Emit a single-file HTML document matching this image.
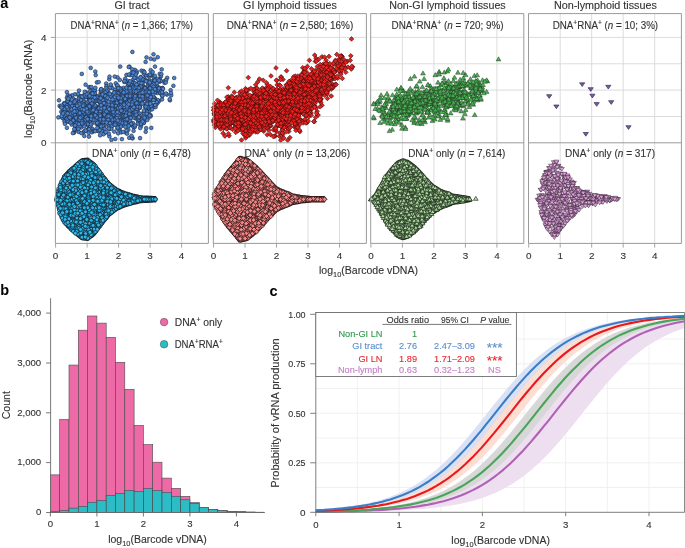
<!DOCTYPE html><html><head><meta charset="utf-8"><style>html,body{margin:0;padding:0;background:#fff;width:685px;height:548px;overflow:hidden}svg{display:block;will-change:transform}text{font-family:"Liberation Sans", sans-serif}.ca circle{r:1.85px}.cb circle{r:1.95px}</style></head><body><svg width="685" height="548" viewBox="0 0 685 548"><path d="M87.1 13.6V243.4M118.6 13.6V243.4M150.1 13.6V243.4M181.6 13.6V243.4M55.4 116.5H208.4M55.4 90.1H208.4M55.4 63.8H208.4M55.4 37.4H208.4" stroke="#d8d8d8" stroke-width="0.9" fill="none"/><path d="M245.0 13.6V243.4M276.5 13.6V243.4M308.0 13.6V243.4M339.5 13.6V243.4M213.3 116.5H366.4M213.3 90.1H366.4M213.3 63.8H366.4M213.3 37.4H366.4" stroke="#d8d8d8" stroke-width="0.9" fill="none"/><path d="M402.4 13.6V243.4M433.9 13.6V243.4M465.4 13.6V243.4M496.9 13.6V243.4M370.7 116.5H523.8M370.7 90.1H523.8M370.7 63.8H523.8M370.7 37.4H523.8" stroke="#d8d8d8" stroke-width="0.9" fill="none"/><path d="M560.2 13.6V243.4M591.7 13.6V243.4M623.2 13.6V243.4M654.7 13.6V243.4M528.5 116.5H681.4M528.5 90.1H681.4M528.5 63.8H681.4M528.5 37.4H681.4" stroke="#d8d8d8" stroke-width="0.9" fill="none"/><g class="ca" fill="#4b86d2" stroke="#1f2b44" stroke-width="0.65"><circle cx="80.2" cy="125.8" r="1.85"/><circle cx="113.6" cy="104.5" r="1.85"/><circle cx="122.5" cy="96.2" r="1.85"/><circle cx="66.9" cy="92.1" r="1.85"/><circle cx="82.2" cy="102.7" r="1.85"/><circle cx="152.3" cy="93.0" r="1.85"/><circle cx="73.3" cy="117.0" r="1.85"/><circle cx="80.3" cy="123.4" r="1.85"/><circle cx="155.3" cy="90.8" r="1.85"/><circle cx="124.3" cy="97.1" r="1.85"/><circle cx="102.4" cy="108.1" r="1.85"/><circle cx="114.7" cy="89.6" r="1.85"/><circle cx="127.8" cy="81.0" r="1.85"/><circle cx="94.3" cy="115.2" r="1.85"/><circle cx="81.2" cy="120.0" r="1.85"/><circle cx="138.6" cy="93.4" r="1.85"/><circle cx="128.5" cy="83.3" r="1.85"/><circle cx="114.8" cy="102.3" r="1.85"/><circle cx="141.1" cy="87.1" r="1.85"/><circle cx="118.0" cy="111.1" r="1.85"/><circle cx="162.5" cy="88.0" r="1.85"/><circle cx="87.9" cy="114.1" r="1.85"/><circle cx="118.4" cy="111.2" r="1.85"/><circle cx="112.3" cy="110.4" r="1.85"/><circle cx="101.0" cy="127.9" r="1.85"/><circle cx="121.6" cy="93.4" r="1.85"/><circle cx="90.7" cy="67.9" r="1.85"/><circle cx="139.9" cy="107.0" r="1.85"/><circle cx="145.6" cy="75.4" r="1.85"/><circle cx="80.2" cy="96.8" r="1.85"/><circle cx="110.9" cy="117.1" r="1.85"/><circle cx="94.4" cy="112.7" r="1.85"/><circle cx="74.9" cy="94.3" r="1.85"/><circle cx="148.5" cy="89.8" r="1.85"/><circle cx="107.6" cy="111.0" r="1.85"/><circle cx="82.2" cy="103.5" r="1.85"/><circle cx="128.7" cy="87.1" r="1.85"/><circle cx="87.7" cy="115.5" r="1.85"/><circle cx="149.1" cy="89.2" r="1.85"/><circle cx="89.1" cy="105.6" r="1.85"/><circle cx="67.7" cy="121.9" r="1.85"/><circle cx="87.5" cy="114.6" r="1.85"/><circle cx="100.4" cy="113.0" r="1.85"/><circle cx="111.0" cy="85.8" r="1.85"/><circle cx="149.6" cy="95.2" r="1.85"/><circle cx="130.8" cy="106.9" r="1.85"/><circle cx="99.8" cy="102.6" r="1.85"/><circle cx="64.4" cy="121.4" r="1.85"/><circle cx="83.5" cy="102.0" r="1.85"/><circle cx="171.2" cy="95.4" r="1.85"/><circle cx="110.2" cy="95.4" r="1.85"/><circle cx="130.2" cy="108.9" r="1.85"/><circle cx="71.1" cy="105.9" r="1.85"/><circle cx="67.8" cy="95.5" r="1.85"/><circle cx="143.7" cy="73.7" r="1.85"/><circle cx="121.3" cy="119.2" r="1.85"/><circle cx="97.1" cy="107.4" r="1.85"/><circle cx="97.9" cy="110.5" r="1.85"/><circle cx="75.6" cy="108.8" r="1.85"/><circle cx="84.8" cy="102.5" r="1.85"/><circle cx="66.1" cy="110.1" r="1.85"/><circle cx="143.1" cy="90.6" r="1.85"/><circle cx="110.8" cy="95.3" r="1.85"/><circle cx="80.0" cy="107.5" r="1.85"/><circle cx="134.4" cy="84.1" r="1.85"/><circle cx="87.0" cy="112.9" r="1.85"/><circle cx="72.2" cy="95.3" r="1.85"/><circle cx="122.2" cy="99.9" r="1.85"/><circle cx="148.4" cy="113.6" r="1.85"/><circle cx="66.5" cy="106.2" r="1.85"/><circle cx="140.1" cy="107.8" r="1.85"/><circle cx="86.5" cy="97.0" r="1.85"/><circle cx="76.1" cy="101.5" r="1.85"/><circle cx="64.6" cy="105.4" r="1.85"/><circle cx="95.8" cy="95.9" r="1.85"/><circle cx="133.4" cy="127.1" r="1.85"/><circle cx="113.1" cy="99.6" r="1.85"/><circle cx="144.3" cy="98.2" r="1.85"/><circle cx="89.1" cy="99.3" r="1.85"/><circle cx="97.7" cy="100.8" r="1.85"/><circle cx="92.8" cy="102.3" r="1.85"/><circle cx="161.7" cy="69.4" r="1.85"/><circle cx="154.2" cy="89.0" r="1.85"/><circle cx="99.9" cy="112.6" r="1.85"/><circle cx="108.2" cy="102.4" r="1.85"/><circle cx="97.6" cy="111.8" r="1.85"/><circle cx="135.1" cy="86.1" r="1.85"/><circle cx="68.9" cy="105.1" r="1.85"/><circle cx="72.9" cy="112.1" r="1.85"/><circle cx="105.4" cy="121.3" r="1.85"/><circle cx="91.6" cy="95.2" r="1.85"/><circle cx="143.6" cy="123.1" r="1.85"/><circle cx="134.6" cy="96.5" r="1.85"/><circle cx="117.7" cy="112.7" r="1.85"/><circle cx="127.7" cy="114.5" r="1.85"/><circle cx="130.4" cy="97.8" r="1.85"/><circle cx="138.0" cy="84.3" r="1.85"/><circle cx="152.2" cy="81.0" r="1.85"/><circle cx="82.4" cy="103.9" r="1.85"/><circle cx="124.6" cy="94.7" r="1.85"/><circle cx="81.8" cy="122.6" r="1.85"/><circle cx="108.8" cy="128.5" r="1.85"/><circle cx="138.5" cy="121.8" r="1.85"/><circle cx="148.3" cy="96.6" r="1.85"/><circle cx="136.2" cy="110.3" r="1.85"/><circle cx="68.1" cy="104.0" r="1.85"/><circle cx="101.5" cy="129.3" r="1.85"/><circle cx="83.8" cy="104.0" r="1.85"/><circle cx="174.2" cy="78.0" r="1.85"/><circle cx="81.8" cy="112.6" r="1.85"/><circle cx="91.5" cy="113.7" r="1.85"/><circle cx="101.3" cy="115.1" r="1.85"/><circle cx="72.0" cy="115.4" r="1.85"/><circle cx="145.9" cy="116.7" r="1.85"/><circle cx="125.5" cy="102.7" r="1.85"/><circle cx="83.5" cy="115.0" r="1.85"/><circle cx="113.6" cy="105.7" r="1.85"/><circle cx="74.4" cy="99.8" r="1.85"/><circle cx="123.3" cy="123.5" r="1.85"/><circle cx="90.4" cy="121.9" r="1.85"/><circle cx="68.6" cy="112.5" r="1.85"/><circle cx="78.7" cy="105.5" r="1.85"/><circle cx="118.5" cy="108.3" r="1.85"/><circle cx="125.6" cy="117.0" r="1.85"/><circle cx="98.5" cy="124.7" r="1.85"/><circle cx="126.1" cy="116.8" r="1.85"/><circle cx="100.9" cy="128.8" r="1.85"/><circle cx="80.4" cy="96.7" r="1.85"/><circle cx="97.7" cy="107.3" r="1.85"/><circle cx="104.6" cy="118.0" r="1.85"/><circle cx="150.4" cy="97.1" r="1.85"/><circle cx="78.7" cy="131.9" r="1.85"/><circle cx="75.3" cy="125.9" r="1.85"/><circle cx="119.0" cy="114.7" r="1.85"/><circle cx="158.1" cy="102.0" r="1.85"/><circle cx="149.7" cy="84.0" r="1.85"/><circle cx="131.0" cy="82.9" r="1.85"/><circle cx="72.8" cy="121.7" r="1.85"/><circle cx="140.2" cy="117.3" r="1.85"/><circle cx="129.6" cy="97.7" r="1.85"/><circle cx="81.8" cy="73.9" r="1.85"/><circle cx="110.7" cy="121.3" r="1.85"/><circle cx="70.3" cy="106.9" r="1.85"/><circle cx="139.8" cy="104.5" r="1.85"/><circle cx="132.6" cy="82.3" r="1.85"/><circle cx="140.1" cy="105.7" r="1.85"/><circle cx="136.3" cy="102.9" r="1.85"/><circle cx="93.6" cy="117.6" r="1.85"/><circle cx="138.8" cy="91.5" r="1.85"/><circle cx="92.0" cy="110.3" r="1.85"/><circle cx="81.2" cy="108.5" r="1.85"/><circle cx="104.2" cy="102.9" r="1.85"/><circle cx="113.5" cy="120.7" r="1.85"/><circle cx="95.2" cy="91.0" r="1.85"/><circle cx="122.9" cy="100.0" r="1.85"/><circle cx="122.6" cy="104.8" r="1.85"/><circle cx="91.1" cy="112.0" r="1.85"/><circle cx="124.3" cy="81.9" r="1.85"/><circle cx="101.3" cy="113.0" r="1.85"/><circle cx="134.0" cy="112.6" r="1.85"/><circle cx="95.6" cy="100.3" r="1.85"/><circle cx="139.6" cy="103.2" r="1.85"/><circle cx="106.4" cy="105.8" r="1.85"/><circle cx="118.3" cy="127.4" r="1.85"/><circle cx="128.7" cy="92.3" r="1.85"/><circle cx="115.3" cy="112.3" r="1.85"/><circle cx="92.7" cy="112.2" r="1.85"/><circle cx="162.0" cy="99.4" r="1.85"/><circle cx="76.5" cy="114.8" r="1.85"/><circle cx="98.5" cy="123.2" r="1.85"/><circle cx="118.0" cy="88.0" r="1.85"/><circle cx="66.9" cy="97.8" r="1.85"/><circle cx="83.0" cy="117.1" r="1.85"/><circle cx="139.6" cy="84.4" r="1.85"/><circle cx="138.3" cy="84.5" r="1.85"/><circle cx="125.6" cy="100.5" r="1.85"/><circle cx="149.1" cy="80.9" r="1.85"/><circle cx="135.8" cy="118.6" r="1.85"/><circle cx="96.3" cy="115.8" r="1.85"/><circle cx="126.3" cy="133.0" r="1.85"/><circle cx="99.9" cy="114.9" r="1.85"/><circle cx="135.3" cy="74.3" r="1.85"/><circle cx="103.7" cy="114.0" r="1.85"/><circle cx="82.8" cy="113.4" r="1.85"/><circle cx="146.5" cy="57.4" r="1.85"/><circle cx="130.2" cy="118.7" r="1.85"/><circle cx="134.9" cy="69.9" r="1.85"/><circle cx="118.9" cy="120.5" r="1.85"/><circle cx="138.2" cy="99.9" r="1.85"/><circle cx="109.2" cy="129.2" r="1.85"/><circle cx="119.4" cy="107.5" r="1.85"/><circle cx="72.3" cy="106.9" r="1.85"/><circle cx="118.5" cy="113.1" r="1.85"/><circle cx="140.9" cy="95.9" r="1.85"/><circle cx="131.5" cy="94.6" r="1.85"/><circle cx="140.0" cy="94.2" r="1.85"/><circle cx="113.4" cy="117.3" r="1.85"/><circle cx="146.9" cy="111.3" r="1.85"/><circle cx="77.9" cy="105.9" r="1.85"/><circle cx="146.4" cy="80.9" r="1.85"/><circle cx="102.6" cy="114.0" r="1.85"/><circle cx="75.9" cy="100.4" r="1.85"/><circle cx="124.0" cy="124.9" r="1.85"/><circle cx="109.8" cy="103.3" r="1.85"/><circle cx="107.5" cy="95.4" r="1.85"/><circle cx="144.2" cy="78.5" r="1.85"/><circle cx="81.2" cy="127.5" r="1.85"/><circle cx="123.8" cy="110.6" r="1.85"/><circle cx="106.2" cy="83.5" r="1.85"/><circle cx="116.2" cy="102.4" r="1.85"/><circle cx="113.7" cy="110.0" r="1.85"/><circle cx="80.8" cy="104.1" r="1.85"/><circle cx="114.7" cy="110.5" r="1.85"/><circle cx="145.1" cy="105.7" r="1.85"/><circle cx="84.6" cy="108.4" r="1.85"/><circle cx="63.0" cy="109.9" r="1.85"/><circle cx="72.9" cy="111.6" r="1.85"/><circle cx="110.2" cy="104.3" r="1.85"/><circle cx="160.6" cy="93.6" r="1.85"/><circle cx="69.5" cy="117.1" r="1.85"/><circle cx="166.9" cy="94.6" r="1.85"/><circle cx="116.8" cy="104.8" r="1.85"/><circle cx="79.2" cy="119.6" r="1.85"/><circle cx="106.7" cy="105.1" r="1.85"/><circle cx="88.2" cy="129.4" r="1.85"/><circle cx="132.2" cy="69.3" r="1.85"/><circle cx="117.3" cy="112.6" r="1.85"/><circle cx="95.3" cy="109.0" r="1.85"/><circle cx="92.5" cy="115.2" r="1.85"/><circle cx="145.5" cy="99.4" r="1.85"/><circle cx="136.8" cy="71.5" r="1.85"/><circle cx="108.2" cy="123.3" r="1.85"/><circle cx="105.5" cy="95.4" r="1.85"/><circle cx="134.3" cy="94.2" r="1.85"/><circle cx="159.7" cy="73.8" r="1.85"/><circle cx="74.5" cy="102.7" r="1.85"/><circle cx="83.4" cy="100.0" r="1.85"/><circle cx="101.8" cy="110.5" r="1.85"/><circle cx="114.4" cy="109.6" r="1.85"/><circle cx="73.4" cy="117.3" r="1.85"/><circle cx="71.0" cy="108.4" r="1.85"/><circle cx="89.3" cy="110.4" r="1.85"/><circle cx="103.8" cy="106.9" r="1.85"/><circle cx="134.4" cy="99.2" r="1.85"/><circle cx="123.2" cy="108.0" r="1.85"/><circle cx="67.0" cy="113.3" r="1.85"/><circle cx="69.7" cy="95.8" r="1.85"/><circle cx="109.6" cy="112.7" r="1.85"/><circle cx="146.3" cy="116.2" r="1.85"/><circle cx="150.6" cy="115.2" r="1.85"/><circle cx="102.0" cy="121.8" r="1.85"/><circle cx="147.6" cy="91.8" r="1.85"/><circle cx="152.5" cy="91.0" r="1.85"/><circle cx="105.6" cy="110.9" r="1.85"/><circle cx="135.0" cy="85.9" r="1.85"/><circle cx="102.0" cy="97.2" r="1.85"/><circle cx="82.8" cy="102.0" r="1.85"/><circle cx="120.2" cy="104.1" r="1.85"/><circle cx="75.3" cy="119.4" r="1.85"/><circle cx="127.9" cy="85.2" r="1.85"/><circle cx="140.5" cy="103.1" r="1.85"/><circle cx="150.7" cy="70.2" r="1.85"/><circle cx="109.2" cy="113.9" r="1.85"/><circle cx="78.9" cy="116.7" r="1.85"/><circle cx="149.2" cy="86.3" r="1.85"/><circle cx="145.9" cy="96.1" r="1.85"/><circle cx="159.0" cy="101.0" r="1.85"/><circle cx="121.8" cy="93.5" r="1.85"/><circle cx="128.7" cy="122.5" r="1.85"/><circle cx="102.7" cy="108.0" r="1.85"/><circle cx="85.8" cy="114.9" r="1.85"/><circle cx="95.7" cy="119.2" r="1.85"/><circle cx="132.8" cy="97.9" r="1.85"/><circle cx="98.6" cy="111.6" r="1.85"/><circle cx="130.3" cy="102.6" r="1.85"/><circle cx="113.9" cy="103.3" r="1.85"/><circle cx="109.3" cy="79.2" r="1.85"/><circle cx="159.0" cy="87.5" r="1.85"/><circle cx="84.1" cy="96.4" r="1.85"/><circle cx="112.6" cy="94.9" r="1.85"/><circle cx="83.5" cy="101.8" r="1.85"/><circle cx="153.6" cy="88.8" r="1.85"/><circle cx="112.7" cy="119.5" r="1.85"/><circle cx="99.2" cy="126.4" r="1.85"/><circle cx="84.3" cy="136.0" r="1.85"/><circle cx="121.9" cy="93.6" r="1.85"/><circle cx="105.0" cy="132.8" r="1.85"/><circle cx="80.0" cy="105.9" r="1.85"/><circle cx="67.5" cy="102.2" r="1.85"/><circle cx="104.3" cy="110.4" r="1.85"/><circle cx="120.9" cy="120.0" r="1.85"/><circle cx="115.3" cy="99.9" r="1.85"/><circle cx="148.9" cy="99.1" r="1.85"/><circle cx="150.2" cy="101.1" r="1.85"/><circle cx="153.5" cy="54.3" r="1.85"/><circle cx="139.7" cy="84.6" r="1.85"/><circle cx="111.8" cy="122.1" r="1.85"/><circle cx="115.8" cy="99.4" r="1.85"/><circle cx="104.8" cy="96.5" r="1.85"/><circle cx="105.0" cy="122.0" r="1.85"/><circle cx="69.1" cy="109.8" r="1.85"/><circle cx="139.6" cy="96.3" r="1.85"/><circle cx="91.7" cy="98.1" r="1.85"/><circle cx="67.0" cy="103.0" r="1.85"/><circle cx="110.8" cy="112.5" r="1.85"/><circle cx="132.6" cy="138.3" r="1.85"/><circle cx="108.2" cy="105.3" r="1.85"/><circle cx="101.9" cy="110.9" r="1.85"/><circle cx="127.4" cy="116.1" r="1.85"/><circle cx="83.8" cy="108.0" r="1.85"/><circle cx="62.9" cy="114.4" r="1.85"/><circle cx="121.7" cy="108.3" r="1.85"/><circle cx="116.3" cy="106.6" r="1.85"/><circle cx="145.4" cy="89.6" r="1.85"/><circle cx="106.4" cy="86.3" r="1.85"/><circle cx="138.5" cy="121.3" r="1.85"/><circle cx="64.6" cy="109.3" r="1.85"/><circle cx="66.6" cy="118.5" r="1.85"/><circle cx="122.2" cy="118.9" r="1.85"/><circle cx="89.9" cy="99.6" r="1.85"/><circle cx="72.9" cy="106.1" r="1.85"/><circle cx="80.1" cy="104.5" r="1.85"/><circle cx="102.9" cy="125.4" r="1.85"/><circle cx="99.6" cy="101.9" r="1.85"/><circle cx="119.2" cy="124.0" r="1.85"/><circle cx="147.6" cy="89.9" r="1.85"/><circle cx="102.1" cy="125.4" r="1.85"/><circle cx="85.9" cy="130.7" r="1.85"/><circle cx="120.5" cy="103.5" r="1.85"/><circle cx="59.6" cy="105.9" r="1.85"/><circle cx="103.7" cy="107.9" r="1.85"/><circle cx="97.9" cy="123.3" r="1.85"/><circle cx="104.0" cy="117.6" r="1.85"/><circle cx="70.6" cy="114.6" r="1.85"/><circle cx="118.4" cy="117.5" r="1.85"/><circle cx="124.5" cy="113.8" r="1.85"/><circle cx="135.3" cy="100.7" r="1.85"/><circle cx="156.9" cy="86.3" r="1.85"/><circle cx="101.1" cy="112.6" r="1.85"/><circle cx="127.2" cy="97.9" r="1.85"/><circle cx="108.7" cy="122.0" r="1.85"/><circle cx="88.9" cy="87.1" r="1.85"/><circle cx="147.7" cy="86.1" r="1.85"/><circle cx="135.0" cy="114.7" r="1.85"/><circle cx="154.5" cy="97.8" r="1.85"/><circle cx="141.5" cy="70.7" r="1.85"/><circle cx="150.9" cy="90.1" r="1.85"/><circle cx="80.1" cy="124.4" r="1.85"/><circle cx="64.1" cy="103.1" r="1.85"/><circle cx="87.3" cy="111.3" r="1.85"/><circle cx="106.1" cy="105.5" r="1.85"/><circle cx="130.0" cy="75.2" r="1.85"/><circle cx="108.4" cy="109.7" r="1.85"/><circle cx="114.9" cy="113.8" r="1.85"/><circle cx="136.3" cy="103.1" r="1.85"/><circle cx="73.3" cy="112.1" r="1.85"/><circle cx="129.1" cy="96.2" r="1.85"/><circle cx="70.2" cy="107.5" r="1.85"/><circle cx="91.9" cy="109.4" r="1.85"/><circle cx="133.0" cy="123.1" r="1.85"/><circle cx="129.6" cy="108.7" r="1.85"/><circle cx="105.5" cy="119.7" r="1.85"/><circle cx="95.9" cy="106.2" r="1.85"/><circle cx="142.1" cy="100.7" r="1.85"/><circle cx="94.2" cy="113.6" r="1.85"/><circle cx="67.3" cy="118.2" r="1.85"/><circle cx="91.8" cy="110.6" r="1.85"/><circle cx="65.4" cy="104.9" r="1.85"/><circle cx="140.6" cy="77.1" r="1.85"/><circle cx="79.5" cy="112.9" r="1.85"/><circle cx="160.5" cy="81.2" r="1.85"/><circle cx="88.7" cy="126.3" r="1.85"/><circle cx="96.9" cy="97.6" r="1.85"/><circle cx="121.1" cy="117.7" r="1.85"/><circle cx="97.1" cy="111.8" r="1.85"/><circle cx="103.3" cy="124.9" r="1.85"/><circle cx="77.4" cy="116.6" r="1.85"/><circle cx="104.1" cy="105.6" r="1.85"/><circle cx="66.2" cy="115.8" r="1.85"/><circle cx="89.7" cy="127.4" r="1.85"/><circle cx="150.0" cy="87.3" r="1.85"/><circle cx="94.7" cy="112.0" r="1.85"/><circle cx="93.9" cy="105.2" r="1.85"/><circle cx="129.2" cy="82.9" r="1.85"/><circle cx="147.1" cy="103.0" r="1.85"/><circle cx="96.0" cy="98.3" r="1.85"/><circle cx="103.0" cy="128.4" r="1.85"/><circle cx="132.3" cy="91.7" r="1.85"/><circle cx="139.0" cy="95.3" r="1.85"/><circle cx="123.6" cy="87.8" r="1.85"/><circle cx="85.4" cy="105.9" r="1.85"/><circle cx="85.6" cy="96.8" r="1.85"/><circle cx="136.0" cy="97.0" r="1.85"/><circle cx="131.6" cy="109.1" r="1.85"/><circle cx="148.5" cy="83.8" r="1.85"/><circle cx="137.9" cy="123.7" r="1.85"/><circle cx="106.9" cy="103.0" r="1.85"/><circle cx="80.7" cy="109.2" r="1.85"/><circle cx="147.9" cy="104.0" r="1.85"/><circle cx="130.6" cy="94.2" r="1.85"/><circle cx="120.3" cy="114.1" r="1.85"/><circle cx="129.5" cy="116.7" r="1.85"/><circle cx="103.8" cy="111.4" r="1.85"/><circle cx="100.1" cy="100.7" r="1.85"/><circle cx="120.2" cy="106.4" r="1.85"/><circle cx="112.2" cy="117.1" r="1.85"/><circle cx="131.8" cy="96.0" r="1.85"/><circle cx="153.4" cy="98.5" r="1.85"/><circle cx="143.8" cy="81.1" r="1.85"/><circle cx="104.0" cy="108.5" r="1.85"/><circle cx="102.7" cy="112.7" r="1.85"/><circle cx="152.2" cy="85.3" r="1.85"/><circle cx="104.6" cy="128.6" r="1.85"/><circle cx="139.7" cy="93.0" r="1.85"/><circle cx="76.1" cy="129.2" r="1.85"/><circle cx="109.5" cy="76.7" r="1.85"/><circle cx="115.1" cy="99.5" r="1.85"/><circle cx="140.4" cy="87.6" r="1.85"/><circle cx="146.6" cy="89.4" r="1.85"/><circle cx="82.7" cy="115.1" r="1.85"/><circle cx="123.9" cy="109.6" r="1.85"/><circle cx="124.9" cy="99.9" r="1.85"/><circle cx="82.6" cy="106.3" r="1.85"/><circle cx="142.6" cy="83.1" r="1.85"/><circle cx="118.3" cy="86.9" r="1.85"/><circle cx="157.8" cy="100.1" r="1.85"/><circle cx="86.1" cy="109.0" r="1.85"/><circle cx="115.9" cy="102.4" r="1.85"/><circle cx="98.4" cy="120.1" r="1.85"/><circle cx="126.0" cy="122.2" r="1.85"/><circle cx="123.1" cy="103.4" r="1.85"/><circle cx="114.8" cy="106.4" r="1.85"/><circle cx="98.5" cy="111.9" r="1.85"/><circle cx="114.0" cy="114.6" r="1.85"/><circle cx="102.6" cy="90.2" r="1.85"/><circle cx="147.9" cy="93.9" r="1.85"/><circle cx="110.4" cy="87.7" r="1.85"/><circle cx="111.6" cy="97.4" r="1.85"/><circle cx="92.8" cy="91.0" r="1.85"/><circle cx="92.4" cy="109.8" r="1.85"/><circle cx="156.3" cy="88.8" r="1.85"/><circle cx="97.6" cy="111.4" r="1.85"/><circle cx="145.7" cy="131.8" r="1.85"/><circle cx="121.9" cy="139.1" r="1.85"/><circle cx="162.3" cy="96.1" r="1.85"/><circle cx="83.9" cy="95.3" r="1.85"/><circle cx="154.3" cy="80.6" r="1.85"/><circle cx="137.3" cy="100.0" r="1.85"/><circle cx="119.6" cy="129.6" r="1.85"/><circle cx="131.8" cy="116.0" r="1.85"/><circle cx="133.0" cy="101.9" r="1.85"/><circle cx="109.2" cy="113.5" r="1.85"/><circle cx="125.4" cy="89.6" r="1.85"/><circle cx="90.1" cy="91.1" r="1.85"/><circle cx="65.4" cy="103.9" r="1.85"/><circle cx="129.0" cy="87.2" r="1.85"/><circle cx="111.5" cy="109.4" r="1.85"/><circle cx="149.5" cy="110.8" r="1.85"/><circle cx="93.3" cy="105.0" r="1.85"/><circle cx="141.2" cy="94.0" r="1.85"/><circle cx="164.5" cy="82.8" r="1.85"/><circle cx="148.7" cy="90.8" r="1.85"/><circle cx="158.3" cy="88.1" r="1.85"/><circle cx="83.4" cy="113.9" r="1.85"/><circle cx="84.0" cy="116.9" r="1.85"/><circle cx="90.1" cy="105.8" r="1.85"/><circle cx="101.7" cy="115.1" r="1.85"/><circle cx="78.7" cy="95.9" r="1.85"/><circle cx="82.5" cy="111.6" r="1.85"/><circle cx="64.7" cy="103.6" r="1.85"/><circle cx="153.0" cy="107.1" r="1.85"/><circle cx="101.7" cy="131.0" r="1.85"/><circle cx="124.6" cy="104.7" r="1.85"/><circle cx="109.8" cy="103.5" r="1.85"/><circle cx="134.8" cy="126.9" r="1.85"/><circle cx="140.2" cy="121.1" r="1.85"/><circle cx="103.6" cy="112.5" r="1.85"/><circle cx="116.8" cy="101.7" r="1.85"/><circle cx="76.6" cy="103.5" r="1.85"/><circle cx="95.1" cy="110.5" r="1.85"/><circle cx="89.6" cy="105.5" r="1.85"/><circle cx="97.1" cy="96.0" r="1.85"/><circle cx="98.5" cy="100.2" r="1.85"/><circle cx="120.2" cy="126.3" r="1.85"/><circle cx="99.2" cy="106.5" r="1.85"/><circle cx="98.7" cy="123.7" r="1.85"/><circle cx="142.4" cy="120.6" r="1.85"/><circle cx="63.2" cy="118.2" r="1.85"/><circle cx="61.0" cy="106.9" r="1.85"/><circle cx="71.5" cy="115.9" r="1.85"/><circle cx="145.4" cy="107.8" r="1.85"/><circle cx="125.3" cy="97.7" r="1.85"/><circle cx="133.4" cy="103.4" r="1.85"/><circle cx="157.0" cy="103.7" r="1.85"/><circle cx="89.1" cy="100.0" r="1.85"/><circle cx="151.3" cy="127.9" r="1.85"/><circle cx="91.4" cy="93.2" r="1.85"/><circle cx="115.3" cy="139.0" r="1.85"/><circle cx="129.4" cy="103.6" r="1.85"/><circle cx="139.4" cy="99.7" r="1.85"/><circle cx="91.9" cy="119.1" r="1.85"/><circle cx="111.7" cy="108.6" r="1.85"/><circle cx="69.8" cy="97.2" r="1.85"/><circle cx="95.3" cy="71.5" r="1.85"/><circle cx="162.5" cy="93.2" r="1.85"/><circle cx="149.5" cy="93.4" r="1.85"/><circle cx="120.8" cy="120.6" r="1.85"/><circle cx="138.5" cy="117.1" r="1.85"/><circle cx="149.1" cy="108.9" r="1.85"/><circle cx="99.1" cy="107.4" r="1.85"/><circle cx="162.3" cy="95.6" r="1.85"/><circle cx="109.3" cy="136.3" r="1.85"/><circle cx="83.4" cy="119.1" r="1.85"/><circle cx="116.3" cy="108.9" r="1.85"/><circle cx="121.8" cy="108.0" r="1.85"/><circle cx="130.4" cy="83.4" r="1.85"/><circle cx="128.5" cy="105.4" r="1.85"/><circle cx="69.1" cy="106.0" r="1.85"/><circle cx="125.7" cy="104.3" r="1.85"/><circle cx="151.5" cy="86.5" r="1.85"/><circle cx="128.4" cy="102.2" r="1.85"/><circle cx="160.8" cy="76.5" r="1.85"/><circle cx="114.7" cy="120.2" r="1.85"/><circle cx="140.6" cy="117.4" r="1.85"/><circle cx="81.4" cy="119.9" r="1.85"/><circle cx="148.4" cy="107.8" r="1.85"/><circle cx="108.2" cy="91.6" r="1.85"/><circle cx="146.5" cy="105.9" r="1.85"/><circle cx="98.2" cy="119.7" r="1.85"/><circle cx="124.5" cy="102.4" r="1.85"/><circle cx="143.7" cy="93.4" r="1.85"/><circle cx="132.0" cy="83.0" r="1.85"/><circle cx="124.1" cy="112.7" r="1.85"/><circle cx="159.7" cy="79.2" r="1.85"/><circle cx="75.5" cy="105.8" r="1.85"/><circle cx="77.2" cy="103.8" r="1.85"/><circle cx="118.2" cy="110.8" r="1.85"/><circle cx="156.4" cy="83.4" r="1.85"/><circle cx="129.9" cy="104.4" r="1.85"/><circle cx="97.2" cy="98.8" r="1.85"/><circle cx="77.8" cy="119.8" r="1.85"/><circle cx="109.2" cy="119.6" r="1.85"/><circle cx="112.0" cy="113.2" r="1.85"/><circle cx="111.0" cy="124.4" r="1.85"/><circle cx="124.0" cy="111.1" r="1.85"/><circle cx="94.0" cy="95.0" r="1.85"/><circle cx="146.8" cy="89.6" r="1.85"/><circle cx="95.4" cy="119.8" r="1.85"/><circle cx="77.7" cy="115.8" r="1.85"/><circle cx="100.6" cy="93.2" r="1.85"/><circle cx="153.4" cy="105.2" r="1.85"/><circle cx="83.4" cy="132.3" r="1.85"/><circle cx="94.5" cy="94.9" r="1.85"/><circle cx="152.1" cy="109.3" r="1.85"/><circle cx="100.6" cy="95.3" r="1.85"/><circle cx="143.4" cy="86.2" r="1.85"/><circle cx="69.7" cy="101.8" r="1.85"/><circle cx="147.7" cy="118.4" r="1.85"/><circle cx="90.9" cy="94.4" r="1.85"/><circle cx="85.6" cy="104.3" r="1.85"/><circle cx="134.7" cy="102.7" r="1.85"/><circle cx="166.0" cy="93.5" r="1.85"/><circle cx="157.3" cy="93.0" r="1.85"/><circle cx="135.6" cy="95.9" r="1.85"/><circle cx="150.6" cy="116.4" r="1.85"/><circle cx="164.8" cy="80.9" r="1.85"/><circle cx="118.3" cy="104.3" r="1.85"/><circle cx="81.9" cy="103.3" r="1.85"/><circle cx="144.0" cy="98.3" r="1.85"/><circle cx="104.7" cy="125.0" r="1.85"/><circle cx="97.5" cy="98.1" r="1.85"/><circle cx="113.8" cy="108.8" r="1.85"/><circle cx="68.0" cy="99.5" r="1.85"/><circle cx="64.8" cy="116.9" r="1.85"/><circle cx="93.3" cy="109.1" r="1.85"/><circle cx="122.0" cy="91.4" r="1.85"/><circle cx="135.3" cy="90.9" r="1.85"/><circle cx="156.9" cy="91.0" r="1.85"/><circle cx="141.3" cy="92.1" r="1.85"/><circle cx="154.2" cy="59.5" r="1.85"/><circle cx="125.5" cy="81.8" r="1.85"/><circle cx="134.0" cy="99.1" r="1.85"/><circle cx="121.3" cy="95.4" r="1.85"/><circle cx="74.7" cy="123.5" r="1.85"/><circle cx="72.2" cy="109.5" r="1.85"/><circle cx="136.2" cy="106.4" r="1.85"/><circle cx="87.7" cy="116.5" r="1.85"/><circle cx="138.8" cy="88.9" r="1.85"/><circle cx="110.6" cy="103.7" r="1.85"/><circle cx="61.6" cy="105.5" r="1.85"/><circle cx="119.0" cy="104.9" r="1.85"/><circle cx="108.8" cy="105.2" r="1.85"/><circle cx="73.8" cy="102.6" r="1.85"/><circle cx="93.0" cy="119.5" r="1.85"/><circle cx="97.0" cy="121.7" r="1.85"/><circle cx="100.3" cy="121.2" r="1.85"/><circle cx="131.6" cy="72.8" r="1.85"/><circle cx="84.2" cy="113.5" r="1.85"/><circle cx="108.8" cy="133.7" r="1.85"/><circle cx="123.0" cy="93.7" r="1.85"/><circle cx="155.0" cy="66.6" r="1.85"/><circle cx="78.7" cy="106.0" r="1.85"/><circle cx="74.4" cy="131.7" r="1.85"/><circle cx="86.7" cy="118.7" r="1.85"/><circle cx="89.4" cy="110.7" r="1.85"/><circle cx="83.8" cy="119.0" r="1.85"/><circle cx="74.0" cy="132.7" r="1.85"/><circle cx="88.4" cy="105.1" r="1.85"/><circle cx="89.6" cy="118.3" r="1.85"/><circle cx="111.9" cy="111.6" r="1.85"/><circle cx="126.5" cy="74.9" r="1.85"/><circle cx="101.9" cy="95.8" r="1.85"/><circle cx="84.3" cy="108.0" r="1.85"/><circle cx="76.3" cy="122.1" r="1.85"/><circle cx="93.2" cy="96.9" r="1.85"/><circle cx="84.6" cy="95.4" r="1.85"/><circle cx="112.1" cy="106.0" r="1.85"/><circle cx="145.9" cy="94.1" r="1.85"/><circle cx="132.4" cy="51.9" r="1.85"/><circle cx="87.8" cy="115.8" r="1.85"/><circle cx="68.2" cy="113.5" r="1.85"/><circle cx="72.9" cy="98.8" r="1.85"/><circle cx="108.1" cy="103.6" r="1.85"/><circle cx="101.9" cy="107.5" r="1.85"/><circle cx="129.5" cy="125.1" r="1.85"/><circle cx="75.0" cy="117.8" r="1.85"/><circle cx="92.4" cy="123.0" r="1.85"/><circle cx="129.8" cy="108.7" r="1.85"/><circle cx="119.6" cy="94.2" r="1.85"/><circle cx="115.2" cy="111.7" r="1.85"/><circle cx="149.1" cy="92.5" r="1.85"/><circle cx="78.5" cy="115.1" r="1.85"/><circle cx="87.0" cy="102.6" r="1.85"/><circle cx="119.4" cy="112.5" r="1.85"/><circle cx="119.4" cy="101.7" r="1.85"/><circle cx="162.2" cy="88.2" r="1.85"/><circle cx="161.4" cy="74.2" r="1.85"/><circle cx="121.3" cy="93.7" r="1.85"/><circle cx="136.1" cy="77.9" r="1.85"/><circle cx="130.8" cy="114.2" r="1.85"/><circle cx="80.6" cy="113.7" r="1.85"/><circle cx="122.6" cy="100.3" r="1.85"/><circle cx="96.9" cy="117.4" r="1.85"/><circle cx="101.5" cy="105.5" r="1.85"/><circle cx="83.1" cy="122.1" r="1.85"/><circle cx="62.0" cy="117.6" r="1.85"/><circle cx="144.3" cy="121.5" r="1.85"/><circle cx="132.5" cy="105.0" r="1.85"/><circle cx="135.5" cy="107.7" r="1.85"/><circle cx="95.4" cy="112.5" r="1.85"/><circle cx="106.6" cy="115.3" r="1.85"/><circle cx="85.1" cy="107.1" r="1.85"/><circle cx="122.6" cy="121.4" r="1.85"/><circle cx="143.1" cy="79.5" r="1.85"/><circle cx="137.8" cy="111.3" r="1.85"/><circle cx="153.1" cy="75.9" r="1.85"/><circle cx="93.0" cy="96.6" r="1.85"/><circle cx="131.1" cy="124.6" r="1.85"/><circle cx="80.0" cy="115.6" r="1.85"/><circle cx="116.9" cy="85.7" r="1.85"/><circle cx="78.1" cy="114.3" r="1.85"/><circle cx="117.2" cy="121.3" r="1.85"/><circle cx="117.4" cy="128.6" r="1.85"/><circle cx="100.5" cy="100.9" r="1.85"/><circle cx="100.7" cy="90.5" r="1.85"/><circle cx="132.0" cy="85.3" r="1.85"/><circle cx="112.1" cy="88.1" r="1.85"/><circle cx="105.7" cy="105.4" r="1.85"/><circle cx="78.4" cy="122.2" r="1.85"/><circle cx="94.9" cy="116.8" r="1.85"/><circle cx="143.8" cy="122.8" r="1.85"/><circle cx="160.0" cy="90.6" r="1.85"/><circle cx="102.7" cy="122.2" r="1.85"/><circle cx="145.9" cy="103.7" r="1.85"/><circle cx="146.2" cy="128.2" r="1.85"/><circle cx="89.2" cy="107.6" r="1.85"/><circle cx="94.1" cy="104.3" r="1.85"/><circle cx="130.7" cy="93.5" r="1.85"/><circle cx="96.9" cy="82.4" r="1.85"/><circle cx="156.5" cy="101.9" r="1.85"/><circle cx="102.0" cy="110.8" r="1.85"/><circle cx="133.6" cy="130.8" r="1.85"/><circle cx="131.7" cy="115.1" r="1.85"/><circle cx="88.7" cy="132.8" r="1.85"/><circle cx="145.5" cy="114.4" r="1.85"/><circle cx="98.9" cy="128.9" r="1.85"/><circle cx="78.1" cy="103.2" r="1.85"/><circle cx="70.5" cy="118.6" r="1.85"/><circle cx="109.5" cy="119.9" r="1.85"/><circle cx="125.2" cy="78.7" r="1.85"/><circle cx="93.9" cy="103.4" r="1.85"/><circle cx="143.3" cy="112.8" r="1.85"/><circle cx="93.6" cy="109.7" r="1.85"/><circle cx="143.8" cy="87.3" r="1.85"/><circle cx="67.7" cy="120.9" r="1.85"/><circle cx="93.2" cy="95.5" r="1.85"/><circle cx="83.4" cy="119.3" r="1.85"/><circle cx="109.2" cy="95.6" r="1.85"/><circle cx="100.8" cy="128.4" r="1.85"/><circle cx="104.6" cy="102.6" r="1.85"/><circle cx="144.1" cy="115.0" r="1.85"/><circle cx="120.6" cy="88.5" r="1.85"/><circle cx="122.8" cy="114.0" r="1.85"/><circle cx="104.2" cy="116.5" r="1.85"/><circle cx="140.4" cy="91.3" r="1.85"/><circle cx="113.9" cy="114.7" r="1.85"/><circle cx="135.0" cy="125.5" r="1.85"/><circle cx="150.5" cy="102.0" r="1.85"/><circle cx="123.4" cy="112.0" r="1.85"/><circle cx="108.1" cy="104.1" r="1.85"/><circle cx="93.2" cy="110.0" r="1.85"/><circle cx="150.3" cy="106.4" r="1.85"/><circle cx="136.6" cy="86.7" r="1.85"/><circle cx="139.6" cy="85.9" r="1.85"/><circle cx="89.5" cy="111.4" r="1.85"/><circle cx="108.2" cy="114.6" r="1.85"/><circle cx="147.2" cy="120.0" r="1.85"/><circle cx="91.7" cy="114.0" r="1.85"/><circle cx="140.9" cy="126.3" r="1.85"/><circle cx="117.1" cy="92.4" r="1.85"/><circle cx="89.2" cy="119.3" r="1.85"/><circle cx="102.9" cy="125.8" r="1.85"/><circle cx="74.1" cy="112.7" r="1.85"/><circle cx="128.7" cy="115.7" r="1.85"/><circle cx="133.4" cy="79.1" r="1.85"/><circle cx="66.9" cy="119.0" r="1.85"/><circle cx="96.5" cy="100.7" r="1.85"/><circle cx="137.0" cy="111.6" r="1.85"/><circle cx="87.5" cy="120.2" r="1.85"/><circle cx="116.9" cy="115.3" r="1.85"/><circle cx="140.2" cy="128.0" r="1.85"/><circle cx="119.8" cy="79.9" r="1.85"/><circle cx="79.5" cy="101.7" r="1.85"/><circle cx="149.9" cy="102.9" r="1.85"/><circle cx="135.1" cy="109.5" r="1.85"/><circle cx="119.3" cy="127.8" r="1.85"/><circle cx="99.2" cy="112.0" r="1.85"/><circle cx="120.8" cy="116.7" r="1.85"/><circle cx="104.3" cy="114.4" r="1.85"/><circle cx="79.1" cy="110.1" r="1.85"/><circle cx="79.5" cy="98.5" r="1.85"/><circle cx="69.7" cy="104.6" r="1.85"/><circle cx="84.5" cy="104.9" r="1.85"/><circle cx="91.7" cy="111.5" r="1.85"/><circle cx="125.4" cy="106.9" r="1.85"/><circle cx="120.6" cy="123.6" r="1.85"/><circle cx="121.5" cy="101.4" r="1.85"/><circle cx="141.6" cy="101.1" r="1.85"/><circle cx="76.4" cy="117.3" r="1.85"/><circle cx="104.1" cy="112.0" r="1.85"/><circle cx="74.4" cy="118.9" r="1.85"/><circle cx="106.7" cy="114.0" r="1.85"/><circle cx="74.4" cy="120.3" r="1.85"/><circle cx="72.8" cy="113.4" r="1.85"/><circle cx="77.4" cy="104.0" r="1.85"/><circle cx="104.2" cy="101.8" r="1.85"/><circle cx="136.5" cy="73.2" r="1.85"/><circle cx="94.8" cy="95.0" r="1.85"/><circle cx="134.6" cy="112.6" r="1.85"/><circle cx="90.6" cy="109.5" r="1.85"/><circle cx="95.3" cy="97.3" r="1.85"/><circle cx="111.2" cy="117.2" r="1.85"/><circle cx="73.9" cy="112.3" r="1.85"/><circle cx="109.3" cy="123.3" r="1.85"/><circle cx="120.9" cy="126.6" r="1.85"/><circle cx="141.8" cy="119.4" r="1.85"/><circle cx="71.4" cy="115.7" r="1.85"/><circle cx="139.7" cy="81.6" r="1.85"/><circle cx="119.7" cy="116.2" r="1.85"/><circle cx="120.5" cy="120.6" r="1.85"/><circle cx="70.6" cy="112.3" r="1.85"/><circle cx="146.8" cy="111.6" r="1.85"/><circle cx="94.4" cy="101.6" r="1.85"/><circle cx="117.7" cy="92.0" r="1.85"/><circle cx="117.1" cy="113.3" r="1.85"/><circle cx="150.0" cy="83.4" r="1.85"/><circle cx="122.5" cy="107.7" r="1.85"/><circle cx="167.2" cy="77.8" r="1.85"/><circle cx="90.4" cy="87.5" r="1.85"/><circle cx="127.7" cy="102.0" r="1.85"/><circle cx="120.4" cy="101.0" r="1.85"/><circle cx="114.9" cy="113.0" r="1.85"/><circle cx="124.8" cy="106.3" r="1.85"/><circle cx="118.1" cy="133.3" r="1.85"/><circle cx="99.6" cy="101.1" r="1.85"/><circle cx="126.0" cy="92.8" r="1.85"/><circle cx="74.9" cy="129.5" r="1.85"/><circle cx="111.9" cy="111.2" r="1.85"/><circle cx="109.6" cy="104.4" r="1.85"/><circle cx="88.7" cy="101.5" r="1.85"/><circle cx="119.6" cy="93.7" r="1.85"/><circle cx="128.4" cy="129.7" r="1.85"/><circle cx="79.8" cy="116.0" r="1.85"/><circle cx="96.1" cy="115.6" r="1.85"/><circle cx="72.2" cy="106.0" r="1.85"/><circle cx="122.1" cy="121.7" r="1.85"/><circle cx="74.7" cy="101.7" r="1.85"/><circle cx="90.2" cy="125.5" r="1.85"/><circle cx="109.2" cy="126.1" r="1.85"/><circle cx="109.5" cy="102.1" r="1.85"/><circle cx="67.7" cy="115.4" r="1.85"/><circle cx="155.2" cy="105.3" r="1.85"/><circle cx="90.3" cy="126.7" r="1.85"/><circle cx="123.2" cy="104.3" r="1.85"/><circle cx="89.5" cy="115.5" r="1.85"/><circle cx="122.0" cy="94.9" r="1.85"/><circle cx="101.0" cy="104.5" r="1.85"/><circle cx="98.0" cy="112.7" r="1.85"/><circle cx="111.5" cy="127.6" r="1.85"/><circle cx="121.2" cy="132.4" r="1.85"/><circle cx="122.2" cy="95.9" r="1.85"/><circle cx="130.0" cy="120.5" r="1.85"/><circle cx="93.7" cy="103.7" r="1.85"/><circle cx="75.9" cy="108.8" r="1.85"/><circle cx="92.3" cy="99.8" r="1.85"/><circle cx="98.7" cy="82.1" r="1.85"/><circle cx="123.0" cy="103.9" r="1.85"/><circle cx="106.3" cy="88.2" r="1.85"/><circle cx="97.4" cy="109.6" r="1.85"/><circle cx="76.7" cy="116.6" r="1.85"/><circle cx="122.1" cy="104.3" r="1.85"/><circle cx="78.1" cy="94.0" r="1.85"/><circle cx="115.2" cy="124.9" r="1.85"/><circle cx="130.0" cy="99.5" r="1.85"/><circle cx="124.4" cy="111.6" r="1.85"/><circle cx="83.5" cy="104.6" r="1.85"/><circle cx="101.2" cy="89.3" r="1.85"/><circle cx="154.2" cy="76.7" r="1.85"/><circle cx="75.8" cy="108.4" r="1.85"/><circle cx="129.2" cy="117.5" r="1.85"/><circle cx="108.2" cy="93.7" r="1.85"/><circle cx="123.5" cy="116.0" r="1.85"/><circle cx="104.5" cy="111.9" r="1.85"/><circle cx="79.6" cy="126.4" r="1.85"/><circle cx="119.1" cy="98.6" r="1.85"/><circle cx="61.3" cy="111.8" r="1.85"/><circle cx="145.3" cy="89.4" r="1.85"/><circle cx="139.6" cy="113.6" r="1.85"/><circle cx="102.8" cy="106.9" r="1.85"/><circle cx="116.9" cy="102.8" r="1.85"/><circle cx="116.1" cy="106.1" r="1.85"/><circle cx="162.1" cy="89.8" r="1.85"/><circle cx="69.5" cy="107.9" r="1.85"/><circle cx="96.2" cy="113.4" r="1.85"/><circle cx="105.7" cy="110.2" r="1.85"/><circle cx="138.6" cy="119.8" r="1.85"/><circle cx="133.6" cy="86.0" r="1.85"/><circle cx="107.1" cy="107.4" r="1.85"/><circle cx="63.0" cy="112.0" r="1.85"/><circle cx="126.5" cy="91.5" r="1.85"/><circle cx="105.6" cy="105.0" r="1.85"/><circle cx="78.9" cy="98.4" r="1.85"/><circle cx="125.0" cy="107.7" r="1.85"/><circle cx="108.9" cy="109.9" r="1.85"/><circle cx="96.9" cy="123.8" r="1.85"/><circle cx="93.7" cy="107.7" r="1.85"/><circle cx="115.5" cy="109.8" r="1.85"/><circle cx="91.8" cy="102.9" r="1.85"/><circle cx="104.5" cy="108.8" r="1.85"/><circle cx="154.3" cy="81.0" r="1.85"/><circle cx="111.8" cy="107.3" r="1.85"/><circle cx="92.4" cy="116.2" r="1.85"/><circle cx="115.5" cy="123.5" r="1.85"/><circle cx="150.9" cy="84.5" r="1.85"/><circle cx="145.5" cy="80.3" r="1.85"/><circle cx="129.1" cy="110.1" r="1.85"/><circle cx="148.8" cy="96.6" r="1.85"/><circle cx="135.9" cy="100.7" r="1.85"/><circle cx="129.3" cy="111.9" r="1.85"/><circle cx="107.5" cy="107.8" r="1.85"/><circle cx="82.4" cy="112.1" r="1.85"/><circle cx="133.8" cy="101.4" r="1.85"/><circle cx="125.3" cy="124.2" r="1.85"/><circle cx="159.0" cy="90.6" r="1.85"/><circle cx="98.2" cy="122.7" r="1.85"/><circle cx="146.5" cy="95.2" r="1.85"/><circle cx="89.2" cy="112.4" r="1.85"/><circle cx="155.0" cy="99.1" r="1.85"/><circle cx="170.6" cy="90.2" r="1.85"/><circle cx="70.0" cy="113.8" r="1.85"/><circle cx="98.5" cy="112.4" r="1.85"/><circle cx="173.4" cy="85.8" r="1.85"/><circle cx="159.1" cy="88.4" r="1.85"/><circle cx="128.5" cy="118.3" r="1.85"/><circle cx="80.8" cy="119.6" r="1.85"/><circle cx="61.5" cy="107.6" r="1.85"/><circle cx="92.0" cy="132.3" r="1.85"/><circle cx="154.7" cy="91.5" r="1.85"/><circle cx="140.1" cy="138.1" r="1.85"/><circle cx="107.5" cy="103.5" r="1.85"/><circle cx="136.3" cy="102.3" r="1.85"/><circle cx="149.2" cy="77.0" r="1.85"/><circle cx="96.4" cy="109.9" r="1.85"/><circle cx="146.3" cy="97.9" r="1.85"/><circle cx="93.8" cy="97.3" r="1.85"/><circle cx="98.9" cy="108.4" r="1.85"/><circle cx="69.6" cy="117.2" r="1.85"/><circle cx="83.5" cy="122.8" r="1.85"/><circle cx="118.1" cy="93.2" r="1.85"/><circle cx="65.9" cy="117.4" r="1.85"/><circle cx="117.7" cy="127.6" r="1.85"/><circle cx="84.5" cy="131.1" r="1.85"/><circle cx="135.2" cy="117.7" r="1.85"/><circle cx="80.1" cy="121.1" r="1.85"/><circle cx="88.1" cy="124.0" r="1.85"/><circle cx="93.7" cy="108.7" r="1.85"/><circle cx="120.9" cy="91.0" r="1.85"/><circle cx="140.4" cy="89.1" r="1.85"/><circle cx="135.6" cy="111.9" r="1.85"/><circle cx="134.6" cy="100.2" r="1.85"/><circle cx="129.4" cy="115.1" r="1.85"/><circle cx="117.5" cy="96.0" r="1.85"/><circle cx="100.1" cy="114.1" r="1.85"/><circle cx="85.5" cy="119.5" r="1.85"/><circle cx="145.2" cy="97.0" r="1.85"/><circle cx="105.8" cy="107.8" r="1.85"/><circle cx="126.7" cy="117.7" r="1.85"/><circle cx="73.0" cy="112.6" r="1.85"/><circle cx="101.7" cy="99.7" r="1.85"/><circle cx="77.0" cy="111.5" r="1.85"/><circle cx="101.1" cy="90.6" r="1.85"/><circle cx="133.9" cy="101.8" r="1.85"/><circle cx="100.0" cy="116.6" r="1.85"/><circle cx="129.5" cy="66.7" r="1.85"/><circle cx="79.6" cy="112.3" r="1.85"/><circle cx="103.7" cy="102.7" r="1.85"/><circle cx="105.9" cy="114.8" r="1.85"/><circle cx="114.5" cy="97.3" r="1.85"/><circle cx="90.1" cy="97.2" r="1.85"/><circle cx="130.9" cy="91.4" r="1.85"/><circle cx="147.0" cy="81.6" r="1.85"/><circle cx="140.8" cy="93.2" r="1.85"/><circle cx="67.3" cy="101.3" r="1.85"/><circle cx="112.7" cy="119.8" r="1.85"/><circle cx="100.2" cy="111.6" r="1.85"/><circle cx="120.0" cy="121.7" r="1.85"/><circle cx="74.9" cy="115.1" r="1.85"/><circle cx="133.6" cy="117.5" r="1.85"/><circle cx="106.5" cy="98.1" r="1.85"/><circle cx="154.6" cy="98.7" r="1.85"/><circle cx="64.9" cy="116.0" r="1.85"/><circle cx="106.6" cy="111.3" r="1.85"/><circle cx="112.6" cy="94.3" r="1.85"/><circle cx="142.4" cy="103.6" r="1.85"/><circle cx="135.9" cy="101.9" r="1.85"/><circle cx="85.7" cy="109.4" r="1.85"/><circle cx="97.1" cy="113.0" r="1.85"/><circle cx="134.1" cy="91.4" r="1.85"/><circle cx="106.8" cy="90.9" r="1.85"/><circle cx="93.2" cy="96.1" r="1.85"/><circle cx="152.7" cy="72.0" r="1.85"/><circle cx="143.4" cy="91.6" r="1.85"/><circle cx="101.2" cy="98.7" r="1.85"/><circle cx="118.0" cy="108.2" r="1.85"/><circle cx="152.5" cy="85.4" r="1.85"/><circle cx="89.0" cy="136.6" r="1.85"/><circle cx="149.9" cy="98.8" r="1.85"/><circle cx="147.3" cy="107.0" r="1.85"/><circle cx="133.3" cy="109.7" r="1.85"/><circle cx="129.8" cy="110.6" r="1.85"/><circle cx="129.7" cy="87.7" r="1.85"/><circle cx="117.5" cy="77.4" r="1.85"/><circle cx="120.8" cy="101.4" r="1.85"/><circle cx="87.2" cy="123.1" r="1.85"/><circle cx="119.1" cy="117.1" r="1.85"/><circle cx="128.7" cy="67.0" r="1.85"/><circle cx="112.5" cy="99.5" r="1.85"/><circle cx="129.2" cy="137.8" r="1.85"/><circle cx="110.1" cy="87.4" r="1.85"/><circle cx="140.0" cy="93.3" r="1.85"/><circle cx="132.8" cy="75.2" r="1.85"/><circle cx="75.6" cy="117.5" r="1.85"/><circle cx="137.0" cy="98.9" r="1.85"/><circle cx="95.1" cy="105.4" r="1.85"/><circle cx="74.7" cy="118.5" r="1.85"/><circle cx="79.4" cy="105.1" r="1.85"/><circle cx="98.5" cy="131.2" r="1.85"/><circle cx="115.8" cy="83.3" r="1.85"/><circle cx="99.0" cy="108.3" r="1.85"/><circle cx="87.8" cy="124.1" r="1.85"/><circle cx="137.0" cy="108.9" r="1.85"/><circle cx="102.8" cy="100.3" r="1.85"/><circle cx="146.2" cy="81.3" r="1.85"/><circle cx="91.6" cy="96.0" r="1.85"/><circle cx="130.1" cy="125.2" r="1.85"/><circle cx="101.4" cy="96.5" r="1.85"/><circle cx="144.0" cy="119.1" r="1.85"/><circle cx="126.4" cy="113.1" r="1.85"/><circle cx="129.2" cy="101.4" r="1.85"/><circle cx="76.1" cy="123.1" r="1.85"/><circle cx="135.5" cy="103.4" r="1.85"/><circle cx="101.1" cy="89.1" r="1.85"/><circle cx="134.5" cy="100.2" r="1.85"/><circle cx="143.6" cy="71.1" r="1.85"/><circle cx="79.5" cy="108.2" r="1.85"/><circle cx="64.0" cy="116.0" r="1.85"/><circle cx="136.0" cy="92.9" r="1.85"/><circle cx="159.2" cy="81.7" r="1.85"/><circle cx="148.9" cy="75.2" r="1.85"/><circle cx="108.1" cy="107.3" r="1.85"/><circle cx="142.6" cy="97.6" r="1.85"/><circle cx="65.8" cy="114.5" r="1.85"/><circle cx="71.7" cy="124.6" r="1.85"/><circle cx="120.8" cy="90.4" r="1.85"/><circle cx="116.1" cy="92.5" r="1.85"/><circle cx="141.8" cy="99.3" r="1.85"/><circle cx="90.6" cy="111.1" r="1.85"/><circle cx="110.5" cy="95.8" r="1.85"/><circle cx="166.1" cy="80.2" r="1.85"/><circle cx="96.6" cy="123.7" r="1.85"/><circle cx="105.4" cy="92.5" r="1.85"/><circle cx="123.0" cy="93.3" r="1.85"/><circle cx="170.0" cy="100.3" r="1.85"/><circle cx="85.8" cy="130.6" r="1.85"/><circle cx="130.2" cy="114.0" r="1.85"/><circle cx="106.3" cy="118.1" r="1.85"/><circle cx="105.1" cy="103.3" r="1.85"/><circle cx="92.6" cy="128.9" r="1.85"/><circle cx="110.7" cy="84.5" r="1.85"/><circle cx="120.2" cy="88.6" r="1.85"/><circle cx="104.4" cy="95.0" r="1.85"/><circle cx="114.2" cy="131.6" r="1.85"/><circle cx="125.5" cy="98.3" r="1.85"/><circle cx="144.2" cy="113.2" r="1.85"/><circle cx="119.0" cy="106.4" r="1.85"/><circle cx="103.5" cy="134.3" r="1.85"/><circle cx="157.7" cy="79.0" r="1.85"/><circle cx="84.8" cy="125.0" r="1.85"/><circle cx="69.7" cy="110.1" r="1.85"/><circle cx="149.8" cy="74.6" r="1.85"/><circle cx="93.4" cy="130.8" r="1.85"/><circle cx="82.6" cy="117.1" r="1.85"/><circle cx="103.8" cy="108.0" r="1.85"/><circle cx="100.1" cy="115.2" r="1.85"/><circle cx="101.1" cy="126.3" r="1.85"/><circle cx="144.1" cy="98.5" r="1.85"/><circle cx="95.6" cy="111.4" r="1.85"/><circle cx="80.6" cy="107.1" r="1.85"/><circle cx="88.9" cy="106.4" r="1.85"/><circle cx="155.6" cy="107.1" r="1.85"/><circle cx="107.5" cy="100.5" r="1.85"/><circle cx="101.6" cy="108.4" r="1.85"/><circle cx="137.7" cy="103.7" r="1.85"/><circle cx="153.4" cy="97.0" r="1.85"/><circle cx="114.6" cy="92.5" r="1.85"/><circle cx="140.9" cy="123.8" r="1.85"/><circle cx="93.3" cy="99.4" r="1.85"/><circle cx="100.8" cy="102.6" r="1.85"/><circle cx="120.3" cy="109.2" r="1.85"/><circle cx="90.8" cy="116.8" r="1.85"/><circle cx="94.2" cy="131.0" r="1.85"/><circle cx="86.3" cy="92.4" r="1.85"/><circle cx="93.1" cy="118.8" r="1.85"/><circle cx="143.1" cy="90.8" r="1.85"/><circle cx="139.2" cy="83.0" r="1.85"/><circle cx="78.5" cy="116.8" r="1.85"/><circle cx="100.6" cy="98.3" r="1.85"/><circle cx="133.0" cy="106.1" r="1.85"/><circle cx="144.9" cy="87.6" r="1.85"/><circle cx="118.9" cy="113.1" r="1.85"/><circle cx="133.3" cy="87.2" r="1.85"/><circle cx="90.9" cy="95.1" r="1.85"/><circle cx="138.1" cy="118.2" r="1.85"/><circle cx="141.5" cy="83.3" r="1.85"/><circle cx="105.7" cy="104.1" r="1.85"/><circle cx="90.8" cy="95.1" r="1.85"/><circle cx="67.7" cy="101.0" r="1.85"/><circle cx="124.9" cy="116.2" r="1.85"/><circle cx="125.2" cy="109.5" r="1.85"/><circle cx="59.0" cy="100.3" r="1.85"/><circle cx="115.5" cy="119.3" r="1.85"/><circle cx="153.8" cy="77.3" r="1.85"/><circle cx="66.9" cy="105.5" r="1.85"/><circle cx="81.1" cy="100.0" r="1.85"/><circle cx="71.6" cy="109.3" r="1.85"/><circle cx="108.2" cy="111.3" r="1.85"/><circle cx="103.7" cy="122.0" r="1.85"/><circle cx="145.8" cy="106.5" r="1.85"/><circle cx="72.8" cy="133.1" r="1.85"/><circle cx="87.5" cy="113.3" r="1.85"/><circle cx="153.7" cy="86.8" r="1.85"/><circle cx="64.9" cy="123.8" r="1.85"/><circle cx="92.9" cy="104.1" r="1.85"/><circle cx="104.6" cy="115.3" r="1.85"/><circle cx="58.4" cy="117.4" r="1.85"/><circle cx="95.3" cy="120.2" r="1.85"/><circle cx="122.6" cy="123.1" r="1.85"/><circle cx="123.7" cy="92.4" r="1.85"/><circle cx="123.1" cy="131.9" r="1.85"/><circle cx="126.8" cy="106.6" r="1.85"/><circle cx="123.6" cy="111.5" r="1.85"/><circle cx="67.9" cy="109.0" r="1.85"/><circle cx="127.1" cy="133.6" r="1.85"/><circle cx="121.0" cy="105.2" r="1.85"/><circle cx="89.1" cy="107.0" r="1.85"/><circle cx="106.7" cy="95.5" r="1.85"/><circle cx="90.9" cy="116.1" r="1.85"/><circle cx="145.6" cy="61.9" r="1.85"/><circle cx="94.6" cy="93.3" r="1.85"/><circle cx="83.8" cy="111.1" r="1.85"/><circle cx="139.4" cy="116.0" r="1.85"/><circle cx="136.3" cy="104.6" r="1.85"/><circle cx="144.2" cy="98.5" r="1.85"/><circle cx="129.1" cy="83.5" r="1.85"/><circle cx="106.5" cy="118.3" r="1.85"/><circle cx="111.6" cy="124.7" r="1.85"/><circle cx="118.5" cy="109.6" r="1.85"/><circle cx="122.0" cy="106.1" r="1.85"/><circle cx="154.8" cy="80.5" r="1.85"/><circle cx="93.4" cy="119.9" r="1.85"/><circle cx="136.9" cy="108.8" r="1.85"/><circle cx="64.4" cy="112.5" r="1.85"/><circle cx="86.5" cy="93.9" r="1.85"/><circle cx="154.7" cy="92.6" r="1.85"/><circle cx="92.1" cy="100.6" r="1.85"/><circle cx="114.7" cy="76.6" r="1.85"/><circle cx="150.8" cy="97.2" r="1.85"/><circle cx="127.1" cy="108.1" r="1.85"/><circle cx="112.7" cy="108.3" r="1.85"/><circle cx="131.2" cy="96.2" r="1.85"/><circle cx="161.7" cy="91.1" r="1.85"/><circle cx="154.2" cy="100.0" r="1.85"/><circle cx="85.6" cy="84.7" r="1.85"/><circle cx="81.4" cy="133.1" r="1.85"/><circle cx="95.3" cy="131.1" r="1.85"/><circle cx="81.9" cy="118.3" r="1.85"/><circle cx="136.6" cy="103.2" r="1.85"/><circle cx="142.6" cy="98.7" r="1.85"/><circle cx="81.5" cy="114.0" r="1.85"/><circle cx="73.7" cy="122.2" r="1.85"/><circle cx="98.4" cy="130.9" r="1.85"/><circle cx="129.9" cy="96.8" r="1.85"/><circle cx="137.1" cy="91.6" r="1.85"/><circle cx="110.3" cy="109.7" r="1.85"/><circle cx="125.7" cy="115.6" r="1.85"/><circle cx="151.0" cy="90.2" r="1.85"/><circle cx="146.8" cy="113.8" r="1.85"/><circle cx="79.0" cy="90.6" r="1.85"/><circle cx="132.2" cy="109.2" r="1.85"/><circle cx="137.7" cy="87.3" r="1.85"/><circle cx="149.7" cy="115.5" r="1.85"/><circle cx="106.6" cy="124.2" r="1.85"/><circle cx="83.1" cy="105.7" r="1.85"/><circle cx="111.4" cy="139.9" r="1.85"/><circle cx="102.5" cy="103.4" r="1.85"/><circle cx="104.5" cy="109.8" r="1.85"/><circle cx="139.9" cy="96.0" r="1.85"/><circle cx="126.9" cy="96.0" r="1.85"/><circle cx="129.3" cy="113.8" r="1.85"/><circle cx="126.9" cy="103.4" r="1.85"/><circle cx="81.6" cy="118.8" r="1.85"/><circle cx="71.7" cy="99.6" r="1.85"/><circle cx="104.6" cy="115.4" r="1.85"/><circle cx="144.0" cy="110.8" r="1.85"/><circle cx="126.6" cy="119.4" r="1.85"/><circle cx="138.9" cy="90.3" r="1.85"/><circle cx="124.3" cy="106.8" r="1.85"/><circle cx="138.3" cy="79.6" r="1.85"/><circle cx="171.0" cy="93.0" r="1.85"/><circle cx="132.2" cy="102.4" r="1.85"/><circle cx="145.1" cy="88.2" r="1.85"/><circle cx="160.2" cy="92.7" r="1.85"/><circle cx="134.5" cy="77.6" r="1.85"/><circle cx="140.8" cy="86.6" r="1.85"/><circle cx="74.3" cy="108.2" r="1.85"/><circle cx="68.2" cy="98.6" r="1.85"/><circle cx="151.7" cy="89.3" r="1.85"/><circle cx="91.0" cy="124.4" r="1.85"/><circle cx="96.9" cy="117.4" r="1.85"/><circle cx="80.9" cy="96.3" r="1.85"/><circle cx="125.4" cy="99.8" r="1.85"/><circle cx="67.0" cy="107.2" r="1.85"/><circle cx="139.6" cy="107.0" r="1.85"/><circle cx="96.2" cy="111.7" r="1.85"/><circle cx="134.8" cy="87.9" r="1.85"/><circle cx="150.1" cy="88.2" r="1.85"/><circle cx="130.2" cy="81.2" r="1.85"/><circle cx="107.2" cy="110.5" r="1.85"/><circle cx="124.5" cy="125.5" r="1.85"/><circle cx="144.5" cy="117.7" r="1.85"/><circle cx="132.0" cy="138.0" r="1.85"/><circle cx="92.2" cy="110.7" r="1.85"/><circle cx="61.8" cy="115.9" r="1.85"/><circle cx="146.8" cy="90.6" r="1.85"/><circle cx="124.4" cy="81.0" r="1.85"/><circle cx="72.4" cy="121.9" r="1.85"/><circle cx="118.1" cy="108.1" r="1.85"/><circle cx="121.4" cy="110.1" r="1.85"/><circle cx="95.8" cy="99.3" r="1.85"/><circle cx="147.4" cy="95.4" r="1.85"/><circle cx="91.1" cy="118.9" r="1.85"/><circle cx="81.8" cy="116.4" r="1.85"/><circle cx="97.2" cy="122.9" r="1.85"/><circle cx="99.7" cy="130.0" r="1.85"/><circle cx="147.2" cy="103.8" r="1.85"/><circle cx="127.3" cy="103.0" r="1.85"/><circle cx="79.4" cy="104.3" r="1.85"/><circle cx="104.5" cy="107.8" r="1.85"/><circle cx="77.2" cy="105.8" r="1.85"/><circle cx="131.5" cy="135.8" r="1.85"/><circle cx="144.5" cy="72.2" r="1.85"/><circle cx="76.2" cy="118.9" r="1.85"/><circle cx="113.7" cy="110.3" r="1.85"/><circle cx="91.6" cy="115.8" r="1.85"/><circle cx="95.1" cy="115.2" r="1.85"/><circle cx="135.1" cy="83.1" r="1.85"/><circle cx="161.3" cy="91.1" r="1.85"/><circle cx="94.6" cy="90.0" r="1.85"/><circle cx="117.4" cy="115.6" r="1.85"/><circle cx="97.3" cy="127.9" r="1.85"/><circle cx="72.2" cy="121.6" r="1.85"/><circle cx="122.6" cy="96.7" r="1.85"/><circle cx="83.0" cy="111.6" r="1.85"/><circle cx="130.0" cy="95.9" r="1.85"/><circle cx="135.1" cy="115.5" r="1.85"/><circle cx="81.6" cy="121.1" r="1.85"/><circle cx="122.0" cy="110.3" r="1.85"/><circle cx="88.2" cy="112.8" r="1.85"/><circle cx="136.5" cy="86.9" r="1.85"/><circle cx="95.2" cy="98.0" r="1.85"/><circle cx="130.1" cy="90.4" r="1.85"/><circle cx="126.5" cy="130.4" r="1.85"/><circle cx="120.2" cy="107.6" r="1.85"/><circle cx="89.1" cy="129.1" r="1.85"/><circle cx="142.7" cy="98.7" r="1.85"/><circle cx="101.1" cy="105.2" r="1.85"/><circle cx="137.1" cy="106.9" r="1.85"/><circle cx="111.5" cy="103.8" r="1.85"/><circle cx="109.2" cy="116.7" r="1.85"/><circle cx="132.1" cy="104.6" r="1.85"/><circle cx="99.9" cy="114.5" r="1.85"/><circle cx="136.5" cy="84.5" r="1.85"/><circle cx="108.9" cy="104.2" r="1.85"/><circle cx="134.5" cy="107.0" r="1.85"/><circle cx="130.8" cy="117.9" r="1.85"/><circle cx="154.9" cy="75.8" r="1.85"/><circle cx="105.8" cy="96.8" r="1.85"/><circle cx="100.6" cy="119.2" r="1.85"/><circle cx="169.7" cy="99.2" r="1.85"/><circle cx="115.1" cy="124.7" r="1.85"/><circle cx="106.6" cy="122.5" r="1.85"/><circle cx="131.1" cy="123.9" r="1.85"/><circle cx="92.1" cy="100.8" r="1.85"/><circle cx="157.0" cy="83.1" r="1.85"/><circle cx="135.7" cy="74.4" r="1.85"/><circle cx="126.6" cy="87.8" r="1.85"/><circle cx="95.7" cy="75.1" r="1.85"/><circle cx="140.5" cy="77.5" r="1.85"/><circle cx="151.2" cy="105.9" r="1.85"/><circle cx="138.9" cy="117.1" r="1.85"/><circle cx="150.3" cy="103.6" r="1.85"/><circle cx="76.0" cy="117.6" r="1.85"/><circle cx="134.6" cy="97.8" r="1.85"/><circle cx="145.5" cy="92.1" r="1.85"/><circle cx="111.6" cy="126.3" r="1.85"/><circle cx="74.5" cy="111.4" r="1.85"/><circle cx="117.4" cy="112.1" r="1.85"/><circle cx="91.4" cy="87.0" r="1.85"/><circle cx="67.6" cy="113.4" r="1.85"/><circle cx="153.4" cy="94.2" r="1.85"/><circle cx="142.5" cy="96.5" r="1.85"/><circle cx="125.3" cy="122.4" r="1.85"/><circle cx="135.2" cy="96.1" r="1.85"/><circle cx="128.6" cy="125.8" r="1.85"/><circle cx="110.5" cy="117.2" r="1.85"/><circle cx="79.4" cy="119.5" r="1.85"/><circle cx="95.4" cy="87.8" r="1.85"/><circle cx="114.2" cy="92.6" r="1.85"/><circle cx="120.8" cy="98.1" r="1.85"/><circle cx="96.5" cy="97.1" r="1.85"/><circle cx="80.0" cy="117.0" r="1.85"/><circle cx="100.1" cy="135.3" r="1.85"/><circle cx="86.1" cy="117.3" r="1.85"/><circle cx="152.7" cy="91.7" r="1.85"/><circle cx="89.4" cy="106.3" r="1.85"/><circle cx="104.5" cy="114.5" r="1.85"/><circle cx="117.3" cy="85.3" r="1.85"/><circle cx="92.2" cy="97.1" r="1.85"/><circle cx="113.3" cy="112.0" r="1.85"/><circle cx="118.3" cy="88.2" r="1.85"/><circle cx="70.3" cy="103.2" r="1.85"/><circle cx="155.2" cy="105.0" r="1.85"/><circle cx="117.0" cy="118.1" r="1.85"/><circle cx="82.0" cy="109.2" r="1.85"/><circle cx="163.0" cy="88.8" r="1.85"/><circle cx="84.3" cy="126.4" r="1.85"/><circle cx="133.4" cy="72.6" r="1.85"/><circle cx="112.2" cy="105.3" r="1.85"/><circle cx="92.7" cy="99.5" r="1.85"/><circle cx="103.3" cy="119.0" r="1.85"/><circle cx="112.1" cy="109.0" r="1.85"/><circle cx="102.5" cy="94.5" r="1.85"/><circle cx="91.8" cy="103.3" r="1.85"/><circle cx="106.4" cy="111.5" r="1.85"/><circle cx="108.1" cy="119.4" r="1.85"/><circle cx="130.0" cy="88.0" r="1.85"/><circle cx="87.2" cy="111.5" r="1.85"/><circle cx="69.7" cy="117.5" r="1.85"/><circle cx="142.6" cy="121.5" r="1.85"/><circle cx="73.2" cy="120.5" r="1.85"/><circle cx="125.1" cy="98.8" r="1.85"/><circle cx="117.9" cy="120.6" r="1.85"/><circle cx="160.8" cy="80.8" r="1.85"/><circle cx="86.5" cy="108.6" r="1.85"/><circle cx="147.6" cy="91.7" r="1.85"/><circle cx="80.4" cy="113.9" r="1.85"/><circle cx="84.7" cy="91.8" r="1.85"/><circle cx="127.0" cy="106.4" r="1.85"/><circle cx="84.1" cy="109.7" r="1.85"/><circle cx="121.2" cy="110.7" r="1.85"/><circle cx="128.9" cy="74.5" r="1.85"/><circle cx="79.8" cy="113.0" r="1.85"/><circle cx="138.8" cy="88.0" r="1.85"/><circle cx="107.0" cy="116.6" r="1.85"/><circle cx="158.9" cy="80.5" r="1.85"/><circle cx="63.0" cy="113.4" r="1.85"/><circle cx="74.3" cy="129.1" r="1.85"/><circle cx="124.1" cy="104.7" r="1.85"/><circle cx="92.7" cy="100.2" r="1.85"/><circle cx="105.3" cy="96.1" r="1.85"/><circle cx="149.9" cy="74.8" r="1.85"/><circle cx="100.2" cy="115.8" r="1.85"/><circle cx="70.6" cy="122.5" r="1.85"/><circle cx="81.7" cy="123.3" r="1.85"/><circle cx="118.5" cy="97.7" r="1.85"/><circle cx="137.5" cy="90.9" r="1.85"/><circle cx="136.0" cy="91.6" r="1.85"/><circle cx="111.2" cy="128.8" r="1.85"/><circle cx="91.1" cy="116.2" r="1.85"/><circle cx="80.2" cy="117.7" r="1.85"/><circle cx="89.6" cy="95.9" r="1.85"/><circle cx="87.5" cy="119.0" r="1.85"/><circle cx="149.7" cy="82.6" r="1.85"/><circle cx="105.7" cy="132.1" r="1.85"/><circle cx="78.8" cy="124.1" r="1.85"/><circle cx="125.7" cy="123.5" r="1.85"/><circle cx="110.0" cy="123.2" r="1.85"/><circle cx="66.9" cy="127.8" r="1.85"/><circle cx="162.1" cy="92.1" r="1.85"/><circle cx="155.0" cy="89.1" r="1.85"/><circle cx="93.2" cy="110.1" r="1.85"/><circle cx="142.5" cy="92.4" r="1.85"/><circle cx="109.8" cy="93.9" r="1.85"/><circle cx="128.7" cy="104.3" r="1.85"/><circle cx="127.0" cy="119.2" r="1.85"/><circle cx="133.8" cy="107.2" r="1.85"/><circle cx="108.6" cy="101.8" r="1.85"/><circle cx="82.1" cy="96.8" r="1.85"/><circle cx="140.1" cy="99.9" r="1.85"/><circle cx="108.5" cy="116.1" r="1.85"/><circle cx="108.7" cy="128.5" r="1.85"/><circle cx="136.2" cy="114.7" r="1.85"/><circle cx="129.8" cy="88.2" r="1.85"/><circle cx="165.8" cy="82.5" r="1.85"/><circle cx="104.0" cy="103.1" r="1.85"/><circle cx="125.4" cy="126.8" r="1.85"/><circle cx="75.0" cy="125.5" r="1.85"/><circle cx="78.4" cy="128.9" r="1.85"/><circle cx="92.5" cy="93.5" r="1.85"/><circle cx="94.7" cy="97.5" r="1.85"/><circle cx="109.0" cy="109.0" r="1.85"/><circle cx="90.1" cy="100.6" r="1.85"/><circle cx="153.5" cy="100.1" r="1.85"/><circle cx="107.5" cy="97.7" r="1.85"/><circle cx="103.5" cy="119.3" r="1.85"/><circle cx="149.1" cy="92.1" r="1.85"/><circle cx="150.7" cy="58.7" r="1.85"/><circle cx="157.7" cy="57.2" r="1.85"/><circle cx="120.2" cy="66.6" r="1.85"/></g><g fill="#e42320" stroke="#3a0a0a" stroke-width="0.60" stroke-linejoin="round"><path d="M278.9 109.3l2.35 2.35-2.35 2.35-2.35-2.35zM277.3 119.0l2.35 2.35-2.35 2.35-2.35-2.35zM258.6 118.1l2.35 2.35-2.35 2.35-2.35-2.35zM244.8 122.0l2.35 2.35-2.35 2.35-2.35-2.35zM306.0 113.7l2.35 2.35-2.35 2.35-2.35-2.35zM284.0 108.6l2.35 2.35-2.35 2.35-2.35-2.35z"/><path d="M246.7 117.4l2.35 2.35-2.35 2.35-2.35-2.35zM233.3 115.1l2.35 2.35-2.35 2.35-2.35-2.35zM290.2 78.5l2.35 2.35-2.35 2.35-2.35-2.35zM325.7 70.2l2.35 2.35-2.35 2.35-2.35-2.35zM299.7 80.3l2.35 2.35-2.35 2.35-2.35-2.35zM241.3 111.1l2.35 2.35-2.35 2.35-2.35-2.35z"/><path d="M230.1 110.0l2.35 2.35-2.35 2.35-2.35-2.35zM281.8 114.2l2.35 2.35-2.35 2.35-2.35-2.35zM226.9 126.3l2.35 2.35-2.35 2.35-2.35-2.35zM300.7 117.3l2.35 2.35-2.35 2.35-2.35-2.35zM226.9 115.3l2.35 2.35-2.35 2.35-2.35-2.35zM250.7 105.7l2.35 2.35-2.35 2.35-2.35-2.35z"/><path d="M228.3 94.4l2.35 2.35-2.35 2.35-2.35-2.35zM219.1 114.0l2.35 2.35-2.35 2.35-2.35-2.35zM243.1 125.5l2.35 2.35-2.35 2.35-2.35-2.35zM247.6 114.5l2.35 2.35-2.35 2.35-2.35-2.35zM292.8 95.0l2.35 2.35-2.35 2.35-2.35-2.35zM270.2 120.8l2.35 2.35-2.35 2.35-2.35-2.35z"/><path d="M313.3 94.8l2.35 2.35-2.35 2.35-2.35-2.35zM259.0 103.7l2.35 2.35-2.35 2.35-2.35-2.35zM270.6 105.8l2.35 2.35-2.35 2.35-2.35-2.35zM286.3 97.7l2.35 2.35-2.35 2.35-2.35-2.35zM269.3 106.6l2.35 2.35-2.35 2.35-2.35-2.35zM257.9 109.3l2.35 2.35-2.35 2.35-2.35-2.35z"/><path d="M295.9 82.8l2.35 2.35-2.35 2.35-2.35-2.35zM302.4 85.3l2.35 2.35-2.35 2.35-2.35-2.35zM310.6 88.1l2.35 2.35-2.35 2.35-2.35-2.35zM240.3 106.4l2.35 2.35-2.35 2.35-2.35-2.35zM265.4 108.4l2.35 2.35-2.35 2.35-2.35-2.35zM264.6 108.5l2.35 2.35-2.35 2.35-2.35-2.35z"/><path d="M304.2 90.0l2.35 2.35-2.35 2.35-2.35-2.35zM243.2 108.9l2.35 2.35-2.35 2.35-2.35-2.35zM245.5 86.3l2.35 2.35-2.35 2.35-2.35-2.35zM292.4 97.7l2.35 2.35-2.35 2.35-2.35-2.35zM307.7 87.6l2.35 2.35-2.35 2.35-2.35-2.35zM304.0 69.0l2.35 2.35-2.35 2.35-2.35-2.35z"/><path d="M222.8 119.1l2.35 2.35-2.35 2.35-2.35-2.35zM265.7 106.0l2.35 2.35-2.35 2.35-2.35-2.35zM256.3 95.6l2.35 2.35-2.35 2.35-2.35-2.35zM299.0 95.2l2.35 2.35-2.35 2.35-2.35-2.35zM264.0 107.9l2.35 2.35-2.35 2.35-2.35-2.35zM240.9 118.3l2.35 2.35-2.35 2.35-2.35-2.35z"/><path d="M216.0 113.5l2.35 2.35-2.35 2.35-2.35-2.35zM322.9 87.6l2.35 2.35-2.35 2.35-2.35-2.35zM311.8 77.7l2.35 2.35-2.35 2.35-2.35-2.35zM276.4 98.1l2.35 2.35-2.35 2.35-2.35-2.35zM285.9 105.9l2.35 2.35-2.35 2.35-2.35-2.35zM276.4 91.0l2.35 2.35-2.35 2.35-2.35-2.35z"/><path d="M255.9 119.3l2.35 2.35-2.35 2.35-2.35-2.35zM250.1 118.2l2.35 2.35-2.35 2.35-2.35-2.35zM271.2 97.5l2.35 2.35-2.35 2.35-2.35-2.35zM249.9 107.0l2.35 2.35-2.35 2.35-2.35-2.35zM276.7 118.5l2.35 2.35-2.35 2.35-2.35-2.35zM268.4 115.3l2.35 2.35-2.35 2.35-2.35-2.35z"/><path d="M264.4 109.9l2.35 2.35-2.35 2.35-2.35-2.35zM222.7 117.0l2.35 2.35-2.35 2.35-2.35-2.35zM298.2 95.7l2.35 2.35-2.35 2.35-2.35-2.35zM294.0 101.5l2.35 2.35-2.35 2.35-2.35-2.35zM305.3 87.9l2.35 2.35-2.35 2.35-2.35-2.35zM237.8 111.5l2.35 2.35-2.35 2.35-2.35-2.35z"/><path d="M266.9 102.9l2.35 2.35-2.35 2.35-2.35-2.35zM283.2 108.4l2.35 2.35-2.35 2.35-2.35-2.35zM293.0 95.5l2.35 2.35-2.35 2.35-2.35-2.35zM267.8 102.9l2.35 2.35-2.35 2.35-2.35-2.35zM265.3 99.4l2.35 2.35-2.35 2.35-2.35-2.35zM333.0 69.0l2.35 2.35-2.35 2.35-2.35-2.35z"/><path d="M264.0 111.8l2.35 2.35-2.35 2.35-2.35-2.35zM331.9 73.3l2.35 2.35-2.35 2.35-2.35-2.35zM267.3 92.2l2.35 2.35-2.35 2.35-2.35-2.35zM245.4 112.8l2.35 2.35-2.35 2.35-2.35-2.35zM256.5 108.0l2.35 2.35-2.35 2.35-2.35-2.35zM295.0 79.7l2.35 2.35-2.35 2.35-2.35-2.35z"/><path d="M270.1 99.0l2.35 2.35-2.35 2.35-2.35-2.35zM298.7 89.4l2.35 2.35-2.35 2.35-2.35-2.35zM295.6 111.0l2.35 2.35-2.35 2.35-2.35-2.35zM272.7 116.5l2.35 2.35-2.35 2.35-2.35-2.35zM297.3 95.3l2.35 2.35-2.35 2.35-2.35-2.35zM246.2 90.0l2.35 2.35-2.35 2.35-2.35-2.35z"/><path d="M239.6 126.9l2.35 2.35-2.35 2.35-2.35-2.35zM299.9 118.2l2.35 2.35-2.35 2.35-2.35-2.35zM224.7 107.8l2.35 2.35-2.35 2.35-2.35-2.35zM224.2 110.3l2.35 2.35-2.35 2.35-2.35-2.35zM228.3 119.5l2.35 2.35-2.35 2.35-2.35-2.35zM258.1 99.0l2.35 2.35-2.35 2.35-2.35-2.35z"/><path d="M228.1 110.3l2.35 2.35-2.35 2.35-2.35-2.35zM237.5 115.2l2.35 2.35-2.35 2.35-2.35-2.35zM291.3 102.1l2.35 2.35-2.35 2.35-2.35-2.35zM232.3 116.0l2.35 2.35-2.35 2.35-2.35-2.35zM266.3 103.8l2.35 2.35-2.35 2.35-2.35-2.35zM278.9 112.9l2.35 2.35-2.35 2.35-2.35-2.35z"/><path d="M323.0 91.7l2.35 2.35-2.35 2.35-2.35-2.35zM252.9 116.7l2.35 2.35-2.35 2.35-2.35-2.35zM228.8 108.9l2.35 2.35-2.35 2.35-2.35-2.35zM302.7 82.1l2.35 2.35-2.35 2.35-2.35-2.35zM237.9 116.7l2.35 2.35-2.35 2.35-2.35-2.35zM298.6 111.1l2.35 2.35-2.35 2.35-2.35-2.35z"/><path d="M233.0 109.0l2.35 2.35-2.35 2.35-2.35-2.35zM216.2 107.4l2.35 2.35-2.35 2.35-2.35-2.35zM309.6 95.6l2.35 2.35-2.35 2.35-2.35-2.35zM286.7 83.8l2.35 2.35-2.35 2.35-2.35-2.35zM228.1 118.0l2.35 2.35-2.35 2.35-2.35-2.35zM245.4 97.0l2.35 2.35-2.35 2.35-2.35-2.35z"/><path d="M301.0 88.3l2.35 2.35-2.35 2.35-2.35-2.35zM229.0 125.3l2.35 2.35-2.35 2.35-2.35-2.35zM312.4 83.5l2.35 2.35-2.35 2.35-2.35-2.35zM229.7 113.5l2.35 2.35-2.35 2.35-2.35-2.35zM274.9 107.6l2.35 2.35-2.35 2.35-2.35-2.35zM237.8 117.5l2.35 2.35-2.35 2.35-2.35-2.35z"/><path d="M275.5 105.2l2.35 2.35-2.35 2.35-2.35-2.35zM237.0 116.8l2.35 2.35-2.35 2.35-2.35-2.35zM230.2 110.6l2.35 2.35-2.35 2.35-2.35-2.35zM256.5 97.9l2.35 2.35-2.35 2.35-2.35-2.35zM292.2 83.7l2.35 2.35-2.35 2.35-2.35-2.35zM273.3 93.0l2.35 2.35-2.35 2.35-2.35-2.35z"/><path d="M276.0 94.8l2.35 2.35-2.35 2.35-2.35-2.35zM271.8 101.3l2.35 2.35-2.35 2.35-2.35-2.35zM277.7 107.2l2.35 2.35-2.35 2.35-2.35-2.35zM233.4 120.7l2.35 2.35-2.35 2.35-2.35-2.35zM265.3 96.2l2.35 2.35-2.35 2.35-2.35-2.35zM226.9 115.3l2.35 2.35-2.35 2.35-2.35-2.35z"/><path d="M228.5 110.3l2.35 2.35-2.35 2.35-2.35-2.35zM242.7 123.2l2.35 2.35-2.35 2.35-2.35-2.35zM218.7 110.5l2.35 2.35-2.35 2.35-2.35-2.35zM234.3 99.7l2.35 2.35-2.35 2.35-2.35-2.35zM260.2 109.2l2.35 2.35-2.35 2.35-2.35-2.35zM217.4 108.1l2.35 2.35-2.35 2.35-2.35-2.35z"/><path d="M332.9 73.2l2.35 2.35-2.35 2.35-2.35-2.35zM312.5 87.5l2.35 2.35-2.35 2.35-2.35-2.35zM294.0 106.4l2.35 2.35-2.35 2.35-2.35-2.35zM245.7 135.6l2.35 2.35-2.35 2.35-2.35-2.35zM283.8 98.7l2.35 2.35-2.35 2.35-2.35-2.35zM237.3 106.9l2.35 2.35-2.35 2.35-2.35-2.35z"/><path d="M340.1 61.8l2.35 2.35-2.35 2.35-2.35-2.35zM292.5 79.4l2.35 2.35-2.35 2.35-2.35-2.35zM260.9 98.3l2.35 2.35-2.35 2.35-2.35-2.35zM266.1 102.1l2.35 2.35-2.35 2.35-2.35-2.35zM259.0 115.4l2.35 2.35-2.35 2.35-2.35-2.35zM309.4 58.0l2.35 2.35-2.35 2.35-2.35-2.35z"/><path d="M283.5 119.6l2.35 2.35-2.35 2.35-2.35-2.35zM229.1 114.8l2.35 2.35-2.35 2.35-2.35-2.35zM227.7 115.7l2.35 2.35-2.35 2.35-2.35-2.35zM301.3 83.3l2.35 2.35-2.35 2.35-2.35-2.35zM249.0 106.8l2.35 2.35-2.35 2.35-2.35-2.35zM263.4 101.7l2.35 2.35-2.35 2.35-2.35-2.35z"/><path d="M281.7 124.8l2.35 2.35-2.35 2.35-2.35-2.35zM249.2 115.1l2.35 2.35-2.35 2.35-2.35-2.35zM296.6 86.3l2.35 2.35-2.35 2.35-2.35-2.35zM291.6 107.2l2.35 2.35-2.35 2.35-2.35-2.35zM225.4 121.5l2.35 2.35-2.35 2.35-2.35-2.35zM279.4 101.7l2.35 2.35-2.35 2.35-2.35-2.35z"/><path d="M320.7 88.7l2.35 2.35-2.35 2.35-2.35-2.35zM287.0 102.1l2.35 2.35-2.35 2.35-2.35-2.35zM241.8 107.4l2.35 2.35-2.35 2.35-2.35-2.35zM246.9 119.6l2.35 2.35-2.35 2.35-2.35-2.35zM309.2 91.8l2.35 2.35-2.35 2.35-2.35-2.35zM299.5 80.7l2.35 2.35-2.35 2.35-2.35-2.35z"/><path d="M246.0 112.7l2.35 2.35-2.35 2.35-2.35-2.35zM270.8 108.8l2.35 2.35-2.35 2.35-2.35-2.35zM253.9 114.8l2.35 2.35-2.35 2.35-2.35-2.35zM304.0 90.5l2.35 2.35-2.35 2.35-2.35-2.35zM224.2 108.2l2.35 2.35-2.35 2.35-2.35-2.35zM218.6 118.5l2.35 2.35-2.35 2.35-2.35-2.35z"/><path d="M347.2 59.0l2.35 2.35-2.35 2.35-2.35-2.35zM242.5 95.1l2.35 2.35-2.35 2.35-2.35-2.35zM242.9 125.6l2.35 2.35-2.35 2.35-2.35-2.35zM307.0 80.9l2.35 2.35-2.35 2.35-2.35-2.35zM314.2 78.1l2.35 2.35-2.35 2.35-2.35-2.35zM280.3 122.2l2.35 2.35-2.35 2.35-2.35-2.35z"/><path d="M237.7 125.3l2.35 2.35-2.35 2.35-2.35-2.35zM244.0 115.6l2.35 2.35-2.35 2.35-2.35-2.35zM237.7 98.7l2.35 2.35-2.35 2.35-2.35-2.35zM213.8 117.3l2.35 2.35-2.35 2.35-2.35-2.35zM218.1 113.0l2.35 2.35-2.35 2.35-2.35-2.35zM264.8 106.0l2.35 2.35-2.35 2.35-2.35-2.35z"/><path d="M278.6 105.3l2.35 2.35-2.35 2.35-2.35-2.35zM232.4 94.8l2.35 2.35-2.35 2.35-2.35-2.35zM217.5 111.7l2.35 2.35-2.35 2.35-2.35-2.35zM238.1 121.2l2.35 2.35-2.35 2.35-2.35-2.35zM229.0 109.3l2.35 2.35-2.35 2.35-2.35-2.35zM226.3 106.8l2.35 2.35-2.35 2.35-2.35-2.35z"/><path d="M245.4 120.5l2.35 2.35-2.35 2.35-2.35-2.35zM246.0 108.5l2.35 2.35-2.35 2.35-2.35-2.35zM229.7 116.5l2.35 2.35-2.35 2.35-2.35-2.35zM230.2 122.2l2.35 2.35-2.35 2.35-2.35-2.35zM219.5 118.9l2.35 2.35-2.35 2.35-2.35-2.35zM267.9 97.6l2.35 2.35-2.35 2.35-2.35-2.35z"/><path d="M224.4 113.4l2.35 2.35-2.35 2.35-2.35-2.35zM285.2 123.0l2.35 2.35-2.35 2.35-2.35-2.35zM316.1 79.0l2.35 2.35-2.35 2.35-2.35-2.35zM240.3 113.6l2.35 2.35-2.35 2.35-2.35-2.35zM241.5 137.7l2.35 2.35-2.35 2.35-2.35-2.35zM295.0 113.9l2.35 2.35-2.35 2.35-2.35-2.35z"/><path d="M275.2 133.6l2.35 2.35-2.35 2.35-2.35-2.35zM222.5 117.0l2.35 2.35-2.35 2.35-2.35-2.35zM321.9 54.5l2.35 2.35-2.35 2.35-2.35-2.35zM219.7 99.7l2.35 2.35-2.35 2.35-2.35-2.35zM276.1 101.9l2.35 2.35-2.35 2.35-2.35-2.35zM239.6 118.5l2.35 2.35-2.35 2.35-2.35-2.35z"/><path d="M297.3 114.1l2.35 2.35-2.35 2.35-2.35-2.35zM233.7 117.7l2.35 2.35-2.35 2.35-2.35-2.35zM273.8 102.9l2.35 2.35-2.35 2.35-2.35-2.35zM268.1 92.4l2.35 2.35-2.35 2.35-2.35-2.35zM261.8 107.3l2.35 2.35-2.35 2.35-2.35-2.35zM267.1 92.7l2.35 2.35-2.35 2.35-2.35-2.35z"/><path d="M264.8 108.8l2.35 2.35-2.35 2.35-2.35-2.35zM247.7 130.6l2.35 2.35-2.35 2.35-2.35-2.35zM266.7 103.4l2.35 2.35-2.35 2.35-2.35-2.35zM233.0 102.7l2.35 2.35-2.35 2.35-2.35-2.35zM232.1 106.5l2.35 2.35-2.35 2.35-2.35-2.35zM277.7 91.2l2.35 2.35-2.35 2.35-2.35-2.35z"/><path d="M266.9 117.5l2.35 2.35-2.35 2.35-2.35-2.35zM279.0 107.5l2.35 2.35-2.35 2.35-2.35-2.35zM273.3 105.4l2.35 2.35-2.35 2.35-2.35-2.35zM281.0 99.3l2.35 2.35-2.35 2.35-2.35-2.35zM247.1 104.5l2.35 2.35-2.35 2.35-2.35-2.35zM335.6 61.8l2.35 2.35-2.35 2.35-2.35-2.35z"/><path d="M245.9 114.1l2.35 2.35-2.35 2.35-2.35-2.35zM244.8 120.4l2.35 2.35-2.35 2.35-2.35-2.35zM247.6 114.4l2.35 2.35-2.35 2.35-2.35-2.35zM219.8 114.2l2.35 2.35-2.35 2.35-2.35-2.35zM340.6 69.0l2.35 2.35-2.35 2.35-2.35-2.35zM308.0 102.9l2.35 2.35-2.35 2.35-2.35-2.35z"/><path d="M331.4 65.8l2.35 2.35-2.35 2.35-2.35-2.35zM266.1 96.0l2.35 2.35-2.35 2.35-2.35-2.35zM305.6 81.6l2.35 2.35-2.35 2.35-2.35-2.35zM301.4 86.5l2.35 2.35-2.35 2.35-2.35-2.35zM241.0 105.7l2.35 2.35-2.35 2.35-2.35-2.35zM274.6 110.8l2.35 2.35-2.35 2.35-2.35-2.35z"/><path d="M223.4 115.2l2.35 2.35-2.35 2.35-2.35-2.35zM302.7 91.8l2.35 2.35-2.35 2.35-2.35-2.35zM255.2 128.1l2.35 2.35-2.35 2.35-2.35-2.35zM305.7 90.5l2.35 2.35-2.35 2.35-2.35-2.35zM282.6 127.5l2.35 2.35-2.35 2.35-2.35-2.35zM277.2 82.5l2.35 2.35-2.35 2.35-2.35-2.35z"/><path d="M247.3 104.0l2.35 2.35-2.35 2.35-2.35-2.35zM300.3 104.8l2.35 2.35-2.35 2.35-2.35-2.35zM240.9 110.8l2.35 2.35-2.35 2.35-2.35-2.35zM232.2 115.6l2.35 2.35-2.35 2.35-2.35-2.35zM251.6 93.8l2.35 2.35-2.35 2.35-2.35-2.35zM288.4 87.6l2.35 2.35-2.35 2.35-2.35-2.35z"/><path d="M293.5 98.9l2.35 2.35-2.35 2.35-2.35-2.35zM226.2 115.7l2.35 2.35-2.35 2.35-2.35-2.35zM318.9 78.0l2.35 2.35-2.35 2.35-2.35-2.35zM239.6 108.2l2.35 2.35-2.35 2.35-2.35-2.35zM312.6 89.3l2.35 2.35-2.35 2.35-2.35-2.35zM276.0 111.0l2.35 2.35-2.35 2.35-2.35-2.35z"/><path d="M335.6 81.8l2.35 2.35-2.35 2.35-2.35-2.35zM226.8 122.4l2.35 2.35-2.35 2.35-2.35-2.35zM279.5 112.7l2.35 2.35-2.35 2.35-2.35-2.35zM268.5 125.4l2.35 2.35-2.35 2.35-2.35-2.35zM238.4 119.1l2.35 2.35-2.35 2.35-2.35-2.35zM296.3 76.3l2.35 2.35-2.35 2.35-2.35-2.35z"/><path d="M267.4 106.4l2.35 2.35-2.35 2.35-2.35-2.35zM310.0 82.5l2.35 2.35-2.35 2.35-2.35-2.35zM306.6 99.7l2.35 2.35-2.35 2.35-2.35-2.35zM243.1 97.8l2.35 2.35-2.35 2.35-2.35-2.35zM252.9 107.8l2.35 2.35-2.35 2.35-2.35-2.35zM245.5 102.4l2.35 2.35-2.35 2.35-2.35-2.35z"/><path d="M295.7 85.2l2.35 2.35-2.35 2.35-2.35-2.35zM306.0 87.8l2.35 2.35-2.35 2.35-2.35-2.35zM301.6 71.9l2.35 2.35-2.35 2.35-2.35-2.35zM213.7 118.7l2.35 2.35-2.35 2.35-2.35-2.35zM281.3 107.4l2.35 2.35-2.35 2.35-2.35-2.35zM219.5 109.6l2.35 2.35-2.35 2.35-2.35-2.35z"/><path d="M339.3 67.2l2.35 2.35-2.35 2.35-2.35-2.35zM314.3 82.6l2.35 2.35-2.35 2.35-2.35-2.35zM256.3 85.6l2.35 2.35-2.35 2.35-2.35-2.35zM254.9 111.8l2.35 2.35-2.35 2.35-2.35-2.35zM229.6 109.2l2.35 2.35-2.35 2.35-2.35-2.35zM275.6 111.1l2.35 2.35-2.35 2.35-2.35-2.35z"/><path d="M285.8 112.3l2.35 2.35-2.35 2.35-2.35-2.35zM294.2 124.4l2.35 2.35-2.35 2.35-2.35-2.35zM233.2 107.1l2.35 2.35-2.35 2.35-2.35-2.35zM275.5 88.1l2.35 2.35-2.35 2.35-2.35-2.35zM291.2 100.2l2.35 2.35-2.35 2.35-2.35-2.35zM304.2 79.5l2.35 2.35-2.35 2.35-2.35-2.35z"/><path d="M216.9 121.2l2.35 2.35-2.35 2.35-2.35-2.35zM269.0 108.5l2.35 2.35-2.35 2.35-2.35-2.35zM249.9 111.1l2.35 2.35-2.35 2.35-2.35-2.35zM275.3 96.2l2.35 2.35-2.35 2.35-2.35-2.35zM274.6 104.6l2.35 2.35-2.35 2.35-2.35-2.35zM259.7 102.1l2.35 2.35-2.35 2.35-2.35-2.35z"/><path d="M327.5 63.2l2.35 2.35-2.35 2.35-2.35-2.35zM284.0 116.4l2.35 2.35-2.35 2.35-2.35-2.35zM251.7 110.5l2.35 2.35-2.35 2.35-2.35-2.35zM323.2 76.5l2.35 2.35-2.35 2.35-2.35-2.35zM254.3 115.8l2.35 2.35-2.35 2.35-2.35-2.35zM300.0 92.4l2.35 2.35-2.35 2.35-2.35-2.35z"/><path d="M296.1 122.1l2.35 2.35-2.35 2.35-2.35-2.35zM232.6 119.8l2.35 2.35-2.35 2.35-2.35-2.35zM254.9 111.6l2.35 2.35-2.35 2.35-2.35-2.35zM243.3 127.4l2.35 2.35-2.35 2.35-2.35-2.35zM326.1 57.9l2.35 2.35-2.35 2.35-2.35-2.35zM263.7 86.6l2.35 2.35-2.35 2.35-2.35-2.35z"/><path d="M312.5 74.9l2.35 2.35-2.35 2.35-2.35-2.35zM282.2 93.0l2.35 2.35-2.35 2.35-2.35-2.35zM298.3 86.6l2.35 2.35-2.35 2.35-2.35-2.35zM242.8 113.0l2.35 2.35-2.35 2.35-2.35-2.35zM258.0 110.9l2.35 2.35-2.35 2.35-2.35-2.35zM304.7 118.8l2.35 2.35-2.35 2.35-2.35-2.35z"/><path d="M291.8 88.9l2.35 2.35-2.35 2.35-2.35-2.35zM319.8 85.5l2.35 2.35-2.35 2.35-2.35-2.35zM299.4 122.5l2.35 2.35-2.35 2.35-2.35-2.35zM288.1 112.3l2.35 2.35-2.35 2.35-2.35-2.35zM288.4 95.4l2.35 2.35-2.35 2.35-2.35-2.35zM247.2 126.0l2.35 2.35-2.35 2.35-2.35-2.35z"/><path d="M233.1 115.8l2.35 2.35-2.35 2.35-2.35-2.35zM279.9 130.7l2.35 2.35-2.35 2.35-2.35-2.35zM280.0 110.0l2.35 2.35-2.35 2.35-2.35-2.35zM310.5 91.5l2.35 2.35-2.35 2.35-2.35-2.35zM245.0 133.5l2.35 2.35-2.35 2.35-2.35-2.35zM244.4 117.9l2.35 2.35-2.35 2.35-2.35-2.35z"/><path d="M319.7 79.3l2.35 2.35-2.35 2.35-2.35-2.35zM268.6 111.3l2.35 2.35-2.35 2.35-2.35-2.35zM268.9 89.8l2.35 2.35-2.35 2.35-2.35-2.35zM285.9 91.8l2.35 2.35-2.35 2.35-2.35-2.35zM215.1 107.5l2.35 2.35-2.35 2.35-2.35-2.35zM237.8 122.1l2.35 2.35-2.35 2.35-2.35-2.35z"/><path d="M317.6 96.0l2.35 2.35-2.35 2.35-2.35-2.35zM231.5 108.9l2.35 2.35-2.35 2.35-2.35-2.35zM320.1 78.2l2.35 2.35-2.35 2.35-2.35-2.35zM319.3 89.9l2.35 2.35-2.35 2.35-2.35-2.35zM223.5 114.1l2.35 2.35-2.35 2.35-2.35-2.35zM272.4 117.9l2.35 2.35-2.35 2.35-2.35-2.35z"/><path d="M249.9 114.8l2.35 2.35-2.35 2.35-2.35-2.35zM287.7 97.2l2.35 2.35-2.35 2.35-2.35-2.35zM321.3 67.9l2.35 2.35-2.35 2.35-2.35-2.35zM250.6 104.2l2.35 2.35-2.35 2.35-2.35-2.35zM232.8 104.0l2.35 2.35-2.35 2.35-2.35-2.35zM321.7 81.2l2.35 2.35-2.35 2.35-2.35-2.35z"/><path d="M298.9 91.5l2.35 2.35-2.35 2.35-2.35-2.35zM256.8 98.5l2.35 2.35-2.35 2.35-2.35-2.35zM308.2 102.7l2.35 2.35-2.35 2.35-2.35-2.35zM273.1 94.4l2.35 2.35-2.35 2.35-2.35-2.35zM228.9 106.9l2.35 2.35-2.35 2.35-2.35-2.35zM257.8 97.8l2.35 2.35-2.35 2.35-2.35-2.35z"/><path d="M295.4 94.2l2.35 2.35-2.35 2.35-2.35-2.35zM251.3 116.5l2.35 2.35-2.35 2.35-2.35-2.35zM285.6 108.0l2.35 2.35-2.35 2.35-2.35-2.35zM236.8 110.8l2.35 2.35-2.35 2.35-2.35-2.35zM299.9 129.2l2.35 2.35-2.35 2.35-2.35-2.35zM240.0 118.4l2.35 2.35-2.35 2.35-2.35-2.35z"/><path d="M253.5 115.7l2.35 2.35-2.35 2.35-2.35-2.35zM298.9 105.1l2.35 2.35-2.35 2.35-2.35-2.35zM239.1 120.0l2.35 2.35-2.35 2.35-2.35-2.35zM265.7 119.7l2.35 2.35-2.35 2.35-2.35-2.35zM303.2 98.9l2.35 2.35-2.35 2.35-2.35-2.35zM284.9 110.8l2.35 2.35-2.35 2.35-2.35-2.35z"/><path d="M225.9 101.9l2.35 2.35-2.35 2.35-2.35-2.35zM228.6 112.1l2.35 2.35-2.35 2.35-2.35-2.35zM298.8 99.4l2.35 2.35-2.35 2.35-2.35-2.35zM222.4 106.8l2.35 2.35-2.35 2.35-2.35-2.35zM234.8 112.2l2.35 2.35-2.35 2.35-2.35-2.35zM223.6 112.7l2.35 2.35-2.35 2.35-2.35-2.35z"/><path d="M238.7 100.7l2.35 2.35-2.35 2.35-2.35-2.35zM282.8 91.8l2.35 2.35-2.35 2.35-2.35-2.35zM250.2 112.1l2.35 2.35-2.35 2.35-2.35-2.35zM218.1 121.5l2.35 2.35-2.35 2.35-2.35-2.35zM286.2 110.2l2.35 2.35-2.35 2.35-2.35-2.35zM279.2 97.9l2.35 2.35-2.35 2.35-2.35-2.35z"/><path d="M275.1 125.3l2.35 2.35-2.35 2.35-2.35-2.35zM280.9 107.9l2.35 2.35-2.35 2.35-2.35-2.35zM284.4 103.8l2.35 2.35-2.35 2.35-2.35-2.35zM238.9 124.5l2.35 2.35-2.35 2.35-2.35-2.35zM216.2 106.9l2.35 2.35-2.35 2.35-2.35-2.35zM259.6 111.2l2.35 2.35-2.35 2.35-2.35-2.35z"/><path d="M216.6 122.6l2.35 2.35-2.35 2.35-2.35-2.35zM261.9 119.0l2.35 2.35-2.35 2.35-2.35-2.35zM305.3 89.1l2.35 2.35-2.35 2.35-2.35-2.35zM229.3 100.8l2.35 2.35-2.35 2.35-2.35-2.35zM289.4 98.0l2.35 2.35-2.35 2.35-2.35-2.35zM281.7 101.5l2.35 2.35-2.35 2.35-2.35-2.35z"/><path d="M307.8 94.7l2.35 2.35-2.35 2.35-2.35-2.35zM273.1 87.0l2.35 2.35-2.35 2.35-2.35-2.35zM289.6 85.5l2.35 2.35-2.35 2.35-2.35-2.35zM297.8 119.1l2.35 2.35-2.35 2.35-2.35-2.35zM282.1 103.3l2.35 2.35-2.35 2.35-2.35-2.35zM240.3 105.7l2.35 2.35-2.35 2.35-2.35-2.35z"/><path d="M321.1 84.5l2.35 2.35-2.35 2.35-2.35-2.35zM268.0 101.9l2.35 2.35-2.35 2.35-2.35-2.35zM241.5 104.7l2.35 2.35-2.35 2.35-2.35-2.35zM307.9 102.8l2.35 2.35-2.35 2.35-2.35-2.35zM283.7 87.3l2.35 2.35-2.35 2.35-2.35-2.35zM257.5 107.0l2.35 2.35-2.35 2.35-2.35-2.35z"/><path d="M295.3 86.3l2.35 2.35-2.35 2.35-2.35-2.35zM267.4 103.9l2.35 2.35-2.35 2.35-2.35-2.35zM286.7 103.4l2.35 2.35-2.35 2.35-2.35-2.35zM311.6 74.7l2.35 2.35-2.35 2.35-2.35-2.35zM217.1 111.2l2.35 2.35-2.35 2.35-2.35-2.35zM296.6 79.3l2.35 2.35-2.35 2.35-2.35-2.35z"/><path d="M318.6 78.4l2.35 2.35-2.35 2.35-2.35-2.35zM305.3 67.9l2.35 2.35-2.35 2.35-2.35-2.35zM347.9 64.8l2.35 2.35-2.35 2.35-2.35-2.35zM262.9 106.8l2.35 2.35-2.35 2.35-2.35-2.35zM243.6 117.6l2.35 2.35-2.35 2.35-2.35-2.35zM255.9 120.2l2.35 2.35-2.35 2.35-2.35-2.35z"/><path d="M219.6 111.8l2.35 2.35-2.35 2.35-2.35-2.35zM286.0 120.7l2.35 2.35-2.35 2.35-2.35-2.35zM232.0 112.3l2.35 2.35-2.35 2.35-2.35-2.35zM309.8 76.1l2.35 2.35-2.35 2.35-2.35-2.35zM342.5 60.1l2.35 2.35-2.35 2.35-2.35-2.35zM262.9 113.6l2.35 2.35-2.35 2.35-2.35-2.35z"/><path d="M296.3 102.9l2.35 2.35-2.35 2.35-2.35-2.35zM248.1 103.3l2.35 2.35-2.35 2.35-2.35-2.35zM341.4 53.4l2.35 2.35-2.35 2.35-2.35-2.35zM319.0 87.1l2.35 2.35-2.35 2.35-2.35-2.35zM287.6 100.5l2.35 2.35-2.35 2.35-2.35-2.35zM274.4 99.8l2.35 2.35-2.35 2.35-2.35-2.35z"/><path d="M217.1 114.6l2.35 2.35-2.35 2.35-2.35-2.35zM332.3 69.6l2.35 2.35-2.35 2.35-2.35-2.35zM214.3 112.5l2.35 2.35-2.35 2.35-2.35-2.35zM319.6 70.4l2.35 2.35-2.35 2.35-2.35-2.35zM268.4 113.6l2.35 2.35-2.35 2.35-2.35-2.35zM341.4 64.5l2.35 2.35-2.35 2.35-2.35-2.35z"/><path d="M259.4 104.7l2.35 2.35-2.35 2.35-2.35-2.35zM254.1 116.6l2.35 2.35-2.35 2.35-2.35-2.35zM284.6 107.0l2.35 2.35-2.35 2.35-2.35-2.35zM294.8 100.4l2.35 2.35-2.35 2.35-2.35-2.35zM279.0 121.9l2.35 2.35-2.35 2.35-2.35-2.35zM218.7 116.2l2.35 2.35-2.35 2.35-2.35-2.35z"/><path d="M236.6 120.9l2.35 2.35-2.35 2.35-2.35-2.35zM260.9 113.6l2.35 2.35-2.35 2.35-2.35-2.35zM252.6 116.3l2.35 2.35-2.35 2.35-2.35-2.35zM285.9 108.6l2.35 2.35-2.35 2.35-2.35-2.35zM328.2 70.0l2.35 2.35-2.35 2.35-2.35-2.35zM283.5 88.1l2.35 2.35-2.35 2.35-2.35-2.35z"/><path d="M278.6 94.6l2.35 2.35-2.35 2.35-2.35-2.35zM223.4 118.2l2.35 2.35-2.35 2.35-2.35-2.35zM249.6 106.9l2.35 2.35-2.35 2.35-2.35-2.35zM302.7 111.0l2.35 2.35-2.35 2.35-2.35-2.35zM304.7 87.7l2.35 2.35-2.35 2.35-2.35-2.35zM235.5 105.0l2.35 2.35-2.35 2.35-2.35-2.35z"/><path d="M290.7 105.6l2.35 2.35-2.35 2.35-2.35-2.35zM308.8 91.3l2.35 2.35-2.35 2.35-2.35-2.35zM320.3 75.1l2.35 2.35-2.35 2.35-2.35-2.35zM266.7 99.1l2.35 2.35-2.35 2.35-2.35-2.35zM259.9 114.3l2.35 2.35-2.35 2.35-2.35-2.35zM224.7 117.7l2.35 2.35-2.35 2.35-2.35-2.35z"/><path d="M248.5 126.6l2.35 2.35-2.35 2.35-2.35-2.35zM227.3 114.6l2.35 2.35-2.35 2.35-2.35-2.35zM274.4 112.8l2.35 2.35-2.35 2.35-2.35-2.35zM241.4 111.0l2.35 2.35-2.35 2.35-2.35-2.35zM312.7 83.1l2.35 2.35-2.35 2.35-2.35-2.35zM236.6 123.4l2.35 2.35-2.35 2.35-2.35-2.35z"/><path d="M222.5 118.0l2.35 2.35-2.35 2.35-2.35-2.35zM316.3 90.7l2.35 2.35-2.35 2.35-2.35-2.35zM281.6 123.3l2.35 2.35-2.35 2.35-2.35-2.35zM281.2 106.4l2.35 2.35-2.35 2.35-2.35-2.35zM286.1 108.9l2.35 2.35-2.35 2.35-2.35-2.35zM222.7 110.2l2.35 2.35-2.35 2.35-2.35-2.35z"/><path d="M224.9 107.2l2.35 2.35-2.35 2.35-2.35-2.35zM251.8 102.9l2.35 2.35-2.35 2.35-2.35-2.35zM264.1 110.7l2.35 2.35-2.35 2.35-2.35-2.35zM270.8 104.0l2.35 2.35-2.35 2.35-2.35-2.35zM294.2 98.0l2.35 2.35-2.35 2.35-2.35-2.35zM279.8 91.9l2.35 2.35-2.35 2.35-2.35-2.35z"/><path d="M268.9 128.0l2.35 2.35-2.35 2.35-2.35-2.35zM300.5 100.4l2.35 2.35-2.35 2.35-2.35-2.35zM275.8 114.6l2.35 2.35-2.35 2.35-2.35-2.35zM222.9 111.9l2.35 2.35-2.35 2.35-2.35-2.35zM270.8 94.8l2.35 2.35-2.35 2.35-2.35-2.35zM256.5 106.9l2.35 2.35-2.35 2.35-2.35-2.35z"/><path d="M256.5 107.7l2.35 2.35-2.35 2.35-2.35-2.35zM239.8 117.3l2.35 2.35-2.35 2.35-2.35-2.35zM291.3 97.5l2.35 2.35-2.35 2.35-2.35-2.35zM241.4 108.9l2.35 2.35-2.35 2.35-2.35-2.35zM231.5 119.9l2.35 2.35-2.35 2.35-2.35-2.35zM286.5 94.9l2.35 2.35-2.35 2.35-2.35-2.35z"/><path d="M302.2 101.9l2.35 2.35-2.35 2.35-2.35-2.35zM317.1 108.9l2.35 2.35-2.35 2.35-2.35-2.35zM242.2 112.7l2.35 2.35-2.35 2.35-2.35-2.35zM214.5 111.5l2.35 2.35-2.35 2.35-2.35-2.35zM274.2 100.8l2.35 2.35-2.35 2.35-2.35-2.35zM335.1 69.5l2.35 2.35-2.35 2.35-2.35-2.35z"/><path d="M243.1 111.4l2.35 2.35-2.35 2.35-2.35-2.35zM255.1 102.7l2.35 2.35-2.35 2.35-2.35-2.35zM315.0 81.9l2.35 2.35-2.35 2.35-2.35-2.35zM286.9 125.1l2.35 2.35-2.35 2.35-2.35-2.35zM281.3 112.9l2.35 2.35-2.35 2.35-2.35-2.35zM294.4 99.5l2.35 2.35-2.35 2.35-2.35-2.35z"/><path d="M235.5 112.2l2.35 2.35-2.35 2.35-2.35-2.35zM266.0 98.5l2.35 2.35-2.35 2.35-2.35-2.35zM241.1 102.1l2.35 2.35-2.35 2.35-2.35-2.35zM281.3 102.5l2.35 2.35-2.35 2.35-2.35-2.35zM285.6 107.7l2.35 2.35-2.35 2.35-2.35-2.35zM272.5 86.6l2.35 2.35-2.35 2.35-2.35-2.35z"/><path d="M296.8 110.6l2.35 2.35-2.35 2.35-2.35-2.35zM234.4 112.5l2.35 2.35-2.35 2.35-2.35-2.35zM267.1 84.7l2.35 2.35-2.35 2.35-2.35-2.35zM215.3 110.5l2.35 2.35-2.35 2.35-2.35-2.35zM243.5 105.3l2.35 2.35-2.35 2.35-2.35-2.35zM228.3 112.1l2.35 2.35-2.35 2.35-2.35-2.35z"/><path d="M249.7 98.5l2.35 2.35-2.35 2.35-2.35-2.35zM316.0 56.0l2.35 2.35-2.35 2.35-2.35-2.35zM316.8 83.4l2.35 2.35-2.35 2.35-2.35-2.35zM248.8 112.5l2.35 2.35-2.35 2.35-2.35-2.35zM276.0 91.7l2.35 2.35-2.35 2.35-2.35-2.35zM247.2 92.3l2.35 2.35-2.35 2.35-2.35-2.35z"/><path d="M244.1 107.3l2.35 2.35-2.35 2.35-2.35-2.35zM268.5 116.4l2.35 2.35-2.35 2.35-2.35-2.35zM321.6 78.8l2.35 2.35-2.35 2.35-2.35-2.35zM316.7 95.1l2.35 2.35-2.35 2.35-2.35-2.35zM314.1 77.9l2.35 2.35-2.35 2.35-2.35-2.35zM320.8 85.0l2.35 2.35-2.35 2.35-2.35-2.35z"/><path d="M308.5 86.0l2.35 2.35-2.35 2.35-2.35-2.35zM234.3 110.7l2.35 2.35-2.35 2.35-2.35-2.35zM216.6 108.9l2.35 2.35-2.35 2.35-2.35-2.35zM252.2 129.8l2.35 2.35-2.35 2.35-2.35-2.35zM223.2 110.1l2.35 2.35-2.35 2.35-2.35-2.35zM243.0 109.0l2.35 2.35-2.35 2.35-2.35-2.35z"/><path d="M238.5 108.5l2.35 2.35-2.35 2.35-2.35-2.35zM270.9 123.3l2.35 2.35-2.35 2.35-2.35-2.35zM321.1 69.2l2.35 2.35-2.35 2.35-2.35-2.35zM289.4 109.8l2.35 2.35-2.35 2.35-2.35-2.35zM290.0 95.8l2.35 2.35-2.35 2.35-2.35-2.35zM266.9 113.0l2.35 2.35-2.35 2.35-2.35-2.35z"/><path d="M308.7 94.1l2.35 2.35-2.35 2.35-2.35-2.35zM287.8 107.7l2.35 2.35-2.35 2.35-2.35-2.35zM331.2 86.7l2.35 2.35-2.35 2.35-2.35-2.35zM222.7 117.1l2.35 2.35-2.35 2.35-2.35-2.35zM254.7 95.9l2.35 2.35-2.35 2.35-2.35-2.35zM285.7 116.6l2.35 2.35-2.35 2.35-2.35-2.35z"/><path d="M253.7 108.1l2.35 2.35-2.35 2.35-2.35-2.35zM258.2 127.1l2.35 2.35-2.35 2.35-2.35-2.35zM257.3 97.4l2.35 2.35-2.35 2.35-2.35-2.35zM304.3 111.1l2.35 2.35-2.35 2.35-2.35-2.35zM241.8 121.3l2.35 2.35-2.35 2.35-2.35-2.35zM294.5 102.2l2.35 2.35-2.35 2.35-2.35-2.35z"/><path d="M240.0 106.1l2.35 2.35-2.35 2.35-2.35-2.35zM283.7 119.2l2.35 2.35-2.35 2.35-2.35-2.35zM278.3 105.8l2.35 2.35-2.35 2.35-2.35-2.35zM238.5 106.3l2.35 2.35-2.35 2.35-2.35-2.35zM280.9 103.8l2.35 2.35-2.35 2.35-2.35-2.35zM234.8 117.8l2.35 2.35-2.35 2.35-2.35-2.35z"/><path d="M277.1 99.6l2.35 2.35-2.35 2.35-2.35-2.35zM290.1 87.5l2.35 2.35-2.35 2.35-2.35-2.35zM246.2 88.4l2.35 2.35-2.35 2.35-2.35-2.35zM243.5 98.7l2.35 2.35-2.35 2.35-2.35-2.35zM245.5 126.5l2.35 2.35-2.35 2.35-2.35-2.35zM220.6 104.2l2.35 2.35-2.35 2.35-2.35-2.35z"/><path d="M276.7 92.7l2.35 2.35-2.35 2.35-2.35-2.35zM282.1 99.8l2.35 2.35-2.35 2.35-2.35-2.35zM318.6 77.6l2.35 2.35-2.35 2.35-2.35-2.35zM228.1 102.9l2.35 2.35-2.35 2.35-2.35-2.35zM252.4 112.0l2.35 2.35-2.35 2.35-2.35-2.35zM332.7 82.0l2.35 2.35-2.35 2.35-2.35-2.35z"/><path d="M275.1 108.4l2.35 2.35-2.35 2.35-2.35-2.35zM268.2 99.2l2.35 2.35-2.35 2.35-2.35-2.35zM263.3 113.7l2.35 2.35-2.35 2.35-2.35-2.35zM274.6 113.1l2.35 2.35-2.35 2.35-2.35-2.35zM298.7 113.9l2.35 2.35-2.35 2.35-2.35-2.35zM222.6 108.6l2.35 2.35-2.35 2.35-2.35-2.35z"/><path d="M267.5 119.0l2.35 2.35-2.35 2.35-2.35-2.35zM225.0 113.6l2.35 2.35-2.35 2.35-2.35-2.35zM228.4 117.5l2.35 2.35-2.35 2.35-2.35-2.35zM258.6 94.5l2.35 2.35-2.35 2.35-2.35-2.35zM235.3 102.5l2.35 2.35-2.35 2.35-2.35-2.35zM239.8 90.1l2.35 2.35-2.35 2.35-2.35-2.35z"/><path d="M265.1 115.0l2.35 2.35-2.35 2.35-2.35-2.35zM310.6 101.4l2.35 2.35-2.35 2.35-2.35-2.35zM325.0 76.2l2.35 2.35-2.35 2.35-2.35-2.35zM269.4 122.4l2.35 2.35-2.35 2.35-2.35-2.35zM243.6 115.0l2.35 2.35-2.35 2.35-2.35-2.35zM275.4 97.1l2.35 2.35-2.35 2.35-2.35-2.35z"/><path d="M254.1 108.5l2.35 2.35-2.35 2.35-2.35-2.35zM306.0 83.2l2.35 2.35-2.35 2.35-2.35-2.35zM326.5 84.1l2.35 2.35-2.35 2.35-2.35-2.35zM216.3 116.2l2.35 2.35-2.35 2.35-2.35-2.35zM220.2 113.7l2.35 2.35-2.35 2.35-2.35-2.35zM292.0 90.0l2.35 2.35-2.35 2.35-2.35-2.35z"/><path d="M330.0 64.9l2.35 2.35-2.35 2.35-2.35-2.35zM246.4 98.6l2.35 2.35-2.35 2.35-2.35-2.35zM283.5 101.6l2.35 2.35-2.35 2.35-2.35-2.35zM216.6 117.6l2.35 2.35-2.35 2.35-2.35-2.35zM295.7 104.9l2.35 2.35-2.35 2.35-2.35-2.35zM270.4 106.2l2.35 2.35-2.35 2.35-2.35-2.35z"/><path d="M334.0 83.3l2.35 2.35-2.35 2.35-2.35-2.35zM323.0 89.6l2.35 2.35-2.35 2.35-2.35-2.35zM230.7 125.6l2.35 2.35-2.35 2.35-2.35-2.35zM239.8 108.1l2.35 2.35-2.35 2.35-2.35-2.35zM282.8 100.4l2.35 2.35-2.35 2.35-2.35-2.35zM233.5 119.0l2.35 2.35-2.35 2.35-2.35-2.35z"/><path d="M281.2 91.9l2.35 2.35-2.35 2.35-2.35-2.35zM298.6 96.8l2.35 2.35-2.35 2.35-2.35-2.35zM273.7 107.1l2.35 2.35-2.35 2.35-2.35-2.35zM264.5 99.9l2.35 2.35-2.35 2.35-2.35-2.35zM336.8 66.1l2.35 2.35-2.35 2.35-2.35-2.35zM310.8 102.2l2.35 2.35-2.35 2.35-2.35-2.35z"/><path d="M295.1 108.3l2.35 2.35-2.35 2.35-2.35-2.35zM285.8 119.9l2.35 2.35-2.35 2.35-2.35-2.35zM235.8 105.7l2.35 2.35-2.35 2.35-2.35-2.35zM240.0 111.7l2.35 2.35-2.35 2.35-2.35-2.35zM285.4 91.2l2.35 2.35-2.35 2.35-2.35-2.35zM295.1 108.8l2.35 2.35-2.35 2.35-2.35-2.35z"/><path d="M252.6 121.2l2.35 2.35-2.35 2.35-2.35-2.35zM274.9 92.1l2.35 2.35-2.35 2.35-2.35-2.35zM250.7 101.3l2.35 2.35-2.35 2.35-2.35-2.35zM311.3 106.3l2.35 2.35-2.35 2.35-2.35-2.35zM267.7 94.8l2.35 2.35-2.35 2.35-2.35-2.35zM248.1 117.0l2.35 2.35-2.35 2.35-2.35-2.35z"/><path d="M304.9 75.9l2.35 2.35-2.35 2.35-2.35-2.35zM261.0 102.5l2.35 2.35-2.35 2.35-2.35-2.35zM296.2 107.3l2.35 2.35-2.35 2.35-2.35-2.35zM244.0 112.6l2.35 2.35-2.35 2.35-2.35-2.35zM279.8 106.0l2.35 2.35-2.35 2.35-2.35-2.35zM257.8 123.7l2.35 2.35-2.35 2.35-2.35-2.35z"/><path d="M238.6 104.8l2.35 2.35-2.35 2.35-2.35-2.35zM287.8 105.6l2.35 2.35-2.35 2.35-2.35-2.35zM296.4 89.8l2.35 2.35-2.35 2.35-2.35-2.35zM280.8 137.9l2.35 2.35-2.35 2.35-2.35-2.35zM266.8 98.9l2.35 2.35-2.35 2.35-2.35-2.35zM295.3 99.4l2.35 2.35-2.35 2.35-2.35-2.35z"/><path d="M229.7 120.6l2.35 2.35-2.35 2.35-2.35-2.35zM218.7 100.8l2.35 2.35-2.35 2.35-2.35-2.35zM241.2 103.1l2.35 2.35-2.35 2.35-2.35-2.35zM294.8 111.8l2.35 2.35-2.35 2.35-2.35-2.35zM275.0 114.8l2.35 2.35-2.35 2.35-2.35-2.35zM250.6 103.8l2.35 2.35-2.35 2.35-2.35-2.35z"/><path d="M289.1 79.1l2.35 2.35-2.35 2.35-2.35-2.35zM255.0 103.5l2.35 2.35-2.35 2.35-2.35-2.35zM254.7 113.3l2.35 2.35-2.35 2.35-2.35-2.35zM299.6 74.9l2.35 2.35-2.35 2.35-2.35-2.35zM333.3 76.3l2.35 2.35-2.35 2.35-2.35-2.35zM339.3 56.5l2.35 2.35-2.35 2.35-2.35-2.35z"/><path d="M247.8 103.4l2.35 2.35-2.35 2.35-2.35-2.35zM280.7 105.1l2.35 2.35-2.35 2.35-2.35-2.35zM242.0 116.0l2.35 2.35-2.35 2.35-2.35-2.35zM237.8 115.8l2.35 2.35-2.35 2.35-2.35-2.35zM242.1 110.7l2.35 2.35-2.35 2.35-2.35-2.35zM294.6 82.3l2.35 2.35-2.35 2.35-2.35-2.35z"/><path d="M297.9 99.2l2.35 2.35-2.35 2.35-2.35-2.35zM264.4 117.0l2.35 2.35-2.35 2.35-2.35-2.35zM251.0 96.2l2.35 2.35-2.35 2.35-2.35-2.35zM250.1 99.4l2.35 2.35-2.35 2.35-2.35-2.35zM253.4 108.2l2.35 2.35-2.35 2.35-2.35-2.35zM303.5 79.7l2.35 2.35-2.35 2.35-2.35-2.35z"/><path d="M260.1 105.9l2.35 2.35-2.35 2.35-2.35-2.35zM242.5 93.5l2.35 2.35-2.35 2.35-2.35-2.35zM307.1 93.6l2.35 2.35-2.35 2.35-2.35-2.35zM234.9 117.3l2.35 2.35-2.35 2.35-2.35-2.35zM322.7 85.0l2.35 2.35-2.35 2.35-2.35-2.35zM260.3 106.5l2.35 2.35-2.35 2.35-2.35-2.35z"/><path d="M301.0 94.5l2.35 2.35-2.35 2.35-2.35-2.35zM271.8 112.6l2.35 2.35-2.35 2.35-2.35-2.35zM290.9 107.3l2.35 2.35-2.35 2.35-2.35-2.35zM286.8 118.1l2.35 2.35-2.35 2.35-2.35-2.35zM279.1 110.5l2.35 2.35-2.35 2.35-2.35-2.35zM321.3 65.8l2.35 2.35-2.35 2.35-2.35-2.35z"/><path d="M276.4 107.1l2.35 2.35-2.35 2.35-2.35-2.35zM275.4 116.7l2.35 2.35-2.35 2.35-2.35-2.35zM299.2 105.9l2.35 2.35-2.35 2.35-2.35-2.35zM266.6 115.6l2.35 2.35-2.35 2.35-2.35-2.35zM257.1 109.8l2.35 2.35-2.35 2.35-2.35-2.35zM285.7 112.8l2.35 2.35-2.35 2.35-2.35-2.35z"/><path d="M264.3 94.5l2.35 2.35-2.35 2.35-2.35-2.35zM237.9 118.3l2.35 2.35-2.35 2.35-2.35-2.35zM279.0 107.4l2.35 2.35-2.35 2.35-2.35-2.35zM255.0 93.9l2.35 2.35-2.35 2.35-2.35-2.35zM271.7 106.6l2.35 2.35-2.35 2.35-2.35-2.35zM306.6 78.1l2.35 2.35-2.35 2.35-2.35-2.35z"/><path d="M330.5 75.6l2.35 2.35-2.35 2.35-2.35-2.35zM343.8 57.2l2.35 2.35-2.35 2.35-2.35-2.35zM226.9 94.8l2.35 2.35-2.35 2.35-2.35-2.35zM316.9 96.2l2.35 2.35-2.35 2.35-2.35-2.35zM330.4 69.6l2.35 2.35-2.35 2.35-2.35-2.35zM262.3 119.8l2.35 2.35-2.35 2.35-2.35-2.35z"/><path d="M258.0 108.9l2.35 2.35-2.35 2.35-2.35-2.35zM266.6 114.7l2.35 2.35-2.35 2.35-2.35-2.35zM228.4 110.7l2.35 2.35-2.35 2.35-2.35-2.35zM289.5 116.4l2.35 2.35-2.35 2.35-2.35-2.35zM244.0 130.3l2.35 2.35-2.35 2.35-2.35-2.35zM240.1 105.6l2.35 2.35-2.35 2.35-2.35-2.35z"/><path d="M266.6 105.9l2.35 2.35-2.35 2.35-2.35-2.35zM305.8 78.1l2.35 2.35-2.35 2.35-2.35-2.35zM224.8 110.5l2.35 2.35-2.35 2.35-2.35-2.35zM276.0 103.9l2.35 2.35-2.35 2.35-2.35-2.35zM320.0 92.3l2.35 2.35-2.35 2.35-2.35-2.35zM310.7 106.1l2.35 2.35-2.35 2.35-2.35-2.35z"/><path d="M233.6 110.2l2.35 2.35-2.35 2.35-2.35-2.35zM247.2 121.6l2.35 2.35-2.35 2.35-2.35-2.35zM219.7 104.0l2.35 2.35-2.35 2.35-2.35-2.35zM299.8 79.6l2.35 2.35-2.35 2.35-2.35-2.35zM223.9 108.2l2.35 2.35-2.35 2.35-2.35-2.35zM281.6 88.7l2.35 2.35-2.35 2.35-2.35-2.35z"/><path d="M306.6 94.0l2.35 2.35-2.35 2.35-2.35-2.35zM289.4 108.2l2.35 2.35-2.35 2.35-2.35-2.35zM307.4 64.1l2.35 2.35-2.35 2.35-2.35-2.35zM281.7 106.6l2.35 2.35-2.35 2.35-2.35-2.35zM221.4 103.8l2.35 2.35-2.35 2.35-2.35-2.35zM236.7 118.1l2.35 2.35-2.35 2.35-2.35-2.35z"/><path d="M313.5 84.1l2.35 2.35-2.35 2.35-2.35-2.35zM232.3 104.2l2.35 2.35-2.35 2.35-2.35-2.35zM255.2 126.4l2.35 2.35-2.35 2.35-2.35-2.35zM261.7 124.5l2.35 2.35-2.35 2.35-2.35-2.35zM294.5 109.2l2.35 2.35-2.35 2.35-2.35-2.35zM344.8 64.8l2.35 2.35-2.35 2.35-2.35-2.35z"/><path d="M299.1 97.2l2.35 2.35-2.35 2.35-2.35-2.35zM232.2 117.8l2.35 2.35-2.35 2.35-2.35-2.35zM223.8 117.8l2.35 2.35-2.35 2.35-2.35-2.35zM268.7 118.9l2.35 2.35-2.35 2.35-2.35-2.35zM233.2 120.2l2.35 2.35-2.35 2.35-2.35-2.35zM259.5 104.4l2.35 2.35-2.35 2.35-2.35-2.35z"/><path d="M282.7 109.8l2.35 2.35-2.35 2.35-2.35-2.35zM270.2 119.4l2.35 2.35-2.35 2.35-2.35-2.35zM255.1 121.4l2.35 2.35-2.35 2.35-2.35-2.35zM261.0 116.9l2.35 2.35-2.35 2.35-2.35-2.35zM351.3 66.7l2.35 2.35-2.35 2.35-2.35-2.35zM299.3 95.3l2.35 2.35-2.35 2.35-2.35-2.35z"/><path d="M231.1 108.3l2.35 2.35-2.35 2.35-2.35-2.35zM268.0 122.4l2.35 2.35-2.35 2.35-2.35-2.35zM293.2 107.6l2.35 2.35-2.35 2.35-2.35-2.35zM330.5 77.2l2.35 2.35-2.35 2.35-2.35-2.35zM250.4 101.9l2.35 2.35-2.35 2.35-2.35-2.35zM303.3 104.4l2.35 2.35-2.35 2.35-2.35-2.35z"/><path d="M296.2 104.2l2.35 2.35-2.35 2.35-2.35-2.35zM229.8 120.2l2.35 2.35-2.35 2.35-2.35-2.35zM220.0 119.4l2.35 2.35-2.35 2.35-2.35-2.35zM225.1 117.3l2.35 2.35-2.35 2.35-2.35-2.35zM228.3 85.4l2.35 2.35-2.35 2.35-2.35-2.35zM290.5 87.0l2.35 2.35-2.35 2.35-2.35-2.35z"/><path d="M220.3 110.6l2.35 2.35-2.35 2.35-2.35-2.35zM297.9 95.2l2.35 2.35-2.35 2.35-2.35-2.35zM279.0 123.2l2.35 2.35-2.35 2.35-2.35-2.35zM320.0 93.7l2.35 2.35-2.35 2.35-2.35-2.35zM249.4 102.5l2.35 2.35-2.35 2.35-2.35-2.35zM312.6 89.0l2.35 2.35-2.35 2.35-2.35-2.35z"/><path d="M321.5 71.1l2.35 2.35-2.35 2.35-2.35-2.35zM269.6 106.5l2.35 2.35-2.35 2.35-2.35-2.35zM259.1 102.5l2.35 2.35-2.35 2.35-2.35-2.35zM274.0 104.3l2.35 2.35-2.35 2.35-2.35-2.35zM304.1 88.1l2.35 2.35-2.35 2.35-2.35-2.35zM311.6 85.5l2.35 2.35-2.35 2.35-2.35-2.35z"/><path d="M284.4 89.2l2.35 2.35-2.35 2.35-2.35-2.35zM239.6 115.6l2.35 2.35-2.35 2.35-2.35-2.35zM217.0 114.8l2.35 2.35-2.35 2.35-2.35-2.35zM304.9 102.4l2.35 2.35-2.35 2.35-2.35-2.35zM300.7 96.9l2.35 2.35-2.35 2.35-2.35-2.35zM253.7 104.5l2.35 2.35-2.35 2.35-2.35-2.35z"/><path d="M248.4 109.4l2.35 2.35-2.35 2.35-2.35-2.35zM308.8 114.4l2.35 2.35-2.35 2.35-2.35-2.35zM257.4 116.1l2.35 2.35-2.35 2.35-2.35-2.35zM234.6 115.9l2.35 2.35-2.35 2.35-2.35-2.35zM286.1 106.5l2.35 2.35-2.35 2.35-2.35-2.35zM340.5 70.7l2.35 2.35-2.35 2.35-2.35-2.35z"/><path d="M282.6 107.9l2.35 2.35-2.35 2.35-2.35-2.35zM224.5 105.1l2.35 2.35-2.35 2.35-2.35-2.35zM239.9 105.4l2.35 2.35-2.35 2.35-2.35-2.35zM252.2 95.0l2.35 2.35-2.35 2.35-2.35-2.35zM336.1 82.3l2.35 2.35-2.35 2.35-2.35-2.35zM240.0 120.4l2.35 2.35-2.35 2.35-2.35-2.35z"/><path d="M250.0 122.5l2.35 2.35-2.35 2.35-2.35-2.35zM221.6 105.6l2.35 2.35-2.35 2.35-2.35-2.35zM250.7 102.6l2.35 2.35-2.35 2.35-2.35-2.35zM308.5 98.7l2.35 2.35-2.35 2.35-2.35-2.35zM249.8 115.3l2.35 2.35-2.35 2.35-2.35-2.35zM295.6 96.3l2.35 2.35-2.35 2.35-2.35-2.35z"/><path d="M342.2 54.4l2.35 2.35-2.35 2.35-2.35-2.35zM231.7 98.5l2.35 2.35-2.35 2.35-2.35-2.35zM245.7 116.6l2.35 2.35-2.35 2.35-2.35-2.35zM257.6 99.0l2.35 2.35-2.35 2.35-2.35-2.35zM216.9 114.6l2.35 2.35-2.35 2.35-2.35-2.35zM219.5 102.6l2.35 2.35-2.35 2.35-2.35-2.35z"/><path d="M318.7 57.1l2.35 2.35-2.35 2.35-2.35-2.35zM337.9 63.5l2.35 2.35-2.35 2.35-2.35-2.35zM264.8 100.4l2.35 2.35-2.35 2.35-2.35-2.35zM318.1 112.7l2.35 2.35-2.35 2.35-2.35-2.35zM240.9 105.4l2.35 2.35-2.35 2.35-2.35-2.35zM260.3 126.9l2.35 2.35-2.35 2.35-2.35-2.35z"/><path d="M289.0 109.1l2.35 2.35-2.35 2.35-2.35-2.35zM249.1 101.3l2.35 2.35-2.35 2.35-2.35-2.35zM287.6 122.1l2.35 2.35-2.35 2.35-2.35-2.35zM281.1 74.5l2.35 2.35-2.35 2.35-2.35-2.35zM330.2 78.9l2.35 2.35-2.35 2.35-2.35-2.35zM304.1 85.0l2.35 2.35-2.35 2.35-2.35-2.35z"/><path d="M254.0 114.8l2.35 2.35-2.35 2.35-2.35-2.35zM278.4 95.9l2.35 2.35-2.35 2.35-2.35-2.35zM269.1 113.5l2.35 2.35-2.35 2.35-2.35-2.35zM272.2 106.8l2.35 2.35-2.35 2.35-2.35-2.35zM274.8 133.7l2.35 2.35-2.35 2.35-2.35-2.35zM266.5 96.0l2.35 2.35-2.35 2.35-2.35-2.35z"/><path d="M219.6 108.5l2.35 2.35-2.35 2.35-2.35-2.35zM233.7 114.3l2.35 2.35-2.35 2.35-2.35-2.35zM244.2 113.4l2.35 2.35-2.35 2.35-2.35-2.35zM326.1 88.0l2.35 2.35-2.35 2.35-2.35-2.35zM320.1 91.0l2.35 2.35-2.35 2.35-2.35-2.35zM287.9 98.9l2.35 2.35-2.35 2.35-2.35-2.35z"/><path d="M316.1 83.6l2.35 2.35-2.35 2.35-2.35-2.35zM300.2 87.8l2.35 2.35-2.35 2.35-2.35-2.35zM283.0 88.7l2.35 2.35-2.35 2.35-2.35-2.35zM246.6 100.5l2.35 2.35-2.35 2.35-2.35-2.35zM238.1 107.3l2.35 2.35-2.35 2.35-2.35-2.35zM219.1 110.8l2.35 2.35-2.35 2.35-2.35-2.35z"/><path d="M322.1 83.5l2.35 2.35-2.35 2.35-2.35-2.35zM252.6 96.6l2.35 2.35-2.35 2.35-2.35-2.35zM335.0 76.2l2.35 2.35-2.35 2.35-2.35-2.35zM218.9 118.2l2.35 2.35-2.35 2.35-2.35-2.35zM273.3 101.7l2.35 2.35-2.35 2.35-2.35-2.35zM324.7 92.8l2.35 2.35-2.35 2.35-2.35-2.35z"/><path d="M222.0 114.8l2.35 2.35-2.35 2.35-2.35-2.35zM352.7 64.5l2.35 2.35-2.35 2.35-2.35-2.35zM297.7 109.8l2.35 2.35-2.35 2.35-2.35-2.35zM248.3 75.2l2.35 2.35-2.35 2.35-2.35-2.35zM333.0 85.4l2.35 2.35-2.35 2.35-2.35-2.35zM302.0 83.6l2.35 2.35-2.35 2.35-2.35-2.35z"/><path d="M247.7 116.1l2.35 2.35-2.35 2.35-2.35-2.35zM319.4 96.1l2.35 2.35-2.35 2.35-2.35-2.35zM243.9 124.7l2.35 2.35-2.35 2.35-2.35-2.35zM310.1 83.6l2.35 2.35-2.35 2.35-2.35-2.35zM307.2 97.2l2.35 2.35-2.35 2.35-2.35-2.35zM288.0 101.7l2.35 2.35-2.35 2.35-2.35-2.35z"/><path d="M273.2 86.0l2.35 2.35-2.35 2.35-2.35-2.35zM251.0 123.6l2.35 2.35-2.35 2.35-2.35-2.35zM235.8 130.0l2.35 2.35-2.35 2.35-2.35-2.35zM263.0 106.2l2.35 2.35-2.35 2.35-2.35-2.35zM233.5 99.5l2.35 2.35-2.35 2.35-2.35-2.35zM273.9 103.8l2.35 2.35-2.35 2.35-2.35-2.35z"/><path d="M280.0 86.7l2.35 2.35-2.35 2.35-2.35-2.35zM295.0 85.1l2.35 2.35-2.35 2.35-2.35-2.35zM258.4 104.6l2.35 2.35-2.35 2.35-2.35-2.35zM263.7 116.1l2.35 2.35-2.35 2.35-2.35-2.35zM294.8 98.0l2.35 2.35-2.35 2.35-2.35-2.35zM257.1 96.2l2.35 2.35-2.35 2.35-2.35-2.35z"/><path d="M228.2 107.5l2.35 2.35-2.35 2.35-2.35-2.35zM313.1 88.7l2.35 2.35-2.35 2.35-2.35-2.35zM234.5 107.7l2.35 2.35-2.35 2.35-2.35-2.35zM223.0 112.3l2.35 2.35-2.35 2.35-2.35-2.35zM243.7 102.4l2.35 2.35-2.35 2.35-2.35-2.35zM307.8 94.7l2.35 2.35-2.35 2.35-2.35-2.35z"/><path d="M297.0 77.6l2.35 2.35-2.35 2.35-2.35-2.35zM230.0 108.1l2.35 2.35-2.35 2.35-2.35-2.35zM285.4 99.8l2.35 2.35-2.35 2.35-2.35-2.35zM311.0 110.5l2.35 2.35-2.35 2.35-2.35-2.35zM322.0 102.9l2.35 2.35-2.35 2.35-2.35-2.35zM274.5 107.4l2.35 2.35-2.35 2.35-2.35-2.35z"/><path d="M310.6 95.3l2.35 2.35-2.35 2.35-2.35-2.35zM255.9 88.1l2.35 2.35-2.35 2.35-2.35-2.35zM218.6 117.7l2.35 2.35-2.35 2.35-2.35-2.35zM234.6 119.4l2.35 2.35-2.35 2.35-2.35-2.35zM246.5 102.2l2.35 2.35-2.35 2.35-2.35-2.35zM220.6 126.6l2.35 2.35-2.35 2.35-2.35-2.35z"/><path d="M329.5 73.9l2.35 2.35-2.35 2.35-2.35-2.35zM351.7 64.1l2.35 2.35-2.35 2.35-2.35-2.35zM314.3 119.3l2.35 2.35-2.35 2.35-2.35-2.35zM273.5 127.6l2.35 2.35-2.35 2.35-2.35-2.35zM263.7 109.3l2.35 2.35-2.35 2.35-2.35-2.35zM252.6 109.6l2.35 2.35-2.35 2.35-2.35-2.35z"/><path d="M277.5 108.1l2.35 2.35-2.35 2.35-2.35-2.35zM231.8 119.4l2.35 2.35-2.35 2.35-2.35-2.35zM298.7 97.7l2.35 2.35-2.35 2.35-2.35-2.35zM254.3 106.5l2.35 2.35-2.35 2.35-2.35-2.35zM302.2 95.5l2.35 2.35-2.35 2.35-2.35-2.35zM228.5 98.7l2.35 2.35-2.35 2.35-2.35-2.35z"/><path d="M247.4 100.9l2.35 2.35-2.35 2.35-2.35-2.35zM305.4 105.4l2.35 2.35-2.35 2.35-2.35-2.35zM300.6 105.6l2.35 2.35-2.35 2.35-2.35-2.35zM286.7 114.6l2.35 2.35-2.35 2.35-2.35-2.35zM278.1 103.2l2.35 2.35-2.35 2.35-2.35-2.35zM336.8 60.8l2.35 2.35-2.35 2.35-2.35-2.35z"/><path d="M287.2 82.5l2.35 2.35-2.35 2.35-2.35-2.35zM251.5 108.2l2.35 2.35-2.35 2.35-2.35-2.35zM239.1 116.7l2.35 2.35-2.35 2.35-2.35-2.35zM263.4 120.0l2.35 2.35-2.35 2.35-2.35-2.35zM320.8 100.0l2.35 2.35-2.35 2.35-2.35-2.35zM236.3 96.1l2.35 2.35-2.35 2.35-2.35-2.35z"/><path d="M310.9 94.6l2.35 2.35-2.35 2.35-2.35-2.35zM297.1 106.1l2.35 2.35-2.35 2.35-2.35-2.35zM236.2 95.1l2.35 2.35-2.35 2.35-2.35-2.35zM216.0 117.5l2.35 2.35-2.35 2.35-2.35-2.35zM224.1 113.1l2.35 2.35-2.35 2.35-2.35-2.35zM272.6 101.2l2.35 2.35-2.35 2.35-2.35-2.35z"/><path d="M244.9 128.4l2.35 2.35-2.35 2.35-2.35-2.35zM292.8 118.3l2.35 2.35-2.35 2.35-2.35-2.35zM276.0 65.6l2.35 2.35-2.35 2.35-2.35-2.35zM258.4 104.6l2.35 2.35-2.35 2.35-2.35-2.35zM276.5 129.2l2.35 2.35-2.35 2.35-2.35-2.35zM293.4 108.1l2.35 2.35-2.35 2.35-2.35-2.35z"/><path d="M292.2 102.1l2.35 2.35-2.35 2.35-2.35-2.35zM232.6 106.3l2.35 2.35-2.35 2.35-2.35-2.35zM245.2 111.4l2.35 2.35-2.35 2.35-2.35-2.35zM239.5 121.7l2.35 2.35-2.35 2.35-2.35-2.35zM281.3 103.7l2.35 2.35-2.35 2.35-2.35-2.35zM325.6 67.9l2.35 2.35-2.35 2.35-2.35-2.35z"/><path d="M267.4 114.0l2.35 2.35-2.35 2.35-2.35-2.35zM223.2 120.9l2.35 2.35-2.35 2.35-2.35-2.35zM259.2 120.3l2.35 2.35-2.35 2.35-2.35-2.35zM249.0 133.1l2.35 2.35-2.35 2.35-2.35-2.35zM265.5 93.1l2.35 2.35-2.35 2.35-2.35-2.35zM331.5 70.4l2.35 2.35-2.35 2.35-2.35-2.35z"/><path d="M329.6 75.5l2.35 2.35-2.35 2.35-2.35-2.35zM276.2 103.0l2.35 2.35-2.35 2.35-2.35-2.35zM294.1 83.9l2.35 2.35-2.35 2.35-2.35-2.35zM217.8 115.7l2.35 2.35-2.35 2.35-2.35-2.35zM278.6 120.8l2.35 2.35-2.35 2.35-2.35-2.35zM282.6 89.7l2.35 2.35-2.35 2.35-2.35-2.35z"/><path d="M307.0 120.4l2.35 2.35-2.35 2.35-2.35-2.35zM263.4 111.7l2.35 2.35-2.35 2.35-2.35-2.35zM262.2 94.7l2.35 2.35-2.35 2.35-2.35-2.35zM308.5 73.6l2.35 2.35-2.35 2.35-2.35-2.35zM232.5 112.0l2.35 2.35-2.35 2.35-2.35-2.35zM327.0 77.8l2.35 2.35-2.35 2.35-2.35-2.35z"/><path d="M291.2 102.6l2.35 2.35-2.35 2.35-2.35-2.35zM310.7 93.5l2.35 2.35-2.35 2.35-2.35-2.35zM311.9 90.9l2.35 2.35-2.35 2.35-2.35-2.35zM259.8 92.9l2.35 2.35-2.35 2.35-2.35-2.35zM319.9 78.4l2.35 2.35-2.35 2.35-2.35-2.35zM293.3 78.2l2.35 2.35-2.35 2.35-2.35-2.35z"/><path d="M283.4 95.9l2.35 2.35-2.35 2.35-2.35-2.35zM231.8 114.5l2.35 2.35-2.35 2.35-2.35-2.35zM270.5 109.6l2.35 2.35-2.35 2.35-2.35-2.35zM276.8 78.1l2.35 2.35-2.35 2.35-2.35-2.35zM233.9 116.5l2.35 2.35-2.35 2.35-2.35-2.35zM253.5 98.4l2.35 2.35-2.35 2.35-2.35-2.35z"/><path d="M268.3 118.0l2.35 2.35-2.35 2.35-2.35-2.35zM241.7 105.5l2.35 2.35-2.35 2.35-2.35-2.35zM244.5 113.8l2.35 2.35-2.35 2.35-2.35-2.35zM260.2 112.9l2.35 2.35-2.35 2.35-2.35-2.35zM232.2 118.7l2.35 2.35-2.35 2.35-2.35-2.35zM250.9 117.3l2.35 2.35-2.35 2.35-2.35-2.35z"/><path d="M260.1 106.4l2.35 2.35-2.35 2.35-2.35-2.35zM245.2 97.0l2.35 2.35-2.35 2.35-2.35-2.35zM241.8 107.0l2.35 2.35-2.35 2.35-2.35-2.35zM262.3 117.7l2.35 2.35-2.35 2.35-2.35-2.35zM287.6 96.3l2.35 2.35-2.35 2.35-2.35-2.35zM223.1 131.0l2.35 2.35-2.35 2.35-2.35-2.35z"/><path d="M253.0 110.2l2.35 2.35-2.35 2.35-2.35-2.35zM248.2 87.6l2.35 2.35-2.35 2.35-2.35-2.35zM279.5 134.0l2.35 2.35-2.35 2.35-2.35-2.35zM227.9 114.4l2.35 2.35-2.35 2.35-2.35-2.35zM230.8 103.2l2.35 2.35-2.35 2.35-2.35-2.35zM323.2 61.8l2.35 2.35-2.35 2.35-2.35-2.35z"/><path d="M275.4 89.9l2.35 2.35-2.35 2.35-2.35-2.35zM280.3 109.4l2.35 2.35-2.35 2.35-2.35-2.35zM235.3 96.5l2.35 2.35-2.35 2.35-2.35-2.35zM216.6 104.1l2.35 2.35-2.35 2.35-2.35-2.35zM226.5 114.5l2.35 2.35-2.35 2.35-2.35-2.35zM221.0 112.1l2.35 2.35-2.35 2.35-2.35-2.35z"/><path d="M256.4 118.3l2.35 2.35-2.35 2.35-2.35-2.35zM243.9 113.3l2.35 2.35-2.35 2.35-2.35-2.35zM327.8 63.7l2.35 2.35-2.35 2.35-2.35-2.35zM220.7 120.8l2.35 2.35-2.35 2.35-2.35-2.35zM213.7 107.6l2.35 2.35-2.35 2.35-2.35-2.35zM226.4 108.9l2.35 2.35-2.35 2.35-2.35-2.35z"/><path d="M215.0 111.6l2.35 2.35-2.35 2.35-2.35-2.35zM269.2 113.5l2.35 2.35-2.35 2.35-2.35-2.35zM260.4 99.4l2.35 2.35-2.35 2.35-2.35-2.35zM250.5 111.0l2.35 2.35-2.35 2.35-2.35-2.35zM328.4 77.3l2.35 2.35-2.35 2.35-2.35-2.35zM296.0 120.6l2.35 2.35-2.35 2.35-2.35-2.35z"/><path d="M238.5 110.5l2.35 2.35-2.35 2.35-2.35-2.35zM227.7 114.8l2.35 2.35-2.35 2.35-2.35-2.35zM313.1 78.8l2.35 2.35-2.35 2.35-2.35-2.35zM308.3 90.2l2.35 2.35-2.35 2.35-2.35-2.35zM225.4 112.5l2.35 2.35-2.35 2.35-2.35-2.35zM306.9 99.1l2.35 2.35-2.35 2.35-2.35-2.35z"/><path d="M281.7 111.1l2.35 2.35-2.35 2.35-2.35-2.35zM299.6 106.7l2.35 2.35-2.35 2.35-2.35-2.35zM293.8 91.1l2.35 2.35-2.35 2.35-2.35-2.35zM251.9 124.6l2.35 2.35-2.35 2.35-2.35-2.35zM309.1 108.9l2.35 2.35-2.35 2.35-2.35-2.35zM220.8 111.0l2.35 2.35-2.35 2.35-2.35-2.35z"/><path d="M321.9 67.2l2.35 2.35-2.35 2.35-2.35-2.35zM222.2 110.2l2.35 2.35-2.35 2.35-2.35-2.35zM287.5 104.4l2.35 2.35-2.35 2.35-2.35-2.35zM267.4 82.2l2.35 2.35-2.35 2.35-2.35-2.35zM284.5 98.9l2.35 2.35-2.35 2.35-2.35-2.35zM320.8 88.7l2.35 2.35-2.35 2.35-2.35-2.35z"/><path d="M293.8 98.2l2.35 2.35-2.35 2.35-2.35-2.35zM270.2 94.6l2.35 2.35-2.35 2.35-2.35-2.35zM289.8 106.5l2.35 2.35-2.35 2.35-2.35-2.35zM256.9 100.2l2.35 2.35-2.35 2.35-2.35-2.35zM233.2 114.5l2.35 2.35-2.35 2.35-2.35-2.35zM232.5 110.3l2.35 2.35-2.35 2.35-2.35-2.35z"/><path d="M246.6 107.4l2.35 2.35-2.35 2.35-2.35-2.35zM315.6 115.1l2.35 2.35-2.35 2.35-2.35-2.35zM263.8 93.8l2.35 2.35-2.35 2.35-2.35-2.35zM290.0 94.2l2.35 2.35-2.35 2.35-2.35-2.35zM253.8 105.0l2.35 2.35-2.35 2.35-2.35-2.35zM305.4 92.1l2.35 2.35-2.35 2.35-2.35-2.35z"/><path d="M284.1 106.6l2.35 2.35-2.35 2.35-2.35-2.35zM244.7 97.8l2.35 2.35-2.35 2.35-2.35-2.35zM222.4 112.9l2.35 2.35-2.35 2.35-2.35-2.35zM299.1 87.4l2.35 2.35-2.35 2.35-2.35-2.35zM237.2 127.0l2.35 2.35-2.35 2.35-2.35-2.35zM297.7 73.8l2.35 2.35-2.35 2.35-2.35-2.35z"/><path d="M233.1 110.1l2.35 2.35-2.35 2.35-2.35-2.35zM303.0 92.5l2.35 2.35-2.35 2.35-2.35-2.35zM290.8 115.2l2.35 2.35-2.35 2.35-2.35-2.35zM237.4 119.8l2.35 2.35-2.35 2.35-2.35-2.35zM265.2 103.4l2.35 2.35-2.35 2.35-2.35-2.35zM286.6 68.4l2.35 2.35-2.35 2.35-2.35-2.35z"/><path d="M237.5 100.5l2.35 2.35-2.35 2.35-2.35-2.35zM239.3 118.6l2.35 2.35-2.35 2.35-2.35-2.35zM237.4 119.2l2.35 2.35-2.35 2.35-2.35-2.35zM224.1 112.8l2.35 2.35-2.35 2.35-2.35-2.35zM326.4 60.9l2.35 2.35-2.35 2.35-2.35-2.35zM241.5 109.6l2.35 2.35-2.35 2.35-2.35-2.35z"/><path d="M275.5 93.2l2.35 2.35-2.35 2.35-2.35-2.35zM237.2 123.4l2.35 2.35-2.35 2.35-2.35-2.35zM247.0 117.4l2.35 2.35-2.35 2.35-2.35-2.35zM313.5 79.8l2.35 2.35-2.35 2.35-2.35-2.35zM238.3 122.5l2.35 2.35-2.35 2.35-2.35-2.35zM224.9 133.7l2.35 2.35-2.35 2.35-2.35-2.35z"/><path d="M306.9 102.8l2.35 2.35-2.35 2.35-2.35-2.35zM271.5 112.4l2.35 2.35-2.35 2.35-2.35-2.35zM265.0 111.4l2.35 2.35-2.35 2.35-2.35-2.35zM322.4 75.3l2.35 2.35-2.35 2.35-2.35-2.35zM256.1 103.3l2.35 2.35-2.35 2.35-2.35-2.35zM299.6 104.8l2.35 2.35-2.35 2.35-2.35-2.35z"/><path d="M260.4 103.3l2.35 2.35-2.35 2.35-2.35-2.35zM263.4 110.5l2.35 2.35-2.35 2.35-2.35-2.35zM294.8 100.1l2.35 2.35-2.35 2.35-2.35-2.35zM259.9 120.1l2.35 2.35-2.35 2.35-2.35-2.35zM218.3 109.8l2.35 2.35-2.35 2.35-2.35-2.35zM246.1 114.8l2.35 2.35-2.35 2.35-2.35-2.35z"/><path d="M310.6 77.3l2.35 2.35-2.35 2.35-2.35-2.35zM252.4 125.3l2.35 2.35-2.35 2.35-2.35-2.35zM281.5 90.9l2.35 2.35-2.35 2.35-2.35-2.35zM281.4 119.7l2.35 2.35-2.35 2.35-2.35-2.35zM301.7 92.0l2.35 2.35-2.35 2.35-2.35-2.35zM258.0 121.8l2.35 2.35-2.35 2.35-2.35-2.35z"/><path d="M287.9 115.0l2.35 2.35-2.35 2.35-2.35-2.35zM256.8 102.1l2.35 2.35-2.35 2.35-2.35-2.35zM245.5 127.4l2.35 2.35-2.35 2.35-2.35-2.35zM225.2 105.5l2.35 2.35-2.35 2.35-2.35-2.35zM303.9 69.8l2.35 2.35-2.35 2.35-2.35-2.35zM225.8 107.0l2.35 2.35-2.35 2.35-2.35-2.35z"/><path d="M258.3 126.4l2.35 2.35-2.35 2.35-2.35-2.35zM285.0 95.7l2.35 2.35-2.35 2.35-2.35-2.35zM246.9 112.1l2.35 2.35-2.35 2.35-2.35-2.35zM270.6 105.5l2.35 2.35-2.35 2.35-2.35-2.35zM305.6 94.9l2.35 2.35-2.35 2.35-2.35-2.35zM295.6 86.8l2.35 2.35-2.35 2.35-2.35-2.35z"/><path d="M254.6 91.8l2.35 2.35-2.35 2.35-2.35-2.35zM316.1 84.0l2.35 2.35-2.35 2.35-2.35-2.35zM310.0 74.8l2.35 2.35-2.35 2.35-2.35-2.35zM303.9 101.5l2.35 2.35-2.35 2.35-2.35-2.35zM241.6 88.7l2.35 2.35-2.35 2.35-2.35-2.35zM260.2 119.4l2.35 2.35-2.35 2.35-2.35-2.35z"/><path d="M345.8 69.9l2.35 2.35-2.35 2.35-2.35-2.35zM279.9 109.3l2.35 2.35-2.35 2.35-2.35-2.35zM244.2 103.0l2.35 2.35-2.35 2.35-2.35-2.35zM265.0 96.4l2.35 2.35-2.35 2.35-2.35-2.35zM256.7 126.1l2.35 2.35-2.35 2.35-2.35-2.35zM277.4 102.3l2.35 2.35-2.35 2.35-2.35-2.35z"/><path d="M251.4 105.8l2.35 2.35-2.35 2.35-2.35-2.35zM324.5 54.8l2.35 2.35-2.35 2.35-2.35-2.35zM270.3 110.5l2.35 2.35-2.35 2.35-2.35-2.35zM269.5 123.7l2.35 2.35-2.35 2.35-2.35-2.35zM219.2 124.3l2.35 2.35-2.35 2.35-2.35-2.35zM242.8 112.8l2.35 2.35-2.35 2.35-2.35-2.35z"/><path d="M239.9 106.3l2.35 2.35-2.35 2.35-2.35-2.35zM262.2 105.6l2.35 2.35-2.35 2.35-2.35-2.35zM224.3 113.0l2.35 2.35-2.35 2.35-2.35-2.35zM250.2 118.2l2.35 2.35-2.35 2.35-2.35-2.35zM306.7 93.8l2.35 2.35-2.35 2.35-2.35-2.35zM270.4 106.3l2.35 2.35-2.35 2.35-2.35-2.35z"/><path d="M315.4 59.1l2.35 2.35-2.35 2.35-2.35-2.35zM260.9 109.4l2.35 2.35-2.35 2.35-2.35-2.35zM279.1 118.3l2.35 2.35-2.35 2.35-2.35-2.35zM309.9 96.6l2.35 2.35-2.35 2.35-2.35-2.35zM256.8 111.6l2.35 2.35-2.35 2.35-2.35-2.35zM267.2 132.4l2.35 2.35-2.35 2.35-2.35-2.35z"/><path d="M261.9 108.7l2.35 2.35-2.35 2.35-2.35-2.35zM273.4 104.2l2.35 2.35-2.35 2.35-2.35-2.35zM247.3 109.2l2.35 2.35-2.35 2.35-2.35-2.35zM293.3 114.2l2.35 2.35-2.35 2.35-2.35-2.35zM241.4 113.6l2.35 2.35-2.35 2.35-2.35-2.35zM224.2 110.4l2.35 2.35-2.35 2.35-2.35-2.35z"/><path d="M231.4 104.8l2.35 2.35-2.35 2.35-2.35-2.35zM234.8 109.0l2.35 2.35-2.35 2.35-2.35-2.35zM270.1 122.8l2.35 2.35-2.35 2.35-2.35-2.35zM298.9 89.5l2.35 2.35-2.35 2.35-2.35-2.35zM262.6 90.6l2.35 2.35-2.35 2.35-2.35-2.35zM235.7 113.7l2.35 2.35-2.35 2.35-2.35-2.35z"/><path d="M229.1 133.5l2.35 2.35-2.35 2.35-2.35-2.35zM298.3 87.7l2.35 2.35-2.35 2.35-2.35-2.35zM259.5 96.9l2.35 2.35-2.35 2.35-2.35-2.35zM217.9 113.2l2.35 2.35-2.35 2.35-2.35-2.35zM290.0 106.8l2.35 2.35-2.35 2.35-2.35-2.35zM304.4 80.2l2.35 2.35-2.35 2.35-2.35-2.35z"/><path d="M326.2 70.0l2.35 2.35-2.35 2.35-2.35-2.35zM310.4 90.5l2.35 2.35-2.35 2.35-2.35-2.35zM219.1 114.1l2.35 2.35-2.35 2.35-2.35-2.35zM289.4 98.7l2.35 2.35-2.35 2.35-2.35-2.35zM278.1 91.4l2.35 2.35-2.35 2.35-2.35-2.35zM258.3 106.7l2.35 2.35-2.35 2.35-2.35-2.35z"/><path d="M229.8 121.3l2.35 2.35-2.35 2.35-2.35-2.35zM233.4 116.5l2.35 2.35-2.35 2.35-2.35-2.35zM299.5 95.3l2.35 2.35-2.35 2.35-2.35-2.35zM252.0 105.3l2.35 2.35-2.35 2.35-2.35-2.35zM284.4 109.9l2.35 2.35-2.35 2.35-2.35-2.35zM278.6 94.9l2.35 2.35-2.35 2.35-2.35-2.35z"/><path d="M293.5 108.5l2.35 2.35-2.35 2.35-2.35-2.35zM292.1 87.9l2.35 2.35-2.35 2.35-2.35-2.35zM258.2 89.9l2.35 2.35-2.35 2.35-2.35-2.35zM234.0 103.9l2.35 2.35-2.35 2.35-2.35-2.35zM271.5 105.0l2.35 2.35-2.35 2.35-2.35-2.35zM245.6 104.6l2.35 2.35-2.35 2.35-2.35-2.35z"/><path d="M295.9 128.0l2.35 2.35-2.35 2.35-2.35-2.35zM276.9 86.9l2.35 2.35-2.35 2.35-2.35-2.35zM279.2 115.4l2.35 2.35-2.35 2.35-2.35-2.35zM294.8 113.6l2.35 2.35-2.35 2.35-2.35-2.35zM292.8 106.8l2.35 2.35-2.35 2.35-2.35-2.35zM268.1 119.2l2.35 2.35-2.35 2.35-2.35-2.35z"/><path d="M304.2 96.0l2.35 2.35-2.35 2.35-2.35-2.35zM298.5 103.5l2.35 2.35-2.35 2.35-2.35-2.35zM300.7 99.2l2.35 2.35-2.35 2.35-2.35-2.35zM227.6 103.3l2.35 2.35-2.35 2.35-2.35-2.35zM300.3 93.5l2.35 2.35-2.35 2.35-2.35-2.35zM276.5 114.1l2.35 2.35-2.35 2.35-2.35-2.35z"/><path d="M267.2 110.9l2.35 2.35-2.35 2.35-2.35-2.35zM298.5 110.9l2.35 2.35-2.35 2.35-2.35-2.35zM312.2 79.4l2.35 2.35-2.35 2.35-2.35-2.35zM304.4 110.0l2.35 2.35-2.35 2.35-2.35-2.35zM222.2 116.6l2.35 2.35-2.35 2.35-2.35-2.35zM312.4 72.1l2.35 2.35-2.35 2.35-2.35-2.35z"/><path d="M236.5 115.2l2.35 2.35-2.35 2.35-2.35-2.35zM275.7 105.2l2.35 2.35-2.35 2.35-2.35-2.35zM318.7 80.9l2.35 2.35-2.35 2.35-2.35-2.35zM241.0 127.5l2.35 2.35-2.35 2.35-2.35-2.35zM288.7 101.1l2.35 2.35-2.35 2.35-2.35-2.35zM253.3 100.6l2.35 2.35-2.35 2.35-2.35-2.35z"/><path d="M235.4 110.9l2.35 2.35-2.35 2.35-2.35-2.35zM309.4 85.9l2.35 2.35-2.35 2.35-2.35-2.35zM301.3 109.7l2.35 2.35-2.35 2.35-2.35-2.35zM317.7 86.7l2.35 2.35-2.35 2.35-2.35-2.35zM223.8 115.7l2.35 2.35-2.35 2.35-2.35-2.35zM239.7 112.1l2.35 2.35-2.35 2.35-2.35-2.35z"/><path d="M225.7 123.7l2.35 2.35-2.35 2.35-2.35-2.35zM224.9 118.1l2.35 2.35-2.35 2.35-2.35-2.35zM269.6 102.6l2.35 2.35-2.35 2.35-2.35-2.35zM304.7 103.9l2.35 2.35-2.35 2.35-2.35-2.35zM304.3 89.6l2.35 2.35-2.35 2.35-2.35-2.35zM215.5 105.8l2.35 2.35-2.35 2.35-2.35-2.35z"/><path d="M252.1 108.2l2.35 2.35-2.35 2.35-2.35-2.35zM252.1 110.0l2.35 2.35-2.35 2.35-2.35-2.35zM327.9 72.0l2.35 2.35-2.35 2.35-2.35-2.35zM247.9 120.4l2.35 2.35-2.35 2.35-2.35-2.35zM298.3 106.6l2.35 2.35-2.35 2.35-2.35-2.35zM236.3 121.9l2.35 2.35-2.35 2.35-2.35-2.35z"/><path d="M239.8 119.8l2.35 2.35-2.35 2.35-2.35-2.35zM286.4 82.3l2.35 2.35-2.35 2.35-2.35-2.35zM277.7 115.7l2.35 2.35-2.35 2.35-2.35-2.35zM277.1 106.4l2.35 2.35-2.35 2.35-2.35-2.35zM235.4 115.3l2.35 2.35-2.35 2.35-2.35-2.35zM306.6 99.7l2.35 2.35-2.35 2.35-2.35-2.35z"/><path d="M307.0 97.7l2.35 2.35-2.35 2.35-2.35-2.35zM244.2 113.7l2.35 2.35-2.35 2.35-2.35-2.35zM278.1 101.8l2.35 2.35-2.35 2.35-2.35-2.35zM252.9 113.7l2.35 2.35-2.35 2.35-2.35-2.35zM238.6 108.3l2.35 2.35-2.35 2.35-2.35-2.35zM323.7 82.7l2.35 2.35-2.35 2.35-2.35-2.35z"/><path d="M276.4 110.0l2.35 2.35-2.35 2.35-2.35-2.35zM227.9 114.3l2.35 2.35-2.35 2.35-2.35-2.35zM264.0 89.7l2.35 2.35-2.35 2.35-2.35-2.35zM245.4 123.0l2.35 2.35-2.35 2.35-2.35-2.35zM333.2 73.9l2.35 2.35-2.35 2.35-2.35-2.35zM248.3 104.4l2.35 2.35-2.35 2.35-2.35-2.35z"/><path d="M268.2 101.8l2.35 2.35-2.35 2.35-2.35-2.35zM253.0 120.6l2.35 2.35-2.35 2.35-2.35-2.35zM229.4 121.4l2.35 2.35-2.35 2.35-2.35-2.35zM313.4 90.5l2.35 2.35-2.35 2.35-2.35-2.35zM291.6 87.5l2.35 2.35-2.35 2.35-2.35-2.35zM318.7 78.0l2.35 2.35-2.35 2.35-2.35-2.35z"/><path d="M309.4 93.2l2.35 2.35-2.35 2.35-2.35-2.35zM281.2 109.3l2.35 2.35-2.35 2.35-2.35-2.35zM278.8 108.4l2.35 2.35-2.35 2.35-2.35-2.35zM291.1 104.4l2.35 2.35-2.35 2.35-2.35-2.35zM259.0 124.5l2.35 2.35-2.35 2.35-2.35-2.35zM293.8 119.4l2.35 2.35-2.35 2.35-2.35-2.35z"/><path d="M232.2 113.0l2.35 2.35-2.35 2.35-2.35-2.35zM279.3 82.5l2.35 2.35-2.35 2.35-2.35-2.35zM291.3 99.4l2.35 2.35-2.35 2.35-2.35-2.35zM232.6 127.0l2.35 2.35-2.35 2.35-2.35-2.35zM221.1 121.0l2.35 2.35-2.35 2.35-2.35-2.35zM261.5 109.9l2.35 2.35-2.35 2.35-2.35-2.35z"/><path d="M298.6 112.2l2.35 2.35-2.35 2.35-2.35-2.35zM251.2 108.4l2.35 2.35-2.35 2.35-2.35-2.35zM235.8 118.4l2.35 2.35-2.35 2.35-2.35-2.35zM291.2 112.4l2.35 2.35-2.35 2.35-2.35-2.35zM293.9 118.5l2.35 2.35-2.35 2.35-2.35-2.35zM248.1 107.1l2.35 2.35-2.35 2.35-2.35-2.35z"/><path d="M235.5 109.2l2.35 2.35-2.35 2.35-2.35-2.35zM264.0 104.3l2.35 2.35-2.35 2.35-2.35-2.35zM237.3 106.0l2.35 2.35-2.35 2.35-2.35-2.35zM215.7 115.0l2.35 2.35-2.35 2.35-2.35-2.35zM305.3 80.7l2.35 2.35-2.35 2.35-2.35-2.35zM273.2 119.2l2.35 2.35-2.35 2.35-2.35-2.35z"/><path d="M237.7 105.3l2.35 2.35-2.35 2.35-2.35-2.35zM249.3 114.9l2.35 2.35-2.35 2.35-2.35-2.35zM251.9 115.3l2.35 2.35-2.35 2.35-2.35-2.35zM263.6 116.1l2.35 2.35-2.35 2.35-2.35-2.35zM321.2 77.6l2.35 2.35-2.35 2.35-2.35-2.35zM302.7 94.1l2.35 2.35-2.35 2.35-2.35-2.35z"/><path d="M229.5 103.5l2.35 2.35-2.35 2.35-2.35-2.35zM292.0 113.2l2.35 2.35-2.35 2.35-2.35-2.35zM265.7 105.7l2.35 2.35-2.35 2.35-2.35-2.35zM245.1 120.0l2.35 2.35-2.35 2.35-2.35-2.35zM224.2 108.7l2.35 2.35-2.35 2.35-2.35-2.35zM283.3 86.6l2.35 2.35-2.35 2.35-2.35-2.35z"/><path d="M330.1 82.8l2.35 2.35-2.35 2.35-2.35-2.35zM219.2 106.4l2.35 2.35-2.35 2.35-2.35-2.35zM317.4 97.2l2.35 2.35-2.35 2.35-2.35-2.35zM308.6 75.1l2.35 2.35-2.35 2.35-2.35-2.35zM252.7 108.2l2.35 2.35-2.35 2.35-2.35-2.35zM292.8 94.0l2.35 2.35-2.35 2.35-2.35-2.35z"/><path d="M291.8 115.1l2.35 2.35-2.35 2.35-2.35-2.35zM290.6 81.4l2.35 2.35-2.35 2.35-2.35-2.35zM283.3 104.8l2.35 2.35-2.35 2.35-2.35-2.35zM303.3 101.0l2.35 2.35-2.35 2.35-2.35-2.35zM310.0 79.9l2.35 2.35-2.35 2.35-2.35-2.35zM243.8 117.9l2.35 2.35-2.35 2.35-2.35-2.35z"/><path d="M271.4 109.7l2.35 2.35-2.35 2.35-2.35-2.35zM316.9 90.6l2.35 2.35-2.35 2.35-2.35-2.35zM228.3 118.2l2.35 2.35-2.35 2.35-2.35-2.35zM275.8 92.5l2.35 2.35-2.35 2.35-2.35-2.35zM301.7 75.8l2.35 2.35-2.35 2.35-2.35-2.35zM315.4 97.9l2.35 2.35-2.35 2.35-2.35-2.35z"/><path d="M286.8 82.9l2.35 2.35-2.35 2.35-2.35-2.35zM272.9 93.3l2.35 2.35-2.35 2.35-2.35-2.35zM270.0 110.9l2.35 2.35-2.35 2.35-2.35-2.35zM246.2 104.3l2.35 2.35-2.35 2.35-2.35-2.35zM254.0 88.9l2.35 2.35-2.35 2.35-2.35-2.35zM290.0 109.4l2.35 2.35-2.35 2.35-2.35-2.35z"/><path d="M312.9 95.3l2.35 2.35-2.35 2.35-2.35-2.35zM325.0 88.1l2.35 2.35-2.35 2.35-2.35-2.35zM320.2 62.2l2.35 2.35-2.35 2.35-2.35-2.35zM246.6 100.5l2.35 2.35-2.35 2.35-2.35-2.35zM244.3 117.9l2.35 2.35-2.35 2.35-2.35-2.35zM226.2 113.0l2.35 2.35-2.35 2.35-2.35-2.35z"/><path d="M315.1 80.3l2.35 2.35-2.35 2.35-2.35-2.35zM276.6 108.0l2.35 2.35-2.35 2.35-2.35-2.35zM253.2 97.4l2.35 2.35-2.35 2.35-2.35-2.35zM285.9 101.5l2.35 2.35-2.35 2.35-2.35-2.35zM305.1 78.8l2.35 2.35-2.35 2.35-2.35-2.35zM293.8 95.7l2.35 2.35-2.35 2.35-2.35-2.35z"/><path d="M238.5 108.8l2.35 2.35-2.35 2.35-2.35-2.35zM276.8 111.7l2.35 2.35-2.35 2.35-2.35-2.35zM216.9 111.3l2.35 2.35-2.35 2.35-2.35-2.35zM247.7 101.9l2.35 2.35-2.35 2.35-2.35-2.35zM277.5 123.1l2.35 2.35-2.35 2.35-2.35-2.35zM285.1 95.1l2.35 2.35-2.35 2.35-2.35-2.35z"/><path d="M240.6 98.7l2.35 2.35-2.35 2.35-2.35-2.35zM289.2 89.4l2.35 2.35-2.35 2.35-2.35-2.35zM255.0 104.2l2.35 2.35-2.35 2.35-2.35-2.35zM223.3 113.3l2.35 2.35-2.35 2.35-2.35-2.35zM337.7 75.8l2.35 2.35-2.35 2.35-2.35-2.35zM276.9 114.8l2.35 2.35-2.35 2.35-2.35-2.35z"/><path d="M281.5 107.1l2.35 2.35-2.35 2.35-2.35-2.35zM235.5 119.6l2.35 2.35-2.35 2.35-2.35-2.35zM297.3 96.7l2.35 2.35-2.35 2.35-2.35-2.35zM224.8 115.2l2.35 2.35-2.35 2.35-2.35-2.35zM235.6 113.0l2.35 2.35-2.35 2.35-2.35-2.35zM306.0 78.0l2.35 2.35-2.35 2.35-2.35-2.35z"/><path d="M298.1 94.9l2.35 2.35-2.35 2.35-2.35-2.35zM264.8 98.7l2.35 2.35-2.35 2.35-2.35-2.35zM235.0 124.9l2.35 2.35-2.35 2.35-2.35-2.35zM268.9 99.1l2.35 2.35-2.35 2.35-2.35-2.35zM246.9 117.1l2.35 2.35-2.35 2.35-2.35-2.35zM257.2 91.0l2.35 2.35-2.35 2.35-2.35-2.35z"/><path d="M236.9 123.1l2.35 2.35-2.35 2.35-2.35-2.35zM317.4 93.0l2.35 2.35-2.35 2.35-2.35-2.35zM305.0 83.3l2.35 2.35-2.35 2.35-2.35-2.35zM336.8 52.1l2.35 2.35-2.35 2.35-2.35-2.35zM254.8 122.9l2.35 2.35-2.35 2.35-2.35-2.35zM263.6 108.9l2.35 2.35-2.35 2.35-2.35-2.35z"/><path d="M289.6 109.4l2.35 2.35-2.35 2.35-2.35-2.35zM318.5 67.2l2.35 2.35-2.35 2.35-2.35-2.35zM231.5 93.8l2.35 2.35-2.35 2.35-2.35-2.35zM232.6 107.9l2.35 2.35-2.35 2.35-2.35-2.35zM224.3 104.4l2.35 2.35-2.35 2.35-2.35-2.35zM221.8 115.9l2.35 2.35-2.35 2.35-2.35-2.35z"/><path d="M241.4 119.6l2.35 2.35-2.35 2.35-2.35-2.35zM249.9 103.3l2.35 2.35-2.35 2.35-2.35-2.35zM265.0 110.5l2.35 2.35-2.35 2.35-2.35-2.35zM289.7 90.1l2.35 2.35-2.35 2.35-2.35-2.35zM296.5 101.1l2.35 2.35-2.35 2.35-2.35-2.35zM315.1 71.8l2.35 2.35-2.35 2.35-2.35-2.35z"/><path d="M301.5 96.4l2.35 2.35-2.35 2.35-2.35-2.35zM250.8 108.3l2.35 2.35-2.35 2.35-2.35-2.35zM339.2 58.5l2.35 2.35-2.35 2.35-2.35-2.35zM254.5 105.8l2.35 2.35-2.35 2.35-2.35-2.35zM232.8 98.9l2.35 2.35-2.35 2.35-2.35-2.35zM314.2 93.1l2.35 2.35-2.35 2.35-2.35-2.35z"/><path d="M317.8 93.8l2.35 2.35-2.35 2.35-2.35-2.35zM263.2 96.4l2.35 2.35-2.35 2.35-2.35-2.35zM238.3 105.4l2.35 2.35-2.35 2.35-2.35-2.35zM251.6 114.0l2.35 2.35-2.35 2.35-2.35-2.35zM322.8 90.3l2.35 2.35-2.35 2.35-2.35-2.35zM228.2 116.1l2.35 2.35-2.35 2.35-2.35-2.35z"/><path d="M293.4 99.6l2.35 2.35-2.35 2.35-2.35-2.35zM219.8 113.9l2.35 2.35-2.35 2.35-2.35-2.35zM285.8 114.6l2.35 2.35-2.35 2.35-2.35-2.35zM303.2 104.4l2.35 2.35-2.35 2.35-2.35-2.35zM280.8 96.4l2.35 2.35-2.35 2.35-2.35-2.35zM215.4 107.3l2.35 2.35-2.35 2.35-2.35-2.35z"/><path d="M224.8 100.2l2.35 2.35-2.35 2.35-2.35-2.35zM269.5 114.5l2.35 2.35-2.35 2.35-2.35-2.35zM297.6 111.4l2.35 2.35-2.35 2.35-2.35-2.35zM231.4 106.3l2.35 2.35-2.35 2.35-2.35-2.35zM258.6 111.0l2.35 2.35-2.35 2.35-2.35-2.35zM327.0 69.9l2.35 2.35-2.35 2.35-2.35-2.35z"/><path d="M215.2 108.6l2.35 2.35-2.35 2.35-2.35-2.35zM333.5 74.1l2.35 2.35-2.35 2.35-2.35-2.35zM238.3 111.7l2.35 2.35-2.35 2.35-2.35-2.35zM238.2 124.4l2.35 2.35-2.35 2.35-2.35-2.35zM308.7 108.9l2.35 2.35-2.35 2.35-2.35-2.35zM330.8 67.8l2.35 2.35-2.35 2.35-2.35-2.35z"/><path d="M295.2 73.8l2.35 2.35-2.35 2.35-2.35-2.35zM215.1 122.7l2.35 2.35-2.35 2.35-2.35-2.35zM236.1 123.2l2.35 2.35-2.35 2.35-2.35-2.35zM330.1 78.3l2.35 2.35-2.35 2.35-2.35-2.35zM276.3 96.6l2.35 2.35-2.35 2.35-2.35-2.35zM301.7 118.6l2.35 2.35-2.35 2.35-2.35-2.35z"/><path d="M303.6 94.8l2.35 2.35-2.35 2.35-2.35-2.35zM277.9 88.9l2.35 2.35-2.35 2.35-2.35-2.35zM243.0 131.2l2.35 2.35-2.35 2.35-2.35-2.35zM251.0 121.1l2.35 2.35-2.35 2.35-2.35-2.35zM309.8 83.3l2.35 2.35-2.35 2.35-2.35-2.35zM330.1 65.4l2.35 2.35-2.35 2.35-2.35-2.35z"/><path d="M240.1 118.2l2.35 2.35-2.35 2.35-2.35-2.35zM289.4 91.1l2.35 2.35-2.35 2.35-2.35-2.35zM299.3 86.5l2.35 2.35-2.35 2.35-2.35-2.35zM237.5 123.1l2.35 2.35-2.35 2.35-2.35-2.35zM278.3 106.0l2.35 2.35-2.35 2.35-2.35-2.35zM288.0 109.2l2.35 2.35-2.35 2.35-2.35-2.35z"/><path d="M259.1 111.8l2.35 2.35-2.35 2.35-2.35-2.35zM258.1 106.5l2.35 2.35-2.35 2.35-2.35-2.35zM252.3 120.7l2.35 2.35-2.35 2.35-2.35-2.35zM295.2 123.8l2.35 2.35-2.35 2.35-2.35-2.35zM314.5 103.2l2.35 2.35-2.35 2.35-2.35-2.35zM280.6 119.9l2.35 2.35-2.35 2.35-2.35-2.35z"/><path d="M227.4 113.7l2.35 2.35-2.35 2.35-2.35-2.35zM294.9 88.9l2.35 2.35-2.35 2.35-2.35-2.35zM257.8 114.3l2.35 2.35-2.35 2.35-2.35-2.35zM319.1 92.0l2.35 2.35-2.35 2.35-2.35-2.35zM266.1 113.2l2.35 2.35-2.35 2.35-2.35-2.35zM281.4 95.1l2.35 2.35-2.35 2.35-2.35-2.35z"/><path d="M280.6 105.9l2.35 2.35-2.35 2.35-2.35-2.35zM314.4 88.0l2.35 2.35-2.35 2.35-2.35-2.35zM289.2 110.3l2.35 2.35-2.35 2.35-2.35-2.35zM275.8 106.2l2.35 2.35-2.35 2.35-2.35-2.35zM279.7 109.2l2.35 2.35-2.35 2.35-2.35-2.35zM281.6 90.4l2.35 2.35-2.35 2.35-2.35-2.35z"/><path d="M292.6 100.5l2.35 2.35-2.35 2.35-2.35-2.35zM319.7 72.0l2.35 2.35-2.35 2.35-2.35-2.35zM261.5 103.6l2.35 2.35-2.35 2.35-2.35-2.35zM269.6 104.1l2.35 2.35-2.35 2.35-2.35-2.35zM295.9 121.9l2.35 2.35-2.35 2.35-2.35-2.35zM311.2 92.9l2.35 2.35-2.35 2.35-2.35-2.35z"/><path d="M304.1 106.1l2.35 2.35-2.35 2.35-2.35-2.35zM292.0 88.9l2.35 2.35-2.35 2.35-2.35-2.35zM279.5 100.6l2.35 2.35-2.35 2.35-2.35-2.35zM232.3 108.6l2.35 2.35-2.35 2.35-2.35-2.35zM223.4 113.8l2.35 2.35-2.35 2.35-2.35-2.35zM230.8 101.1l2.35 2.35-2.35 2.35-2.35-2.35z"/><path d="M297.7 124.3l2.35 2.35-2.35 2.35-2.35-2.35zM222.6 107.8l2.35 2.35-2.35 2.35-2.35-2.35zM242.1 114.7l2.35 2.35-2.35 2.35-2.35-2.35zM285.2 115.6l2.35 2.35-2.35 2.35-2.35-2.35zM260.2 116.4l2.35 2.35-2.35 2.35-2.35-2.35zM218.1 113.9l2.35 2.35-2.35 2.35-2.35-2.35z"/><path d="M325.2 76.5l2.35 2.35-2.35 2.35-2.35-2.35zM310.3 79.0l2.35 2.35-2.35 2.35-2.35-2.35zM215.6 117.7l2.35 2.35-2.35 2.35-2.35-2.35zM278.9 114.0l2.35 2.35-2.35 2.35-2.35-2.35zM319.5 74.2l2.35 2.35-2.35 2.35-2.35-2.35zM229.9 103.1l2.35 2.35-2.35 2.35-2.35-2.35z"/><path d="M268.5 119.1l2.35 2.35-2.35 2.35-2.35-2.35zM257.6 116.6l2.35 2.35-2.35 2.35-2.35-2.35zM345.5 59.9l2.35 2.35-2.35 2.35-2.35-2.35zM224.7 114.8l2.35 2.35-2.35 2.35-2.35-2.35zM224.3 107.6l2.35 2.35-2.35 2.35-2.35-2.35zM264.4 116.6l2.35 2.35-2.35 2.35-2.35-2.35z"/><path d="M267.6 115.1l2.35 2.35-2.35 2.35-2.35-2.35zM259.4 76.7l2.35 2.35-2.35 2.35-2.35-2.35zM280.8 91.2l2.35 2.35-2.35 2.35-2.35-2.35zM247.9 95.3l2.35 2.35-2.35 2.35-2.35-2.35zM294.9 95.5l2.35 2.35-2.35 2.35-2.35-2.35zM263.8 115.2l2.35 2.35-2.35 2.35-2.35-2.35z"/><path d="M334.3 61.8l2.35 2.35-2.35 2.35-2.35-2.35zM225.7 100.4l2.35 2.35-2.35 2.35-2.35-2.35zM284.6 105.5l2.35 2.35-2.35 2.35-2.35-2.35zM239.8 113.6l2.35 2.35-2.35 2.35-2.35-2.35zM283.4 96.7l2.35 2.35-2.35 2.35-2.35-2.35zM274.8 107.0l2.35 2.35-2.35 2.35-2.35-2.35z"/><path d="M245.1 125.0l2.35 2.35-2.35 2.35-2.35-2.35zM259.2 101.5l2.35 2.35-2.35 2.35-2.35-2.35zM272.8 96.9l2.35 2.35-2.35 2.35-2.35-2.35zM283.6 125.2l2.35 2.35-2.35 2.35-2.35-2.35zM315.5 68.3l2.35 2.35-2.35 2.35-2.35-2.35zM278.4 118.6l2.35 2.35-2.35 2.35-2.35-2.35z"/><path d="M313.3 103.1l2.35 2.35-2.35 2.35-2.35-2.35zM279.4 115.9l2.35 2.35-2.35 2.35-2.35-2.35zM277.2 105.9l2.35 2.35-2.35 2.35-2.35-2.35zM233.2 112.7l2.35 2.35-2.35 2.35-2.35-2.35zM289.2 123.8l2.35 2.35-2.35 2.35-2.35-2.35zM343.9 62.7l2.35 2.35-2.35 2.35-2.35-2.35z"/><path d="M241.3 107.5l2.35 2.35-2.35 2.35-2.35-2.35zM303.2 104.7l2.35 2.35-2.35 2.35-2.35-2.35zM281.6 133.1l2.35 2.35-2.35 2.35-2.35-2.35zM225.6 121.5l2.35 2.35-2.35 2.35-2.35-2.35zM243.3 118.0l2.35 2.35-2.35 2.35-2.35-2.35zM269.2 99.2l2.35 2.35-2.35 2.35-2.35-2.35z"/><path d="M230.7 116.3l2.35 2.35-2.35 2.35-2.35-2.35zM226.5 109.2l2.35 2.35-2.35 2.35-2.35-2.35zM257.8 79.5l2.35 2.35-2.35 2.35-2.35-2.35zM329.2 75.9l2.35 2.35-2.35 2.35-2.35-2.35zM245.8 113.1l2.35 2.35-2.35 2.35-2.35-2.35zM332.0 66.1l2.35 2.35-2.35 2.35-2.35-2.35z"/><path d="M237.3 100.8l2.35 2.35-2.35 2.35-2.35-2.35zM260.2 94.6l2.35 2.35-2.35 2.35-2.35-2.35zM311.1 90.7l2.35 2.35-2.35 2.35-2.35-2.35zM260.5 122.8l2.35 2.35-2.35 2.35-2.35-2.35zM311.2 112.8l2.35 2.35-2.35 2.35-2.35-2.35zM277.5 116.5l2.35 2.35-2.35 2.35-2.35-2.35z"/><path d="M279.3 109.6l2.35 2.35-2.35 2.35-2.35-2.35zM303.5 111.1l2.35 2.35-2.35 2.35-2.35-2.35zM299.4 117.7l2.35 2.35-2.35 2.35-2.35-2.35zM231.7 115.3l2.35 2.35-2.35 2.35-2.35-2.35zM275.6 112.2l2.35 2.35-2.35 2.35-2.35-2.35zM321.8 88.8l2.35 2.35-2.35 2.35-2.35-2.35z"/><path d="M249.8 93.0l2.35 2.35-2.35 2.35-2.35-2.35zM234.3 104.2l2.35 2.35-2.35 2.35-2.35-2.35zM320.0 98.2l2.35 2.35-2.35 2.35-2.35-2.35zM286.6 92.3l2.35 2.35-2.35 2.35-2.35-2.35zM300.1 100.7l2.35 2.35-2.35 2.35-2.35-2.35zM284.7 114.5l2.35 2.35-2.35 2.35-2.35-2.35z"/><path d="M229.7 117.5l2.35 2.35-2.35 2.35-2.35-2.35zM316.4 58.8l2.35 2.35-2.35 2.35-2.35-2.35zM241.6 113.1l2.35 2.35-2.35 2.35-2.35-2.35zM307.3 104.9l2.35 2.35-2.35 2.35-2.35-2.35zM270.3 110.2l2.35 2.35-2.35 2.35-2.35-2.35zM257.0 102.3l2.35 2.35-2.35 2.35-2.35-2.35z"/><path d="M242.3 110.8l2.35 2.35-2.35 2.35-2.35-2.35zM316.3 90.7l2.35 2.35-2.35 2.35-2.35-2.35zM306.6 106.1l2.35 2.35-2.35 2.35-2.35-2.35zM233.6 118.4l2.35 2.35-2.35 2.35-2.35-2.35zM332.5 85.0l2.35 2.35-2.35 2.35-2.35-2.35zM239.0 112.1l2.35 2.35-2.35 2.35-2.35-2.35z"/><path d="M329.7 71.6l2.35 2.35-2.35 2.35-2.35-2.35zM283.0 99.4l2.35 2.35-2.35 2.35-2.35-2.35zM271.9 108.7l2.35 2.35-2.35 2.35-2.35-2.35zM295.1 84.5l2.35 2.35-2.35 2.35-2.35-2.35zM306.9 89.5l2.35 2.35-2.35 2.35-2.35-2.35zM261.5 102.8l2.35 2.35-2.35 2.35-2.35-2.35z"/><path d="M309.1 105.5l2.35 2.35-2.35 2.35-2.35-2.35zM312.4 95.0l2.35 2.35-2.35 2.35-2.35-2.35zM262.6 114.2l2.35 2.35-2.35 2.35-2.35-2.35zM295.1 87.5l2.35 2.35-2.35 2.35-2.35-2.35zM283.8 106.0l2.35 2.35-2.35 2.35-2.35-2.35zM278.8 107.8l2.35 2.35-2.35 2.35-2.35-2.35z"/><path d="M279.1 108.5l2.35 2.35-2.35 2.35-2.35-2.35zM235.0 98.7l2.35 2.35-2.35 2.35-2.35-2.35zM308.7 99.3l2.35 2.35-2.35 2.35-2.35-2.35zM286.9 113.1l2.35 2.35-2.35 2.35-2.35-2.35zM228.4 110.6l2.35 2.35-2.35 2.35-2.35-2.35zM273.9 107.7l2.35 2.35-2.35 2.35-2.35-2.35z"/><path d="M241.6 98.6l2.35 2.35-2.35 2.35-2.35-2.35zM266.0 94.9l2.35 2.35-2.35 2.35-2.35-2.35zM298.1 95.3l2.35 2.35-2.35 2.35-2.35-2.35zM221.0 114.2l2.35 2.35-2.35 2.35-2.35-2.35zM295.6 100.2l2.35 2.35-2.35 2.35-2.35-2.35zM260.8 93.6l2.35 2.35-2.35 2.35-2.35-2.35z"/><path d="M228.0 108.7l2.35 2.35-2.35 2.35-2.35-2.35zM228.7 106.9l2.35 2.35-2.35 2.35-2.35-2.35zM331.3 93.7l2.35 2.35-2.35 2.35-2.35-2.35zM262.1 121.2l2.35 2.35-2.35 2.35-2.35-2.35zM246.9 112.4l2.35 2.35-2.35 2.35-2.35-2.35zM298.0 91.1l2.35 2.35-2.35 2.35-2.35-2.35z"/><path d="M214.2 110.8l2.35 2.35-2.35 2.35-2.35-2.35zM326.7 76.9l2.35 2.35-2.35 2.35-2.35-2.35zM275.6 127.5l2.35 2.35-2.35 2.35-2.35-2.35zM224.8 111.8l2.35 2.35-2.35 2.35-2.35-2.35zM277.6 115.5l2.35 2.35-2.35 2.35-2.35-2.35zM308.2 118.6l2.35 2.35-2.35 2.35-2.35-2.35z"/><path d="M274.1 117.7l2.35 2.35-2.35 2.35-2.35-2.35zM220.6 116.3l2.35 2.35-2.35 2.35-2.35-2.35zM256.8 107.8l2.35 2.35-2.35 2.35-2.35-2.35zM234.2 105.4l2.35 2.35-2.35 2.35-2.35-2.35zM215.1 113.3l2.35 2.35-2.35 2.35-2.35-2.35zM291.6 102.1l2.35 2.35-2.35 2.35-2.35-2.35z"/><path d="M291.3 108.7l2.35 2.35-2.35 2.35-2.35-2.35zM228.3 112.6l2.35 2.35-2.35 2.35-2.35-2.35zM260.5 121.4l2.35 2.35-2.35 2.35-2.35-2.35zM292.8 92.4l2.35 2.35-2.35 2.35-2.35-2.35zM238.9 111.6l2.35 2.35-2.35 2.35-2.35-2.35zM274.6 93.8l2.35 2.35-2.35 2.35-2.35-2.35z"/><path d="M232.5 107.2l2.35 2.35-2.35 2.35-2.35-2.35zM225.7 115.5l2.35 2.35-2.35 2.35-2.35-2.35zM293.6 102.4l2.35 2.35-2.35 2.35-2.35-2.35zM251.9 110.6l2.35 2.35-2.35 2.35-2.35-2.35zM286.9 102.4l2.35 2.35-2.35 2.35-2.35-2.35zM283.8 135.8l2.35 2.35-2.35 2.35-2.35-2.35z"/><path d="M307.6 104.4l2.35 2.35-2.35 2.35-2.35-2.35zM229.2 96.2l2.35 2.35-2.35 2.35-2.35-2.35zM268.8 106.2l2.35 2.35-2.35 2.35-2.35-2.35zM222.5 102.5l2.35 2.35-2.35 2.35-2.35-2.35zM301.2 103.8l2.35 2.35-2.35 2.35-2.35-2.35zM267.2 125.4l2.35 2.35-2.35 2.35-2.35-2.35z"/><path d="M290.4 105.7l2.35 2.35-2.35 2.35-2.35-2.35zM312.4 93.9l2.35 2.35-2.35 2.35-2.35-2.35zM287.1 112.6l2.35 2.35-2.35 2.35-2.35-2.35zM235.4 101.0l2.35 2.35-2.35 2.35-2.35-2.35zM253.0 94.8l2.35 2.35-2.35 2.35-2.35-2.35zM302.7 104.6l2.35 2.35-2.35 2.35-2.35-2.35z"/><path d="M254.0 89.0l2.35 2.35-2.35 2.35-2.35-2.35zM282.0 92.4l2.35 2.35-2.35 2.35-2.35-2.35zM266.9 121.0l2.35 2.35-2.35 2.35-2.35-2.35zM288.5 88.8l2.35 2.35-2.35 2.35-2.35-2.35zM301.1 92.1l2.35 2.35-2.35 2.35-2.35-2.35zM286.3 102.4l2.35 2.35-2.35 2.35-2.35-2.35z"/><path d="M309.9 109.9l2.35 2.35-2.35 2.35-2.35-2.35zM238.5 107.1l2.35 2.35-2.35 2.35-2.35-2.35zM303.3 104.9l2.35 2.35-2.35 2.35-2.35-2.35zM239.1 94.7l2.35 2.35-2.35 2.35-2.35-2.35zM282.1 116.9l2.35 2.35-2.35 2.35-2.35-2.35zM308.2 110.1l2.35 2.35-2.35 2.35-2.35-2.35z"/><path d="M289.9 95.9l2.35 2.35-2.35 2.35-2.35-2.35zM221.6 121.1l2.35 2.35-2.35 2.35-2.35-2.35zM306.1 75.7l2.35 2.35-2.35 2.35-2.35-2.35zM253.1 119.1l2.35 2.35-2.35 2.35-2.35-2.35zM231.6 105.6l2.35 2.35-2.35 2.35-2.35-2.35zM329.9 83.3l2.35 2.35-2.35 2.35-2.35-2.35z"/><path d="M257.7 114.4l2.35 2.35-2.35 2.35-2.35-2.35zM232.6 110.3l2.35 2.35-2.35 2.35-2.35-2.35zM307.6 101.0l2.35 2.35-2.35 2.35-2.35-2.35zM285.8 94.0l2.35 2.35-2.35 2.35-2.35-2.35zM229.2 117.6l2.35 2.35-2.35 2.35-2.35-2.35zM218.5 104.3l2.35 2.35-2.35 2.35-2.35-2.35z"/><path d="M319.3 74.9l2.35 2.35-2.35 2.35-2.35-2.35zM327.3 91.7l2.35 2.35-2.35 2.35-2.35-2.35zM317.3 64.2l2.35 2.35-2.35 2.35-2.35-2.35zM304.4 90.6l2.35 2.35-2.35 2.35-2.35-2.35zM222.5 118.6l2.35 2.35-2.35 2.35-2.35-2.35zM318.4 81.9l2.35 2.35-2.35 2.35-2.35-2.35z"/><path d="M251.3 108.5l2.35 2.35-2.35 2.35-2.35-2.35zM258.6 99.6l2.35 2.35-2.35 2.35-2.35-2.35zM237.9 103.3l2.35 2.35-2.35 2.35-2.35-2.35zM247.6 98.4l2.35 2.35-2.35 2.35-2.35-2.35zM218.9 121.3l2.35 2.35-2.35 2.35-2.35-2.35zM324.6 76.6l2.35 2.35-2.35 2.35-2.35-2.35z"/><path d="M224.6 116.9l2.35 2.35-2.35 2.35-2.35-2.35zM342.3 76.1l2.35 2.35-2.35 2.35-2.35-2.35zM222.5 118.3l2.35 2.35-2.35 2.35-2.35-2.35zM243.9 120.7l2.35 2.35-2.35 2.35-2.35-2.35zM226.6 108.9l2.35 2.35-2.35 2.35-2.35-2.35zM325.1 81.7l2.35 2.35-2.35 2.35-2.35-2.35z"/><path d="M233.2 108.3l2.35 2.35-2.35 2.35-2.35-2.35zM293.9 101.5l2.35 2.35-2.35 2.35-2.35-2.35zM298.8 96.4l2.35 2.35-2.35 2.35-2.35-2.35zM293.1 94.4l2.35 2.35-2.35 2.35-2.35-2.35zM238.3 118.3l2.35 2.35-2.35 2.35-2.35-2.35zM304.5 96.4l2.35 2.35-2.35 2.35-2.35-2.35z"/><path d="M249.0 111.8l2.35 2.35-2.35 2.35-2.35-2.35zM311.6 95.9l2.35 2.35-2.35 2.35-2.35-2.35zM222.9 119.9l2.35 2.35-2.35 2.35-2.35-2.35zM223.4 110.3l2.35 2.35-2.35 2.35-2.35-2.35zM228.3 106.7l2.35 2.35-2.35 2.35-2.35-2.35zM238.5 94.2l2.35 2.35-2.35 2.35-2.35-2.35z"/><path d="M318.9 82.4l2.35 2.35-2.35 2.35-2.35-2.35zM247.3 107.8l2.35 2.35-2.35 2.35-2.35-2.35zM215.5 120.0l2.35 2.35-2.35 2.35-2.35-2.35zM276.6 105.9l2.35 2.35-2.35 2.35-2.35-2.35zM272.8 90.9l2.35 2.35-2.35 2.35-2.35-2.35zM242.6 91.7l2.35 2.35-2.35 2.35-2.35-2.35z"/><path d="M292.9 94.0l2.35 2.35-2.35 2.35-2.35-2.35zM262.2 89.2l2.35 2.35-2.35 2.35-2.35-2.35zM213.6 105.1l2.35 2.35-2.35 2.35-2.35-2.35zM255.7 86.1l2.35 2.35-2.35 2.35-2.35-2.35zM258.5 99.8l2.35 2.35-2.35 2.35-2.35-2.35zM247.0 115.9l2.35 2.35-2.35 2.35-2.35-2.35z"/><path d="M235.8 109.3l2.35 2.35-2.35 2.35-2.35-2.35zM267.6 92.2l2.35 2.35-2.35 2.35-2.35-2.35zM313.0 94.9l2.35 2.35-2.35 2.35-2.35-2.35zM238.8 110.9l2.35 2.35-2.35 2.35-2.35-2.35zM314.8 96.8l2.35 2.35-2.35 2.35-2.35-2.35zM226.1 116.2l2.35 2.35-2.35 2.35-2.35-2.35z"/><path d="M282.6 121.1l2.35 2.35-2.35 2.35-2.35-2.35zM230.3 101.6l2.35 2.35-2.35 2.35-2.35-2.35zM283.8 111.2l2.35 2.35-2.35 2.35-2.35-2.35zM248.9 108.8l2.35 2.35-2.35 2.35-2.35-2.35zM291.1 94.1l2.35 2.35-2.35 2.35-2.35-2.35zM306.6 96.4l2.35 2.35-2.35 2.35-2.35-2.35z"/><path d="M247.5 120.9l2.35 2.35-2.35 2.35-2.35-2.35zM305.0 101.3l2.35 2.35-2.35 2.35-2.35-2.35zM243.1 120.6l2.35 2.35-2.35 2.35-2.35-2.35zM265.7 105.9l2.35 2.35-2.35 2.35-2.35-2.35zM226.1 116.9l2.35 2.35-2.35 2.35-2.35-2.35zM263.9 94.8l2.35 2.35-2.35 2.35-2.35-2.35z"/><path d="M323.3 83.9l2.35 2.35-2.35 2.35-2.35-2.35zM235.5 106.6l2.35 2.35-2.35 2.35-2.35-2.35zM269.0 117.8l2.35 2.35-2.35 2.35-2.35-2.35zM223.7 125.9l2.35 2.35-2.35 2.35-2.35-2.35zM293.9 104.9l2.35 2.35-2.35 2.35-2.35-2.35zM243.1 101.6l2.35 2.35-2.35 2.35-2.35-2.35z"/><path d="M297.5 86.3l2.35 2.35-2.35 2.35-2.35-2.35zM284.1 88.0l2.35 2.35-2.35 2.35-2.35-2.35zM328.6 79.4l2.35 2.35-2.35 2.35-2.35-2.35zM240.6 114.3l2.35 2.35-2.35 2.35-2.35-2.35zM292.0 99.4l2.35 2.35-2.35 2.35-2.35-2.35zM282.1 108.0l2.35 2.35-2.35 2.35-2.35-2.35z"/><path d="M225.8 107.8l2.35 2.35-2.35 2.35-2.35-2.35zM272.7 96.2l2.35 2.35-2.35 2.35-2.35-2.35zM328.8 67.3l2.35 2.35-2.35 2.35-2.35-2.35zM306.5 103.0l2.35 2.35-2.35 2.35-2.35-2.35zM254.2 93.9l2.35 2.35-2.35 2.35-2.35-2.35zM282.5 127.6l2.35 2.35-2.35 2.35-2.35-2.35z"/><path d="M253.4 113.1l2.35 2.35-2.35 2.35-2.35-2.35zM299.6 105.0l2.35 2.35-2.35 2.35-2.35-2.35zM294.1 101.3l2.35 2.35-2.35 2.35-2.35-2.35zM236.6 113.9l2.35 2.35-2.35 2.35-2.35-2.35zM299.7 83.6l2.35 2.35-2.35 2.35-2.35-2.35zM325.7 85.8l2.35 2.35-2.35 2.35-2.35-2.35z"/><path d="M284.2 94.2l2.35 2.35-2.35 2.35-2.35-2.35zM304.2 109.1l2.35 2.35-2.35 2.35-2.35-2.35zM256.3 109.6l2.35 2.35-2.35 2.35-2.35-2.35zM228.3 109.1l2.35 2.35-2.35 2.35-2.35-2.35zM292.9 88.5l2.35 2.35-2.35 2.35-2.35-2.35zM296.2 115.7l2.35 2.35-2.35 2.35-2.35-2.35z"/><path d="M283.3 131.4l2.35 2.35-2.35 2.35-2.35-2.35zM313.0 70.0l2.35 2.35-2.35 2.35-2.35-2.35zM235.1 119.8l2.35 2.35-2.35 2.35-2.35-2.35zM273.8 109.8l2.35 2.35-2.35 2.35-2.35-2.35zM229.2 113.5l2.35 2.35-2.35 2.35-2.35-2.35zM303.0 78.4l2.35 2.35-2.35 2.35-2.35-2.35z"/><path d="M241.6 104.3l2.35 2.35-2.35 2.35-2.35-2.35zM230.3 101.9l2.35 2.35-2.35 2.35-2.35-2.35zM303.3 79.1l2.35 2.35-2.35 2.35-2.35-2.35zM271.2 100.7l2.35 2.35-2.35 2.35-2.35-2.35zM287.7 105.2l2.35 2.35-2.35 2.35-2.35-2.35zM303.7 78.6l2.35 2.35-2.35 2.35-2.35-2.35z"/><path d="M297.8 86.0l2.35 2.35-2.35 2.35-2.35-2.35zM333.8 68.9l2.35 2.35-2.35 2.35-2.35-2.35zM305.0 116.8l2.35 2.35-2.35 2.35-2.35-2.35zM315.0 94.6l2.35 2.35-2.35 2.35-2.35-2.35zM235.2 107.5l2.35 2.35-2.35 2.35-2.35-2.35zM224.8 116.0l2.35 2.35-2.35 2.35-2.35-2.35z"/><path d="M312.1 78.8l2.35 2.35-2.35 2.35-2.35-2.35zM263.2 77.9l2.35 2.35-2.35 2.35-2.35-2.35zM307.2 91.6l2.35 2.35-2.35 2.35-2.35-2.35zM310.4 86.5l2.35 2.35-2.35 2.35-2.35-2.35zM292.5 89.6l2.35 2.35-2.35 2.35-2.35-2.35zM263.8 87.4l2.35 2.35-2.35 2.35-2.35-2.35z"/><path d="M288.8 129.1l2.35 2.35-2.35 2.35-2.35-2.35zM275.5 111.5l2.35 2.35-2.35 2.35-2.35-2.35zM292.1 82.5l2.35 2.35-2.35 2.35-2.35-2.35zM225.0 112.4l2.35 2.35-2.35 2.35-2.35-2.35zM251.0 127.5l2.35 2.35-2.35 2.35-2.35-2.35zM273.9 99.3l2.35 2.35-2.35 2.35-2.35-2.35z"/><path d="M282.7 120.1l2.35 2.35-2.35 2.35-2.35-2.35zM251.8 100.2l2.35 2.35-2.35 2.35-2.35-2.35zM252.2 99.4l2.35 2.35-2.35 2.35-2.35-2.35zM225.8 115.0l2.35 2.35-2.35 2.35-2.35-2.35zM314.1 101.5l2.35 2.35-2.35 2.35-2.35-2.35zM317.6 80.2l2.35 2.35-2.35 2.35-2.35-2.35z"/><path d="M245.2 113.9l2.35 2.35-2.35 2.35-2.35-2.35zM247.4 113.2l2.35 2.35-2.35 2.35-2.35-2.35zM230.3 116.6l2.35 2.35-2.35 2.35-2.35-2.35zM290.2 107.7l2.35 2.35-2.35 2.35-2.35-2.35zM285.2 115.1l2.35 2.35-2.35 2.35-2.35-2.35zM258.3 99.4l2.35 2.35-2.35 2.35-2.35-2.35z"/><path d="M301.2 82.1l2.35 2.35-2.35 2.35-2.35-2.35zM303.4 105.8l2.35 2.35-2.35 2.35-2.35-2.35zM223.0 122.0l2.35 2.35-2.35 2.35-2.35-2.35zM222.6 106.9l2.35 2.35-2.35 2.35-2.35-2.35zM287.7 85.5l2.35 2.35-2.35 2.35-2.35-2.35zM252.0 103.9l2.35 2.35-2.35 2.35-2.35-2.35z"/><path d="M312.5 76.0l2.35 2.35-2.35 2.35-2.35-2.35zM237.0 103.9l2.35 2.35-2.35 2.35-2.35-2.35zM251.9 108.8l2.35 2.35-2.35 2.35-2.35-2.35zM230.9 113.8l2.35 2.35-2.35 2.35-2.35-2.35zM308.8 100.7l2.35 2.35-2.35 2.35-2.35-2.35zM312.6 90.2l2.35 2.35-2.35 2.35-2.35-2.35z"/><path d="M284.3 125.3l2.35 2.35-2.35 2.35-2.35-2.35zM335.5 57.9l2.35 2.35-2.35 2.35-2.35-2.35zM291.0 115.7l2.35 2.35-2.35 2.35-2.35-2.35zM240.9 108.3l2.35 2.35-2.35 2.35-2.35-2.35zM255.9 105.0l2.35 2.35-2.35 2.35-2.35-2.35zM309.4 92.3l2.35 2.35-2.35 2.35-2.35-2.35z"/><path d="M251.5 110.0l2.35 2.35-2.35 2.35-2.35-2.35zM251.0 117.9l2.35 2.35-2.35 2.35-2.35-2.35zM292.7 106.1l2.35 2.35-2.35 2.35-2.35-2.35zM307.4 83.5l2.35 2.35-2.35 2.35-2.35-2.35zM320.2 76.1l2.35 2.35-2.35 2.35-2.35-2.35zM288.1 119.0l2.35 2.35-2.35 2.35-2.35-2.35z"/><path d="M230.3 112.2l2.35 2.35-2.35 2.35-2.35-2.35zM238.6 127.1l2.35 2.35-2.35 2.35-2.35-2.35zM303.9 96.0l2.35 2.35-2.35 2.35-2.35-2.35zM252.3 108.9l2.35 2.35-2.35 2.35-2.35-2.35zM297.4 116.8l2.35 2.35-2.35 2.35-2.35-2.35zM227.7 100.2l2.35 2.35-2.35 2.35-2.35-2.35z"/><path d="M259.9 123.5l2.35 2.35-2.35 2.35-2.35-2.35zM296.0 83.9l2.35 2.35-2.35 2.35-2.35-2.35zM289.1 123.2l2.35 2.35-2.35 2.35-2.35-2.35zM299.5 88.6l2.35 2.35-2.35 2.35-2.35-2.35zM296.8 124.7l2.35 2.35-2.35 2.35-2.35-2.35zM284.6 109.6l2.35 2.35-2.35 2.35-2.35-2.35z"/><path d="M331.0 84.9l2.35 2.35-2.35 2.35-2.35-2.35zM284.1 99.5l2.35 2.35-2.35 2.35-2.35-2.35zM248.8 118.7l2.35 2.35-2.35 2.35-2.35-2.35zM287.6 105.2l2.35 2.35-2.35 2.35-2.35-2.35zM261.7 105.8l2.35 2.35-2.35 2.35-2.35-2.35zM255.0 120.1l2.35 2.35-2.35 2.35-2.35-2.35z"/><path d="M294.8 108.5l2.35 2.35-2.35 2.35-2.35-2.35zM288.9 99.1l2.35 2.35-2.35 2.35-2.35-2.35zM222.9 119.8l2.35 2.35-2.35 2.35-2.35-2.35zM321.7 78.5l2.35 2.35-2.35 2.35-2.35-2.35zM226.6 126.6l2.35 2.35-2.35 2.35-2.35-2.35zM293.5 74.6l2.35 2.35-2.35 2.35-2.35-2.35z"/><path d="M246.7 99.9l2.35 2.35-2.35 2.35-2.35-2.35zM280.3 123.0l2.35 2.35-2.35 2.35-2.35-2.35zM279.5 114.9l2.35 2.35-2.35 2.35-2.35-2.35zM261.0 112.7l2.35 2.35-2.35 2.35-2.35-2.35zM294.2 93.7l2.35 2.35-2.35 2.35-2.35-2.35zM315.2 79.8l2.35 2.35-2.35 2.35-2.35-2.35z"/><path d="M275.5 92.9l2.35 2.35-2.35 2.35-2.35-2.35zM232.2 102.0l2.35 2.35-2.35 2.35-2.35-2.35zM276.6 119.5l2.35 2.35-2.35 2.35-2.35-2.35zM322.7 80.0l2.35 2.35-2.35 2.35-2.35-2.35zM259.1 110.8l2.35 2.35-2.35 2.35-2.35-2.35zM214.7 110.9l2.35 2.35-2.35 2.35-2.35-2.35z"/><path d="M262.8 110.2l2.35 2.35-2.35 2.35-2.35-2.35zM245.8 128.5l2.35 2.35-2.35 2.35-2.35-2.35zM276.0 111.9l2.35 2.35-2.35 2.35-2.35-2.35zM234.3 90.0l2.35 2.35-2.35 2.35-2.35-2.35zM330.4 74.5l2.35 2.35-2.35 2.35-2.35-2.35zM308.9 78.0l2.35 2.35-2.35 2.35-2.35-2.35z"/><path d="M221.0 113.6l2.35 2.35-2.35 2.35-2.35-2.35zM323.3 83.8l2.35 2.35-2.35 2.35-2.35-2.35zM224.8 112.4l2.35 2.35-2.35 2.35-2.35-2.35zM215.2 115.4l2.35 2.35-2.35 2.35-2.35-2.35zM305.1 84.2l2.35 2.35-2.35 2.35-2.35-2.35zM218.3 116.5l2.35 2.35-2.35 2.35-2.35-2.35z"/><path d="M288.6 126.4l2.35 2.35-2.35 2.35-2.35-2.35zM265.1 97.9l2.35 2.35-2.35 2.35-2.35-2.35zM245.9 105.7l2.35 2.35-2.35 2.35-2.35-2.35zM255.9 113.9l2.35 2.35-2.35 2.35-2.35-2.35zM236.8 112.9l2.35 2.35-2.35 2.35-2.35-2.35zM232.4 105.4l2.35 2.35-2.35 2.35-2.35-2.35z"/><path d="M259.9 104.7l2.35 2.35-2.35 2.35-2.35-2.35zM265.8 119.3l2.35 2.35-2.35 2.35-2.35-2.35zM236.0 99.5l2.35 2.35-2.35 2.35-2.35-2.35zM217.5 97.9l2.35 2.35-2.35 2.35-2.35-2.35zM232.7 111.7l2.35 2.35-2.35 2.35-2.35-2.35zM293.7 114.1l2.35 2.35-2.35 2.35-2.35-2.35z"/><path d="M318.4 74.1l2.35 2.35-2.35 2.35-2.35-2.35zM335.5 58.9l2.35 2.35-2.35 2.35-2.35-2.35zM238.5 119.5l2.35 2.35-2.35 2.35-2.35-2.35zM266.8 125.3l2.35 2.35-2.35 2.35-2.35-2.35zM327.6 89.3l2.35 2.35-2.35 2.35-2.35-2.35zM233.6 116.1l2.35 2.35-2.35 2.35-2.35-2.35z"/><path d="M315.3 100.4l2.35 2.35-2.35 2.35-2.35-2.35zM225.2 116.2l2.35 2.35-2.35 2.35-2.35-2.35zM265.3 113.3l2.35 2.35-2.35 2.35-2.35-2.35zM253.5 127.4l2.35 2.35-2.35 2.35-2.35-2.35zM295.7 96.8l2.35 2.35-2.35 2.35-2.35-2.35zM333.2 61.1l2.35 2.35-2.35 2.35-2.35-2.35z"/><path d="M270.4 132.2l2.35 2.35-2.35 2.35-2.35-2.35zM316.9 90.4l2.35 2.35-2.35 2.35-2.35-2.35zM315.1 94.2l2.35 2.35-2.35 2.35-2.35-2.35zM299.7 109.1l2.35 2.35-2.35 2.35-2.35-2.35zM256.0 109.7l2.35 2.35-2.35 2.35-2.35-2.35zM219.8 121.1l2.35 2.35-2.35 2.35-2.35-2.35z"/><path d="M297.5 90.4l2.35 2.35-2.35 2.35-2.35-2.35zM235.0 115.7l2.35 2.35-2.35 2.35-2.35-2.35zM268.5 120.9l2.35 2.35-2.35 2.35-2.35-2.35zM286.4 99.2l2.35 2.35-2.35 2.35-2.35-2.35zM221.2 113.3l2.35 2.35-2.35 2.35-2.35-2.35zM279.0 88.9l2.35 2.35-2.35 2.35-2.35-2.35z"/><path d="M321.4 82.4l2.35 2.35-2.35 2.35-2.35-2.35zM286.2 109.5l2.35 2.35-2.35 2.35-2.35-2.35zM324.9 62.4l2.35 2.35-2.35 2.35-2.35-2.35zM300.8 96.4l2.35 2.35-2.35 2.35-2.35-2.35zM253.8 107.4l2.35 2.35-2.35 2.35-2.35-2.35zM264.5 92.9l2.35 2.35-2.35 2.35-2.35-2.35z"/><path d="M281.4 113.0l2.35 2.35-2.35 2.35-2.35-2.35zM263.9 110.8l2.35 2.35-2.35 2.35-2.35-2.35zM315.4 98.1l2.35 2.35-2.35 2.35-2.35-2.35zM320.2 65.0l2.35 2.35-2.35 2.35-2.35-2.35zM244.2 120.7l2.35 2.35-2.35 2.35-2.35-2.35zM220.9 121.9l2.35 2.35-2.35 2.35-2.35-2.35z"/><path d="M289.1 118.8l2.35 2.35-2.35 2.35-2.35-2.35zM289.6 80.7l2.35 2.35-2.35 2.35-2.35-2.35zM307.4 82.0l2.35 2.35-2.35 2.35-2.35-2.35zM258.6 118.3l2.35 2.35-2.35 2.35-2.35-2.35zM310.9 101.2l2.35 2.35-2.35 2.35-2.35-2.35zM256.9 85.7l2.35 2.35-2.35 2.35-2.35-2.35z"/><path d="M298.8 108.6l2.35 2.35-2.35 2.35-2.35-2.35zM294.8 102.0l2.35 2.35-2.35 2.35-2.35-2.35zM299.1 109.4l2.35 2.35-2.35 2.35-2.35-2.35zM280.9 75.0l2.35 2.35-2.35 2.35-2.35-2.35zM278.6 115.6l2.35 2.35-2.35 2.35-2.35-2.35zM307.6 111.8l2.35 2.35-2.35 2.35-2.35-2.35z"/><path d="M264.5 107.4l2.35 2.35-2.35 2.35-2.35-2.35zM259.5 107.1l2.35 2.35-2.35 2.35-2.35-2.35zM236.3 115.5l2.35 2.35-2.35 2.35-2.35-2.35zM229.2 119.2l2.35 2.35-2.35 2.35-2.35-2.35zM297.8 125.0l2.35 2.35-2.35 2.35-2.35-2.35zM287.4 115.9l2.35 2.35-2.35 2.35-2.35-2.35z"/><path d="M235.8 96.0l2.35 2.35-2.35 2.35-2.35-2.35zM249.8 128.5l2.35 2.35-2.35 2.35-2.35-2.35zM285.6 88.4l2.35 2.35-2.35 2.35-2.35-2.35zM253.4 86.9l2.35 2.35-2.35 2.35-2.35-2.35zM265.4 93.6l2.35 2.35-2.35 2.35-2.35-2.35zM266.1 104.6l2.35 2.35-2.35 2.35-2.35-2.35z"/><path d="M262.9 94.5l2.35 2.35-2.35 2.35-2.35-2.35zM240.4 100.1l2.35 2.35-2.35 2.35-2.35-2.35zM254.8 124.6l2.35 2.35-2.35 2.35-2.35-2.35zM298.6 92.2l2.35 2.35-2.35 2.35-2.35-2.35zM297.5 113.2l2.35 2.35-2.35 2.35-2.35-2.35zM316.4 111.0l2.35 2.35-2.35 2.35-2.35-2.35z"/><path d="M291.5 89.5l2.35 2.35-2.35 2.35-2.35-2.35zM315.6 97.3l2.35 2.35-2.35 2.35-2.35-2.35zM318.0 83.5l2.35 2.35-2.35 2.35-2.35-2.35zM321.2 96.7l2.35 2.35-2.35 2.35-2.35-2.35zM270.6 95.3l2.35 2.35-2.35 2.35-2.35-2.35zM305.2 87.7l2.35 2.35-2.35 2.35-2.35-2.35z"/><path d="M286.9 107.6l2.35 2.35-2.35 2.35-2.35-2.35zM261.6 119.4l2.35 2.35-2.35 2.35-2.35-2.35zM251.7 118.1l2.35 2.35-2.35 2.35-2.35-2.35zM265.8 106.7l2.35 2.35-2.35 2.35-2.35-2.35zM288.9 111.5l2.35 2.35-2.35 2.35-2.35-2.35zM298.4 113.0l2.35 2.35-2.35 2.35-2.35-2.35z"/><path d="M249.0 105.3l2.35 2.35-2.35 2.35-2.35-2.35zM238.7 108.7l2.35 2.35-2.35 2.35-2.35-2.35zM260.8 98.0l2.35 2.35-2.35 2.35-2.35-2.35zM257.8 100.3l2.35 2.35-2.35 2.35-2.35-2.35zM258.1 122.8l2.35 2.35-2.35 2.35-2.35-2.35zM311.8 89.7l2.35 2.35-2.35 2.35-2.35-2.35z"/><path d="M310.3 102.5l2.35 2.35-2.35 2.35-2.35-2.35zM220.1 123.0l2.35 2.35-2.35 2.35-2.35-2.35zM255.6 108.8l2.35 2.35-2.35 2.35-2.35-2.35zM247.1 114.1l2.35 2.35-2.35 2.35-2.35-2.35zM319.3 80.9l2.35 2.35-2.35 2.35-2.35-2.35zM344.9 66.2l2.35 2.35-2.35 2.35-2.35-2.35z"/><path d="M277.8 97.7l2.35 2.35-2.35 2.35-2.35-2.35zM230.8 113.9l2.35 2.35-2.35 2.35-2.35-2.35zM223.7 111.2l2.35 2.35-2.35 2.35-2.35-2.35zM268.9 95.5l2.35 2.35-2.35 2.35-2.35-2.35zM280.4 83.4l2.35 2.35-2.35 2.35-2.35-2.35zM226.6 115.7l2.35 2.35-2.35 2.35-2.35-2.35z"/><path d="M286.8 129.2l2.35 2.35-2.35 2.35-2.35-2.35zM219.2 124.0l2.35 2.35-2.35 2.35-2.35-2.35zM301.7 81.8l2.35 2.35-2.35 2.35-2.35-2.35zM221.3 100.9l2.35 2.35-2.35 2.35-2.35-2.35zM295.5 89.7l2.35 2.35-2.35 2.35-2.35-2.35zM297.9 80.1l2.35 2.35-2.35 2.35-2.35-2.35z"/><path d="M242.5 114.7l2.35 2.35-2.35 2.35-2.35-2.35zM241.2 116.5l2.35 2.35-2.35 2.35-2.35-2.35zM271.3 91.6l2.35 2.35-2.35 2.35-2.35-2.35zM223.4 107.0l2.35 2.35-2.35 2.35-2.35-2.35zM263.4 102.1l2.35 2.35-2.35 2.35-2.35-2.35zM293.9 92.9l2.35 2.35-2.35 2.35-2.35-2.35z"/><path d="M311.1 91.0l2.35 2.35-2.35 2.35-2.35-2.35zM261.0 127.1l2.35 2.35-2.35 2.35-2.35-2.35zM234.3 101.7l2.35 2.35-2.35 2.35-2.35-2.35zM232.0 109.6l2.35 2.35-2.35 2.35-2.35-2.35zM241.1 118.0l2.35 2.35-2.35 2.35-2.35-2.35zM243.5 115.6l2.35 2.35-2.35 2.35-2.35-2.35z"/><path d="M332.2 65.6l2.35 2.35-2.35 2.35-2.35-2.35zM337.2 74.0l2.35 2.35-2.35 2.35-2.35-2.35zM269.9 120.5l2.35 2.35-2.35 2.35-2.35-2.35zM314.4 84.0l2.35 2.35-2.35 2.35-2.35-2.35zM323.1 72.5l2.35 2.35-2.35 2.35-2.35-2.35zM239.2 102.6l2.35 2.35-2.35 2.35-2.35-2.35z"/><path d="M241.3 103.1l2.35 2.35-2.35 2.35-2.35-2.35zM303.7 91.5l2.35 2.35-2.35 2.35-2.35-2.35zM245.4 112.4l2.35 2.35-2.35 2.35-2.35-2.35zM250.2 129.5l2.35 2.35-2.35 2.35-2.35-2.35zM264.6 109.4l2.35 2.35-2.35 2.35-2.35-2.35zM253.0 116.0l2.35 2.35-2.35 2.35-2.35-2.35z"/><path d="M246.1 94.4l2.35 2.35-2.35 2.35-2.35-2.35zM221.2 116.4l2.35 2.35-2.35 2.35-2.35-2.35zM282.1 99.7l2.35 2.35-2.35 2.35-2.35-2.35zM283.3 93.3l2.35 2.35-2.35 2.35-2.35-2.35zM264.8 120.6l2.35 2.35-2.35 2.35-2.35-2.35zM267.5 120.9l2.35 2.35-2.35 2.35-2.35-2.35z"/><path d="M256.1 95.5l2.35 2.35-2.35 2.35-2.35-2.35zM315.7 74.0l2.35 2.35-2.35 2.35-2.35-2.35zM236.2 126.2l2.35 2.35-2.35 2.35-2.35-2.35zM232.1 111.0l2.35 2.35-2.35 2.35-2.35-2.35zM324.2 66.8l2.35 2.35-2.35 2.35-2.35-2.35zM247.3 118.4l2.35 2.35-2.35 2.35-2.35-2.35z"/><path d="M252.0 109.4l2.35 2.35-2.35 2.35-2.35-2.35zM258.7 107.6l2.35 2.35-2.35 2.35-2.35-2.35zM294.8 105.1l2.35 2.35-2.35 2.35-2.35-2.35zM295.1 107.3l2.35 2.35-2.35 2.35-2.35-2.35zM313.8 119.1l2.35 2.35-2.35 2.35-2.35-2.35zM239.8 121.7l2.35 2.35-2.35 2.35-2.35-2.35z"/><path d="M303.4 100.1l2.35 2.35-2.35 2.35-2.35-2.35zM219.6 112.0l2.35 2.35-2.35 2.35-2.35-2.35zM325.2 62.2l2.35 2.35-2.35 2.35-2.35-2.35zM302.7 65.4l2.35 2.35-2.35 2.35-2.35-2.35zM313.1 73.6l2.35 2.35-2.35 2.35-2.35-2.35zM257.6 107.1l2.35 2.35-2.35 2.35-2.35-2.35z"/><path d="M245.7 121.6l2.35 2.35-2.35 2.35-2.35-2.35zM248.3 112.6l2.35 2.35-2.35 2.35-2.35-2.35zM248.4 99.9l2.35 2.35-2.35 2.35-2.35-2.35zM296.0 102.2l2.35 2.35-2.35 2.35-2.35-2.35zM268.5 104.4l2.35 2.35-2.35 2.35-2.35-2.35zM313.7 74.5l2.35 2.35-2.35 2.35-2.35-2.35z"/><path d="M251.3 119.6l2.35 2.35-2.35 2.35-2.35-2.35zM214.6 118.0l2.35 2.35-2.35 2.35-2.35-2.35zM220.9 102.7l2.35 2.35-2.35 2.35-2.35-2.35zM306.4 86.8l2.35 2.35-2.35 2.35-2.35-2.35zM278.8 92.9l2.35 2.35-2.35 2.35-2.35-2.35zM311.1 87.2l2.35 2.35-2.35 2.35-2.35-2.35z"/><path d="M238.8 120.4l2.35 2.35-2.35 2.35-2.35-2.35zM256.4 94.8l2.35 2.35-2.35 2.35-2.35-2.35zM296.1 105.1l2.35 2.35-2.35 2.35-2.35-2.35zM271.6 100.4l2.35 2.35-2.35 2.35-2.35-2.35zM289.7 94.1l2.35 2.35-2.35 2.35-2.35-2.35zM306.2 87.7l2.35 2.35-2.35 2.35-2.35-2.35z"/><path d="M239.3 121.4l2.35 2.35-2.35 2.35-2.35-2.35zM228.3 107.7l2.35 2.35-2.35 2.35-2.35-2.35zM307.6 107.9l2.35 2.35-2.35 2.35-2.35-2.35zM263.5 104.0l2.35 2.35-2.35 2.35-2.35-2.35zM298.2 103.7l2.35 2.35-2.35 2.35-2.35-2.35zM341.0 53.8l2.35 2.35-2.35 2.35-2.35-2.35z"/><path d="M230.3 116.6l2.35 2.35-2.35 2.35-2.35-2.35zM246.9 111.8l2.35 2.35-2.35 2.35-2.35-2.35zM339.0 68.4l2.35 2.35-2.35 2.35-2.35-2.35zM255.7 129.6l2.35 2.35-2.35 2.35-2.35-2.35zM315.9 89.9l2.35 2.35-2.35 2.35-2.35-2.35zM282.6 104.3l2.35 2.35-2.35 2.35-2.35-2.35z"/><path d="M283.1 113.4l2.35 2.35-2.35 2.35-2.35-2.35zM223.2 113.8l2.35 2.35-2.35 2.35-2.35-2.35zM224.8 110.2l2.35 2.35-2.35 2.35-2.35-2.35zM293.9 95.8l2.35 2.35-2.35 2.35-2.35-2.35zM295.2 93.2l2.35 2.35-2.35 2.35-2.35-2.35zM250.0 99.5l2.35 2.35-2.35 2.35-2.35-2.35z"/><path d="M290.5 87.0l2.35 2.35-2.35 2.35-2.35-2.35zM313.7 92.1l2.35 2.35-2.35 2.35-2.35-2.35zM230.3 109.1l2.35 2.35-2.35 2.35-2.35-2.35zM266.3 107.9l2.35 2.35-2.35 2.35-2.35-2.35zM312.3 95.1l2.35 2.35-2.35 2.35-2.35-2.35zM229.1 116.1l2.35 2.35-2.35 2.35-2.35-2.35z"/><path d="M252.0 121.1l2.35 2.35-2.35 2.35-2.35-2.35zM294.0 98.3l2.35 2.35-2.35 2.35-2.35-2.35zM314.3 77.8l2.35 2.35-2.35 2.35-2.35-2.35zM300.1 103.1l2.35 2.35-2.35 2.35-2.35-2.35zM218.5 116.5l2.35 2.35-2.35 2.35-2.35-2.35zM261.9 118.6l2.35 2.35-2.35 2.35-2.35-2.35z"/><path d="M235.6 123.2l2.35 2.35-2.35 2.35-2.35-2.35zM222.5 120.8l2.35 2.35-2.35 2.35-2.35-2.35zM259.4 106.9l2.35 2.35-2.35 2.35-2.35-2.35zM252.6 127.2l2.35 2.35-2.35 2.35-2.35-2.35zM296.8 79.1l2.35 2.35-2.35 2.35-2.35-2.35zM273.7 96.7l2.35 2.35-2.35 2.35-2.35-2.35z"/><path d="M248.8 110.1l2.35 2.35-2.35 2.35-2.35-2.35zM273.7 113.7l2.35 2.35-2.35 2.35-2.35-2.35zM254.1 100.3l2.35 2.35-2.35 2.35-2.35-2.35zM251.1 113.6l2.35 2.35-2.35 2.35-2.35-2.35zM293.5 75.9l2.35 2.35-2.35 2.35-2.35-2.35zM234.2 112.9l2.35 2.35-2.35 2.35-2.35-2.35z"/><path d="M216.2 111.2l2.35 2.35-2.35 2.35-2.35-2.35zM214.1 118.7l2.35 2.35-2.35 2.35-2.35-2.35zM252.8 98.6l2.35 2.35-2.35 2.35-2.35-2.35zM268.0 101.6l2.35 2.35-2.35 2.35-2.35-2.35zM333.4 67.8l2.35 2.35-2.35 2.35-2.35-2.35zM327.6 61.8l2.35 2.35-2.35 2.35-2.35-2.35z"/><path d="M235.1 119.1l2.35 2.35-2.35 2.35-2.35-2.35zM290.0 125.4l2.35 2.35-2.35 2.35-2.35-2.35zM215.4 125.1l2.35 2.35-2.35 2.35-2.35-2.35zM288.6 111.1l2.35 2.35-2.35 2.35-2.35-2.35zM341.7 67.7l2.35 2.35-2.35 2.35-2.35-2.35zM281.1 108.8l2.35 2.35-2.35 2.35-2.35-2.35z"/><path d="M290.0 95.6l2.35 2.35-2.35 2.35-2.35-2.35zM284.7 89.7l2.35 2.35-2.35 2.35-2.35-2.35zM214.9 118.1l2.35 2.35-2.35 2.35-2.35-2.35zM248.1 98.3l2.35 2.35-2.35 2.35-2.35-2.35zM264.4 114.0l2.35 2.35-2.35 2.35-2.35-2.35zM272.7 118.2l2.35 2.35-2.35 2.35-2.35-2.35z"/><path d="M275.2 96.8l2.35 2.35-2.35 2.35-2.35-2.35zM288.2 91.3l2.35 2.35-2.35 2.35-2.35-2.35zM264.9 99.9l2.35 2.35-2.35 2.35-2.35-2.35zM248.0 120.3l2.35 2.35-2.35 2.35-2.35-2.35zM290.8 83.7l2.35 2.35-2.35 2.35-2.35-2.35zM222.6 109.7l2.35 2.35-2.35 2.35-2.35-2.35z"/><path d="M224.1 118.3l2.35 2.35-2.35 2.35-2.35-2.35zM268.4 106.6l2.35 2.35-2.35 2.35-2.35-2.35zM258.0 106.6l2.35 2.35-2.35 2.35-2.35-2.35zM248.6 110.6l2.35 2.35-2.35 2.35-2.35-2.35zM249.6 115.9l2.35 2.35-2.35 2.35-2.35-2.35zM304.7 74.1l2.35 2.35-2.35 2.35-2.35-2.35z"/><path d="M283.1 109.5l2.35 2.35-2.35 2.35-2.35-2.35zM217.2 111.3l2.35 2.35-2.35 2.35-2.35-2.35zM244.2 111.1l2.35 2.35-2.35 2.35-2.35-2.35zM263.8 104.8l2.35 2.35-2.35 2.35-2.35-2.35zM243.8 126.0l2.35 2.35-2.35 2.35-2.35-2.35zM262.2 85.8l2.35 2.35-2.35 2.35-2.35-2.35z"/><path d="M268.9 89.3l2.35 2.35-2.35 2.35-2.35-2.35zM229.9 112.1l2.35 2.35-2.35 2.35-2.35-2.35zM257.0 96.7l2.35 2.35-2.35 2.35-2.35-2.35zM271.3 105.4l2.35 2.35-2.35 2.35-2.35-2.35zM266.1 98.0l2.35 2.35-2.35 2.35-2.35-2.35zM283.3 104.5l2.35 2.35-2.35 2.35-2.35-2.35z"/><path d="M255.7 125.3l2.35 2.35-2.35 2.35-2.35-2.35zM255.5 115.3l2.35 2.35-2.35 2.35-2.35-2.35zM265.0 114.0l2.35 2.35-2.35 2.35-2.35-2.35zM304.4 103.0l2.35 2.35-2.35 2.35-2.35-2.35zM320.1 104.4l2.35 2.35-2.35 2.35-2.35-2.35zM275.8 108.2l2.35 2.35-2.35 2.35-2.35-2.35z"/><path d="M297.4 91.8l2.35 2.35-2.35 2.35-2.35-2.35zM268.6 102.6l2.35 2.35-2.35 2.35-2.35-2.35zM292.0 111.4l2.35 2.35-2.35 2.35-2.35-2.35zM266.3 88.3l2.35 2.35-2.35 2.35-2.35-2.35zM271.1 109.1l2.35 2.35-2.35 2.35-2.35-2.35zM292.2 96.3l2.35 2.35-2.35 2.35-2.35-2.35z"/><path d="M315.1 90.1l2.35 2.35-2.35 2.35-2.35-2.35zM251.7 118.0l2.35 2.35-2.35 2.35-2.35-2.35zM331.4 72.2l2.35 2.35-2.35 2.35-2.35-2.35zM280.3 115.8l2.35 2.35-2.35 2.35-2.35-2.35zM218.6 120.3l2.35 2.35-2.35 2.35-2.35-2.35zM263.7 128.9l2.35 2.35-2.35 2.35-2.35-2.35z"/><path d="M331.4 71.9l2.35 2.35-2.35 2.35-2.35-2.35zM242.5 105.2l2.35 2.35-2.35 2.35-2.35-2.35zM292.6 101.6l2.35 2.35-2.35 2.35-2.35-2.35zM305.0 99.0l2.35 2.35-2.35 2.35-2.35-2.35zM283.8 106.0l2.35 2.35-2.35 2.35-2.35-2.35zM276.2 95.5l2.35 2.35-2.35 2.35-2.35-2.35z"/><path d="M321.7 87.2l2.35 2.35-2.35 2.35-2.35-2.35zM225.2 112.6l2.35 2.35-2.35 2.35-2.35-2.35zM254.3 105.7l2.35 2.35-2.35 2.35-2.35-2.35zM350.2 58.0l2.35 2.35-2.35 2.35-2.35-2.35zM327.4 74.0l2.35 2.35-2.35 2.35-2.35-2.35zM219.9 108.8l2.35 2.35-2.35 2.35-2.35-2.35z"/><path d="M266.1 110.7l2.35 2.35-2.35 2.35-2.35-2.35zM270.6 84.2l2.35 2.35-2.35 2.35-2.35-2.35zM229.2 117.3l2.35 2.35-2.35 2.35-2.35-2.35zM228.7 111.8l2.35 2.35-2.35 2.35-2.35-2.35zM230.6 109.6l2.35 2.35-2.35 2.35-2.35-2.35zM226.9 112.3l2.35 2.35-2.35 2.35-2.35-2.35z"/><path d="M234.7 121.1l2.35 2.35-2.35 2.35-2.35-2.35zM245.4 110.3l2.35 2.35-2.35 2.35-2.35-2.35zM304.8 105.9l2.35 2.35-2.35 2.35-2.35-2.35zM234.7 112.8l2.35 2.35-2.35 2.35-2.35-2.35zM290.4 94.8l2.35 2.35-2.35 2.35-2.35-2.35zM301.1 87.5l2.35 2.35-2.35 2.35-2.35-2.35z"/><path d="M326.4 78.0l2.35 2.35-2.35 2.35-2.35-2.35zM240.3 115.3l2.35 2.35-2.35 2.35-2.35-2.35zM283.0 77.1l2.35 2.35-2.35 2.35-2.35-2.35zM224.9 113.0l2.35 2.35-2.35 2.35-2.35-2.35zM228.8 97.3l2.35 2.35-2.35 2.35-2.35-2.35zM301.8 106.0l2.35 2.35-2.35 2.35-2.35-2.35z"/><path d="M308.7 89.1l2.35 2.35-2.35 2.35-2.35-2.35zM329.7 61.3l2.35 2.35-2.35 2.35-2.35-2.35zM329.3 82.7l2.35 2.35-2.35 2.35-2.35-2.35zM252.1 121.7l2.35 2.35-2.35 2.35-2.35-2.35zM273.3 94.6l2.35 2.35-2.35 2.35-2.35-2.35zM340.5 53.9l2.35 2.35-2.35 2.35-2.35-2.35z"/><path d="M291.4 90.8l2.35 2.35-2.35 2.35-2.35-2.35zM242.1 106.6l2.35 2.35-2.35 2.35-2.35-2.35zM239.4 115.7l2.35 2.35-2.35 2.35-2.35-2.35zM268.8 102.8l2.35 2.35-2.35 2.35-2.35-2.35zM258.9 99.2l2.35 2.35-2.35 2.35-2.35-2.35zM310.1 95.3l2.35 2.35-2.35 2.35-2.35-2.35z"/><path d="M280.7 123.9l2.35 2.35-2.35 2.35-2.35-2.35zM275.2 92.2l2.35 2.35-2.35 2.35-2.35-2.35zM246.4 121.7l2.35 2.35-2.35 2.35-2.35-2.35zM278.7 120.8l2.35 2.35-2.35 2.35-2.35-2.35zM272.2 111.9l2.35 2.35-2.35 2.35-2.35-2.35zM265.0 95.3l2.35 2.35-2.35 2.35-2.35-2.35z"/><path d="M257.0 122.5l2.35 2.35-2.35 2.35-2.35-2.35zM276.9 104.6l2.35 2.35-2.35 2.35-2.35-2.35zM268.4 85.6l2.35 2.35-2.35 2.35-2.35-2.35zM216.7 111.3l2.35 2.35-2.35 2.35-2.35-2.35zM236.0 113.2l2.35 2.35-2.35 2.35-2.35-2.35zM224.3 118.4l2.35 2.35-2.35 2.35-2.35-2.35z"/><path d="M264.4 125.1l2.35 2.35-2.35 2.35-2.35-2.35zM326.4 65.2l2.35 2.35-2.35 2.35-2.35-2.35zM320.7 96.5l2.35 2.35-2.35 2.35-2.35-2.35zM260.9 106.8l2.35 2.35-2.35 2.35-2.35-2.35zM330.9 65.7l2.35 2.35-2.35 2.35-2.35-2.35zM242.2 116.3l2.35 2.35-2.35 2.35-2.35-2.35z"/><path d="M258.6 110.9l2.35 2.35-2.35 2.35-2.35-2.35zM315.1 76.6l2.35 2.35-2.35 2.35-2.35-2.35zM271.1 105.2l2.35 2.35-2.35 2.35-2.35-2.35zM244.9 99.2l2.35 2.35-2.35 2.35-2.35-2.35zM282.7 89.8l2.35 2.35-2.35 2.35-2.35-2.35zM237.3 98.1l2.35 2.35-2.35 2.35-2.35-2.35z"/><path d="M277.7 122.1l2.35 2.35-2.35 2.35-2.35-2.35zM255.8 105.9l2.35 2.35-2.35 2.35-2.35-2.35zM245.7 109.8l2.35 2.35-2.35 2.35-2.35-2.35zM234.1 113.1l2.35 2.35-2.35 2.35-2.35-2.35zM275.7 125.8l2.35 2.35-2.35 2.35-2.35-2.35zM294.8 102.3l2.35 2.35-2.35 2.35-2.35-2.35z"/><path d="M297.0 83.3l2.35 2.35-2.35 2.35-2.35-2.35zM240.6 102.2l2.35 2.35-2.35 2.35-2.35-2.35zM252.6 116.8l2.35 2.35-2.35 2.35-2.35-2.35zM242.6 111.8l2.35 2.35-2.35 2.35-2.35-2.35zM291.2 102.7l2.35 2.35-2.35 2.35-2.35-2.35zM341.4 59.1l2.35 2.35-2.35 2.35-2.35-2.35z"/><path d="M287.0 111.0l2.35 2.35-2.35 2.35-2.35-2.35zM292.4 109.1l2.35 2.35-2.35 2.35-2.35-2.35zM238.4 123.7l2.35 2.35-2.35 2.35-2.35-2.35zM263.3 99.2l2.35 2.35-2.35 2.35-2.35-2.35zM260.1 88.1l2.35 2.35-2.35 2.35-2.35-2.35zM296.6 94.6l2.35 2.35-2.35 2.35-2.35-2.35z"/><path d="M217.8 109.8l2.35 2.35-2.35 2.35-2.35-2.35zM278.3 95.1l2.35 2.35-2.35 2.35-2.35-2.35zM269.8 119.9l2.35 2.35-2.35 2.35-2.35-2.35zM291.2 93.5l2.35 2.35-2.35 2.35-2.35-2.35zM293.1 81.5l2.35 2.35-2.35 2.35-2.35-2.35zM232.9 102.8l2.35 2.35-2.35 2.35-2.35-2.35z"/><path d="M262.3 110.1l2.35 2.35-2.35 2.35-2.35-2.35zM302.2 105.3l2.35 2.35-2.35 2.35-2.35-2.35zM259.1 115.7l2.35 2.35-2.35 2.35-2.35-2.35zM213.8 108.0l2.35 2.35-2.35 2.35-2.35-2.35zM324.3 85.3l2.35 2.35-2.35 2.35-2.35-2.35zM239.6 109.9l2.35 2.35-2.35 2.35-2.35-2.35z"/><path d="M275.3 102.7l2.35 2.35-2.35 2.35-2.35-2.35zM229.1 114.1l2.35 2.35-2.35 2.35-2.35-2.35zM303.2 106.4l2.35 2.35-2.35 2.35-2.35-2.35zM247.6 106.1l2.35 2.35-2.35 2.35-2.35-2.35zM219.5 118.0l2.35 2.35-2.35 2.35-2.35-2.35zM274.8 110.7l2.35 2.35-2.35 2.35-2.35-2.35z"/><path d="M241.6 100.3l2.35 2.35-2.35 2.35-2.35-2.35zM265.7 99.3l2.35 2.35-2.35 2.35-2.35-2.35zM327.4 96.1l2.35 2.35-2.35 2.35-2.35-2.35zM225.9 120.7l2.35 2.35-2.35 2.35-2.35-2.35zM231.0 105.3l2.35 2.35-2.35 2.35-2.35-2.35zM264.9 117.7l2.35 2.35-2.35 2.35-2.35-2.35z"/><path d="M241.5 103.4l2.35 2.35-2.35 2.35-2.35-2.35zM311.2 78.2l2.35 2.35-2.35 2.35-2.35-2.35zM227.0 103.7l2.35 2.35-2.35 2.35-2.35-2.35zM314.4 68.8l2.35 2.35-2.35 2.35-2.35-2.35zM221.0 121.5l2.35 2.35-2.35 2.35-2.35-2.35zM243.0 118.8l2.35 2.35-2.35 2.35-2.35-2.35z"/><path d="M216.1 116.5l2.35 2.35-2.35 2.35-2.35-2.35zM230.2 115.4l2.35 2.35-2.35 2.35-2.35-2.35zM256.9 98.8l2.35 2.35-2.35 2.35-2.35-2.35zM255.9 103.9l2.35 2.35-2.35 2.35-2.35-2.35zM233.1 118.2l2.35 2.35-2.35 2.35-2.35-2.35zM239.9 114.8l2.35 2.35-2.35 2.35-2.35-2.35z"/><path d="M257.7 121.3l2.35 2.35-2.35 2.35-2.35-2.35zM220.0 115.2l2.35 2.35-2.35 2.35-2.35-2.35zM319.9 97.2l2.35 2.35-2.35 2.35-2.35-2.35zM301.9 72.7l2.35 2.35-2.35 2.35-2.35-2.35zM220.3 107.3l2.35 2.35-2.35 2.35-2.35-2.35zM251.0 113.0l2.35 2.35-2.35 2.35-2.35-2.35z"/><path d="M245.9 111.6l2.35 2.35-2.35 2.35-2.35-2.35zM288.9 91.4l2.35 2.35-2.35 2.35-2.35-2.35zM296.6 99.3l2.35 2.35-2.35 2.35-2.35-2.35zM223.5 102.9l2.35 2.35-2.35 2.35-2.35-2.35zM287.2 99.6l2.35 2.35-2.35 2.35-2.35-2.35zM214.5 101.4l2.35 2.35-2.35 2.35-2.35-2.35z"/><path d="M228.4 106.2l2.35 2.35-2.35 2.35-2.35-2.35zM268.9 119.1l2.35 2.35-2.35 2.35-2.35-2.35zM231.9 119.6l2.35 2.35-2.35 2.35-2.35-2.35zM231.1 115.6l2.35 2.35-2.35 2.35-2.35-2.35zM307.8 71.2l2.35 2.35-2.35 2.35-2.35-2.35zM294.5 103.8l2.35 2.35-2.35 2.35-2.35-2.35z"/><path d="M298.1 86.3l2.35 2.35-2.35 2.35-2.35-2.35zM227.5 122.9l2.35 2.35-2.35 2.35-2.35-2.35zM273.1 99.3l2.35 2.35-2.35 2.35-2.35-2.35zM215.9 119.6l2.35 2.35-2.35 2.35-2.35-2.35zM309.0 96.7l2.35 2.35-2.35 2.35-2.35-2.35zM277.7 104.4l2.35 2.35-2.35 2.35-2.35-2.35z"/><path d="M266.1 122.6l2.35 2.35-2.35 2.35-2.35-2.35zM250.8 86.0l2.35 2.35-2.35 2.35-2.35-2.35zM282.8 116.9l2.35 2.35-2.35 2.35-2.35-2.35zM226.5 115.6l2.35 2.35-2.35 2.35-2.35-2.35zM298.0 76.6l2.35 2.35-2.35 2.35-2.35-2.35zM321.1 72.7l2.35 2.35-2.35 2.35-2.35-2.35z"/><path d="M299.5 127.8l2.35 2.35-2.35 2.35-2.35-2.35zM214.3 111.6l2.35 2.35-2.35 2.35-2.35-2.35zM303.3 81.8l2.35 2.35-2.35 2.35-2.35-2.35zM319.6 94.1l2.35 2.35-2.35 2.35-2.35-2.35zM331.8 72.6l2.35 2.35-2.35 2.35-2.35-2.35zM218.6 117.7l2.35 2.35-2.35 2.35-2.35-2.35z"/><path d="M236.2 117.4l2.35 2.35-2.35 2.35-2.35-2.35zM263.4 88.1l2.35 2.35-2.35 2.35-2.35-2.35zM251.4 99.3l2.35 2.35-2.35 2.35-2.35-2.35zM239.4 118.0l2.35 2.35-2.35 2.35-2.35-2.35zM289.4 116.5l2.35 2.35-2.35 2.35-2.35-2.35zM245.0 102.8l2.35 2.35-2.35 2.35-2.35-2.35z"/><path d="M265.6 104.2l2.35 2.35-2.35 2.35-2.35-2.35zM292.0 104.4l2.35 2.35-2.35 2.35-2.35-2.35zM300.1 93.6l2.35 2.35-2.35 2.35-2.35-2.35zM327.4 88.0l2.35 2.35-2.35 2.35-2.35-2.35zM225.3 117.4l2.35 2.35-2.35 2.35-2.35-2.35zM249.9 116.8l2.35 2.35-2.35 2.35-2.35-2.35z"/><path d="M309.9 76.0l2.35 2.35-2.35 2.35-2.35-2.35zM236.5 110.8l2.35 2.35-2.35 2.35-2.35-2.35zM301.5 108.2l2.35 2.35-2.35 2.35-2.35-2.35zM252.0 116.5l2.35 2.35-2.35 2.35-2.35-2.35zM314.2 75.5l2.35 2.35-2.35 2.35-2.35-2.35zM266.2 102.5l2.35 2.35-2.35 2.35-2.35-2.35z"/><path d="M314.7 93.1l2.35 2.35-2.35 2.35-2.35-2.35zM291.6 104.7l2.35 2.35-2.35 2.35-2.35-2.35zM223.9 106.2l2.35 2.35-2.35 2.35-2.35-2.35zM253.2 111.8l2.35 2.35-2.35 2.35-2.35-2.35zM249.0 111.9l2.35 2.35-2.35 2.35-2.35-2.35zM270.8 113.8l2.35 2.35-2.35 2.35-2.35-2.35z"/><path d="M273.4 134.2l2.35 2.35-2.35 2.35-2.35-2.35zM246.8 104.0l2.35 2.35-2.35 2.35-2.35-2.35zM278.7 105.7l2.35 2.35-2.35 2.35-2.35-2.35zM231.7 104.1l2.35 2.35-2.35 2.35-2.35-2.35zM314.7 52.8l2.35 2.35-2.35 2.35-2.35-2.35zM293.3 104.1l2.35 2.35-2.35 2.35-2.35-2.35z"/><path d="M247.1 103.9l2.35 2.35-2.35 2.35-2.35-2.35zM234.7 113.9l2.35 2.35-2.35 2.35-2.35-2.35zM288.6 110.4l2.35 2.35-2.35 2.35-2.35-2.35zM267.7 115.6l2.35 2.35-2.35 2.35-2.35-2.35zM300.7 100.7l2.35 2.35-2.35 2.35-2.35-2.35zM320.5 82.1l2.35 2.35-2.35 2.35-2.35-2.35z"/><path d="M229.1 97.1l2.35 2.35-2.35 2.35-2.35-2.35zM242.4 106.7l2.35 2.35-2.35 2.35-2.35-2.35zM268.2 112.8l2.35 2.35-2.35 2.35-2.35-2.35zM254.3 98.4l2.35 2.35-2.35 2.35-2.35-2.35zM340.7 72.1l2.35 2.35-2.35 2.35-2.35-2.35zM260.5 99.9l2.35 2.35-2.35 2.35-2.35-2.35z"/><path d="M285.5 99.0l2.35 2.35-2.35 2.35-2.35-2.35zM217.6 116.3l2.35 2.35-2.35 2.35-2.35-2.35zM318.3 79.7l2.35 2.35-2.35 2.35-2.35-2.35zM227.5 102.4l2.35 2.35-2.35 2.35-2.35-2.35zM290.1 92.5l2.35 2.35-2.35 2.35-2.35-2.35zM255.8 128.0l2.35 2.35-2.35 2.35-2.35-2.35z"/><path d="M242.6 126.6l2.35 2.35-2.35 2.35-2.35-2.35zM298.9 98.9l2.35 2.35-2.35 2.35-2.35-2.35zM312.6 92.1l2.35 2.35-2.35 2.35-2.35-2.35zM253.3 123.7l2.35 2.35-2.35 2.35-2.35-2.35zM252.9 101.4l2.35 2.35-2.35 2.35-2.35-2.35zM237.5 106.4l2.35 2.35-2.35 2.35-2.35-2.35z"/><path d="M253.8 96.4l2.35 2.35-2.35 2.35-2.35-2.35zM268.7 103.1l2.35 2.35-2.35 2.35-2.35-2.35zM267.4 86.8l2.35 2.35-2.35 2.35-2.35-2.35zM234.0 116.6l2.35 2.35-2.35 2.35-2.35-2.35zM234.3 114.4l2.35 2.35-2.35 2.35-2.35-2.35zM280.3 95.6l2.35 2.35-2.35 2.35-2.35-2.35z"/><path d="M233.9 107.8l2.35 2.35-2.35 2.35-2.35-2.35zM312.4 106.2l2.35 2.35-2.35 2.35-2.35-2.35zM307.0 101.8l2.35 2.35-2.35 2.35-2.35-2.35zM274.5 98.1l2.35 2.35-2.35 2.35-2.35-2.35zM237.9 109.6l2.35 2.35-2.35 2.35-2.35-2.35zM287.5 110.8l2.35 2.35-2.35 2.35-2.35-2.35z"/><path d="M272.3 109.3l2.35 2.35-2.35 2.35-2.35-2.35zM263.6 109.0l2.35 2.35-2.35 2.35-2.35-2.35zM293.4 102.8l2.35 2.35-2.35 2.35-2.35-2.35zM246.9 105.5l2.35 2.35-2.35 2.35-2.35-2.35zM279.9 95.8l2.35 2.35-2.35 2.35-2.35-2.35zM311.6 98.3l2.35 2.35-2.35 2.35-2.35-2.35z"/><path d="M246.4 87.7l2.35 2.35-2.35 2.35-2.35-2.35zM216.2 111.7l2.35 2.35-2.35 2.35-2.35-2.35zM280.2 105.2l2.35 2.35-2.35 2.35-2.35-2.35zM244.5 92.3l2.35 2.35-2.35 2.35-2.35-2.35zM225.4 111.7l2.35 2.35-2.35 2.35-2.35-2.35zM252.6 121.1l2.35 2.35-2.35 2.35-2.35-2.35z"/><path d="M264.4 121.9l2.35 2.35-2.35 2.35-2.35-2.35zM249.7 115.5l2.35 2.35-2.35 2.35-2.35-2.35zM266.7 114.0l2.35 2.35-2.35 2.35-2.35-2.35zM316.3 105.7l2.35 2.35-2.35 2.35-2.35-2.35zM256.6 112.7l2.35 2.35-2.35 2.35-2.35-2.35zM244.0 118.4l2.35 2.35-2.35 2.35-2.35-2.35z"/><path d="M228.4 101.3l2.35 2.35-2.35 2.35-2.35-2.35zM219.1 110.1l2.35 2.35-2.35 2.35-2.35-2.35zM308.9 101.1l2.35 2.35-2.35 2.35-2.35-2.35zM295.2 86.5l2.35 2.35-2.35 2.35-2.35-2.35zM242.5 112.2l2.35 2.35-2.35 2.35-2.35-2.35zM257.7 129.6l2.35 2.35-2.35 2.35-2.35-2.35z"/><path d="M326.9 77.3l2.35 2.35-2.35 2.35-2.35-2.35zM254.2 94.1l2.35 2.35-2.35 2.35-2.35-2.35zM233.3 110.5l2.35 2.35-2.35 2.35-2.35-2.35zM283.7 110.5l2.35 2.35-2.35 2.35-2.35-2.35zM334.5 69.9l2.35 2.35-2.35 2.35-2.35-2.35zM261.2 114.2l2.35 2.35-2.35 2.35-2.35-2.35z"/><path d="M304.7 86.9l2.35 2.35-2.35 2.35-2.35-2.35zM294.4 96.3l2.35 2.35-2.35 2.35-2.35-2.35zM283.5 106.8l2.35 2.35-2.35 2.35-2.35-2.35zM241.5 102.9l2.35 2.35-2.35 2.35-2.35-2.35zM230.2 97.5l2.35 2.35-2.35 2.35-2.35-2.35zM291.6 96.3l2.35 2.35-2.35 2.35-2.35-2.35z"/><path d="M287.6 85.4l2.35 2.35-2.35 2.35-2.35-2.35zM318.6 75.7l2.35 2.35-2.35 2.35-2.35-2.35zM237.2 112.3l2.35 2.35-2.35 2.35-2.35-2.35zM242.3 109.8l2.35 2.35-2.35 2.35-2.35-2.35zM321.9 66.5l2.35 2.35-2.35 2.35-2.35-2.35zM256.8 104.1l2.35 2.35-2.35 2.35-2.35-2.35z"/><path d="M290.9 88.2l2.35 2.35-2.35 2.35-2.35-2.35zM314.5 104.7l2.35 2.35-2.35 2.35-2.35-2.35zM274.5 95.8l2.35 2.35-2.35 2.35-2.35-2.35zM214.6 123.0l2.35 2.35-2.35 2.35-2.35-2.35zM304.5 69.9l2.35 2.35-2.35 2.35-2.35-2.35zM327.6 73.2l2.35 2.35-2.35 2.35-2.35-2.35z"/><path d="M290.3 89.3l2.35 2.35-2.35 2.35-2.35-2.35zM249.2 116.1l2.35 2.35-2.35 2.35-2.35-2.35zM264.2 107.6l2.35 2.35-2.35 2.35-2.35-2.35zM254.3 119.8l2.35 2.35-2.35 2.35-2.35-2.35zM238.0 119.0l2.35 2.35-2.35 2.35-2.35-2.35zM273.2 102.7l2.35 2.35-2.35 2.35-2.35-2.35z"/><path d="M308.8 95.0l2.35 2.35-2.35 2.35-2.35-2.35zM277.8 107.6l2.35 2.35-2.35 2.35-2.35-2.35zM302.1 97.4l2.35 2.35-2.35 2.35-2.35-2.35zM269.1 90.2l2.35 2.35-2.35 2.35-2.35-2.35zM227.5 103.4l2.35 2.35-2.35 2.35-2.35-2.35zM232.3 95.0l2.35 2.35-2.35 2.35-2.35-2.35z"/><path d="M225.0 113.4l2.35 2.35-2.35 2.35-2.35-2.35zM296.2 106.4l2.35 2.35-2.35 2.35-2.35-2.35zM261.0 104.7l2.35 2.35-2.35 2.35-2.35-2.35zM252.8 100.9l2.35 2.35-2.35 2.35-2.35-2.35zM319.8 97.4l2.35 2.35-2.35 2.35-2.35-2.35zM276.4 96.3l2.35 2.35-2.35 2.35-2.35-2.35z"/><path d="M270.2 109.1l2.35 2.35-2.35 2.35-2.35-2.35zM225.6 107.7l2.35 2.35-2.35 2.35-2.35-2.35zM303.4 90.3l2.35 2.35-2.35 2.35-2.35-2.35zM230.1 113.3l2.35 2.35-2.35 2.35-2.35-2.35zM286.5 111.2l2.35 2.35-2.35 2.35-2.35-2.35zM253.5 111.2l2.35 2.35-2.35 2.35-2.35-2.35z"/><path d="M260.6 95.3l2.35 2.35-2.35 2.35-2.35-2.35zM294.8 121.3l2.35 2.35-2.35 2.35-2.35-2.35zM303.2 92.3l2.35 2.35-2.35 2.35-2.35-2.35zM228.0 112.4l2.35 2.35-2.35 2.35-2.35-2.35zM287.6 103.6l2.35 2.35-2.35 2.35-2.35-2.35zM275.4 102.1l2.35 2.35-2.35 2.35-2.35-2.35z"/><path d="M275.6 99.3l2.35 2.35-2.35 2.35-2.35-2.35zM245.9 109.7l2.35 2.35-2.35 2.35-2.35-2.35zM294.3 82.4l2.35 2.35-2.35 2.35-2.35-2.35zM317.0 88.7l2.35 2.35-2.35 2.35-2.35-2.35zM276.3 77.9l2.35 2.35-2.35 2.35-2.35-2.35zM223.2 125.8l2.35 2.35-2.35 2.35-2.35-2.35z"/><path d="M323.2 64.2l2.35 2.35-2.35 2.35-2.35-2.35zM295.0 103.8l2.35 2.35-2.35 2.35-2.35-2.35zM235.9 121.2l2.35 2.35-2.35 2.35-2.35-2.35zM260.6 117.3l2.35 2.35-2.35 2.35-2.35-2.35zM295.2 105.7l2.35 2.35-2.35 2.35-2.35-2.35zM283.4 100.5l2.35 2.35-2.35 2.35-2.35-2.35z"/><path d="M253.7 109.6l2.35 2.35-2.35 2.35-2.35-2.35zM267.4 91.3l2.35 2.35-2.35 2.35-2.35-2.35zM317.0 87.4l2.35 2.35-2.35 2.35-2.35-2.35zM289.5 104.6l2.35 2.35-2.35 2.35-2.35-2.35zM287.7 105.8l2.35 2.35-2.35 2.35-2.35-2.35zM263.2 101.1l2.35 2.35-2.35 2.35-2.35-2.35z"/><path d="M219.1 112.4l2.35 2.35-2.35 2.35-2.35-2.35zM242.6 95.8l2.35 2.35-2.35 2.35-2.35-2.35zM272.4 112.3l2.35 2.35-2.35 2.35-2.35-2.35zM237.1 113.9l2.35 2.35-2.35 2.35-2.35-2.35zM281.3 109.0l2.35 2.35-2.35 2.35-2.35-2.35zM329.5 81.3l2.35 2.35-2.35 2.35-2.35-2.35z"/><path d="M282.9 108.1l2.35 2.35-2.35 2.35-2.35-2.35zM278.1 115.3l2.35 2.35-2.35 2.35-2.35-2.35zM282.4 130.7l2.35 2.35-2.35 2.35-2.35-2.35zM263.8 127.1l2.35 2.35-2.35 2.35-2.35-2.35zM252.8 121.4l2.35 2.35-2.35 2.35-2.35-2.35zM289.9 135.2l2.35 2.35-2.35 2.35-2.35-2.35z"/><path d="M264.3 117.7l2.35 2.35-2.35 2.35-2.35-2.35zM229.3 107.3l2.35 2.35-2.35 2.35-2.35-2.35zM236.0 109.5l2.35 2.35-2.35 2.35-2.35-2.35zM260.5 127.1l2.35 2.35-2.35 2.35-2.35-2.35zM299.0 118.9l2.35 2.35-2.35 2.35-2.35-2.35zM221.4 117.4l2.35 2.35-2.35 2.35-2.35-2.35z"/><path d="M287.2 113.9l2.35 2.35-2.35 2.35-2.35-2.35zM308.4 86.8l2.35 2.35-2.35 2.35-2.35-2.35zM229.9 111.7l2.35 2.35-2.35 2.35-2.35-2.35zM301.5 94.9l2.35 2.35-2.35 2.35-2.35-2.35zM287.4 107.2l2.35 2.35-2.35 2.35-2.35-2.35zM296.8 89.0l2.35 2.35-2.35 2.35-2.35-2.35z"/><path d="M220.4 112.4l2.35 2.35-2.35 2.35-2.35-2.35zM255.7 82.4l2.35 2.35-2.35 2.35-2.35-2.35zM294.2 91.6l2.35 2.35-2.35 2.35-2.35-2.35zM240.3 109.8l2.35 2.35-2.35 2.35-2.35-2.35zM273.6 109.1l2.35 2.35-2.35 2.35-2.35-2.35zM283.6 110.9l2.35 2.35-2.35 2.35-2.35-2.35z"/><path d="M265.1 119.5l2.35 2.35-2.35 2.35-2.35-2.35zM272.7 104.3l2.35 2.35-2.35 2.35-2.35-2.35zM216.3 110.8l2.35 2.35-2.35 2.35-2.35-2.35zM229.0 99.3l2.35 2.35-2.35 2.35-2.35-2.35zM261.3 104.8l2.35 2.35-2.35 2.35-2.35-2.35zM250.5 100.6l2.35 2.35-2.35 2.35-2.35-2.35z"/><path d="M269.7 102.9l2.35 2.35-2.35 2.35-2.35-2.35zM285.7 105.2l2.35 2.35-2.35 2.35-2.35-2.35zM299.4 90.7l2.35 2.35-2.35 2.35-2.35-2.35zM245.5 104.6l2.35 2.35-2.35 2.35-2.35-2.35zM300.9 99.7l2.35 2.35-2.35 2.35-2.35-2.35zM330.0 76.6l2.35 2.35-2.35 2.35-2.35-2.35z"/><path d="M233.0 112.4l2.35 2.35-2.35 2.35-2.35-2.35zM303.1 120.6l2.35 2.35-2.35 2.35-2.35-2.35zM239.0 108.0l2.35 2.35-2.35 2.35-2.35-2.35zM215.1 121.7l2.35 2.35-2.35 2.35-2.35-2.35zM266.5 80.4l2.35 2.35-2.35 2.35-2.35-2.35zM329.5 76.1l2.35 2.35-2.35 2.35-2.35-2.35z"/><path d="M312.0 86.1l2.35 2.35-2.35 2.35-2.35-2.35zM261.9 103.6l2.35 2.35-2.35 2.35-2.35-2.35zM235.1 126.1l2.35 2.35-2.35 2.35-2.35-2.35zM259.5 91.1l2.35 2.35-2.35 2.35-2.35-2.35zM296.9 106.8l2.35 2.35-2.35 2.35-2.35-2.35zM227.6 102.5l2.35 2.35-2.35 2.35-2.35-2.35z"/><path d="M266.4 90.9l2.35 2.35-2.35 2.35-2.35-2.35zM234.7 102.6l2.35 2.35-2.35 2.35-2.35-2.35zM287.7 137.8l2.35 2.35-2.35 2.35-2.35-2.35zM278.7 117.8l2.35 2.35-2.35 2.35-2.35-2.35zM300.7 101.8l2.35 2.35-2.35 2.35-2.35-2.35zM245.2 122.1l2.35 2.35-2.35 2.35-2.35-2.35z"/><path d="M269.1 106.6l2.35 2.35-2.35 2.35-2.35-2.35zM217.9 103.1l2.35 2.35-2.35 2.35-2.35-2.35zM289.9 84.6l2.35 2.35-2.35 2.35-2.35-2.35zM260.8 112.0l2.35 2.35-2.35 2.35-2.35-2.35zM238.4 120.5l2.35 2.35-2.35 2.35-2.35-2.35zM252.7 100.7l2.35 2.35-2.35 2.35-2.35-2.35z"/><path d="M317.9 76.7l2.35 2.35-2.35 2.35-2.35-2.35zM236.4 113.0l2.35 2.35-2.35 2.35-2.35-2.35zM274.7 115.4l2.35 2.35-2.35 2.35-2.35-2.35zM239.3 95.8l2.35 2.35-2.35 2.35-2.35-2.35zM325.9 61.2l2.35 2.35-2.35 2.35-2.35-2.35zM229.5 100.4l2.35 2.35-2.35 2.35-2.35-2.35z"/><path d="M217.3 108.0l2.35 2.35-2.35 2.35-2.35-2.35zM230.6 114.5l2.35 2.35-2.35 2.35-2.35-2.35zM329.9 71.5l2.35 2.35-2.35 2.35-2.35-2.35zM255.5 120.1l2.35 2.35-2.35 2.35-2.35-2.35zM304.5 74.1l2.35 2.35-2.35 2.35-2.35-2.35zM229.7 120.3l2.35 2.35-2.35 2.35-2.35-2.35z"/><path d="M246.1 117.4l2.35 2.35-2.35 2.35-2.35-2.35zM305.8 96.4l2.35 2.35-2.35 2.35-2.35-2.35zM263.8 108.9l2.35 2.35-2.35 2.35-2.35-2.35zM231.0 98.6l2.35 2.35-2.35 2.35-2.35-2.35zM296.4 87.9l2.35 2.35-2.35 2.35-2.35-2.35zM301.8 105.4l2.35 2.35-2.35 2.35-2.35-2.35z"/><path d="M293.5 95.4l2.35 2.35-2.35 2.35-2.35-2.35zM249.5 106.4l2.35 2.35-2.35 2.35-2.35-2.35zM310.9 71.8l2.35 2.35-2.35 2.35-2.35-2.35zM223.9 124.4l2.35 2.35-2.35 2.35-2.35-2.35zM294.6 106.8l2.35 2.35-2.35 2.35-2.35-2.35zM284.3 115.5l2.35 2.35-2.35 2.35-2.35-2.35z"/><path d="M267.7 104.0l2.35 2.35-2.35 2.35-2.35-2.35zM266.0 95.9l2.35 2.35-2.35 2.35-2.35-2.35zM286.3 104.2l2.35 2.35-2.35 2.35-2.35-2.35zM304.8 66.2l2.35 2.35-2.35 2.35-2.35-2.35zM287.5 113.7l2.35 2.35-2.35 2.35-2.35-2.35zM327.6 74.7l2.35 2.35-2.35 2.35-2.35-2.35z"/><path d="M310.3 97.9l2.35 2.35-2.35 2.35-2.35-2.35zM303.9 111.8l2.35 2.35-2.35 2.35-2.35-2.35zM324.9 82.6l2.35 2.35-2.35 2.35-2.35-2.35zM228.0 110.9l2.35 2.35-2.35 2.35-2.35-2.35zM296.9 107.8l2.35 2.35-2.35 2.35-2.35-2.35zM275.4 113.1l2.35 2.35-2.35 2.35-2.35-2.35z"/><path d="M324.5 79.4l2.35 2.35-2.35 2.35-2.35-2.35zM248.9 116.5l2.35 2.35-2.35 2.35-2.35-2.35zM290.7 88.3l2.35 2.35-2.35 2.35-2.35-2.35zM280.3 95.7l2.35 2.35-2.35 2.35-2.35-2.35zM256.7 107.5l2.35 2.35-2.35 2.35-2.35-2.35zM299.9 83.4l2.35 2.35-2.35 2.35-2.35-2.35z"/><path d="M305.7 120.6l2.35 2.35-2.35 2.35-2.35-2.35zM295.1 112.1l2.35 2.35-2.35 2.35-2.35-2.35zM287.5 84.8l2.35 2.35-2.35 2.35-2.35-2.35zM227.2 118.8l2.35 2.35-2.35 2.35-2.35-2.35zM267.3 95.0l2.35 2.35-2.35 2.35-2.35-2.35zM290.2 94.9l2.35 2.35-2.35 2.35-2.35-2.35z"/><path d="M296.9 97.0l2.35 2.35-2.35 2.35-2.35-2.35zM316.2 88.4l2.35 2.35-2.35 2.35-2.35-2.35zM214.2 120.2l2.35 2.35-2.35 2.35-2.35-2.35zM259.4 124.6l2.35 2.35-2.35 2.35-2.35-2.35zM309.4 111.4l2.35 2.35-2.35 2.35-2.35-2.35zM268.3 101.1l2.35 2.35-2.35 2.35-2.35-2.35z"/><path d="M233.1 111.3l2.35 2.35-2.35 2.35-2.35-2.35zM222.6 109.8l2.35 2.35-2.35 2.35-2.35-2.35zM286.2 116.5l2.35 2.35-2.35 2.35-2.35-2.35zM234.8 110.5l2.35 2.35-2.35 2.35-2.35-2.35zM264.8 94.3l2.35 2.35-2.35 2.35-2.35-2.35zM262.8 116.1l2.35 2.35-2.35 2.35-2.35-2.35z"/><path d="M258.2 113.6l2.35 2.35-2.35 2.35-2.35-2.35zM262.9 111.6l2.35 2.35-2.35 2.35-2.35-2.35zM280.6 77.3l2.35 2.35-2.35 2.35-2.35-2.35zM295.3 84.4l2.35 2.35-2.35 2.35-2.35-2.35zM311.5 66.5l2.35 2.35-2.35 2.35-2.35-2.35zM271.0 73.6l2.35 2.35-2.35 2.35-2.35-2.35z"/><path d="M323.3 82.5l2.35 2.35-2.35 2.35-2.35-2.35zM220.0 110.5l2.35 2.35-2.35 2.35-2.35-2.35zM228.5 131.3l2.35 2.35-2.35 2.35-2.35-2.35zM217.1 112.6l2.35 2.35-2.35 2.35-2.35-2.35zM245.2 115.2l2.35 2.35-2.35 2.35-2.35-2.35zM271.8 105.4l2.35 2.35-2.35 2.35-2.35-2.35z"/><path d="M330.9 72.4l2.35 2.35-2.35 2.35-2.35-2.35zM249.4 132.1l2.35 2.35-2.35 2.35-2.35-2.35zM229.1 108.8l2.35 2.35-2.35 2.35-2.35-2.35zM238.7 115.0l2.35 2.35-2.35 2.35-2.35-2.35zM226.9 122.3l2.35 2.35-2.35 2.35-2.35-2.35zM238.2 116.7l2.35 2.35-2.35 2.35-2.35-2.35z"/><path d="M242.1 103.1l2.35 2.35-2.35 2.35-2.35-2.35zM241.6 117.3l2.35 2.35-2.35 2.35-2.35-2.35zM265.9 91.0l2.35 2.35-2.35 2.35-2.35-2.35zM220.5 109.5l2.35 2.35-2.35 2.35-2.35-2.35zM240.7 111.3l2.35 2.35-2.35 2.35-2.35-2.35zM214.3 119.5l2.35 2.35-2.35 2.35-2.35-2.35z"/><path d="M290.5 113.4l2.35 2.35-2.35 2.35-2.35-2.35zM296.5 85.3l2.35 2.35-2.35 2.35-2.35-2.35zM341.8 65.3l2.35 2.35-2.35 2.35-2.35-2.35zM306.7 90.9l2.35 2.35-2.35 2.35-2.35-2.35zM305.5 91.4l2.35 2.35-2.35 2.35-2.35-2.35zM245.5 102.7l2.35 2.35-2.35 2.35-2.35-2.35z"/><path d="M308.9 83.4l2.35 2.35-2.35 2.35-2.35-2.35zM250.7 114.3l2.35 2.35-2.35 2.35-2.35-2.35zM288.7 98.7l2.35 2.35-2.35 2.35-2.35-2.35zM263.4 110.6l2.35 2.35-2.35 2.35-2.35-2.35zM274.9 99.8l2.35 2.35-2.35 2.35-2.35-2.35zM306.9 112.4l2.35 2.35-2.35 2.35-2.35-2.35z"/><path d="M235.0 113.9l2.35 2.35-2.35 2.35-2.35-2.35zM316.6 72.7l2.35 2.35-2.35 2.35-2.35-2.35zM281.0 121.0l2.35 2.35-2.35 2.35-2.35-2.35zM230.1 118.1l2.35 2.35-2.35 2.35-2.35-2.35zM269.1 105.2l2.35 2.35-2.35 2.35-2.35-2.35zM326.5 90.0l2.35 2.35-2.35 2.35-2.35-2.35z"/><path d="M230.8 111.8l2.35 2.35-2.35 2.35-2.35-2.35zM217.5 112.1l2.35 2.35-2.35 2.35-2.35-2.35zM222.1 107.6l2.35 2.35-2.35 2.35-2.35-2.35zM301.2 95.5l2.35 2.35-2.35 2.35-2.35-2.35zM246.2 108.4l2.35 2.35-2.35 2.35-2.35-2.35zM261.7 114.0l2.35 2.35-2.35 2.35-2.35-2.35z"/><path d="M271.8 104.4l2.35 2.35-2.35 2.35-2.35-2.35zM253.4 107.5l2.35 2.35-2.35 2.35-2.35-2.35zM239.3 107.3l2.35 2.35-2.35 2.35-2.35-2.35zM271.4 98.3l2.35 2.35-2.35 2.35-2.35-2.35zM284.4 94.4l2.35 2.35-2.35 2.35-2.35-2.35zM247.8 104.1l2.35 2.35-2.35 2.35-2.35-2.35z"/><path d="M304.4 92.2l2.35 2.35-2.35 2.35-2.35-2.35zM273.9 105.7l2.35 2.35-2.35 2.35-2.35-2.35zM230.9 116.6l2.35 2.35-2.35 2.35-2.35-2.35zM287.3 94.5l2.35 2.35-2.35 2.35-2.35-2.35zM256.5 96.1l2.35 2.35-2.35 2.35-2.35-2.35zM283.1 110.3l2.35 2.35-2.35 2.35-2.35-2.35z"/><path d="M300.2 89.9l2.35 2.35-2.35 2.35-2.35-2.35zM219.3 114.4l2.35 2.35-2.35 2.35-2.35-2.35zM261.8 110.8l2.35 2.35-2.35 2.35-2.35-2.35zM262.0 120.3l2.35 2.35-2.35 2.35-2.35-2.35zM241.4 113.9l2.35 2.35-2.35 2.35-2.35-2.35zM240.6 105.5l2.35 2.35-2.35 2.35-2.35-2.35z"/><path d="M250.3 105.5l2.35 2.35-2.35 2.35-2.35-2.35zM234.0 104.5l2.35 2.35-2.35 2.35-2.35-2.35zM224.3 118.0l2.35 2.35-2.35 2.35-2.35-2.35zM247.0 133.3l2.35 2.35-2.35 2.35-2.35-2.35zM248.3 103.6l2.35 2.35-2.35 2.35-2.35-2.35zM286.7 103.8l2.35 2.35-2.35 2.35-2.35-2.35z"/><path d="M284.0 95.3l2.35 2.35-2.35 2.35-2.35-2.35zM257.0 89.2l2.35 2.35-2.35 2.35-2.35-2.35zM283.7 90.3l2.35 2.35-2.35 2.35-2.35-2.35zM245.4 132.2l2.35 2.35-2.35 2.35-2.35-2.35zM266.2 114.0l2.35 2.35-2.35 2.35-2.35-2.35zM253.5 113.7l2.35 2.35-2.35 2.35-2.35-2.35z"/><path d="M225.6 99.6l2.35 2.35-2.35 2.35-2.35-2.35zM253.9 118.3l2.35 2.35-2.35 2.35-2.35-2.35zM307.3 97.8l2.35 2.35-2.35 2.35-2.35-2.35zM291.1 87.8l2.35 2.35-2.35 2.35-2.35-2.35zM238.0 128.5l2.35 2.35-2.35 2.35-2.35-2.35zM315.0 95.2l2.35 2.35-2.35 2.35-2.35-2.35z"/><path d="M291.7 120.6l2.35 2.35-2.35 2.35-2.35-2.35zM328.7 86.4l2.35 2.35-2.35 2.35-2.35-2.35zM239.4 107.5l2.35 2.35-2.35 2.35-2.35-2.35zM278.5 105.3l2.35 2.35-2.35 2.35-2.35-2.35zM289.0 104.8l2.35 2.35-2.35 2.35-2.35-2.35zM216.9 114.5l2.35 2.35-2.35 2.35-2.35-2.35z"/><path d="M261.7 114.2l2.35 2.35-2.35 2.35-2.35-2.35zM301.8 98.4l2.35 2.35-2.35 2.35-2.35-2.35zM308.1 87.1l2.35 2.35-2.35 2.35-2.35-2.35zM227.2 119.2l2.35 2.35-2.35 2.35-2.35-2.35zM248.9 109.5l2.35 2.35-2.35 2.35-2.35-2.35zM238.0 116.1l2.35 2.35-2.35 2.35-2.35-2.35z"/><path d="M280.0 93.2l2.35 2.35-2.35 2.35-2.35-2.35zM235.3 100.8l2.35 2.35-2.35 2.35-2.35-2.35zM305.5 86.4l2.35 2.35-2.35 2.35-2.35-2.35zM284.2 90.5l2.35 2.35-2.35 2.35-2.35-2.35zM237.5 116.0l2.35 2.35-2.35 2.35-2.35-2.35zM298.1 103.6l2.35 2.35-2.35 2.35-2.35-2.35z"/><path d="M231.4 110.2l2.35 2.35-2.35 2.35-2.35-2.35zM304.4 98.7l2.35 2.35-2.35 2.35-2.35-2.35zM241.4 105.4l2.35 2.35-2.35 2.35-2.35-2.35zM270.8 109.0l2.35 2.35-2.35 2.35-2.35-2.35zM218.3 121.7l2.35 2.35-2.35 2.35-2.35-2.35zM250.6 120.7l2.35 2.35-2.35 2.35-2.35-2.35z"/><path d="M244.5 108.2l2.35 2.35-2.35 2.35-2.35-2.35zM329.0 54.1l2.35 2.35-2.35 2.35-2.35-2.35zM292.4 99.6l2.35 2.35-2.35 2.35-2.35-2.35zM306.1 113.0l2.35 2.35-2.35 2.35-2.35-2.35zM298.0 95.8l2.35 2.35-2.35 2.35-2.35-2.35zM226.5 117.9l2.35 2.35-2.35 2.35-2.35-2.35z"/><path d="M351.5 36.6l2.35 2.35-2.35 2.35-2.35-2.35zM350.8 53.5l2.35 2.35-2.35 2.35-2.35-2.35z"/></g><g fill="#4ab254" stroke="#1e2e1e" stroke-width="0.45" stroke-linejoin="round"><path d="M416.8 110.7l2.4 4.1h-4.8zM407.7 100.3l2.4 4.1h-4.8zM443.4 115.3l2.4 4.1h-4.8zM434.5 108.9l2.4 4.1h-4.8zM400.0 104.2l2.4 4.1h-4.8zM416.6 94.5l2.4 4.1h-4.8z"/><path d="M459.3 84.9l2.4 4.1h-4.8zM415.5 89.5l2.4 4.1h-4.8zM455.0 84.2l2.4 4.1h-4.8zM438.1 101.8l2.4 4.1h-4.8zM455.0 95.0l2.4 4.1h-4.8zM405.4 108.8l2.4 4.1h-4.8z"/><path d="M465.5 90.9l2.4 4.1h-4.8zM394.8 121.7l2.4 4.1h-4.8zM438.0 105.4l2.4 4.1h-4.8zM477.6 77.9l2.4 4.1h-4.8zM396.7 102.5l2.4 4.1h-4.8zM394.5 111.2l2.4 4.1h-4.8z"/><path d="M402.9 96.4l2.4 4.1h-4.8zM381.5 104.9l2.4 4.1h-4.8zM447.2 96.3l2.4 4.1h-4.8zM432.5 101.8l2.4 4.1h-4.8zM408.6 112.0l2.4 4.1h-4.8zM449.7 95.7l2.4 4.1h-4.8z"/><path d="M431.3 97.2l2.4 4.1h-4.8zM410.7 101.3l2.4 4.1h-4.8zM403.5 88.4l2.4 4.1h-4.8zM412.4 101.1l2.4 4.1h-4.8zM463.1 89.1l2.4 4.1h-4.8zM487.4 78.8l2.4 4.1h-4.8z"/><path d="M418.0 92.0l2.4 4.1h-4.8zM440.4 117.3l2.4 4.1h-4.8zM453.8 95.1l2.4 4.1h-4.8zM408.0 112.1l2.4 4.1h-4.8zM446.9 103.6l2.4 4.1h-4.8zM425.5 89.6l2.4 4.1h-4.8z"/><path d="M470.4 76.7l2.4 4.1h-4.8zM398.7 99.6l2.4 4.1h-4.8zM392.2 127.2l2.4 4.1h-4.8zM384.7 110.2l2.4 4.1h-4.8zM423.8 102.6l2.4 4.1h-4.8zM424.0 104.3l2.4 4.1h-4.8z"/><path d="M401.8 87.6l2.4 4.1h-4.8zM458.5 88.7l2.4 4.1h-4.8zM454.0 87.7l2.4 4.1h-4.8zM447.3 95.0l2.4 4.1h-4.8zM444.9 87.0l2.4 4.1h-4.8zM448.4 97.2l2.4 4.1h-4.8z"/><path d="M456.1 106.3l2.4 4.1h-4.8zM427.3 99.0l2.4 4.1h-4.8zM405.9 109.4l2.4 4.1h-4.8zM397.3 118.9l2.4 4.1h-4.8zM414.1 120.4l2.4 4.1h-4.8zM434.0 103.9l2.4 4.1h-4.8z"/><path d="M478.6 89.5l2.4 4.1h-4.8zM463.3 75.7l2.4 4.1h-4.8zM433.5 104.3l2.4 4.1h-4.8zM389.6 112.0l2.4 4.1h-4.8zM397.6 104.9l2.4 4.1h-4.8zM405.2 94.8l2.4 4.1h-4.8z"/><path d="M396.3 116.6l2.4 4.1h-4.8zM419.6 102.9l2.4 4.1h-4.8zM447.6 82.9l2.4 4.1h-4.8zM380.3 95.4l2.4 4.1h-4.8zM404.3 110.4l2.4 4.1h-4.8zM469.5 104.4l2.4 4.1h-4.8z"/><path d="M429.4 100.2l2.4 4.1h-4.8zM432.6 100.5l2.4 4.1h-4.8zM437.7 86.6l2.4 4.1h-4.8zM445.4 87.2l2.4 4.1h-4.8zM405.2 102.3l2.4 4.1h-4.8zM446.8 104.6l2.4 4.1h-4.8z"/><path d="M392.7 101.9l2.4 4.1h-4.8zM457.4 101.7l2.4 4.1h-4.8zM456.4 102.9l2.4 4.1h-4.8zM414.0 101.7l2.4 4.1h-4.8zM454.5 75.1l2.4 4.1h-4.8zM396.8 87.0l2.4 4.1h-4.8z"/><path d="M464.2 78.9l2.4 4.1h-4.8zM428.8 115.0l2.4 4.1h-4.8zM427.6 92.8l2.4 4.1h-4.8zM401.4 110.9l2.4 4.1h-4.8zM457.4 89.0l2.4 4.1h-4.8zM429.1 89.9l2.4 4.1h-4.8z"/><path d="M409.9 94.9l2.4 4.1h-4.8zM403.5 109.5l2.4 4.1h-4.8zM437.9 107.5l2.4 4.1h-4.8zM385.8 100.4l2.4 4.1h-4.8zM418.6 87.9l2.4 4.1h-4.8zM388.0 112.4l2.4 4.1h-4.8z"/><path d="M465.4 98.8l2.4 4.1h-4.8zM419.8 101.5l2.4 4.1h-4.8zM389.6 110.6l2.4 4.1h-4.8zM431.3 88.6l2.4 4.1h-4.8zM405.6 92.3l2.4 4.1h-4.8zM439.4 88.7l2.4 4.1h-4.8z"/><path d="M458.8 98.8l2.4 4.1h-4.8zM436.9 106.3l2.4 4.1h-4.8zM461.6 95.2l2.4 4.1h-4.8zM439.6 95.6l2.4 4.1h-4.8zM457.9 85.3l2.4 4.1h-4.8zM420.7 95.7l2.4 4.1h-4.8z"/><path d="M447.9 99.0l2.4 4.1h-4.8zM414.2 95.2l2.4 4.1h-4.8zM451.5 86.9l2.4 4.1h-4.8zM465.0 92.3l2.4 4.1h-4.8zM411.3 110.9l2.4 4.1h-4.8zM429.0 93.7l2.4 4.1h-4.8z"/><path d="M424.0 89.6l2.4 4.1h-4.8zM397.2 97.1l2.4 4.1h-4.8zM415.8 110.7l2.4 4.1h-4.8zM417.1 96.0l2.4 4.1h-4.8zM463.0 90.7l2.4 4.1h-4.8zM448.6 97.5l2.4 4.1h-4.8z"/><path d="M396.6 105.3l2.4 4.1h-4.8zM398.0 108.8l2.4 4.1h-4.8zM409.6 107.9l2.4 4.1h-4.8zM439.7 93.5l2.4 4.1h-4.8zM405.7 102.2l2.4 4.1h-4.8zM397.9 102.4l2.4 4.1h-4.8z"/><path d="M444.7 107.4l2.4 4.1h-4.8zM417.2 97.9l2.4 4.1h-4.8zM428.3 82.6l2.4 4.1h-4.8zM458.5 102.6l2.4 4.1h-4.8zM473.7 87.9l2.4 4.1h-4.8zM448.2 95.3l2.4 4.1h-4.8z"/><path d="M449.6 92.1l2.4 4.1h-4.8zM440.6 89.0l2.4 4.1h-4.8zM434.2 103.3l2.4 4.1h-4.8zM394.9 95.6l2.4 4.1h-4.8zM434.3 90.7l2.4 4.1h-4.8zM403.4 105.3l2.4 4.1h-4.8z"/><path d="M402.3 96.5l2.4 4.1h-4.8zM412.6 88.8l2.4 4.1h-4.8zM430.4 83.6l2.4 4.1h-4.8zM467.9 91.6l2.4 4.1h-4.8zM397.1 95.3l2.4 4.1h-4.8zM419.4 99.4l2.4 4.1h-4.8z"/><path d="M401.9 109.9l2.4 4.1h-4.8zM457.9 70.1l2.4 4.1h-4.8zM406.2 91.1l2.4 4.1h-4.8zM427.0 90.1l2.4 4.1h-4.8zM420.4 101.5l2.4 4.1h-4.8zM439.2 93.5l2.4 4.1h-4.8z"/><path d="M393.0 107.9l2.4 4.1h-4.8zM443.9 75.7l2.4 4.1h-4.8zM449.5 99.6l2.4 4.1h-4.8zM409.3 100.0l2.4 4.1h-4.8zM479.5 80.6l2.4 4.1h-4.8zM447.7 95.5l2.4 4.1h-4.8z"/><path d="M400.0 93.4l2.4 4.1h-4.8zM414.4 97.1l2.4 4.1h-4.8zM395.2 103.9l2.4 4.1h-4.8zM420.0 98.8l2.4 4.1h-4.8zM380.1 120.4l2.4 4.1h-4.8zM448.9 84.7l2.4 4.1h-4.8z"/><path d="M479.4 82.6l2.4 4.1h-4.8zM471.7 85.6l2.4 4.1h-4.8zM401.0 100.6l2.4 4.1h-4.8zM428.4 107.8l2.4 4.1h-4.8zM440.0 95.2l2.4 4.1h-4.8zM430.8 106.5l2.4 4.1h-4.8z"/><path d="M435.1 102.5l2.4 4.1h-4.8zM390.3 115.3l2.4 4.1h-4.8zM430.2 101.4l2.4 4.1h-4.8zM437.9 86.3l2.4 4.1h-4.8zM433.6 92.8l2.4 4.1h-4.8zM480.0 92.9l2.4 4.1h-4.8z"/><path d="M437.0 105.5l2.4 4.1h-4.8zM433.4 86.6l2.4 4.1h-4.8zM441.1 98.6l2.4 4.1h-4.8zM389.0 97.5l2.4 4.1h-4.8zM438.0 80.1l2.4 4.1h-4.8zM438.5 86.4l2.4 4.1h-4.8z"/><path d="M456.8 103.1l2.4 4.1h-4.8zM421.7 121.5l2.4 4.1h-4.8zM453.4 78.5l2.4 4.1h-4.8zM422.1 112.7l2.4 4.1h-4.8zM395.5 117.5l2.4 4.1h-4.8zM417.0 105.4l2.4 4.1h-4.8z"/><path d="M477.7 90.0l2.4 4.1h-4.8zM432.7 91.7l2.4 4.1h-4.8zM443.9 102.6l2.4 4.1h-4.8zM382.3 113.1l2.4 4.1h-4.8zM463.6 84.0l2.4 4.1h-4.8zM436.6 106.5l2.4 4.1h-4.8z"/><path d="M414.4 74.0l2.4 4.1h-4.8zM463.1 103.7l2.4 4.1h-4.8zM448.6 94.3l2.4 4.1h-4.8zM373.6 101.3l2.4 4.1h-4.8zM417.6 99.7l2.4 4.1h-4.8zM439.3 112.7l2.4 4.1h-4.8z"/><path d="M402.8 102.8l2.4 4.1h-4.8zM449.9 83.9l2.4 4.1h-4.8zM394.6 111.0l2.4 4.1h-4.8zM450.7 110.8l2.4 4.1h-4.8zM459.3 92.8l2.4 4.1h-4.8zM425.1 119.7l2.4 4.1h-4.8z"/><path d="M396.4 99.1l2.4 4.1h-4.8zM436.5 89.6l2.4 4.1h-4.8zM445.7 93.9l2.4 4.1h-4.8zM427.8 109.6l2.4 4.1h-4.8zM455.3 83.0l2.4 4.1h-4.8zM482.6 77.7l2.4 4.1h-4.8z"/><path d="M431.2 86.0l2.4 4.1h-4.8zM457.1 96.7l2.4 4.1h-4.8zM480.6 83.3l2.4 4.1h-4.8zM475.2 93.2l2.4 4.1h-4.8zM392.5 92.7l2.4 4.1h-4.8zM446.6 99.5l2.4 4.1h-4.8z"/><path d="M437.1 108.8l2.4 4.1h-4.8zM404.6 104.2l2.4 4.1h-4.8zM449.8 89.1l2.4 4.1h-4.8zM411.0 101.9l2.4 4.1h-4.8zM383.1 107.4l2.4 4.1h-4.8zM455.6 102.6l2.4 4.1h-4.8z"/><path d="M446.4 94.4l2.4 4.1h-4.8zM390.9 105.5l2.4 4.1h-4.8zM410.5 100.4l2.4 4.1h-4.8zM411.6 102.5l2.4 4.1h-4.8zM420.3 100.3l2.4 4.1h-4.8zM381.9 112.6l2.4 4.1h-4.8z"/><path d="M401.0 85.4l2.4 4.1h-4.8zM480.9 97.1l2.4 4.1h-4.8zM451.9 92.2l2.4 4.1h-4.8zM459.5 81.8l2.4 4.1h-4.8zM473.3 102.1l2.4 4.1h-4.8zM424.6 115.6l2.4 4.1h-4.8z"/><path d="M420.0 92.5l2.4 4.1h-4.8zM444.3 69.9l2.4 4.1h-4.8zM397.6 93.3l2.4 4.1h-4.8zM427.0 102.5l2.4 4.1h-4.8zM465.4 95.6l2.4 4.1h-4.8zM424.5 104.8l2.4 4.1h-4.8z"/><path d="M383.6 116.3l2.4 4.1h-4.8zM400.3 109.4l2.4 4.1h-4.8zM451.7 85.9l2.4 4.1h-4.8zM482.3 88.4l2.4 4.1h-4.8zM414.6 97.1l2.4 4.1h-4.8zM442.5 88.1l2.4 4.1h-4.8z"/><path d="M486.6 89.3l2.4 4.1h-4.8zM452.1 98.4l2.4 4.1h-4.8zM377.4 106.3l2.4 4.1h-4.8zM391.5 112.4l2.4 4.1h-4.8zM443.2 95.1l2.4 4.1h-4.8zM433.3 91.4l2.4 4.1h-4.8z"/><path d="M437.9 96.6l2.4 4.1h-4.8zM384.1 119.3l2.4 4.1h-4.8zM423.0 96.6l2.4 4.1h-4.8zM434.2 99.5l2.4 4.1h-4.8zM409.3 101.9l2.4 4.1h-4.8zM427.4 110.2l2.4 4.1h-4.8z"/><path d="M429.9 97.7l2.4 4.1h-4.8zM422.7 100.5l2.4 4.1h-4.8zM401.6 108.6l2.4 4.1h-4.8zM473.1 94.9l2.4 4.1h-4.8zM470.2 91.1l2.4 4.1h-4.8zM424.0 118.0l2.4 4.1h-4.8z"/><path d="M416.5 98.1l2.4 4.1h-4.8zM450.3 100.2l2.4 4.1h-4.8zM448.7 85.0l2.4 4.1h-4.8zM461.2 108.8l2.4 4.1h-4.8zM398.1 108.5l2.4 4.1h-4.8zM416.0 97.8l2.4 4.1h-4.8z"/><path d="M461.2 90.0l2.4 4.1h-4.8zM425.8 103.3l2.4 4.1h-4.8zM415.5 91.4l2.4 4.1h-4.8zM445.7 100.6l2.4 4.1h-4.8zM449.1 90.2l2.4 4.1h-4.8zM403.2 103.4l2.4 4.1h-4.8z"/><path d="M400.1 105.9l2.4 4.1h-4.8zM394.6 111.9l2.4 4.1h-4.8zM392.7 111.3l2.4 4.1h-4.8zM398.5 109.1l2.4 4.1h-4.8zM430.6 95.1l2.4 4.1h-4.8zM398.0 109.5l2.4 4.1h-4.8z"/><path d="M391.3 114.7l2.4 4.1h-4.8zM473.6 84.5l2.4 4.1h-4.8zM411.3 100.2l2.4 4.1h-4.8zM413.7 95.8l2.4 4.1h-4.8zM385.7 105.5l2.4 4.1h-4.8zM427.7 82.5l2.4 4.1h-4.8z"/><path d="M440.0 89.6l2.4 4.1h-4.8zM452.6 91.7l2.4 4.1h-4.8zM464.0 87.4l2.4 4.1h-4.8zM458.0 84.2l2.4 4.1h-4.8zM383.4 105.3l2.4 4.1h-4.8zM396.2 97.3l2.4 4.1h-4.8z"/><path d="M422.7 101.5l2.4 4.1h-4.8zM445.9 80.4l2.4 4.1h-4.8zM478.9 88.6l2.4 4.1h-4.8zM474.7 112.5l2.4 4.1h-4.8zM472.3 84.2l2.4 4.1h-4.8zM457.0 96.5l2.4 4.1h-4.8z"/><path d="M435.1 99.2l2.4 4.1h-4.8zM394.2 98.0l2.4 4.1h-4.8zM462.9 116.0l2.4 4.1h-4.8zM388.0 121.0l2.4 4.1h-4.8zM443.4 97.8l2.4 4.1h-4.8zM453.9 107.1l2.4 4.1h-4.8z"/><path d="M433.2 91.9l2.4 4.1h-4.8zM434.5 92.6l2.4 4.1h-4.8zM455.7 97.9l2.4 4.1h-4.8zM405.6 94.5l2.4 4.1h-4.8zM465.7 107.5l2.4 4.1h-4.8zM451.5 95.8l2.4 4.1h-4.8z"/><path d="M444.7 87.2l2.4 4.1h-4.8zM475.6 78.5l2.4 4.1h-4.8zM451.6 89.4l2.4 4.1h-4.8zM460.2 79.1l2.4 4.1h-4.8zM416.2 96.5l2.4 4.1h-4.8zM403.8 104.0l2.4 4.1h-4.8z"/><path d="M384.9 103.6l2.4 4.1h-4.8zM463.2 70.4l2.4 4.1h-4.8zM465.6 72.5l2.4 4.1h-4.8zM430.1 94.4l2.4 4.1h-4.8zM471.1 85.4l2.4 4.1h-4.8zM413.9 95.7l2.4 4.1h-4.8z"/><path d="M477.5 97.8l2.4 4.1h-4.8zM425.5 103.9l2.4 4.1h-4.8zM429.1 96.8l2.4 4.1h-4.8zM391.6 111.9l2.4 4.1h-4.8zM393.0 106.6l2.4 4.1h-4.8zM461.1 103.0l2.4 4.1h-4.8z"/><path d="M403.8 103.6l2.4 4.1h-4.8zM387.2 97.6l2.4 4.1h-4.8zM398.0 103.2l2.4 4.1h-4.8zM474.4 82.6l2.4 4.1h-4.8zM449.7 96.9l2.4 4.1h-4.8zM410.0 109.2l2.4 4.1h-4.8z"/><path d="M422.5 98.4l2.4 4.1h-4.8zM419.2 117.3l2.4 4.1h-4.8zM458.1 100.1l2.4 4.1h-4.8zM475.0 91.0l2.4 4.1h-4.8zM400.2 108.9l2.4 4.1h-4.8zM394.7 101.0l2.4 4.1h-4.8z"/><path d="M410.2 109.1l2.4 4.1h-4.8zM467.5 83.1l2.4 4.1h-4.8zM409.1 94.1l2.4 4.1h-4.8zM417.6 99.3l2.4 4.1h-4.8zM446.6 102.4l2.4 4.1h-4.8zM468.2 99.8l2.4 4.1h-4.8z"/><path d="M402.5 97.3l2.4 4.1h-4.8zM407.7 104.7l2.4 4.1h-4.8zM447.4 68.9l2.4 4.1h-4.8zM471.9 82.8l2.4 4.1h-4.8zM441.0 82.9l2.4 4.1h-4.8zM417.5 109.3l2.4 4.1h-4.8z"/><path d="M462.0 92.8l2.4 4.1h-4.8zM456.4 98.3l2.4 4.1h-4.8zM402.0 126.1l2.4 4.1h-4.8zM423.9 97.3l2.4 4.1h-4.8zM393.2 108.9l2.4 4.1h-4.8zM434.6 100.8l2.4 4.1h-4.8z"/><path d="M431.9 94.6l2.4 4.1h-4.8zM439.5 87.1l2.4 4.1h-4.8zM474.6 84.5l2.4 4.1h-4.8zM416.1 84.2l2.4 4.1h-4.8zM457.8 99.6l2.4 4.1h-4.8zM397.9 96.2l2.4 4.1h-4.8z"/><path d="M392.6 112.1l2.4 4.1h-4.8zM472.5 91.2l2.4 4.1h-4.8zM379.3 99.9l2.4 4.1h-4.8zM442.4 91.5l2.4 4.1h-4.8zM482.4 85.1l2.4 4.1h-4.8zM422.4 97.5l2.4 4.1h-4.8z"/><path d="M401.4 97.0l2.4 4.1h-4.8zM388.1 94.9l2.4 4.1h-4.8zM402.2 97.3l2.4 4.1h-4.8zM415.7 104.8l2.4 4.1h-4.8zM441.9 88.3l2.4 4.1h-4.8zM428.4 98.9l2.4 4.1h-4.8z"/><path d="M375.2 106.4l2.4 4.1h-4.8zM407.1 100.6l2.4 4.1h-4.8zM459.3 84.2l2.4 4.1h-4.8zM455.3 91.7l2.4 4.1h-4.8zM428.4 102.2l2.4 4.1h-4.8zM400.9 116.6l2.4 4.1h-4.8z"/><path d="M374.0 115.8l2.4 4.1h-4.8zM403.6 99.4l2.4 4.1h-4.8zM433.9 104.0l2.4 4.1h-4.8zM421.8 91.3l2.4 4.1h-4.8zM392.4 104.4l2.4 4.1h-4.8zM440.8 93.8l2.4 4.1h-4.8z"/><path d="M449.7 95.6l2.4 4.1h-4.8zM435.3 72.6l2.4 4.1h-4.8zM450.9 85.5l2.4 4.1h-4.8zM407.0 97.1l2.4 4.1h-4.8zM439.3 90.2l2.4 4.1h-4.8zM464.9 111.4l2.4 4.1h-4.8z"/><path d="M393.7 112.8l2.4 4.1h-4.8zM459.8 81.9l2.4 4.1h-4.8zM380.0 98.2l2.4 4.1h-4.8zM384.9 112.2l2.4 4.1h-4.8zM432.5 118.3l2.4 4.1h-4.8zM435.2 110.3l2.4 4.1h-4.8z"/><path d="M420.5 95.0l2.4 4.1h-4.8zM454.9 96.0l2.4 4.1h-4.8zM417.7 90.0l2.4 4.1h-4.8zM411.3 103.8l2.4 4.1h-4.8zM407.9 99.6l2.4 4.1h-4.8zM386.1 101.9l2.4 4.1h-4.8z"/><path d="M436.1 98.7l2.4 4.1h-4.8zM449.5 99.8l2.4 4.1h-4.8zM436.2 103.7l2.4 4.1h-4.8zM423.0 101.6l2.4 4.1h-4.8zM452.0 94.7l2.4 4.1h-4.8zM416.5 91.3l2.4 4.1h-4.8z"/><path d="M480.6 86.7l2.4 4.1h-4.8zM421.2 105.3l2.4 4.1h-4.8zM397.7 114.3l2.4 4.1h-4.8zM468.1 96.9l2.4 4.1h-4.8zM452.3 91.1l2.4 4.1h-4.8zM437.1 96.4l2.4 4.1h-4.8z"/><path d="M396.8 91.7l2.4 4.1h-4.8zM462.8 93.2l2.4 4.1h-4.8zM414.5 105.1l2.4 4.1h-4.8zM408.7 88.7l2.4 4.1h-4.8zM453.8 85.1l2.4 4.1h-4.8zM471.0 80.3l2.4 4.1h-4.8z"/><path d="M468.3 100.5l2.4 4.1h-4.8zM412.3 101.9l2.4 4.1h-4.8zM480.3 85.7l2.4 4.1h-4.8zM463.4 90.1l2.4 4.1h-4.8zM405.3 124.9l2.4 4.1h-4.8zM477.6 87.6l2.4 4.1h-4.8z"/><path d="M405.4 102.8l2.4 4.1h-4.8zM458.9 83.2l2.4 4.1h-4.8zM428.9 100.9l2.4 4.1h-4.8zM410.6 101.0l2.4 4.1h-4.8zM422.1 101.5l2.4 4.1h-4.8zM373.5 114.6l2.4 4.1h-4.8z"/><path d="M471.0 84.7l2.4 4.1h-4.8zM401.0 85.5l2.4 4.1h-4.8zM407.4 111.3l2.4 4.1h-4.8zM446.9 80.7l2.4 4.1h-4.8zM443.9 79.4l2.4 4.1h-4.8zM467.4 102.0l2.4 4.1h-4.8z"/><path d="M441.4 109.4l2.4 4.1h-4.8zM458.2 100.5l2.4 4.1h-4.8zM431.2 107.6l2.4 4.1h-4.8zM397.3 110.8l2.4 4.1h-4.8zM458.9 102.4l2.4 4.1h-4.8zM404.9 106.0l2.4 4.1h-4.8z"/><path d="M454.2 90.1l2.4 4.1h-4.8zM423.0 91.9l2.4 4.1h-4.8zM394.0 106.6l2.4 4.1h-4.8zM438.3 106.9l2.4 4.1h-4.8zM418.6 95.1l2.4 4.1h-4.8zM413.5 95.3l2.4 4.1h-4.8z"/><path d="M423.9 107.2l2.4 4.1h-4.8zM453.2 90.8l2.4 4.1h-4.8zM444.8 107.2l2.4 4.1h-4.8zM452.3 101.8l2.4 4.1h-4.8zM427.5 98.0l2.4 4.1h-4.8zM429.4 101.2l2.4 4.1h-4.8z"/><path d="M448.0 84.8l2.4 4.1h-4.8zM463.4 93.3l2.4 4.1h-4.8zM425.3 97.1l2.4 4.1h-4.8zM477.3 80.3l2.4 4.1h-4.8zM396.6 118.9l2.4 4.1h-4.8zM447.5 89.4l2.4 4.1h-4.8z"/><path d="M449.8 84.0l2.4 4.1h-4.8zM415.9 102.9l2.4 4.1h-4.8zM376.2 101.1l2.4 4.1h-4.8zM434.1 108.8l2.4 4.1h-4.8zM418.9 109.0l2.4 4.1h-4.8zM457.3 106.1l2.4 4.1h-4.8z"/><path d="M442.1 80.9l2.4 4.1h-4.8zM438.6 105.8l2.4 4.1h-4.8zM398.6 99.1l2.4 4.1h-4.8zM446.6 112.8l2.4 4.1h-4.8zM401.7 94.6l2.4 4.1h-4.8zM445.6 109.9l2.4 4.1h-4.8z"/><path d="M433.2 105.5l2.4 4.1h-4.8zM389.5 128.5l2.4 4.1h-4.8zM473.4 99.2l2.4 4.1h-4.8zM456.6 85.1l2.4 4.1h-4.8zM430.0 112.6l2.4 4.1h-4.8zM422.4 84.5l2.4 4.1h-4.8z"/><path d="M419.7 79.0l2.4 4.1h-4.8zM392.3 107.1l2.4 4.1h-4.8zM406.5 116.0l2.4 4.1h-4.8zM409.2 105.9l2.4 4.1h-4.8zM480.0 85.8l2.4 4.1h-4.8zM419.3 120.6l2.4 4.1h-4.8z"/><path d="M413.7 107.9l2.4 4.1h-4.8zM448.8 94.2l2.4 4.1h-4.8zM384.5 103.3l2.4 4.1h-4.8zM434.9 116.9l2.4 4.1h-4.8zM444.2 97.1l2.4 4.1h-4.8zM451.9 94.2l2.4 4.1h-4.8z"/><path d="M408.1 91.5l2.4 4.1h-4.8zM414.9 98.2l2.4 4.1h-4.8zM444.3 85.7l2.4 4.1h-4.8zM442.9 91.0l2.4 4.1h-4.8zM446.2 104.7l2.4 4.1h-4.8zM439.2 69.4l2.4 4.1h-4.8z"/><path d="M390.8 99.2l2.4 4.1h-4.8zM431.2 95.9l2.4 4.1h-4.8zM389.3 109.1l2.4 4.1h-4.8zM400.6 88.4l2.4 4.1h-4.8zM466.4 90.3l2.4 4.1h-4.8zM420.0 94.5l2.4 4.1h-4.8z"/><path d="M415.0 98.9l2.4 4.1h-4.8zM480.4 88.1l2.4 4.1h-4.8zM445.5 112.2l2.4 4.1h-4.8zM407.7 107.9l2.4 4.1h-4.8zM416.9 83.4l2.4 4.1h-4.8zM444.7 93.7l2.4 4.1h-4.8z"/><path d="M396.7 110.9l2.4 4.1h-4.8zM479.3 93.6l2.4 4.1h-4.8zM462.0 99.9l2.4 4.1h-4.8zM409.1 106.2l2.4 4.1h-4.8zM393.2 106.5l2.4 4.1h-4.8zM486.5 77.8l2.4 4.1h-4.8z"/><path d="M448.5 92.1l2.4 4.1h-4.8zM460.1 77.2l2.4 4.1h-4.8zM399.1 120.2l2.4 4.1h-4.8zM464.8 93.2l2.4 4.1h-4.8zM401.8 122.3l2.4 4.1h-4.8zM447.6 118.1l2.4 4.1h-4.8z"/><path d="M465.0 89.7l2.4 4.1h-4.8zM414.5 119.0l2.4 4.1h-4.8zM475.5 88.2l2.4 4.1h-4.8zM421.4 109.0l2.4 4.1h-4.8zM410.9 90.5l2.4 4.1h-4.8zM456.1 82.6l2.4 4.1h-4.8z"/><path d="M438.4 113.5l2.4 4.1h-4.8zM428.4 91.4l2.4 4.1h-4.8zM397.4 104.5l2.4 4.1h-4.8zM472.1 85.5l2.4 4.1h-4.8zM453.6 100.0l2.4 4.1h-4.8zM377.4 99.7l2.4 4.1h-4.8z"/><path d="M430.5 88.8l2.4 4.1h-4.8zM420.2 100.9l2.4 4.1h-4.8zM437.9 113.8l2.4 4.1h-4.8zM405.6 126.5l2.4 4.1h-4.8zM421.9 90.3l2.4 4.1h-4.8zM438.1 95.7l2.4 4.1h-4.8z"/><path d="M472.4 101.1l2.4 4.1h-4.8zM435.4 107.7l2.4 4.1h-4.8zM410.4 76.3l2.4 4.1h-4.8zM477.4 96.1l2.4 4.1h-4.8zM394.1 101.7l2.4 4.1h-4.8zM377.4 99.2l2.4 4.1h-4.8z"/><path d="M424.1 76.4l2.4 4.1h-4.8zM429.5 95.6l2.4 4.1h-4.8zM453.6 89.9l2.4 4.1h-4.8zM401.6 115.2l2.4 4.1h-4.8zM427.9 94.4l2.4 4.1h-4.8zM457.1 94.2l2.4 4.1h-4.8z"/><path d="M407.4 113.3l2.4 4.1h-4.8zM457.2 104.8l2.4 4.1h-4.8zM476.4 79.2l2.4 4.1h-4.8zM465.8 82.1l2.4 4.1h-4.8zM438.9 70.0l2.4 4.1h-4.8zM462.3 95.4l2.4 4.1h-4.8z"/><path d="M417.5 121.1l2.4 4.1h-4.8zM474.4 73.3l2.4 4.1h-4.8zM476.0 83.8l2.4 4.1h-4.8zM387.0 91.3l2.4 4.1h-4.8zM410.5 108.7l2.4 4.1h-4.8zM413.7 105.3l2.4 4.1h-4.8z"/><path d="M442.1 81.1l2.4 4.1h-4.8zM475.2 94.6l2.4 4.1h-4.8zM481.9 87.1l2.4 4.1h-4.8zM399.5 103.9l2.4 4.1h-4.8zM453.0 85.7l2.4 4.1h-4.8zM400.3 93.1l2.4 4.1h-4.8z"/><path d="M449.1 103.4l2.4 4.1h-4.8zM448.3 85.8l2.4 4.1h-4.8zM403.2 105.1l2.4 4.1h-4.8zM430.4 99.4l2.4 4.1h-4.8zM450.2 93.5l2.4 4.1h-4.8zM458.8 84.0l2.4 4.1h-4.8z"/><path d="M473.0 89.7l2.4 4.1h-4.8zM423.9 94.3l2.4 4.1h-4.8zM483.9 90.7l2.4 4.1h-4.8zM480.9 96.1l2.4 4.1h-4.8zM427.2 109.9l2.4 4.1h-4.8zM433.1 95.0l2.4 4.1h-4.8z"/><path d="M425.9 97.9l2.4 4.1h-4.8zM395.3 102.5l2.4 4.1h-4.8zM422.9 112.8l2.4 4.1h-4.8zM416.0 108.1l2.4 4.1h-4.8zM382.4 106.2l2.4 4.1h-4.8zM389.8 98.6l2.4 4.1h-4.8z"/><path d="M429.2 93.0l2.4 4.1h-4.8zM469.0 92.7l2.4 4.1h-4.8zM441.3 103.5l2.4 4.1h-4.8zM434.4 112.8l2.4 4.1h-4.8zM394.8 109.3l2.4 4.1h-4.8zM473.3 79.7l2.4 4.1h-4.8z"/><path d="M393.3 106.7l2.4 4.1h-4.8zM472.8 93.4l2.4 4.1h-4.8zM457.4 90.6l2.4 4.1h-4.8zM448.4 67.0l2.4 4.1h-4.8zM410.5 106.0l2.4 4.1h-4.8zM474.0 96.3l2.4 4.1h-4.8z"/><path d="M433.1 115.1l2.4 4.1h-4.8zM447.6 116.4l2.4 4.1h-4.8zM410.6 97.4l2.4 4.1h-4.8zM431.2 94.7l2.4 4.1h-4.8zM404.4 108.7l2.4 4.1h-4.8zM404.4 98.7l2.4 4.1h-4.8z"/><path d="M434.3 91.6l2.4 4.1h-4.8zM424.9 107.0l2.4 4.1h-4.8zM410.9 98.8l2.4 4.1h-4.8zM377.7 101.7l2.4 4.1h-4.8zM415.5 115.5l2.4 4.1h-4.8zM448.6 96.8l2.4 4.1h-4.8z"/><path d="M393.2 103.9l2.4 4.1h-4.8zM423.9 117.6l2.4 4.1h-4.8zM439.3 72.0l2.4 4.1h-4.8zM426.1 88.2l2.4 4.1h-4.8zM381.1 92.7l2.4 4.1h-4.8zM455.9 107.8l2.4 4.1h-4.8z"/><path d="M436.2 97.9l2.4 4.1h-4.8zM468.1 80.3l2.4 4.1h-4.8zM466.6 95.0l2.4 4.1h-4.8zM477.2 72.7l2.4 4.1h-4.8zM384.1 115.1l2.4 4.1h-4.8zM441.2 96.7l2.4 4.1h-4.8z"/><path d="M478.2 90.2l2.4 4.1h-4.8zM412.2 117.7l2.4 4.1h-4.8zM471.9 91.2l2.4 4.1h-4.8zM411.1 101.3l2.4 4.1h-4.8zM427.2 109.6l2.4 4.1h-4.8zM447.9 100.4l2.4 4.1h-4.8z"/><path d="M460.6 83.5l2.4 4.1h-4.8zM453.6 85.7l2.4 4.1h-4.8zM384.4 102.5l2.4 4.1h-4.8zM443.5 88.7l2.4 4.1h-4.8zM456.8 80.8l2.4 4.1h-4.8zM409.9 103.2l2.4 4.1h-4.8z"/><path d="M408.9 108.7l2.4 4.1h-4.8zM480.2 86.3l2.4 4.1h-4.8zM472.5 87.8l2.4 4.1h-4.8zM447.2 102.1l2.4 4.1h-4.8zM455.5 91.3l2.4 4.1h-4.8zM475.8 85.8l2.4 4.1h-4.8z"/><path d="M373.8 101.7l2.4 4.1h-4.8zM471.0 97.2l2.4 4.1h-4.8zM455.8 81.4l2.4 4.1h-4.8zM417.5 102.1l2.4 4.1h-4.8zM387.2 117.7l2.4 4.1h-4.8zM439.1 85.5l2.4 4.1h-4.8z"/><path d="M432.8 92.4l2.4 4.1h-4.8zM452.6 93.1l2.4 4.1h-4.8zM455.4 104.8l2.4 4.1h-4.8zM476.5 81.7l2.4 4.1h-4.8zM406.6 112.2l2.4 4.1h-4.8zM396.4 114.4l2.4 4.1h-4.8z"/><path d="M397.2 104.5l2.4 4.1h-4.8zM448.8 85.3l2.4 4.1h-4.8zM472.2 88.8l2.4 4.1h-4.8zM442.0 95.1l2.4 4.1h-4.8zM394.0 113.3l2.4 4.1h-4.8zM431.5 88.6l2.4 4.1h-4.8z"/><path d="M444.3 99.6l2.4 4.1h-4.8zM413.0 94.9l2.4 4.1h-4.8zM423.0 70.9l2.4 4.1h-4.8zM458.6 90.8l2.4 4.1h-4.8zM404.6 112.6l2.4 4.1h-4.8zM406.3 116.3l2.4 4.1h-4.8z"/><path d="M382.3 114.1l2.4 4.1h-4.8zM386.2 114.4l2.4 4.1h-4.8zM429.5 95.6l2.4 4.1h-4.8zM384.3 95.5l2.4 4.1h-4.8zM410.3 101.3l2.4 4.1h-4.8zM458.0 95.9l2.4 4.1h-4.8z"/><path d="M483.0 82.4l2.4 4.1h-4.8zM451.2 103.4l2.4 4.1h-4.8zM380.5 108.7l2.4 4.1h-4.8zM462.5 83.5l2.4 4.1h-4.8zM462.8 80.8l2.4 4.1h-4.8zM414.4 104.4l2.4 4.1h-4.8z"/><path d="M443.1 100.0l2.4 4.1h-4.8zM435.5 102.3l2.4 4.1h-4.8zM403.4 99.8l2.4 4.1h-4.8zM410.2 86.2l2.4 4.1h-4.8zM411.6 100.5l2.4 4.1h-4.8zM476.5 96.5l2.4 4.1h-4.8z"/><path d="M426.7 87.9l2.4 4.1h-4.8zM467.8 81.0l2.4 4.1h-4.8zM484.9 79.1l2.4 4.1h-4.8zM398.0 95.4l2.4 4.1h-4.8zM435.1 101.1l2.4 4.1h-4.8zM455.8 103.6l2.4 4.1h-4.8z"/><path d="M440.4 90.8l2.4 4.1h-4.8zM404.0 105.4l2.4 4.1h-4.8zM453.0 93.2l2.4 4.1h-4.8zM450.8 81.5l2.4 4.1h-4.8zM422.4 117.6l2.4 4.1h-4.8zM391.8 121.2l2.4 4.1h-4.8z"/><path d="M390.6 118.7l2.4 4.1h-4.8zM398.6 110.5l2.4 4.1h-4.8zM405.0 103.5l2.4 4.1h-4.8zM459.9 89.6l2.4 4.1h-4.8zM457.7 100.9l2.4 4.1h-4.8zM405.2 91.1l2.4 4.1h-4.8z"/><path d="M459.6 95.5l2.4 4.1h-4.8zM440.2 89.1l2.4 4.1h-4.8zM448.5 78.5l2.4 4.1h-4.8zM435.1 86.1l2.4 4.1h-4.8zM445.0 99.0l2.4 4.1h-4.8zM422.8 100.1l2.4 4.1h-4.8z"/><path d="M425.0 94.0l2.4 4.1h-4.8zM470.1 82.9l2.4 4.1h-4.8zM463.0 102.2l2.4 4.1h-4.8zM427.6 109.7l2.4 4.1h-4.8zM473.3 93.5l2.4 4.1h-4.8zM436.2 86.3l2.4 4.1h-4.8z"/><path d="M460.2 90.5l2.4 4.1h-4.8zM379.0 107.9l2.4 4.1h-4.8zM405.0 116.5l2.4 4.1h-4.8zM414.3 114.6l2.4 4.1h-4.8zM432.9 94.2l2.4 4.1h-4.8zM456.9 103.7l2.4 4.1h-4.8z"/><path d="M498.5 56.8l2.4 4.1h-4.8z"/></g><g fill="#7f5cb0" stroke="#241a38" stroke-width="0.60" stroke-linejoin="round"><path d="M549.2 98.4l2.6-3.7h-5.2zM556.4 108.7l2.6-3.7h-5.2zM582.2 86.5l2.6-3.7h-5.2zM590.7 91.4l2.6-3.7h-5.2zM592.4 97.9l2.6-3.7h-5.2zM596.7 106.3l2.6-3.7h-5.2z"/><path d="M608.3 89.0l2.6-3.7h-5.2zM611.2 104.4l2.6-3.7h-5.2zM628.5 129.4l2.6-3.7h-5.2zM585.8 136.2l2.6-3.7h-5.2z"/></g><path d="M55.6 199.1L56.9 195.0L58.1 190.5L59.4 185.5L60.7 181.5L61.9 178.5L63.2 175.6L64.5 174.2L65.7 172.8L67.0 171.4L68.3 170.0L69.5 168.9L70.8 167.8L72.1 166.7L73.4 165.6L74.6 164.4L75.9 163.4L77.2 162.3L78.4 161.3L79.7 160.2L81.0 159.1L82.2 158.7L83.5 158.5L84.8 158.4L86.0 158.3L87.3 158.1L88.6 158.4L89.8 159.4L91.1 160.4L92.4 161.3L93.6 162.3L94.9 163.4L96.2 165.1L97.4 166.8L98.7 168.5L100.0 170.2L101.2 171.9L102.5 173.7L103.8 175.4L105.1 176.9L106.3 178.4L107.6 179.8L108.9 181.3L110.1 182.8L111.4 183.7L112.7 184.7L113.9 185.7L115.2 186.7L116.5 187.6L117.7 188.6L119.0 189.1L120.3 189.6L121.5 190.2L122.8 190.7L124.1 191.2L125.3 191.7L126.6 192.1L127.9 192.5L129.1 192.8L130.4 193.2L131.7 193.6L132.9 194.0L134.2 194.3L135.5 194.6L136.8 194.9L138.0 195.2L139.3 195.5L140.6 195.8L141.8 195.9L143.1 196.0L144.4 196.0L145.6 196.1L146.9 196.2L148.2 196.2L149.4 196.3L150.7 196.4L152.0 196.4L153.2 196.5L154.5 196.6L155.8 196.7L155.8 201.8L154.5 201.9L153.2 202.0L152.0 202.1L150.7 202.1L149.4 202.2L148.2 202.3L146.9 202.3L145.6 202.4L144.4 202.5L143.1 202.5L141.8 202.6L140.6 202.7L139.3 203.0L138.0 203.3L136.8 203.6L135.5 203.9L134.2 204.2L132.9 204.5L131.7 204.9L130.4 205.3L129.1 205.7L127.9 206.0L126.6 206.4L125.3 206.8L124.1 207.3L122.8 207.8L121.5 208.3L120.3 208.9L119.0 209.4L117.7 209.9L116.5 210.9L115.2 211.8L113.9 212.8L112.7 213.8L111.4 214.8L110.1 215.7L108.9 217.2L107.6 218.7L106.3 220.1L105.1 221.6L103.8 223.1L102.5 224.8L101.2 226.6L100.0 228.3L98.7 230.0L97.4 231.7L96.2 233.4L94.9 235.1L93.6 236.2L92.4 237.2L91.1 238.1L89.8 239.1L88.6 240.1L87.3 240.4L86.0 240.2L84.8 240.1L83.5 240.0L82.2 239.8L81.0 239.4L79.7 238.3L78.4 237.2L77.2 236.2L75.9 235.1L74.6 234.1L73.4 232.9L72.1 231.8L70.8 230.7L69.5 229.6L68.3 228.5L67.0 227.1L65.7 225.7L64.5 224.3L63.2 222.9L61.9 220.0L60.7 217.0L59.4 213.0L58.1 208.0L56.9 203.5L55.6 199.4Z" fill="#1f6f90" stroke="#18262e" stroke-width="1.2" stroke-linejoin="round"/><path d="M213.5 192.1L214.9 190.8L216.3 188.9L217.7 186.6L219.1 183.9L220.5 181.2L221.9 178.7L223.4 176.5L224.8 174.4L226.2 172.3L227.6 170.2L229.0 168.6L230.4 166.9L231.8 165.3L233.2 163.7L234.6 162.0L236.0 160.2L237.4 158.4L238.8 156.7L240.2 156.3L241.7 156.6L243.1 157.0L244.5 157.3L245.9 157.6L247.3 158.0L248.7 159.0L250.1 160.1L251.5 161.2L252.9 162.3L254.3 163.4L255.7 164.6L257.1 165.7L258.5 167.3L259.9 168.8L261.4 170.4L262.8 171.9L264.2 173.5L265.6 175.0L267.0 176.6L268.4 178.1L269.8 179.6L271.2 181.1L272.6 182.5L274.0 184.0L275.4 185.4L276.8 186.7L278.2 187.6L279.7 188.4L281.1 189.0L282.5 189.6L283.9 190.1L285.3 190.7L286.7 191.2L288.1 191.8L289.5 192.4L290.9 193.0L292.3 193.7L293.7 194.2L295.1 194.4L296.5 194.7L298.0 194.9L299.4 195.2L300.8 195.5L302.2 195.7L303.6 195.8L305.0 195.9L306.4 196.1L307.8 196.2L309.2 196.3L310.6 196.5L312.0 196.5L313.4 196.5L314.8 196.5L316.2 196.6L317.7 196.6L319.1 196.6L320.5 196.7L321.9 196.7L323.3 196.7L324.7 196.8L324.7 201.8L323.3 201.8L321.9 201.8L320.5 201.8L319.1 201.9L317.7 201.9L316.2 201.9L314.8 202.0L313.4 202.0L312.0 202.0L310.6 202.0L309.2 202.2L307.8 202.3L306.4 202.4L305.0 202.6L303.6 202.7L302.2 202.8L300.8 203.0L299.4 203.3L298.0 203.6L296.5 203.8L295.1 204.1L293.7 204.3L292.3 204.8L290.9 205.5L289.5 206.1L288.1 206.7L286.7 207.3L285.3 207.8L283.9 208.4L282.5 208.9L281.1 209.5L279.7 210.1L278.2 210.9L276.8 211.8L275.4 213.1L274.0 214.5L272.6 216.0L271.2 217.4L269.8 218.9L268.4 220.4L267.0 221.9L265.6 223.5L264.2 225.0L262.8 226.6L261.4 228.1L259.9 229.7L258.5 231.2L257.1 232.8L255.7 233.9L254.3 235.1L252.9 236.2L251.5 237.3L250.1 238.4L248.7 239.5L247.3 240.5L245.9 240.9L244.5 241.2L243.1 241.5L241.7 241.9L240.2 242.2L238.8 241.8L237.4 240.1L236.0 238.3L234.6 236.5L233.2 234.8L231.8 233.2L230.4 231.6L229.0 229.9L227.6 228.3L226.2 226.2L224.8 224.1L223.4 222.0L221.9 219.8L220.5 217.3L219.1 214.6L217.7 211.9L216.3 209.6L214.9 207.7L213.5 206.4Z" fill="#8a4a4a" stroke="#2a1a1a" stroke-width="1.2" stroke-linejoin="round"/><path d="M370.9 198.1L372.2 196.7L373.4 195.3L374.7 193.9L375.9 191.9L377.2 189.7L378.4 187.4L379.7 185.2L380.9 182.9L382.2 180.7L383.4 178.5L384.7 176.3L385.9 174.4L387.2 172.7L388.4 171.1L389.7 169.5L390.9 167.8L392.2 166.4L393.4 165.1L394.7 163.8L395.9 162.5L397.2 161.2L398.4 160.6L399.7 160.1L400.9 159.5L402.2 159.0L403.5 158.8L404.7 159.2L406.0 159.7L407.2 160.1L408.5 160.6L409.7 161.4L411.0 162.3L412.2 163.2L413.5 164.2L414.7 165.1L416.0 166.3L417.2 167.5L418.5 168.7L419.7 169.9L421.0 171.3L422.2 172.7L423.5 174.2L424.7 175.7L426.0 177.1L427.2 178.5L428.5 179.7L429.7 181.0L431.0 182.3L432.2 183.5L433.5 184.7L434.8 185.5L436.0 186.2L437.3 187.0L438.5 187.8L439.8 188.6L441.0 189.2L442.3 189.7L443.5 190.2L444.8 190.7L446.0 191.1L447.3 191.6L448.5 192.0L449.8 192.5L451.0 193.1L452.3 193.7L453.5 194.1L454.8 194.3L456.0 194.5L457.3 194.7L458.5 194.9L459.8 195.1L461.0 195.3L462.3 195.5L463.5 195.7L464.8 195.9L466.1 196.1L467.3 196.3L468.6 196.5L469.8 196.9L469.8 201.6L468.6 202.0L467.3 202.2L466.1 202.4L464.8 202.6L463.5 202.8L462.3 203.0L461.0 203.2L459.8 203.4L458.5 203.6L457.3 203.8L456.0 204.0L454.8 204.2L453.5 204.4L452.3 204.8L451.0 205.4L449.8 206.0L448.5 206.5L447.3 206.9L446.0 207.4L444.8 207.8L443.5 208.3L442.3 208.8L441.0 209.3L439.8 209.9L438.5 210.7L437.3 211.5L436.0 212.3L434.8 213.0L433.5 213.8L432.2 215.0L431.0 216.2L429.7 217.5L428.5 218.8L427.2 220.0L426.0 221.4L424.7 222.8L423.5 224.3L422.2 225.8L421.0 227.2L419.7 228.6L418.5 229.8L417.2 231.0L416.0 232.2L414.7 233.4L413.5 234.3L412.2 235.3L411.0 236.2L409.7 237.1L408.5 237.9L407.2 238.4L406.0 238.8L404.7 239.3L403.5 239.7L402.2 239.5L400.9 239.0L399.7 238.4L398.4 237.9L397.2 237.3L395.9 236.0L394.7 234.7L393.4 233.4L392.2 232.1L390.9 230.7L389.7 229.0L388.4 227.4L387.2 225.8L385.9 224.1L384.7 222.2L383.4 220.0L382.2 217.8L380.9 215.6L379.7 213.3L378.4 211.1L377.2 208.8L375.9 206.6L374.7 204.6L373.4 203.2L372.2 201.8L370.9 200.4Z" fill="#5f7f57" stroke="#2a3628" stroke-width="1.2" stroke-linejoin="round"/><g class="cb" fill="#2cb9ec" stroke="#122029" stroke-width="0.70"><circle cx="92.9" cy="210.0" r="1.95"/><circle cx="90.7" cy="231.2" r="1.95"/><circle cx="122.6" cy="199.8" r="1.95"/><circle cx="89.5" cy="195.2" r="1.95"/><circle cx="93.1" cy="187.8" r="1.95"/><circle cx="120.4" cy="205.9" r="1.95"/><circle cx="71.7" cy="179.6" r="1.95"/><circle cx="98.1" cy="204.4" r="1.95"/><circle cx="101.5" cy="174.2" r="1.95"/><circle cx="74.5" cy="175.9" r="1.95"/><circle cx="101.2" cy="187.5" r="1.95"/><circle cx="85.1" cy="212.7" r="1.95"/><circle cx="96.3" cy="213.2" r="1.95"/><circle cx="72.6" cy="195.1" r="1.95"/><circle cx="69.2" cy="191.4" r="1.95"/><circle cx="75.5" cy="197.2" r="1.95"/><circle cx="72.8" cy="173.4" r="1.95"/><circle cx="123.8" cy="202.6" r="1.95"/><circle cx="80.6" cy="211.7" r="1.95"/><circle cx="117.8" cy="205.3" r="1.95"/><circle cx="75.8" cy="209.9" r="1.95"/><circle cx="68.1" cy="173.3" r="1.95"/><circle cx="103.0" cy="177.2" r="1.95"/><circle cx="80.1" cy="236.0" r="1.95"/><circle cx="100.4" cy="194.0" r="1.95"/><circle cx="84.9" cy="225.4" r="1.95"/><circle cx="73.0" cy="177.2" r="1.95"/><circle cx="96.6" cy="184.4" r="1.95"/><circle cx="95.7" cy="188.7" r="1.95"/><circle cx="69.1" cy="187.2" r="1.95"/><circle cx="71.4" cy="229.6" r="1.95"/><circle cx="121.2" cy="198.8" r="1.95"/><circle cx="69.5" cy="171.7" r="1.95"/><circle cx="82.9" cy="161.1" r="1.95"/><circle cx="93.1" cy="178.0" r="1.95"/><circle cx="137.7" cy="200.7" r="1.95"/><circle cx="93.6" cy="232.7" r="1.95"/><circle cx="97.7" cy="206.5" r="1.95"/><circle cx="105.2" cy="193.4" r="1.95"/><circle cx="116.1" cy="196.4" r="1.95"/><circle cx="102.7" cy="201.6" r="1.95"/><circle cx="88.5" cy="194.4" r="1.95"/><circle cx="119.8" cy="192.1" r="1.95"/><circle cx="78.0" cy="205.4" r="1.95"/><circle cx="78.3" cy="198.3" r="1.95"/><circle cx="140.1" cy="197.8" r="1.95"/><circle cx="104.8" cy="204.3" r="1.95"/><circle cx="100.2" cy="224.5" r="1.95"/><circle cx="113.3" cy="187.8" r="1.95"/><circle cx="113.4" cy="206.6" r="1.95"/><circle cx="68.0" cy="208.5" r="1.95"/><circle cx="110.8" cy="210.0" r="1.95"/><circle cx="79.3" cy="217.9" r="1.95"/><circle cx="83.7" cy="187.9" r="1.95"/><circle cx="60.1" cy="207.8" r="1.95"/><circle cx="70.1" cy="183.8" r="1.95"/><circle cx="100.3" cy="204.8" r="1.95"/><circle cx="74.4" cy="215.1" r="1.95"/><circle cx="103.9" cy="190.2" r="1.95"/><circle cx="95.1" cy="195.1" r="1.95"/><circle cx="83.5" cy="194.7" r="1.95"/><circle cx="115.6" cy="189.7" r="1.95"/><circle cx="121.3" cy="205.1" r="1.95"/><circle cx="101.9" cy="211.3" r="1.95"/><circle cx="96.5" cy="211.3" r="1.95"/><circle cx="86.9" cy="163.3" r="1.95"/><circle cx="59.6" cy="198.6" r="1.95"/><circle cx="78.1" cy="212.3" r="1.95"/><circle cx="106.3" cy="210.6" r="1.95"/><circle cx="94.2" cy="203.1" r="1.95"/><circle cx="86.9" cy="222.2" r="1.95"/><circle cx="66.8" cy="176.8" r="1.95"/><circle cx="109.7" cy="213.4" r="1.95"/><circle cx="62.6" cy="183.6" r="1.95"/><circle cx="106.1" cy="190.6" r="1.95"/><circle cx="104.7" cy="207.4" r="1.95"/><circle cx="73.0" cy="191.8" r="1.95"/><circle cx="80.6" cy="192.6" r="1.95"/><circle cx="84.6" cy="204.0" r="1.95"/><circle cx="92.4" cy="221.5" r="1.95"/><circle cx="68.2" cy="190.3" r="1.95"/><circle cx="73.5" cy="218.3" r="1.95"/><circle cx="85.8" cy="203.1" r="1.95"/><circle cx="111.4" cy="203.5" r="1.95"/><circle cx="90.1" cy="172.2" r="1.95"/><circle cx="98.5" cy="182.9" r="1.95"/><circle cx="100.2" cy="190.3" r="1.95"/><circle cx="81.7" cy="161.9" r="1.95"/><circle cx="97.8" cy="208.7" r="1.95"/><circle cx="96.2" cy="178.0" r="1.95"/><circle cx="84.7" cy="183.5" r="1.95"/><circle cx="99.3" cy="210.2" r="1.95"/><circle cx="103.9" cy="192.2" r="1.95"/><circle cx="82.6" cy="211.4" r="1.95"/><circle cx="70.1" cy="211.9" r="1.95"/><circle cx="110.9" cy="204.2" r="1.95"/><circle cx="77.6" cy="217.3" r="1.95"/><circle cx="125.4" cy="203.7" r="1.95"/><circle cx="66.3" cy="185.5" r="1.95"/><circle cx="119.0" cy="201.2" r="1.95"/><circle cx="64.3" cy="202.4" r="1.95"/><circle cx="120.0" cy="192.4" r="1.95"/><circle cx="73.5" cy="212.0" r="1.95"/><circle cx="101.4" cy="213.9" r="1.95"/><circle cx="82.9" cy="183.4" r="1.95"/><circle cx="97.7" cy="206.8" r="1.95"/><circle cx="76.0" cy="179.5" r="1.95"/><circle cx="85.4" cy="218.0" r="1.95"/><circle cx="72.6" cy="218.2" r="1.95"/><circle cx="78.1" cy="179.4" r="1.95"/><circle cx="147.8" cy="198.5" r="1.95"/><circle cx="93.4" cy="209.7" r="1.95"/><circle cx="86.4" cy="209.4" r="1.95"/><circle cx="88.2" cy="183.1" r="1.95"/><circle cx="78.5" cy="186.7" r="1.95"/><circle cx="92.3" cy="214.0" r="1.95"/><circle cx="83.2" cy="207.2" r="1.95"/><circle cx="64.4" cy="187.1" r="1.95"/><circle cx="68.6" cy="197.1" r="1.95"/><circle cx="85.2" cy="210.4" r="1.95"/><circle cx="97.1" cy="187.7" r="1.95"/><circle cx="83.4" cy="233.0" r="1.95"/><circle cx="113.9" cy="210.3" r="1.95"/><circle cx="120.6" cy="198.4" r="1.95"/><circle cx="117.5" cy="201.0" r="1.95"/><circle cx="94.8" cy="201.4" r="1.95"/><circle cx="87.2" cy="173.4" r="1.95"/><circle cx="83.1" cy="224.3" r="1.95"/><circle cx="114.5" cy="200.5" r="1.95"/><circle cx="75.3" cy="226.5" r="1.95"/><circle cx="59.4" cy="189.7" r="1.95"/><circle cx="78.6" cy="165.0" r="1.95"/><circle cx="93.4" cy="207.0" r="1.95"/><circle cx="66.4" cy="204.9" r="1.95"/><circle cx="100.3" cy="211.0" r="1.95"/><circle cx="60.3" cy="199.8" r="1.95"/><circle cx="97.2" cy="206.0" r="1.95"/><circle cx="97.5" cy="221.9" r="1.95"/><circle cx="128.2" cy="194.4" r="1.95"/><circle cx="78.7" cy="218.7" r="1.95"/><circle cx="108.2" cy="197.5" r="1.95"/><circle cx="99.2" cy="192.2" r="1.95"/><circle cx="91.0" cy="169.1" r="1.95"/><circle cx="59.8" cy="197.3" r="1.95"/><circle cx="103.3" cy="208.3" r="1.95"/><circle cx="88.6" cy="187.5" r="1.95"/><circle cx="78.9" cy="185.8" r="1.95"/><circle cx="98.8" cy="210.6" r="1.95"/><circle cx="82.8" cy="211.7" r="1.95"/><circle cx="122.6" cy="197.7" r="1.95"/><circle cx="58.5" cy="205.7" r="1.95"/><circle cx="91.9" cy="188.2" r="1.95"/><circle cx="77.6" cy="215.9" r="1.95"/><circle cx="97.7" cy="212.8" r="1.95"/><circle cx="64.7" cy="218.9" r="1.95"/><circle cx="75.0" cy="177.4" r="1.95"/><circle cx="94.3" cy="175.5" r="1.95"/><circle cx="94.5" cy="196.3" r="1.95"/><circle cx="83.1" cy="176.3" r="1.95"/><circle cx="98.9" cy="188.2" r="1.95"/><circle cx="68.8" cy="204.7" r="1.95"/><circle cx="81.0" cy="175.2" r="1.95"/><circle cx="72.6" cy="201.9" r="1.95"/><circle cx="107.5" cy="192.9" r="1.95"/><circle cx="153.6" cy="199.1" r="1.95"/><circle cx="86.5" cy="177.9" r="1.95"/><circle cx="94.7" cy="212.1" r="1.95"/><circle cx="89.7" cy="231.8" r="1.95"/><circle cx="82.3" cy="201.1" r="1.95"/><circle cx="73.0" cy="203.1" r="1.95"/><circle cx="132.2" cy="196.8" r="1.95"/><circle cx="83.5" cy="160.9" r="1.95"/><circle cx="113.8" cy="201.5" r="1.95"/><circle cx="90.9" cy="221.1" r="1.95"/><circle cx="145.2" cy="199.7" r="1.95"/><circle cx="107.2" cy="190.8" r="1.95"/><circle cx="79.0" cy="168.1" r="1.95"/><circle cx="71.0" cy="222.1" r="1.95"/><circle cx="101.0" cy="207.1" r="1.95"/><circle cx="91.6" cy="178.7" r="1.95"/><circle cx="71.4" cy="183.0" r="1.95"/><circle cx="68.7" cy="188.4" r="1.95"/><circle cx="69.6" cy="209.3" r="1.95"/><circle cx="67.4" cy="193.2" r="1.95"/><circle cx="137.1" cy="198.1" r="1.95"/><circle cx="75.2" cy="198.0" r="1.95"/><circle cx="89.1" cy="207.9" r="1.95"/><circle cx="99.4" cy="201.4" r="1.95"/><circle cx="73.7" cy="190.0" r="1.95"/><circle cx="98.7" cy="194.8" r="1.95"/><circle cx="81.4" cy="168.2" r="1.95"/><circle cx="84.1" cy="208.4" r="1.95"/><circle cx="68.1" cy="186.1" r="1.95"/><circle cx="87.4" cy="167.8" r="1.95"/><circle cx="91.1" cy="205.3" r="1.95"/><circle cx="96.2" cy="215.9" r="1.95"/><circle cx="97.8" cy="185.5" r="1.95"/><circle cx="103.3" cy="212.7" r="1.95"/><circle cx="94.6" cy="190.2" r="1.95"/><circle cx="73.5" cy="219.9" r="1.95"/><circle cx="72.1" cy="224.2" r="1.95"/><circle cx="68.6" cy="207.1" r="1.95"/><circle cx="139.9" cy="199.3" r="1.95"/><circle cx="127.6" cy="198.4" r="1.95"/><circle cx="76.2" cy="165.9" r="1.95"/><circle cx="74.2" cy="216.1" r="1.95"/><circle cx="79.4" cy="214.3" r="1.95"/><circle cx="76.6" cy="228.3" r="1.95"/><circle cx="101.6" cy="178.9" r="1.95"/><circle cx="98.2" cy="201.2" r="1.95"/><circle cx="132.2" cy="202.1" r="1.95"/><circle cx="67.9" cy="225.7" r="1.95"/><circle cx="84.0" cy="200.9" r="1.95"/><circle cx="89.8" cy="212.5" r="1.95"/><circle cx="77.9" cy="233.6" r="1.95"/><circle cx="69.8" cy="188.3" r="1.95"/><circle cx="125.2" cy="196.8" r="1.95"/><circle cx="72.9" cy="229.5" r="1.95"/><circle cx="85.5" cy="220.2" r="1.95"/><circle cx="57.5" cy="202.1" r="1.95"/><circle cx="69.4" cy="185.6" r="1.95"/><circle cx="67.6" cy="174.4" r="1.95"/><circle cx="72.4" cy="222.8" r="1.95"/><circle cx="86.7" cy="223.2" r="1.95"/><circle cx="74.7" cy="170.3" r="1.95"/><circle cx="99.1" cy="203.2" r="1.95"/><circle cx="90.5" cy="197.7" r="1.95"/><circle cx="99.5" cy="218.4" r="1.95"/><circle cx="75.7" cy="180.8" r="1.95"/><circle cx="98.0" cy="171.0" r="1.95"/><circle cx="97.1" cy="209.0" r="1.95"/><circle cx="95.2" cy="222.1" r="1.95"/><circle cx="105.6" cy="200.4" r="1.95"/><circle cx="120.6" cy="197.5" r="1.95"/><circle cx="92.5" cy="179.0" r="1.95"/><circle cx="59.3" cy="203.6" r="1.95"/><circle cx="101.1" cy="186.0" r="1.95"/><circle cx="92.7" cy="208.9" r="1.95"/><circle cx="95.8" cy="188.7" r="1.95"/><circle cx="85.4" cy="234.3" r="1.95"/><circle cx="98.8" cy="208.8" r="1.95"/><circle cx="69.5" cy="203.2" r="1.95"/><circle cx="154.4" cy="199.4" r="1.95"/><circle cx="64.2" cy="204.5" r="1.95"/><circle cx="70.0" cy="171.2" r="1.95"/><circle cx="59.0" cy="201.1" r="1.95"/><circle cx="91.8" cy="180.4" r="1.95"/><circle cx="93.1" cy="228.9" r="1.95"/><circle cx="73.3" cy="193.8" r="1.95"/><circle cx="81.5" cy="168.6" r="1.95"/><circle cx="58.8" cy="193.3" r="1.95"/><circle cx="90.1" cy="182.1" r="1.95"/><circle cx="61.8" cy="215.9" r="1.95"/><circle cx="77.8" cy="166.8" r="1.95"/><circle cx="78.1" cy="218.2" r="1.95"/><circle cx="87.6" cy="175.0" r="1.95"/><circle cx="101.2" cy="217.2" r="1.95"/><circle cx="77.7" cy="219.9" r="1.95"/><circle cx="64.7" cy="185.6" r="1.95"/><circle cx="63.1" cy="219.9" r="1.95"/><circle cx="144.9" cy="199.3" r="1.95"/><circle cx="78.3" cy="189.6" r="1.95"/><circle cx="78.3" cy="165.4" r="1.95"/><circle cx="107.5" cy="182.3" r="1.95"/><circle cx="125.8" cy="203.9" r="1.95"/><circle cx="82.4" cy="182.2" r="1.95"/><circle cx="87.2" cy="204.9" r="1.95"/><circle cx="97.0" cy="206.6" r="1.95"/><circle cx="107.7" cy="215.1" r="1.95"/><circle cx="132.5" cy="200.3" r="1.95"/><circle cx="97.9" cy="214.3" r="1.95"/><circle cx="65.9" cy="196.5" r="1.95"/><circle cx="100.5" cy="188.1" r="1.95"/><circle cx="82.2" cy="233.4" r="1.95"/><circle cx="100.2" cy="201.5" r="1.95"/><circle cx="81.6" cy="236.0" r="1.95"/><circle cx="108.3" cy="184.6" r="1.95"/><circle cx="90.7" cy="223.9" r="1.95"/><circle cx="100.0" cy="225.8" r="1.95"/><circle cx="58.0" cy="194.6" r="1.95"/><circle cx="74.5" cy="173.8" r="1.95"/><circle cx="64.4" cy="192.8" r="1.95"/><circle cx="153.0" cy="199.1" r="1.95"/><circle cx="102.6" cy="185.1" r="1.95"/><circle cx="96.3" cy="223.1" r="1.95"/><circle cx="106.3" cy="217.9" r="1.95"/><circle cx="96.2" cy="223.3" r="1.95"/><circle cx="71.1" cy="225.2" r="1.95"/><circle cx="84.0" cy="215.2" r="1.95"/><circle cx="94.8" cy="193.4" r="1.95"/><circle cx="85.2" cy="237.5" r="1.95"/><circle cx="78.9" cy="226.7" r="1.95"/><circle cx="76.6" cy="219.4" r="1.95"/><circle cx="71.0" cy="213.8" r="1.95"/><circle cx="89.9" cy="219.8" r="1.95"/><circle cx="92.2" cy="203.6" r="1.95"/><circle cx="143.5" cy="200.6" r="1.95"/><circle cx="80.4" cy="207.6" r="1.95"/><circle cx="100.5" cy="179.9" r="1.95"/><circle cx="117.9" cy="200.0" r="1.95"/><circle cx="104.1" cy="205.7" r="1.95"/><circle cx="146.9" cy="198.9" r="1.95"/><circle cx="83.0" cy="161.2" r="1.95"/><circle cx="111.2" cy="186.3" r="1.95"/><circle cx="58.0" cy="191.3" r="1.95"/><circle cx="65.8" cy="201.4" r="1.95"/><circle cx="93.5" cy="164.3" r="1.95"/><circle cx="76.8" cy="214.5" r="1.95"/><circle cx="73.4" cy="231.3" r="1.95"/><circle cx="85.4" cy="221.1" r="1.95"/><circle cx="137.0" cy="199.4" r="1.95"/><circle cx="73.1" cy="201.0" r="1.95"/><circle cx="108.6" cy="189.8" r="1.95"/><circle cx="70.0" cy="207.0" r="1.95"/><circle cx="134.8" cy="201.2" r="1.95"/><circle cx="79.0" cy="230.8" r="1.95"/><circle cx="96.7" cy="199.3" r="1.95"/><circle cx="67.9" cy="218.1" r="1.95"/><circle cx="71.8" cy="169.8" r="1.95"/><circle cx="61.2" cy="213.3" r="1.95"/><circle cx="90.8" cy="199.4" r="1.95"/><circle cx="84.8" cy="180.9" r="1.95"/><circle cx="75.4" cy="200.0" r="1.95"/><circle cx="73.1" cy="177.7" r="1.95"/><circle cx="116.1" cy="208.6" r="1.95"/><circle cx="114.8" cy="193.9" r="1.95"/><circle cx="111.1" cy="189.9" r="1.95"/><circle cx="102.4" cy="214.1" r="1.95"/><circle cx="84.7" cy="237.7" r="1.95"/><circle cx="94.7" cy="182.0" r="1.95"/><circle cx="87.0" cy="178.4" r="1.95"/><circle cx="59.3" cy="194.7" r="1.95"/><circle cx="133.4" cy="197.6" r="1.95"/><circle cx="68.5" cy="201.5" r="1.95"/><circle cx="150.3" cy="199.6" r="1.95"/><circle cx="88.3" cy="161.8" r="1.95"/><circle cx="122.9" cy="205.2" r="1.95"/><circle cx="102.6" cy="187.7" r="1.95"/><circle cx="106.1" cy="181.1" r="1.95"/><circle cx="70.2" cy="227.2" r="1.95"/><circle cx="60.4" cy="190.4" r="1.95"/><circle cx="90.8" cy="229.4" r="1.95"/><circle cx="76.6" cy="189.1" r="1.95"/><circle cx="65.4" cy="181.3" r="1.95"/><circle cx="86.9" cy="201.6" r="1.95"/><circle cx="77.4" cy="195.5" r="1.95"/><circle cx="73.8" cy="182.9" r="1.95"/><circle cx="105.4" cy="214.6" r="1.95"/><circle cx="87.9" cy="170.5" r="1.95"/><circle cx="91.1" cy="177.4" r="1.95"/><circle cx="70.8" cy="219.6" r="1.95"/><circle cx="116.2" cy="192.7" r="1.95"/><circle cx="143.7" cy="199.8" r="1.95"/><circle cx="70.6" cy="193.6" r="1.95"/><circle cx="73.2" cy="219.9" r="1.95"/><circle cx="78.2" cy="192.2" r="1.95"/><circle cx="81.3" cy="179.0" r="1.95"/><circle cx="89.1" cy="161.4" r="1.95"/><circle cx="71.5" cy="210.5" r="1.95"/><circle cx="69.8" cy="216.1" r="1.95"/><circle cx="76.0" cy="185.5" r="1.95"/><circle cx="108.7" cy="194.2" r="1.95"/><circle cx="56.4" cy="200.1" r="1.95"/><circle cx="126.2" cy="202.2" r="1.95"/><circle cx="90.4" cy="165.2" r="1.95"/><circle cx="139.1" cy="199.9" r="1.95"/><circle cx="130.0" cy="197.3" r="1.95"/><circle cx="103.8" cy="193.3" r="1.95"/><circle cx="68.4" cy="220.3" r="1.95"/><circle cx="89.0" cy="230.5" r="1.95"/><circle cx="83.5" cy="199.1" r="1.95"/><circle cx="100.4" cy="213.6" r="1.95"/><circle cx="150.1" cy="198.8" r="1.95"/><circle cx="81.0" cy="178.8" r="1.95"/><circle cx="91.8" cy="208.1" r="1.95"/><circle cx="95.7" cy="187.1" r="1.95"/><circle cx="100.1" cy="174.7" r="1.95"/><circle cx="64.6" cy="222.3" r="1.95"/><circle cx="94.5" cy="207.1" r="1.95"/><circle cx="73.9" cy="222.8" r="1.95"/><circle cx="130.4" cy="196.3" r="1.95"/><circle cx="124.1" cy="198.0" r="1.95"/><circle cx="74.0" cy="188.6" r="1.95"/><circle cx="81.4" cy="189.3" r="1.95"/><circle cx="77.8" cy="171.1" r="1.95"/><circle cx="82.9" cy="228.5" r="1.95"/><circle cx="93.6" cy="175.7" r="1.95"/><circle cx="89.6" cy="168.7" r="1.95"/><circle cx="76.1" cy="219.4" r="1.95"/><circle cx="72.7" cy="216.5" r="1.95"/><circle cx="63.6" cy="184.8" r="1.95"/><circle cx="77.8" cy="188.9" r="1.95"/><circle cx="122.1" cy="193.2" r="1.95"/><circle cx="99.3" cy="218.9" r="1.95"/><circle cx="68.7" cy="174.1" r="1.95"/><circle cx="73.7" cy="192.0" r="1.95"/><circle cx="57.2" cy="196.5" r="1.95"/><circle cx="97.2" cy="215.4" r="1.95"/><circle cx="75.5" cy="184.4" r="1.95"/><circle cx="118.0" cy="204.8" r="1.95"/><circle cx="108.7" cy="208.0" r="1.95"/><circle cx="108.3" cy="204.5" r="1.95"/><circle cx="126.7" cy="197.4" r="1.95"/><circle cx="84.7" cy="169.6" r="1.95"/><circle cx="72.1" cy="181.8" r="1.95"/><circle cx="77.0" cy="220.4" r="1.95"/><circle cx="81.3" cy="161.5" r="1.95"/><circle cx="93.7" cy="170.2" r="1.95"/><circle cx="63.3" cy="179.4" r="1.95"/><circle cx="70.8" cy="208.0" r="1.95"/><circle cx="69.7" cy="199.3" r="1.95"/><circle cx="77.6" cy="165.3" r="1.95"/><circle cx="93.8" cy="181.1" r="1.95"/><circle cx="79.9" cy="185.8" r="1.95"/><circle cx="89.0" cy="223.1" r="1.95"/><circle cx="61.9" cy="188.9" r="1.95"/><circle cx="74.7" cy="172.9" r="1.95"/><circle cx="88.9" cy="165.7" r="1.95"/><circle cx="60.8" cy="184.0" r="1.95"/><circle cx="81.1" cy="221.9" r="1.95"/><circle cx="115.6" cy="202.3" r="1.95"/><circle cx="85.5" cy="190.8" r="1.95"/><circle cx="68.7" cy="197.4" r="1.95"/><circle cx="83.2" cy="169.8" r="1.95"/><circle cx="64.6" cy="177.5" r="1.95"/><circle cx="124.9" cy="197.5" r="1.95"/><circle cx="101.5" cy="213.1" r="1.95"/><circle cx="69.5" cy="187.6" r="1.95"/><circle cx="111.5" cy="191.5" r="1.95"/><circle cx="121.6" cy="194.0" r="1.95"/><circle cx="100.5" cy="219.8" r="1.95"/><circle cx="87.0" cy="181.3" r="1.95"/><circle cx="82.7" cy="231.6" r="1.95"/><circle cx="88.0" cy="181.4" r="1.95"/><circle cx="85.8" cy="195.6" r="1.95"/><circle cx="68.7" cy="195.4" r="1.95"/><circle cx="87.0" cy="203.0" r="1.95"/><circle cx="103.2" cy="182.2" r="1.95"/><circle cx="83.7" cy="207.8" r="1.95"/><circle cx="110.6" cy="189.5" r="1.95"/><circle cx="102.0" cy="222.7" r="1.95"/><circle cx="106.4" cy="191.2" r="1.95"/><circle cx="77.9" cy="209.6" r="1.95"/><circle cx="63.6" cy="185.2" r="1.95"/><circle cx="114.6" cy="200.2" r="1.95"/><circle cx="74.1" cy="227.4" r="1.95"/><circle cx="91.0" cy="186.6" r="1.95"/><circle cx="80.9" cy="171.1" r="1.95"/><circle cx="63.6" cy="189.7" r="1.95"/><circle cx="85.4" cy="212.0" r="1.95"/><circle cx="107.2" cy="187.9" r="1.95"/><circle cx="71.0" cy="173.8" r="1.95"/><circle cx="64.4" cy="176.5" r="1.95"/><circle cx="106.5" cy="212.9" r="1.95"/><circle cx="93.9" cy="166.5" r="1.95"/><circle cx="97.0" cy="178.0" r="1.95"/><circle cx="155.4" cy="199.2" r="1.95"/><circle cx="70.0" cy="205.3" r="1.95"/><circle cx="81.3" cy="210.7" r="1.95"/><circle cx="80.9" cy="198.3" r="1.95"/><circle cx="99.6" cy="200.2" r="1.95"/><circle cx="98.8" cy="192.1" r="1.95"/><circle cx="71.6" cy="217.6" r="1.95"/><circle cx="75.8" cy="195.9" r="1.95"/><circle cx="72.3" cy="190.0" r="1.95"/><circle cx="99.0" cy="208.9" r="1.95"/><circle cx="129.0" cy="200.8" r="1.95"/><circle cx="91.9" cy="226.0" r="1.95"/><circle cx="59.6" cy="205.2" r="1.95"/><circle cx="68.5" cy="191.2" r="1.95"/><circle cx="97.5" cy="172.8" r="1.95"/><circle cx="86.9" cy="188.4" r="1.95"/><circle cx="68.7" cy="178.7" r="1.95"/><circle cx="84.1" cy="181.7" r="1.95"/><circle cx="72.1" cy="181.7" r="1.95"/><circle cx="66.6" cy="212.8" r="1.95"/><circle cx="84.1" cy="169.9" r="1.95"/><circle cx="86.5" cy="221.5" r="1.95"/><circle cx="64.4" cy="203.5" r="1.95"/><circle cx="71.8" cy="199.9" r="1.95"/><circle cx="56.7" cy="198.7" r="1.95"/><circle cx="113.8" cy="196.7" r="1.95"/><circle cx="63.8" cy="190.7" r="1.95"/><circle cx="87.5" cy="181.5" r="1.95"/><circle cx="74.1" cy="214.2" r="1.95"/><circle cx="96.3" cy="188.1" r="1.95"/><circle cx="83.1" cy="178.9" r="1.95"/><circle cx="101.3" cy="182.2" r="1.95"/><circle cx="85.3" cy="216.9" r="1.95"/><circle cx="101.6" cy="219.5" r="1.95"/><circle cx="123.2" cy="197.1" r="1.95"/><circle cx="107.6" cy="199.0" r="1.95"/><circle cx="91.0" cy="208.2" r="1.95"/><circle cx="73.5" cy="181.9" r="1.95"/><circle cx="89.5" cy="181.3" r="1.95"/><circle cx="62.9" cy="183.8" r="1.95"/><circle cx="100.2" cy="197.7" r="1.95"/><circle cx="91.7" cy="208.0" r="1.95"/><circle cx="74.5" cy="174.4" r="1.95"/><circle cx="57.7" cy="194.1" r="1.95"/><circle cx="132.3" cy="201.8" r="1.95"/><circle cx="83.6" cy="221.9" r="1.95"/><circle cx="115.7" cy="207.0" r="1.95"/><circle cx="58.0" cy="204.6" r="1.95"/><circle cx="61.8" cy="212.6" r="1.95"/><circle cx="72.8" cy="198.8" r="1.95"/><circle cx="79.3" cy="162.9" r="1.95"/><circle cx="83.4" cy="166.6" r="1.95"/><circle cx="84.5" cy="215.1" r="1.95"/><circle cx="97.0" cy="223.3" r="1.95"/><circle cx="60.1" cy="208.9" r="1.95"/><circle cx="96.7" cy="168.8" r="1.95"/><circle cx="61.8" cy="217.2" r="1.95"/><circle cx="89.4" cy="236.8" r="1.95"/><circle cx="70.1" cy="200.1" r="1.95"/><circle cx="60.8" cy="188.1" r="1.95"/><circle cx="121.8" cy="196.6" r="1.95"/><circle cx="83.5" cy="168.5" r="1.95"/><circle cx="97.6" cy="217.3" r="1.95"/><circle cx="96.5" cy="172.6" r="1.95"/><circle cx="84.0" cy="194.4" r="1.95"/><circle cx="132.6" cy="196.7" r="1.95"/><circle cx="77.1" cy="181.9" r="1.95"/><circle cx="78.4" cy="168.2" r="1.95"/><circle cx="92.5" cy="205.7" r="1.95"/><circle cx="91.0" cy="215.6" r="1.95"/><circle cx="80.1" cy="214.8" r="1.95"/><circle cx="72.3" cy="199.2" r="1.95"/><circle cx="59.0" cy="208.1" r="1.95"/><circle cx="141.9" cy="199.4" r="1.95"/><circle cx="103.8" cy="218.4" r="1.95"/><circle cx="65.6" cy="214.2" r="1.95"/><circle cx="101.6" cy="204.6" r="1.95"/><circle cx="86.4" cy="221.7" r="1.95"/><circle cx="91.2" cy="163.2" r="1.95"/><circle cx="66.5" cy="174.4" r="1.95"/><circle cx="88.1" cy="173.5" r="1.95"/><circle cx="114.0" cy="194.8" r="1.95"/><circle cx="101.9" cy="223.1" r="1.95"/><circle cx="144.1" cy="199.6" r="1.95"/><circle cx="109.9" cy="196.9" r="1.95"/><circle cx="89.3" cy="209.8" r="1.95"/><circle cx="88.1" cy="166.1" r="1.95"/><circle cx="59.3" cy="209.9" r="1.95"/><circle cx="101.4" cy="208.7" r="1.95"/><circle cx="117.0" cy="195.0" r="1.95"/><circle cx="83.2" cy="185.7" r="1.95"/><circle cx="81.6" cy="217.6" r="1.95"/><circle cx="142.5" cy="199.0" r="1.95"/><circle cx="103.1" cy="197.3" r="1.95"/><circle cx="85.7" cy="174.2" r="1.95"/><circle cx="89.9" cy="178.8" r="1.95"/><circle cx="110.6" cy="203.4" r="1.95"/><circle cx="67.4" cy="188.5" r="1.95"/><circle cx="76.9" cy="217.9" r="1.95"/><circle cx="96.4" cy="191.1" r="1.95"/><circle cx="101.6" cy="194.2" r="1.95"/><circle cx="96.0" cy="231.0" r="1.95"/><circle cx="98.1" cy="227.4" r="1.95"/><circle cx="117.2" cy="202.2" r="1.95"/><circle cx="64.4" cy="214.9" r="1.95"/><circle cx="68.1" cy="225.5" r="1.95"/><circle cx="91.6" cy="174.0" r="1.95"/><circle cx="76.8" cy="205.0" r="1.95"/><circle cx="100.1" cy="214.7" r="1.95"/><circle cx="86.7" cy="160.7" r="1.95"/><circle cx="105.7" cy="185.3" r="1.95"/><circle cx="82.9" cy="235.7" r="1.95"/><circle cx="80.5" cy="222.3" r="1.95"/><circle cx="107.8" cy="198.9" r="1.95"/><circle cx="93.2" cy="210.3" r="1.95"/><circle cx="62.7" cy="198.8" r="1.95"/><circle cx="98.0" cy="199.0" r="1.95"/><circle cx="81.4" cy="186.8" r="1.95"/><circle cx="63.2" cy="208.7" r="1.95"/><circle cx="100.7" cy="210.4" r="1.95"/><circle cx="96.9" cy="208.9" r="1.95"/><circle cx="110.7" cy="195.5" r="1.95"/><circle cx="113.2" cy="191.5" r="1.95"/><circle cx="91.9" cy="197.9" r="1.95"/><circle cx="69.9" cy="185.2" r="1.95"/><circle cx="84.3" cy="201.5" r="1.95"/><circle cx="76.1" cy="188.3" r="1.95"/><circle cx="60.8" cy="192.7" r="1.95"/><circle cx="82.3" cy="186.0" r="1.95"/><circle cx="94.7" cy="209.1" r="1.95"/><circle cx="89.2" cy="164.0" r="1.95"/><circle cx="60.0" cy="192.1" r="1.95"/><circle cx="113.6" cy="199.3" r="1.95"/><circle cx="86.3" cy="225.8" r="1.95"/><circle cx="78.3" cy="177.2" r="1.95"/><circle cx="103.2" cy="194.8" r="1.95"/><circle cx="83.9" cy="216.7" r="1.95"/><circle cx="96.5" cy="189.1" r="1.95"/><circle cx="74.7" cy="207.2" r="1.95"/><circle cx="94.6" cy="194.2" r="1.95"/><circle cx="93.6" cy="204.4" r="1.95"/><circle cx="95.1" cy="181.5" r="1.95"/><circle cx="90.3" cy="187.2" r="1.95"/><circle cx="71.6" cy="223.1" r="1.95"/><circle cx="105.0" cy="218.9" r="1.95"/><circle cx="86.0" cy="223.3" r="1.95"/><circle cx="113.7" cy="198.1" r="1.95"/><circle cx="149.3" cy="199.2" r="1.95"/><circle cx="84.8" cy="197.4" r="1.95"/><circle cx="107.3" cy="213.5" r="1.95"/><circle cx="97.6" cy="174.3" r="1.95"/><circle cx="78.7" cy="194.7" r="1.95"/><circle cx="66.0" cy="200.3" r="1.95"/><circle cx="96.7" cy="201.1" r="1.95"/><circle cx="110.5" cy="194.8" r="1.95"/><circle cx="98.9" cy="174.2" r="1.95"/><circle cx="67.8" cy="185.4" r="1.95"/><circle cx="94.1" cy="190.0" r="1.95"/><circle cx="106.8" cy="211.4" r="1.95"/><circle cx="103.6" cy="205.9" r="1.95"/><circle cx="73.6" cy="221.9" r="1.95"/><circle cx="76.5" cy="165.7" r="1.95"/><circle cx="77.9" cy="234.1" r="1.95"/><circle cx="59.5" cy="213.1" r="1.95"/><circle cx="82.7" cy="170.1" r="1.95"/><circle cx="86.5" cy="162.0" r="1.95"/><circle cx="72.1" cy="223.5" r="1.95"/><circle cx="82.0" cy="236.2" r="1.95"/><circle cx="145.6" cy="200.1" r="1.95"/><circle cx="86.3" cy="191.0" r="1.95"/><circle cx="103.8" cy="179.0" r="1.95"/><circle cx="84.1" cy="207.1" r="1.95"/><circle cx="90.4" cy="180.1" r="1.95"/><circle cx="144.7" cy="199.4" r="1.95"/><circle cx="58.7" cy="188.8" r="1.95"/><circle cx="77.2" cy="210.5" r="1.95"/><circle cx="101.5" cy="223.2" r="1.95"/><circle cx="103.6" cy="219.7" r="1.95"/><circle cx="72.5" cy="176.7" r="1.95"/><circle cx="98.8" cy="210.6" r="1.95"/><circle cx="118.0" cy="193.2" r="1.95"/><circle cx="96.5" cy="197.1" r="1.95"/><circle cx="96.2" cy="207.8" r="1.95"/><circle cx="104.2" cy="191.2" r="1.95"/><circle cx="83.0" cy="236.5" r="1.95"/><circle cx="86.7" cy="219.4" r="1.95"/><circle cx="78.8" cy="174.4" r="1.95"/><circle cx="73.2" cy="190.1" r="1.95"/><circle cx="79.4" cy="165.6" r="1.95"/><circle cx="102.5" cy="220.4" r="1.95"/><circle cx="67.1" cy="200.5" r="1.95"/><circle cx="67.4" cy="217.5" r="1.95"/><circle cx="96.8" cy="223.9" r="1.95"/><circle cx="110.6" cy="203.8" r="1.95"/><circle cx="111.5" cy="188.2" r="1.95"/><circle cx="78.1" cy="213.7" r="1.95"/><circle cx="102.8" cy="176.6" r="1.95"/><circle cx="111.4" cy="200.4" r="1.95"/><circle cx="62.0" cy="204.0" r="1.95"/><circle cx="98.6" cy="225.7" r="1.95"/><circle cx="98.1" cy="183.3" r="1.95"/><circle cx="102.4" cy="178.1" r="1.95"/><circle cx="123.7" cy="204.6" r="1.95"/><circle cx="60.0" cy="185.5" r="1.95"/><circle cx="116.1" cy="208.5" r="1.95"/><circle cx="76.7" cy="231.4" r="1.95"/><circle cx="86.3" cy="228.9" r="1.95"/><circle cx="58.7" cy="194.6" r="1.95"/><circle cx="148.3" cy="199.6" r="1.95"/><circle cx="128.0" cy="198.0" r="1.95"/><circle cx="62.2" cy="197.2" r="1.95"/><circle cx="65.9" cy="208.8" r="1.95"/><circle cx="89.6" cy="182.9" r="1.95"/><circle cx="111.9" cy="199.6" r="1.95"/><circle cx="71.2" cy="213.8" r="1.95"/><circle cx="68.3" cy="177.2" r="1.95"/><circle cx="111.4" cy="192.7" r="1.95"/><circle cx="84.7" cy="194.4" r="1.95"/><circle cx="83.5" cy="197.8" r="1.95"/><circle cx="81.5" cy="190.6" r="1.95"/><circle cx="62.4" cy="211.8" r="1.95"/><circle cx="103.4" cy="191.1" r="1.95"/><circle cx="95.2" cy="202.9" r="1.95"/><circle cx="66.4" cy="180.1" r="1.95"/><circle cx="75.4" cy="233.2" r="1.95"/><circle cx="66.9" cy="188.5" r="1.95"/><circle cx="91.0" cy="229.2" r="1.95"/><circle cx="91.3" cy="220.3" r="1.95"/><circle cx="136.0" cy="198.2" r="1.95"/><circle cx="107.3" cy="187.7" r="1.95"/><circle cx="69.9" cy="217.1" r="1.95"/><circle cx="152.9" cy="199.1" r="1.95"/><circle cx="85.6" cy="223.8" r="1.95"/><circle cx="98.6" cy="172.8" r="1.95"/><circle cx="94.5" cy="176.9" r="1.95"/><circle cx="103.7" cy="191.0" r="1.95"/><circle cx="128.1" cy="197.3" r="1.95"/><circle cx="96.9" cy="177.5" r="1.95"/><circle cx="103.0" cy="221.2" r="1.95"/><circle cx="129.8" cy="202.8" r="1.95"/><circle cx="58.8" cy="206.4" r="1.95"/><circle cx="145.5" cy="198.8" r="1.95"/><circle cx="90.7" cy="216.9" r="1.95"/><circle cx="70.7" cy="179.9" r="1.95"/><circle cx="67.6" cy="197.3" r="1.95"/><circle cx="85.4" cy="232.0" r="1.95"/><circle cx="61.5" cy="181.7" r="1.95"/><circle cx="81.5" cy="186.4" r="1.95"/><circle cx="127.6" cy="203.5" r="1.95"/><circle cx="77.4" cy="206.5" r="1.95"/><circle cx="60.2" cy="201.9" r="1.95"/><circle cx="104.8" cy="198.3" r="1.95"/><circle cx="70.1" cy="180.5" r="1.95"/><circle cx="111.7" cy="212.1" r="1.95"/><circle cx="72.2" cy="181.2" r="1.95"/><circle cx="73.0" cy="168.8" r="1.95"/><circle cx="98.4" cy="207.0" r="1.95"/><circle cx="74.2" cy="198.0" r="1.95"/><circle cx="130.1" cy="203.4" r="1.95"/><circle cx="82.6" cy="186.5" r="1.95"/><circle cx="85.8" cy="192.3" r="1.95"/><circle cx="67.2" cy="182.7" r="1.95"/><circle cx="125.7" cy="197.7" r="1.95"/><circle cx="104.8" cy="178.7" r="1.95"/><circle cx="145.8" cy="199.3" r="1.95"/><circle cx="93.5" cy="233.1" r="1.95"/><circle cx="108.0" cy="183.3" r="1.95"/><circle cx="93.3" cy="198.8" r="1.95"/><circle cx="117.4" cy="190.9" r="1.95"/><circle cx="77.5" cy="202.5" r="1.95"/><circle cx="70.8" cy="172.7" r="1.95"/><circle cx="147.4" cy="198.8" r="1.95"/><circle cx="72.3" cy="216.7" r="1.95"/><circle cx="137.4" cy="200.4" r="1.95"/><circle cx="87.1" cy="228.0" r="1.95"/><circle cx="116.4" cy="205.8" r="1.95"/><circle cx="92.5" cy="185.5" r="1.95"/><circle cx="107.5" cy="201.3" r="1.95"/><circle cx="91.1" cy="187.6" r="1.95"/><circle cx="73.3" cy="226.6" r="1.95"/><circle cx="91.0" cy="194.1" r="1.95"/><circle cx="95.4" cy="231.6" r="1.95"/><circle cx="82.1" cy="199.3" r="1.95"/><circle cx="70.5" cy="211.2" r="1.95"/><circle cx="114.8" cy="192.4" r="1.95"/><circle cx="116.6" cy="194.1" r="1.95"/><circle cx="72.1" cy="216.0" r="1.95"/><circle cx="89.1" cy="169.5" r="1.95"/><circle cx="87.0" cy="188.3" r="1.95"/><circle cx="127.8" cy="196.8" r="1.95"/><circle cx="81.8" cy="163.6" r="1.95"/><circle cx="77.7" cy="202.3" r="1.95"/><circle cx="72.7" cy="208.1" r="1.95"/><circle cx="118.3" cy="193.1" r="1.95"/><circle cx="110.3" cy="206.6" r="1.95"/><circle cx="58.6" cy="199.3" r="1.95"/><circle cx="60.1" cy="189.9" r="1.95"/><circle cx="77.6" cy="180.9" r="1.95"/><circle cx="85.3" cy="235.9" r="1.95"/><circle cx="69.1" cy="177.3" r="1.95"/><circle cx="76.4" cy="200.8" r="1.95"/><circle cx="114.2" cy="191.0" r="1.95"/><circle cx="77.5" cy="164.1" r="1.95"/><circle cx="81.5" cy="190.0" r="1.95"/><circle cx="118.1" cy="193.8" r="1.95"/><circle cx="101.7" cy="199.6" r="1.95"/><circle cx="69.6" cy="226.0" r="1.95"/><circle cx="91.2" cy="172.5" r="1.95"/><circle cx="91.1" cy="190.8" r="1.95"/><circle cx="71.0" cy="215.3" r="1.95"/><circle cx="95.3" cy="200.0" r="1.95"/><circle cx="95.6" cy="201.1" r="1.95"/><circle cx="76.3" cy="214.6" r="1.95"/><circle cx="144.2" cy="199.2" r="1.95"/><circle cx="88.0" cy="184.9" r="1.95"/><circle cx="86.5" cy="206.8" r="1.95"/><circle cx="99.9" cy="195.9" r="1.95"/><circle cx="80.0" cy="191.6" r="1.95"/><circle cx="96.3" cy="187.4" r="1.95"/><circle cx="143.5" cy="198.8" r="1.95"/><circle cx="95.0" cy="177.6" r="1.95"/><circle cx="69.5" cy="175.8" r="1.95"/><circle cx="85.9" cy="235.6" r="1.95"/><circle cx="84.6" cy="187.9" r="1.95"/><circle cx="124.8" cy="199.6" r="1.95"/><circle cx="85.4" cy="211.8" r="1.95"/><circle cx="103.7" cy="198.9" r="1.95"/><circle cx="67.9" cy="211.2" r="1.95"/><circle cx="135.0" cy="197.2" r="1.95"/><circle cx="76.4" cy="200.6" r="1.95"/><circle cx="112.4" cy="193.8" r="1.95"/><circle cx="85.9" cy="228.9" r="1.95"/><circle cx="82.1" cy="192.6" r="1.95"/><circle cx="89.7" cy="214.9" r="1.95"/><circle cx="122.8" cy="205.0" r="1.95"/><circle cx="65.9" cy="176.8" r="1.95"/><circle cx="99.9" cy="172.2" r="1.95"/><circle cx="110.9" cy="197.5" r="1.95"/><circle cx="62.4" cy="218.0" r="1.95"/><circle cx="94.2" cy="229.1" r="1.95"/><circle cx="84.7" cy="176.4" r="1.95"/><circle cx="101.9" cy="182.9" r="1.95"/><circle cx="145.3" cy="198.9" r="1.95"/><circle cx="73.3" cy="181.1" r="1.95"/><circle cx="119.8" cy="200.5" r="1.95"/><circle cx="75.1" cy="169.3" r="1.95"/><circle cx="101.8" cy="221.1" r="1.95"/><circle cx="106.0" cy="214.1" r="1.95"/><circle cx="89.8" cy="166.3" r="1.95"/><circle cx="60.8" cy="214.5" r="1.95"/><circle cx="101.4" cy="199.3" r="1.95"/><circle cx="137.9" cy="198.7" r="1.95"/><circle cx="110.3" cy="193.0" r="1.95"/><circle cx="124.5" cy="202.3" r="1.95"/><circle cx="100.7" cy="180.5" r="1.95"/><circle cx="93.1" cy="225.4" r="1.95"/><circle cx="129.2" cy="195.4" r="1.95"/><circle cx="117.5" cy="203.8" r="1.95"/><circle cx="83.1" cy="182.8" r="1.95"/><circle cx="65.8" cy="190.2" r="1.95"/><circle cx="102.5" cy="181.9" r="1.95"/><circle cx="98.3" cy="170.1" r="1.95"/><circle cx="118.7" cy="201.9" r="1.95"/><circle cx="106.6" cy="182.9" r="1.95"/><circle cx="86.1" cy="227.0" r="1.95"/><circle cx="80.2" cy="211.0" r="1.95"/><circle cx="80.8" cy="233.0" r="1.95"/><circle cx="91.7" cy="186.9" r="1.95"/><circle cx="87.7" cy="163.4" r="1.95"/><circle cx="99.3" cy="210.2" r="1.95"/><circle cx="76.2" cy="222.0" r="1.95"/><circle cx="101.3" cy="204.1" r="1.95"/><circle cx="70.7" cy="221.0" r="1.95"/><circle cx="68.5" cy="225.1" r="1.95"/><circle cx="122.1" cy="202.1" r="1.95"/><circle cx="100.8" cy="197.3" r="1.95"/><circle cx="111.1" cy="192.8" r="1.95"/><circle cx="101.7" cy="181.7" r="1.95"/><circle cx="72.6" cy="227.0" r="1.95"/><circle cx="79.0" cy="228.2" r="1.95"/><circle cx="67.6" cy="189.1" r="1.95"/><circle cx="80.5" cy="218.6" r="1.95"/><circle cx="68.0" cy="197.1" r="1.95"/><circle cx="112.0" cy="198.7" r="1.95"/><circle cx="91.4" cy="234.0" r="1.95"/><circle cx="90.1" cy="231.2" r="1.95"/><circle cx="116.5" cy="192.7" r="1.95"/><circle cx="119.6" cy="194.9" r="1.95"/><circle cx="85.9" cy="161.1" r="1.95"/><circle cx="91.0" cy="193.2" r="1.95"/><circle cx="66.0" cy="223.6" r="1.95"/><circle cx="80.2" cy="184.7" r="1.95"/><circle cx="94.2" cy="184.6" r="1.95"/><circle cx="73.1" cy="204.5" r="1.95"/><circle cx="103.9" cy="178.7" r="1.95"/><circle cx="101.2" cy="201.4" r="1.95"/><circle cx="115.1" cy="195.4" r="1.95"/><circle cx="91.9" cy="213.9" r="1.95"/><circle cx="73.5" cy="195.6" r="1.95"/><circle cx="69.3" cy="180.5" r="1.95"/><circle cx="95.8" cy="171.9" r="1.95"/><circle cx="82.0" cy="213.4" r="1.95"/><circle cx="75.1" cy="188.1" r="1.95"/><circle cx="138.8" cy="199.5" r="1.95"/><circle cx="75.8" cy="190.5" r="1.95"/><circle cx="89.9" cy="170.3" r="1.95"/><circle cx="63.3" cy="183.1" r="1.95"/><circle cx="147.5" cy="199.1" r="1.95"/><circle cx="108.5" cy="210.7" r="1.95"/><circle cx="87.4" cy="227.2" r="1.95"/><circle cx="105.8" cy="180.4" r="1.95"/><circle cx="87.1" cy="167.1" r="1.95"/><circle cx="70.2" cy="187.4" r="1.95"/><circle cx="123.4" cy="200.1" r="1.95"/><circle cx="103.3" cy="193.0" r="1.95"/><circle cx="115.2" cy="197.6" r="1.95"/><circle cx="139.6" cy="200.2" r="1.95"/><circle cx="145.7" cy="199.3" r="1.95"/><circle cx="91.2" cy="234.8" r="1.95"/><circle cx="90.5" cy="163.8" r="1.95"/><circle cx="103.5" cy="204.9" r="1.95"/><circle cx="104.9" cy="219.2" r="1.95"/><circle cx="68.8" cy="218.9" r="1.95"/><circle cx="120.2" cy="192.8" r="1.95"/><circle cx="95.4" cy="187.9" r="1.95"/><circle cx="99.6" cy="177.7" r="1.95"/><circle cx="64.9" cy="177.6" r="1.95"/><circle cx="79.4" cy="205.1" r="1.95"/><circle cx="73.0" cy="189.6" r="1.95"/><circle cx="65.2" cy="181.0" r="1.95"/><circle cx="117.1" cy="193.8" r="1.95"/><circle cx="72.3" cy="185.3" r="1.95"/><circle cx="72.1" cy="194.5" r="1.95"/><circle cx="92.6" cy="207.8" r="1.95"/><circle cx="102.0" cy="217.8" r="1.95"/><circle cx="84.5" cy="195.8" r="1.95"/><circle cx="94.5" cy="204.4" r="1.95"/><circle cx="80.5" cy="229.5" r="1.95"/><circle cx="94.9" cy="214.5" r="1.95"/><circle cx="101.0" cy="185.3" r="1.95"/><circle cx="66.7" cy="175.1" r="1.95"/><circle cx="76.5" cy="196.4" r="1.95"/><circle cx="88.3" cy="197.8" r="1.95"/><circle cx="72.8" cy="225.3" r="1.95"/><circle cx="87.7" cy="207.7" r="1.95"/><circle cx="88.3" cy="177.3" r="1.95"/><circle cx="65.9" cy="213.2" r="1.95"/><circle cx="60.9" cy="189.9" r="1.95"/><circle cx="75.6" cy="166.6" r="1.95"/><circle cx="80.8" cy="172.0" r="1.95"/><circle cx="97.3" cy="222.6" r="1.95"/><circle cx="68.1" cy="175.0" r="1.95"/><circle cx="86.1" cy="191.3" r="1.95"/><circle cx="100.5" cy="178.7" r="1.95"/><circle cx="98.0" cy="181.9" r="1.95"/><circle cx="149.6" cy="199.6" r="1.95"/><circle cx="102.2" cy="201.2" r="1.95"/><circle cx="97.3" cy="229.3" r="1.95"/><circle cx="77.6" cy="202.9" r="1.95"/><circle cx="67.9" cy="222.4" r="1.95"/><circle cx="82.5" cy="198.5" r="1.95"/><circle cx="100.7" cy="185.6" r="1.95"/><circle cx="87.7" cy="238.2" r="1.95"/><circle cx="109.4" cy="184.6" r="1.95"/><circle cx="88.7" cy="199.6" r="1.95"/><circle cx="96.5" cy="193.2" r="1.95"/><circle cx="137.7" cy="200.8" r="1.95"/><circle cx="66.8" cy="211.6" r="1.95"/><circle cx="148.1" cy="199.5" r="1.95"/><circle cx="63.7" cy="194.5" r="1.95"/><circle cx="89.9" cy="169.8" r="1.95"/><circle cx="80.3" cy="187.1" r="1.95"/><circle cx="146.6" cy="199.2" r="1.95"/><circle cx="125.4" cy="194.1" r="1.95"/><circle cx="110.7" cy="201.8" r="1.95"/><circle cx="74.1" cy="168.2" r="1.95"/><circle cx="106.6" cy="216.9" r="1.95"/><circle cx="93.1" cy="214.1" r="1.95"/><circle cx="59.4" cy="199.7" r="1.95"/><circle cx="96.8" cy="219.6" r="1.95"/><circle cx="120.2" cy="198.7" r="1.95"/><circle cx="73.6" cy="215.4" r="1.95"/><circle cx="134.1" cy="198.1" r="1.95"/><circle cx="85.3" cy="226.2" r="1.95"/><circle cx="88.7" cy="230.0" r="1.95"/><circle cx="66.1" cy="188.0" r="1.95"/><circle cx="95.8" cy="194.5" r="1.95"/><circle cx="117.2" cy="193.6" r="1.95"/><circle cx="118.3" cy="206.9" r="1.95"/><circle cx="93.3" cy="200.0" r="1.95"/><circle cx="62.6" cy="212.7" r="1.95"/><circle cx="120.2" cy="206.3" r="1.95"/><circle cx="116.8" cy="198.4" r="1.95"/><circle cx="96.0" cy="168.1" r="1.95"/><circle cx="65.3" cy="216.8" r="1.95"/><circle cx="95.3" cy="166.0" r="1.95"/><circle cx="119.4" cy="192.5" r="1.95"/><circle cx="94.2" cy="191.9" r="1.95"/><circle cx="144.3" cy="199.2" r="1.95"/><circle cx="57.5" cy="199.8" r="1.95"/><circle cx="89.9" cy="232.2" r="1.95"/><circle cx="98.5" cy="225.0" r="1.95"/><circle cx="89.1" cy="201.1" r="1.95"/><circle cx="60.7" cy="200.3" r="1.95"/><circle cx="91.9" cy="175.8" r="1.95"/><circle cx="65.1" cy="219.5" r="1.95"/><circle cx="99.6" cy="201.5" r="1.95"/><circle cx="75.1" cy="213.3" r="1.95"/><circle cx="102.0" cy="200.4" r="1.95"/><circle cx="94.1" cy="217.7" r="1.95"/><circle cx="69.3" cy="204.5" r="1.95"/><circle cx="78.1" cy="193.5" r="1.95"/><circle cx="93.6" cy="165.6" r="1.95"/><circle cx="97.7" cy="201.3" r="1.95"/><circle cx="87.0" cy="203.4" r="1.95"/><circle cx="93.5" cy="182.8" r="1.95"/><circle cx="60.4" cy="208.4" r="1.95"/><circle cx="103.9" cy="182.1" r="1.95"/><circle cx="63.5" cy="195.1" r="1.95"/><circle cx="77.7" cy="213.2" r="1.95"/><circle cx="103.5" cy="197.7" r="1.95"/><circle cx="87.2" cy="162.9" r="1.95"/><circle cx="155.4" cy="199.3" r="1.95"/><circle cx="70.2" cy="194.8" r="1.95"/><circle cx="74.4" cy="209.8" r="1.95"/><circle cx="91.6" cy="212.5" r="1.95"/><circle cx="102.9" cy="220.5" r="1.95"/><circle cx="123.9" cy="204.0" r="1.95"/><circle cx="93.2" cy="196.7" r="1.95"/><circle cx="82.0" cy="237.3" r="1.95"/><circle cx="130.0" cy="195.7" r="1.95"/><circle cx="84.3" cy="207.8" r="1.95"/><circle cx="121.4" cy="196.9" r="1.95"/><circle cx="85.6" cy="233.6" r="1.95"/><circle cx="93.1" cy="200.2" r="1.95"/><circle cx="74.5" cy="206.6" r="1.95"/><circle cx="85.2" cy="237.0" r="1.95"/><circle cx="67.6" cy="178.9" r="1.95"/><circle cx="88.0" cy="162.5" r="1.95"/><circle cx="92.8" cy="167.3" r="1.95"/><circle cx="77.8" cy="185.0" r="1.95"/><circle cx="60.3" cy="187.3" r="1.95"/><circle cx="82.7" cy="173.6" r="1.95"/><circle cx="69.3" cy="178.1" r="1.95"/><circle cx="99.2" cy="207.7" r="1.95"/><circle cx="115.2" cy="194.9" r="1.95"/></g><g fill="#f28888" stroke="#2a1414" stroke-width="0.70" stroke-linejoin="round"><path d="M257.8 221.6l2.4 2.4-2.4 2.4-2.4-2.4zM242.9 234.7l2.4 2.4-2.4 2.4-2.4-2.4zM256.0 183.4l2.4 2.4-2.4 2.4-2.4-2.4zM231.0 224.1l2.4 2.4-2.4 2.4-2.4-2.4zM275.3 186.9l2.4 2.4-2.4 2.4-2.4-2.4zM217.4 187.3l2.4 2.4-2.4 2.4-2.4-2.4z"/><path d="M311.1 196.7l2.4 2.4-2.4 2.4-2.4-2.4zM223.6 209.6l2.4 2.4-2.4 2.4-2.4-2.4zM234.0 230.6l2.4 2.4-2.4 2.4-2.4-2.4zM229.3 200.2l2.4 2.4-2.4 2.4-2.4-2.4zM247.9 201.7l2.4 2.4-2.4 2.4-2.4-2.4zM231.9 184.2l2.4 2.4-2.4 2.4-2.4-2.4z"/><path d="M226.2 217.2l2.4 2.4-2.4 2.4-2.4-2.4zM217.1 186.7l2.4 2.4-2.4 2.4-2.4-2.4zM261.4 209.7l2.4 2.4-2.4 2.4-2.4-2.4zM268.2 201.0l2.4 2.4-2.4 2.4-2.4-2.4zM225.2 208.1l2.4 2.4-2.4 2.4-2.4-2.4zM272.4 211.4l2.4 2.4-2.4 2.4-2.4-2.4z"/><path d="M242.8 207.1l2.4 2.4-2.4 2.4-2.4-2.4zM226.7 171.5l2.4 2.4-2.4 2.4-2.4-2.4zM294.6 198.9l2.4 2.4-2.4 2.4-2.4-2.4zM278.6 203.9l2.4 2.4-2.4 2.4-2.4-2.4zM248.9 188.5l2.4 2.4-2.4 2.4-2.4-2.4zM221.6 213.6l2.4 2.4-2.4 2.4-2.4-2.4z"/><path d="M245.5 182.6l2.4 2.4-2.4 2.4-2.4-2.4zM256.4 165.7l2.4 2.4-2.4 2.4-2.4-2.4zM290.3 198.8l2.4 2.4-2.4 2.4-2.4-2.4zM276.5 190.0l2.4 2.4-2.4 2.4-2.4-2.4zM220.1 188.0l2.4 2.4-2.4 2.4-2.4-2.4zM217.4 205.6l2.4 2.4-2.4 2.4-2.4-2.4z"/><path d="M262.7 211.7l2.4 2.4-2.4 2.4-2.4-2.4zM255.0 205.2l2.4 2.4-2.4 2.4-2.4-2.4zM249.1 218.0l2.4 2.4-2.4 2.4-2.4-2.4zM256.4 174.9l2.4 2.4-2.4 2.4-2.4-2.4zM239.9 234.6l2.4 2.4-2.4 2.4-2.4-2.4zM237.1 185.2l2.4 2.4-2.4 2.4-2.4-2.4z"/><path d="M226.1 179.6l2.4 2.4-2.4 2.4-2.4-2.4zM221.1 200.8l2.4 2.4-2.4 2.4-2.4-2.4zM262.5 187.6l2.4 2.4-2.4 2.4-2.4-2.4zM243.4 221.2l2.4 2.4-2.4 2.4-2.4-2.4zM219.7 190.8l2.4 2.4-2.4 2.4-2.4-2.4zM280.5 188.6l2.4 2.4-2.4 2.4-2.4-2.4z"/><path d="M278.7 201.4l2.4 2.4-2.4 2.4-2.4-2.4zM260.3 224.9l2.4 2.4-2.4 2.4-2.4-2.4zM277.0 204.8l2.4 2.4-2.4 2.4-2.4-2.4zM246.6 214.7l2.4 2.4-2.4 2.4-2.4-2.4zM238.6 187.5l2.4 2.4-2.4 2.4-2.4-2.4zM248.8 218.3l2.4 2.4-2.4 2.4-2.4-2.4z"/><path d="M223.0 177.9l2.4 2.4-2.4 2.4-2.4-2.4zM268.4 215.7l2.4 2.4-2.4 2.4-2.4-2.4zM281.9 194.8l2.4 2.4-2.4 2.4-2.4-2.4zM251.7 178.4l2.4 2.4-2.4 2.4-2.4-2.4zM282.7 189.7l2.4 2.4-2.4 2.4-2.4-2.4zM258.9 217.2l2.4 2.4-2.4 2.4-2.4-2.4z"/><path d="M237.0 234.4l2.4 2.4-2.4 2.4-2.4-2.4zM228.8 181.6l2.4 2.4-2.4 2.4-2.4-2.4zM266.7 217.3l2.4 2.4-2.4 2.4-2.4-2.4zM232.2 181.5l2.4 2.4-2.4 2.4-2.4-2.4zM236.7 183.8l2.4 2.4-2.4 2.4-2.4-2.4zM242.2 187.2l2.4 2.4-2.4 2.4-2.4-2.4z"/><path d="M263.2 177.1l2.4 2.4-2.4 2.4-2.4-2.4zM253.6 203.0l2.4 2.4-2.4 2.4-2.4-2.4zM220.9 192.0l2.4 2.4-2.4 2.4-2.4-2.4zM235.6 177.4l2.4 2.4-2.4 2.4-2.4-2.4zM322.0 196.8l2.4 2.4-2.4 2.4-2.4-2.4zM217.9 205.4l2.4 2.4-2.4 2.4-2.4-2.4z"/><path d="M256.3 216.6l2.4 2.4-2.4 2.4-2.4-2.4zM258.0 166.8l2.4 2.4-2.4 2.4-2.4-2.4zM320.4 196.9l2.4 2.4-2.4 2.4-2.4-2.4zM317.7 196.6l2.4 2.4-2.4 2.4-2.4-2.4zM262.2 208.6l2.4 2.4-2.4 2.4-2.4-2.4zM233.5 184.5l2.4 2.4-2.4 2.4-2.4-2.4z"/><path d="M244.6 208.1l2.4 2.4-2.4 2.4-2.4-2.4zM294.5 195.9l2.4 2.4-2.4 2.4-2.4-2.4zM287.2 196.2l2.4 2.4-2.4 2.4-2.4-2.4zM275.7 201.4l2.4 2.4-2.4 2.4-2.4-2.4zM267.8 188.1l2.4 2.4-2.4 2.4-2.4-2.4zM234.3 188.3l2.4 2.4-2.4 2.4-2.4-2.4z"/><path d="M232.4 189.7l2.4 2.4-2.4 2.4-2.4-2.4zM244.4 193.4l2.4 2.4-2.4 2.4-2.4-2.4zM219.2 194.8l2.4 2.4-2.4 2.4-2.4-2.4zM220.9 182.4l2.4 2.4-2.4 2.4-2.4-2.4zM283.1 193.1l2.4 2.4-2.4 2.4-2.4-2.4zM218.3 186.1l2.4 2.4-2.4 2.4-2.4-2.4z"/><path d="M232.9 178.8l2.4 2.4-2.4 2.4-2.4-2.4zM294.5 199.3l2.4 2.4-2.4 2.4-2.4-2.4zM225.6 211.2l2.4 2.4-2.4 2.4-2.4-2.4zM270.4 209.7l2.4 2.4-2.4 2.4-2.4-2.4zM283.8 194.3l2.4 2.4-2.4 2.4-2.4-2.4zM229.7 179.3l2.4 2.4-2.4 2.4-2.4-2.4z"/><path d="M286.7 200.1l2.4 2.4-2.4 2.4-2.4-2.4zM261.4 203.1l2.4 2.4-2.4 2.4-2.4-2.4zM238.9 206.3l2.4 2.4-2.4 2.4-2.4-2.4zM239.0 184.4l2.4 2.4-2.4 2.4-2.4-2.4zM253.3 230.6l2.4 2.4-2.4 2.4-2.4-2.4zM247.1 194.3l2.4 2.4-2.4 2.4-2.4-2.4z"/><path d="M247.5 215.3l2.4 2.4-2.4 2.4-2.4-2.4zM231.2 196.4l2.4 2.4-2.4 2.4-2.4-2.4zM234.0 210.6l2.4 2.4-2.4 2.4-2.4-2.4zM249.5 208.7l2.4 2.4-2.4 2.4-2.4-2.4zM322.4 196.9l2.4 2.4-2.4 2.4-2.4-2.4zM258.5 184.2l2.4 2.4-2.4 2.4-2.4-2.4z"/><path d="M229.7 169.5l2.4 2.4-2.4 2.4-2.4-2.4zM242.6 176.4l2.4 2.4-2.4 2.4-2.4-2.4zM275.4 198.7l2.4 2.4-2.4 2.4-2.4-2.4zM248.4 202.4l2.4 2.4-2.4 2.4-2.4-2.4zM227.3 209.5l2.4 2.4-2.4 2.4-2.4-2.4zM225.5 173.9l2.4 2.4-2.4 2.4-2.4-2.4z"/><path d="M262.9 178.4l2.4 2.4-2.4 2.4-2.4-2.4zM252.2 221.0l2.4 2.4-2.4 2.4-2.4-2.4zM256.4 215.5l2.4 2.4-2.4 2.4-2.4-2.4zM260.0 199.2l2.4 2.4-2.4 2.4-2.4-2.4zM234.6 170.7l2.4 2.4-2.4 2.4-2.4-2.4zM260.4 192.4l2.4 2.4-2.4 2.4-2.4-2.4z"/><path d="M248.1 163.5l2.4 2.4-2.4 2.4-2.4-2.4zM233.2 189.3l2.4 2.4-2.4 2.4-2.4-2.4zM246.1 209.8l2.4 2.4-2.4 2.4-2.4-2.4zM222.1 195.1l2.4 2.4-2.4 2.4-2.4-2.4zM280.8 195.1l2.4 2.4-2.4 2.4-2.4-2.4zM227.8 172.8l2.4 2.4-2.4 2.4-2.4-2.4z"/><path d="M284.6 201.6l2.4 2.4-2.4 2.4-2.4-2.4zM221.3 185.4l2.4 2.4-2.4 2.4-2.4-2.4zM239.0 223.4l2.4 2.4-2.4 2.4-2.4-2.4zM247.6 222.9l2.4 2.4-2.4 2.4-2.4-2.4zM237.8 193.3l2.4 2.4-2.4 2.4-2.4-2.4zM266.7 199.8l2.4 2.4-2.4 2.4-2.4-2.4z"/><path d="M285.2 199.4l2.4 2.4-2.4 2.4-2.4-2.4zM269.0 200.7l2.4 2.4-2.4 2.4-2.4-2.4zM227.4 180.3l2.4 2.4-2.4 2.4-2.4-2.4zM256.3 220.6l2.4 2.4-2.4 2.4-2.4-2.4zM247.1 230.8l2.4 2.4-2.4 2.4-2.4-2.4zM230.9 194.6l2.4 2.4-2.4 2.4-2.4-2.4z"/><path d="M234.5 198.2l2.4 2.4-2.4 2.4-2.4-2.4zM232.5 172.1l2.4 2.4-2.4 2.4-2.4-2.4zM235.1 183.1l2.4 2.4-2.4 2.4-2.4-2.4zM227.3 190.6l2.4 2.4-2.4 2.4-2.4-2.4zM226.4 202.9l2.4 2.4-2.4 2.4-2.4-2.4zM235.1 164.0l2.4 2.4-2.4 2.4-2.4-2.4z"/><path d="M228.2 218.7l2.4 2.4-2.4 2.4-2.4-2.4zM286.2 195.2l2.4 2.4-2.4 2.4-2.4-2.4zM239.5 185.0l2.4 2.4-2.4 2.4-2.4-2.4zM220.5 184.4l2.4 2.4-2.4 2.4-2.4-2.4zM232.0 185.3l2.4 2.4-2.4 2.4-2.4-2.4zM226.5 212.5l2.4 2.4-2.4 2.4-2.4-2.4z"/><path d="M281.0 198.2l2.4 2.4-2.4 2.4-2.4-2.4zM240.4 196.2l2.4 2.4-2.4 2.4-2.4-2.4zM218.2 191.6l2.4 2.4-2.4 2.4-2.4-2.4zM231.9 202.5l2.4 2.4-2.4 2.4-2.4-2.4zM269.5 189.3l2.4 2.4-2.4 2.4-2.4-2.4zM254.7 176.8l2.4 2.4-2.4 2.4-2.4-2.4z"/><path d="M266.0 180.2l2.4 2.4-2.4 2.4-2.4-2.4zM252.4 177.8l2.4 2.4-2.4 2.4-2.4-2.4zM289.9 193.8l2.4 2.4-2.4 2.4-2.4-2.4zM238.8 203.6l2.4 2.4-2.4 2.4-2.4-2.4zM230.1 194.8l2.4 2.4-2.4 2.4-2.4-2.4zM227.0 216.5l2.4 2.4-2.4 2.4-2.4-2.4z"/><path d="M244.9 177.1l2.4 2.4-2.4 2.4-2.4-2.4zM253.3 198.1l2.4 2.4-2.4 2.4-2.4-2.4zM272.1 184.3l2.4 2.4-2.4 2.4-2.4-2.4zM261.8 208.1l2.4 2.4-2.4 2.4-2.4-2.4zM298.5 196.3l2.4 2.4-2.4 2.4-2.4-2.4zM227.6 172.2l2.4 2.4-2.4 2.4-2.4-2.4z"/><path d="M279.3 193.8l2.4 2.4-2.4 2.4-2.4-2.4zM227.0 197.6l2.4 2.4-2.4 2.4-2.4-2.4zM238.6 225.9l2.4 2.4-2.4 2.4-2.4-2.4zM246.5 205.9l2.4 2.4-2.4 2.4-2.4-2.4zM251.2 221.2l2.4 2.4-2.4 2.4-2.4-2.4zM242.4 179.7l2.4 2.4-2.4 2.4-2.4-2.4z"/><path d="M230.3 179.9l2.4 2.4-2.4 2.4-2.4-2.4zM216.3 197.9l2.4 2.4-2.4 2.4-2.4-2.4zM251.5 207.8l2.4 2.4-2.4 2.4-2.4-2.4zM244.5 164.6l2.4 2.4-2.4 2.4-2.4-2.4zM233.6 163.5l2.4 2.4-2.4 2.4-2.4-2.4zM299.7 198.2l2.4 2.4-2.4 2.4-2.4-2.4z"/><path d="M253.2 187.9l2.4 2.4-2.4 2.4-2.4-2.4zM243.6 199.9l2.4 2.4-2.4 2.4-2.4-2.4zM228.5 179.4l2.4 2.4-2.4 2.4-2.4-2.4zM257.9 206.8l2.4 2.4-2.4 2.4-2.4-2.4zM240.5 216.5l2.4 2.4-2.4 2.4-2.4-2.4zM214.8 195.7l2.4 2.4-2.4 2.4-2.4-2.4z"/><path d="M251.5 187.2l2.4 2.4-2.4 2.4-2.4-2.4zM313.5 197.0l2.4 2.4-2.4 2.4-2.4-2.4zM236.9 159.3l2.4 2.4-2.4 2.4-2.4-2.4zM254.9 179.8l2.4 2.4-2.4 2.4-2.4-2.4zM218.6 194.7l2.4 2.4-2.4 2.4-2.4-2.4zM235.5 221.5l2.4 2.4-2.4 2.4-2.4-2.4z"/><path d="M259.0 222.8l2.4 2.4-2.4 2.4-2.4-2.4zM246.3 210.4l2.4 2.4-2.4 2.4-2.4-2.4zM258.5 174.2l2.4 2.4-2.4 2.4-2.4-2.4zM258.4 198.5l2.4 2.4-2.4 2.4-2.4-2.4zM221.0 179.7l2.4 2.4-2.4 2.4-2.4-2.4zM233.1 172.3l2.4 2.4-2.4 2.4-2.4-2.4z"/><path d="M271.5 202.7l2.4 2.4-2.4 2.4-2.4-2.4zM250.9 225.6l2.4 2.4-2.4 2.4-2.4-2.4zM257.1 197.9l2.4 2.4-2.4 2.4-2.4-2.4zM269.5 197.1l2.4 2.4-2.4 2.4-2.4-2.4zM221.8 212.6l2.4 2.4-2.4 2.4-2.4-2.4zM233.0 199.3l2.4 2.4-2.4 2.4-2.4-2.4z"/><path d="M260.0 195.1l2.4 2.4-2.4 2.4-2.4-2.4zM236.0 163.3l2.4 2.4-2.4 2.4-2.4-2.4zM229.0 170.1l2.4 2.4-2.4 2.4-2.4-2.4zM243.8 167.9l2.4 2.4-2.4 2.4-2.4-2.4zM262.3 223.3l2.4 2.4-2.4 2.4-2.4-2.4zM270.8 181.3l2.4 2.4-2.4 2.4-2.4-2.4z"/><path d="M249.2 207.9l2.4 2.4-2.4 2.4-2.4-2.4zM247.4 215.4l2.4 2.4-2.4 2.4-2.4-2.4zM239.2 170.1l2.4 2.4-2.4 2.4-2.4-2.4zM235.4 214.3l2.4 2.4-2.4 2.4-2.4-2.4zM249.5 188.5l2.4 2.4-2.4 2.4-2.4-2.4zM231.2 177.1l2.4 2.4-2.4 2.4-2.4-2.4z"/><path d="M216.3 188.3l2.4 2.4-2.4 2.4-2.4-2.4zM229.3 224.8l2.4 2.4-2.4 2.4-2.4-2.4zM275.8 185.9l2.4 2.4-2.4 2.4-2.4-2.4zM230.3 226.6l2.4 2.4-2.4 2.4-2.4-2.4zM245.6 216.3l2.4 2.4-2.4 2.4-2.4-2.4zM227.0 179.6l2.4 2.4-2.4 2.4-2.4-2.4z"/><path d="M256.7 212.1l2.4 2.4-2.4 2.4-2.4-2.4zM279.0 189.7l2.4 2.4-2.4 2.4-2.4-2.4zM252.0 170.8l2.4 2.4-2.4 2.4-2.4-2.4zM283.5 196.2l2.4 2.4-2.4 2.4-2.4-2.4zM322.5 196.9l2.4 2.4-2.4 2.4-2.4-2.4zM243.5 202.7l2.4 2.4-2.4 2.4-2.4-2.4z"/><path d="M228.6 201.4l2.4 2.4-2.4 2.4-2.4-2.4zM257.3 203.0l2.4 2.4-2.4 2.4-2.4-2.4zM263.3 194.6l2.4 2.4-2.4 2.4-2.4-2.4zM264.3 195.9l2.4 2.4-2.4 2.4-2.4-2.4zM260.8 183.0l2.4 2.4-2.4 2.4-2.4-2.4zM317.5 196.7l2.4 2.4-2.4 2.4-2.4-2.4z"/><path d="M234.7 227.4l2.4 2.4-2.4 2.4-2.4-2.4zM263.0 220.7l2.4 2.4-2.4 2.4-2.4-2.4zM258.0 184.4l2.4 2.4-2.4 2.4-2.4-2.4zM224.0 203.4l2.4 2.4-2.4 2.4-2.4-2.4zM230.3 176.5l2.4 2.4-2.4 2.4-2.4-2.4zM241.4 176.0l2.4 2.4-2.4 2.4-2.4-2.4z"/><path d="M256.7 210.5l2.4 2.4-2.4 2.4-2.4-2.4zM240.9 232.4l2.4 2.4-2.4 2.4-2.4-2.4zM240.4 228.2l2.4 2.4-2.4 2.4-2.4-2.4zM270.6 209.6l2.4 2.4-2.4 2.4-2.4-2.4zM235.0 193.6l2.4 2.4-2.4 2.4-2.4-2.4zM276.8 203.2l2.4 2.4-2.4 2.4-2.4-2.4z"/><path d="M254.4 205.3l2.4 2.4-2.4 2.4-2.4-2.4zM247.5 224.0l2.4 2.4-2.4 2.4-2.4-2.4zM245.2 197.1l2.4 2.4-2.4 2.4-2.4-2.4zM228.0 201.3l2.4 2.4-2.4 2.4-2.4-2.4zM215.0 201.9l2.4 2.4-2.4 2.4-2.4-2.4zM254.0 174.0l2.4 2.4-2.4 2.4-2.4-2.4z"/><path d="M237.5 223.7l2.4 2.4-2.4 2.4-2.4-2.4zM284.1 196.4l2.4 2.4-2.4 2.4-2.4-2.4zM231.4 200.4l2.4 2.4-2.4 2.4-2.4-2.4zM269.0 178.1l2.4 2.4-2.4 2.4-2.4-2.4zM243.6 190.3l2.4 2.4-2.4 2.4-2.4-2.4zM302.2 196.6l2.4 2.4-2.4 2.4-2.4-2.4z"/><path d="M263.4 192.7l2.4 2.4-2.4 2.4-2.4-2.4zM239.6 165.8l2.4 2.4-2.4 2.4-2.4-2.4zM257.0 210.1l2.4 2.4-2.4 2.4-2.4-2.4zM238.5 203.6l2.4 2.4-2.4 2.4-2.4-2.4zM257.2 206.5l2.4 2.4-2.4 2.4-2.4-2.4zM235.6 177.8l2.4 2.4-2.4 2.4-2.4-2.4z"/><path d="M222.8 201.3l2.4 2.4-2.4 2.4-2.4-2.4zM263.6 178.6l2.4 2.4-2.4 2.4-2.4-2.4zM234.3 213.4l2.4 2.4-2.4 2.4-2.4-2.4zM230.5 219.8l2.4 2.4-2.4 2.4-2.4-2.4zM214.9 190.5l2.4 2.4-2.4 2.4-2.4-2.4zM255.2 176.1l2.4 2.4-2.4 2.4-2.4-2.4z"/><path d="M223.1 199.2l2.4 2.4-2.4 2.4-2.4-2.4zM228.2 184.0l2.4 2.4-2.4 2.4-2.4-2.4zM236.6 166.1l2.4 2.4-2.4 2.4-2.4-2.4zM223.9 200.5l2.4 2.4-2.4 2.4-2.4-2.4zM265.5 210.3l2.4 2.4-2.4 2.4-2.4-2.4zM266.1 214.2l2.4 2.4-2.4 2.4-2.4-2.4z"/><path d="M261.5 217.8l2.4 2.4-2.4 2.4-2.4-2.4zM224.1 197.4l2.4 2.4-2.4 2.4-2.4-2.4zM225.8 182.0l2.4 2.4-2.4 2.4-2.4-2.4zM220.7 208.4l2.4 2.4-2.4 2.4-2.4-2.4zM238.9 182.2l2.4 2.4-2.4 2.4-2.4-2.4zM276.2 192.7l2.4 2.4-2.4 2.4-2.4-2.4z"/><path d="M226.0 175.4l2.4 2.4-2.4 2.4-2.4-2.4zM260.3 170.9l2.4 2.4-2.4 2.4-2.4-2.4zM256.9 222.9l2.4 2.4-2.4 2.4-2.4-2.4zM245.0 224.7l2.4 2.4-2.4 2.4-2.4-2.4zM242.8 199.2l2.4 2.4-2.4 2.4-2.4-2.4zM236.5 193.1l2.4 2.4-2.4 2.4-2.4-2.4z"/><path d="M231.8 223.0l2.4 2.4-2.4 2.4-2.4-2.4zM223.4 203.7l2.4 2.4-2.4 2.4-2.4-2.4zM300.7 196.3l2.4 2.4-2.4 2.4-2.4-2.4zM271.2 200.4l2.4 2.4-2.4 2.4-2.4-2.4zM235.3 188.2l2.4 2.4-2.4 2.4-2.4-2.4zM259.0 219.9l2.4 2.4-2.4 2.4-2.4-2.4z"/><path d="M218.6 200.7l2.4 2.4-2.4 2.4-2.4-2.4zM268.3 215.3l2.4 2.4-2.4 2.4-2.4-2.4zM244.4 158.6l2.4 2.4-2.4 2.4-2.4-2.4zM245.9 185.1l2.4 2.4-2.4 2.4-2.4-2.4zM263.1 173.9l2.4 2.4-2.4 2.4-2.4-2.4zM254.9 216.5l2.4 2.4-2.4 2.4-2.4-2.4z"/><path d="M268.7 203.4l2.4 2.4-2.4 2.4-2.4-2.4zM252.7 180.6l2.4 2.4-2.4 2.4-2.4-2.4zM282.5 203.7l2.4 2.4-2.4 2.4-2.4-2.4zM244.3 219.5l2.4 2.4-2.4 2.4-2.4-2.4zM238.0 180.6l2.4 2.4-2.4 2.4-2.4-2.4zM232.1 215.4l2.4 2.4-2.4 2.4-2.4-2.4z"/><path d="M263.6 198.7l2.4 2.4-2.4 2.4-2.4-2.4zM287.5 198.3l2.4 2.4-2.4 2.4-2.4-2.4zM283.8 192.8l2.4 2.4-2.4 2.4-2.4-2.4zM281.0 202.6l2.4 2.4-2.4 2.4-2.4-2.4zM263.8 172.9l2.4 2.4-2.4 2.4-2.4-2.4zM242.0 176.2l2.4 2.4-2.4 2.4-2.4-2.4z"/><path d="M235.5 161.0l2.4 2.4-2.4 2.4-2.4-2.4zM246.6 205.4l2.4 2.4-2.4 2.4-2.4-2.4zM245.8 175.9l2.4 2.4-2.4 2.4-2.4-2.4zM263.1 212.7l2.4 2.4-2.4 2.4-2.4-2.4zM245.9 159.9l2.4 2.4-2.4 2.4-2.4-2.4zM259.8 200.0l2.4 2.4-2.4 2.4-2.4-2.4z"/><path d="M247.3 190.0l2.4 2.4-2.4 2.4-2.4-2.4zM248.1 209.4l2.4 2.4-2.4 2.4-2.4-2.4zM234.8 208.1l2.4 2.4-2.4 2.4-2.4-2.4zM226.2 194.4l2.4 2.4-2.4 2.4-2.4-2.4zM222.9 179.5l2.4 2.4-2.4 2.4-2.4-2.4zM224.0 215.0l2.4 2.4-2.4 2.4-2.4-2.4z"/><path d="M242.8 236.2l2.4 2.4-2.4 2.4-2.4-2.4zM240.7 199.5l2.4 2.4-2.4 2.4-2.4-2.4zM222.8 179.3l2.4 2.4-2.4 2.4-2.4-2.4zM255.7 193.9l2.4 2.4-2.4 2.4-2.4-2.4zM324.5 196.8l2.4 2.4-2.4 2.4-2.4-2.4zM266.1 195.5l2.4 2.4-2.4 2.4-2.4-2.4z"/><path d="M246.0 223.9l2.4 2.4-2.4 2.4-2.4-2.4zM275.5 206.4l2.4 2.4-2.4 2.4-2.4-2.4zM231.9 167.3l2.4 2.4-2.4 2.4-2.4-2.4zM244.7 167.8l2.4 2.4-2.4 2.4-2.4-2.4zM275.6 189.6l2.4 2.4-2.4 2.4-2.4-2.4zM247.2 176.4l2.4 2.4-2.4 2.4-2.4-2.4z"/><path d="M250.0 232.8l2.4 2.4-2.4 2.4-2.4-2.4zM263.9 175.0l2.4 2.4-2.4 2.4-2.4-2.4zM249.1 184.1l2.4 2.4-2.4 2.4-2.4-2.4zM238.5 236.4l2.4 2.4-2.4 2.4-2.4-2.4zM240.1 196.0l2.4 2.4-2.4 2.4-2.4-2.4zM229.8 179.7l2.4 2.4-2.4 2.4-2.4-2.4z"/><path d="M265.6 195.6l2.4 2.4-2.4 2.4-2.4-2.4zM289.6 198.7l2.4 2.4-2.4 2.4-2.4-2.4zM277.1 190.6l2.4 2.4-2.4 2.4-2.4-2.4zM234.6 191.6l2.4 2.4-2.4 2.4-2.4-2.4zM289.6 192.0l2.4 2.4-2.4 2.4-2.4-2.4zM263.4 200.3l2.4 2.4-2.4 2.4-2.4-2.4z"/><path d="M232.9 172.9l2.4 2.4-2.4 2.4-2.4-2.4zM256.2 221.6l2.4 2.4-2.4 2.4-2.4-2.4zM254.6 165.0l2.4 2.4-2.4 2.4-2.4-2.4zM265.3 219.1l2.4 2.4-2.4 2.4-2.4-2.4zM230.4 168.0l2.4 2.4-2.4 2.4-2.4-2.4zM239.2 198.1l2.4 2.4-2.4 2.4-2.4-2.4z"/><path d="M257.4 223.5l2.4 2.4-2.4 2.4-2.4-2.4zM243.2 188.9l2.4 2.4-2.4 2.4-2.4-2.4zM228.7 175.6l2.4 2.4-2.4 2.4-2.4-2.4zM215.1 192.6l2.4 2.4-2.4 2.4-2.4-2.4zM241.9 198.6l2.4 2.4-2.4 2.4-2.4-2.4zM247.4 235.5l2.4 2.4-2.4 2.4-2.4-2.4z"/><path d="M239.1 197.9l2.4 2.4-2.4 2.4-2.4-2.4zM264.2 184.0l2.4 2.4-2.4 2.4-2.4-2.4zM307.6 198.0l2.4 2.4-2.4 2.4-2.4-2.4zM246.7 217.9l2.4 2.4-2.4 2.4-2.4-2.4zM249.3 204.4l2.4 2.4-2.4 2.4-2.4-2.4zM261.0 180.1l2.4 2.4-2.4 2.4-2.4-2.4z"/><path d="M281.2 196.1l2.4 2.4-2.4 2.4-2.4-2.4zM310.2 197.9l2.4 2.4-2.4 2.4-2.4-2.4zM237.0 230.0l2.4 2.4-2.4 2.4-2.4-2.4zM217.3 206.2l2.4 2.4-2.4 2.4-2.4-2.4zM269.2 193.5l2.4 2.4-2.4 2.4-2.4-2.4zM295.0 194.6l2.4 2.4-2.4 2.4-2.4-2.4z"/><path d="M249.8 233.6l2.4 2.4-2.4 2.4-2.4-2.4zM299.7 198.7l2.4 2.4-2.4 2.4-2.4-2.4zM261.3 201.3l2.4 2.4-2.4 2.4-2.4-2.4zM260.2 178.5l2.4 2.4-2.4 2.4-2.4-2.4zM268.7 188.0l2.4 2.4-2.4 2.4-2.4-2.4zM225.8 173.9l2.4 2.4-2.4 2.4-2.4-2.4z"/><path d="M248.0 188.9l2.4 2.4-2.4 2.4-2.4-2.4zM273.2 208.3l2.4 2.4-2.4 2.4-2.4-2.4zM291.1 198.5l2.4 2.4-2.4 2.4-2.4-2.4zM279.8 195.8l2.4 2.4-2.4 2.4-2.4-2.4zM265.3 186.5l2.4 2.4-2.4 2.4-2.4-2.4zM276.4 202.6l2.4 2.4-2.4 2.4-2.4-2.4z"/><path d="M218.5 202.0l2.4 2.4-2.4 2.4-2.4-2.4zM251.2 162.5l2.4 2.4-2.4 2.4-2.4-2.4zM296.6 198.5l2.4 2.4-2.4 2.4-2.4-2.4zM259.4 213.9l2.4 2.4-2.4 2.4-2.4-2.4zM246.4 167.9l2.4 2.4-2.4 2.4-2.4-2.4zM258.9 211.3l2.4 2.4-2.4 2.4-2.4-2.4z"/><path d="M226.4 203.6l2.4 2.4-2.4 2.4-2.4-2.4zM264.3 218.3l2.4 2.4-2.4 2.4-2.4-2.4zM248.0 235.5l2.4 2.4-2.4 2.4-2.4-2.4zM256.6 171.6l2.4 2.4-2.4 2.4-2.4-2.4zM260.9 201.5l2.4 2.4-2.4 2.4-2.4-2.4zM238.6 193.6l2.4 2.4-2.4 2.4-2.4-2.4z"/><path d="M237.5 173.3l2.4 2.4-2.4 2.4-2.4-2.4zM240.8 161.2l2.4 2.4-2.4 2.4-2.4-2.4zM323.1 196.9l2.4 2.4-2.4 2.4-2.4-2.4zM281.0 192.9l2.4 2.4-2.4 2.4-2.4-2.4zM220.6 184.2l2.4 2.4-2.4 2.4-2.4-2.4zM241.9 167.2l2.4 2.4-2.4 2.4-2.4-2.4z"/><path d="M259.9 199.9l2.4 2.4-2.4 2.4-2.4-2.4zM247.3 166.8l2.4 2.4-2.4 2.4-2.4-2.4zM257.6 193.4l2.4 2.4-2.4 2.4-2.4-2.4zM225.0 209.5l2.4 2.4-2.4 2.4-2.4-2.4zM269.4 182.0l2.4 2.4-2.4 2.4-2.4-2.4zM257.6 188.9l2.4 2.4-2.4 2.4-2.4-2.4z"/><path d="M255.2 188.7l2.4 2.4-2.4 2.4-2.4-2.4zM261.3 217.1l2.4 2.4-2.4 2.4-2.4-2.4zM292.1 199.8l2.4 2.4-2.4 2.4-2.4-2.4zM249.2 193.9l2.4 2.4-2.4 2.4-2.4-2.4zM227.0 171.5l2.4 2.4-2.4 2.4-2.4-2.4zM301.9 197.7l2.4 2.4-2.4 2.4-2.4-2.4z"/><path d="M242.6 165.8l2.4 2.4-2.4 2.4-2.4-2.4zM231.8 185.4l2.4 2.4-2.4 2.4-2.4-2.4zM231.4 225.5l2.4 2.4-2.4 2.4-2.4-2.4zM323.5 196.9l2.4 2.4-2.4 2.4-2.4-2.4zM226.4 212.9l2.4 2.4-2.4 2.4-2.4-2.4zM265.5 207.8l2.4 2.4-2.4 2.4-2.4-2.4z"/><path d="M236.6 202.6l2.4 2.4-2.4 2.4-2.4-2.4zM265.5 187.8l2.4 2.4-2.4 2.4-2.4-2.4zM219.2 187.6l2.4 2.4-2.4 2.4-2.4-2.4zM273.6 183.9l2.4 2.4-2.4 2.4-2.4-2.4zM237.9 181.2l2.4 2.4-2.4 2.4-2.4-2.4zM302.1 195.9l2.4 2.4-2.4 2.4-2.4-2.4z"/><path d="M261.2 204.8l2.4 2.4-2.4 2.4-2.4-2.4zM230.5 166.8l2.4 2.4-2.4 2.4-2.4-2.4zM247.8 206.1l2.4 2.4-2.4 2.4-2.4-2.4zM251.8 161.7l2.4 2.4-2.4 2.4-2.4-2.4zM248.9 202.3l2.4 2.4-2.4 2.4-2.4-2.4zM242.8 169.4l2.4 2.4-2.4 2.4-2.4-2.4z"/><path d="M252.5 225.4l2.4 2.4-2.4 2.4-2.4-2.4zM271.6 204.7l2.4 2.4-2.4 2.4-2.4-2.4zM282.2 200.6l2.4 2.4-2.4 2.4-2.4-2.4zM266.5 198.3l2.4 2.4-2.4 2.4-2.4-2.4zM233.2 214.9l2.4 2.4-2.4 2.4-2.4-2.4zM251.0 169.3l2.4 2.4-2.4 2.4-2.4-2.4z"/><path d="M270.5 180.8l2.4 2.4-2.4 2.4-2.4-2.4zM318.1 196.9l2.4 2.4-2.4 2.4-2.4-2.4zM273.5 191.6l2.4 2.4-2.4 2.4-2.4-2.4zM291.0 194.5l2.4 2.4-2.4 2.4-2.4-2.4zM235.2 176.9l2.4 2.4-2.4 2.4-2.4-2.4zM242.7 163.3l2.4 2.4-2.4 2.4-2.4-2.4z"/><path d="M224.3 177.4l2.4 2.4-2.4 2.4-2.4-2.4zM220.9 200.0l2.4 2.4-2.4 2.4-2.4-2.4zM283.9 203.1l2.4 2.4-2.4 2.4-2.4-2.4zM235.4 166.8l2.4 2.4-2.4 2.4-2.4-2.4zM240.1 232.9l2.4 2.4-2.4 2.4-2.4-2.4zM295.0 196.5l2.4 2.4-2.4 2.4-2.4-2.4z"/><path d="M273.7 196.0l2.4 2.4-2.4 2.4-2.4-2.4zM283.1 196.1l2.4 2.4-2.4 2.4-2.4-2.4zM238.8 172.5l2.4 2.4-2.4 2.4-2.4-2.4zM217.8 197.4l2.4 2.4-2.4 2.4-2.4-2.4zM241.9 234.6l2.4 2.4-2.4 2.4-2.4-2.4zM260.2 200.6l2.4 2.4-2.4 2.4-2.4-2.4z"/><path d="M223.1 181.1l2.4 2.4-2.4 2.4-2.4-2.4zM247.1 174.0l2.4 2.4-2.4 2.4-2.4-2.4zM265.3 174.7l2.4 2.4-2.4 2.4-2.4-2.4zM246.7 173.5l2.4 2.4-2.4 2.4-2.4-2.4zM236.5 221.9l2.4 2.4-2.4 2.4-2.4-2.4zM255.9 216.8l2.4 2.4-2.4 2.4-2.4-2.4z"/><path d="M249.8 217.2l2.4 2.4-2.4 2.4-2.4-2.4zM302.5 197.3l2.4 2.4-2.4 2.4-2.4-2.4zM267.3 196.2l2.4 2.4-2.4 2.4-2.4-2.4zM280.5 190.6l2.4 2.4-2.4 2.4-2.4-2.4zM257.5 216.9l2.4 2.4-2.4 2.4-2.4-2.4zM261.3 184.3l2.4 2.4-2.4 2.4-2.4-2.4z"/><path d="M255.8 206.5l2.4 2.4-2.4 2.4-2.4-2.4zM319.0 196.9l2.4 2.4-2.4 2.4-2.4-2.4zM271.3 187.4l2.4 2.4-2.4 2.4-2.4-2.4zM266.5 186.0l2.4 2.4-2.4 2.4-2.4-2.4zM232.0 195.6l2.4 2.4-2.4 2.4-2.4-2.4zM242.4 202.8l2.4 2.4-2.4 2.4-2.4-2.4z"/><path d="M256.4 223.6l2.4 2.4-2.4 2.4-2.4-2.4zM218.7 193.9l2.4 2.4-2.4 2.4-2.4-2.4zM261.7 213.8l2.4 2.4-2.4 2.4-2.4-2.4zM233.1 215.9l2.4 2.4-2.4 2.4-2.4-2.4zM222.5 216.6l2.4 2.4-2.4 2.4-2.4-2.4zM241.0 184.6l2.4 2.4-2.4 2.4-2.4-2.4z"/><path d="M228.2 197.4l2.4 2.4-2.4 2.4-2.4-2.4zM223.3 202.2l2.4 2.4-2.4 2.4-2.4-2.4zM241.2 192.0l2.4 2.4-2.4 2.4-2.4-2.4zM305.4 197.3l2.4 2.4-2.4 2.4-2.4-2.4zM280.7 195.6l2.4 2.4-2.4 2.4-2.4-2.4zM250.4 209.1l2.4 2.4-2.4 2.4-2.4-2.4z"/><path d="M252.9 214.4l2.4 2.4-2.4 2.4-2.4-2.4zM282.4 196.4l2.4 2.4-2.4 2.4-2.4-2.4zM225.4 219.7l2.4 2.4-2.4 2.4-2.4-2.4zM228.8 195.4l2.4 2.4-2.4 2.4-2.4-2.4zM246.0 169.9l2.4 2.4-2.4 2.4-2.4-2.4zM253.3 184.4l2.4 2.4-2.4 2.4-2.4-2.4z"/><path d="M224.2 216.0l2.4 2.4-2.4 2.4-2.4-2.4zM249.9 198.4l2.4 2.4-2.4 2.4-2.4-2.4zM242.7 217.7l2.4 2.4-2.4 2.4-2.4-2.4zM242.7 196.5l2.4 2.4-2.4 2.4-2.4-2.4zM221.0 201.6l2.4 2.4-2.4 2.4-2.4-2.4zM260.1 209.6l2.4 2.4-2.4 2.4-2.4-2.4z"/><path d="M226.0 203.9l2.4 2.4-2.4 2.4-2.4-2.4zM224.2 175.0l2.4 2.4-2.4 2.4-2.4-2.4zM285.3 195.0l2.4 2.4-2.4 2.4-2.4-2.4zM256.8 216.3l2.4 2.4-2.4 2.4-2.4-2.4zM253.0 215.1l2.4 2.4-2.4 2.4-2.4-2.4zM283.3 195.8l2.4 2.4-2.4 2.4-2.4-2.4z"/><path d="M241.5 158.1l2.4 2.4-2.4 2.4-2.4-2.4zM224.4 191.0l2.4 2.4-2.4 2.4-2.4-2.4zM249.1 187.0l2.4 2.4-2.4 2.4-2.4-2.4zM265.3 181.5l2.4 2.4-2.4 2.4-2.4-2.4zM245.1 200.9l2.4 2.4-2.4 2.4-2.4-2.4zM281.8 201.2l2.4 2.4-2.4 2.4-2.4-2.4z"/><path d="M297.3 198.7l2.4 2.4-2.4 2.4-2.4-2.4zM280.4 203.5l2.4 2.4-2.4 2.4-2.4-2.4zM278.5 196.1l2.4 2.4-2.4 2.4-2.4-2.4zM230.9 173.5l2.4 2.4-2.4 2.4-2.4-2.4zM243.0 229.7l2.4 2.4-2.4 2.4-2.4-2.4zM240.0 194.3l2.4 2.4-2.4 2.4-2.4-2.4z"/><path d="M299.5 195.3l2.4 2.4-2.4 2.4-2.4-2.4zM308.3 197.3l2.4 2.4-2.4 2.4-2.4-2.4zM230.8 204.3l2.4 2.4-2.4 2.4-2.4-2.4zM249.8 229.5l2.4 2.4-2.4 2.4-2.4-2.4zM253.2 197.3l2.4 2.4-2.4 2.4-2.4-2.4zM232.4 190.5l2.4 2.4-2.4 2.4-2.4-2.4z"/><path d="M262.8 216.7l2.4 2.4-2.4 2.4-2.4-2.4zM290.5 194.5l2.4 2.4-2.4 2.4-2.4-2.4zM265.9 198.0l2.4 2.4-2.4 2.4-2.4-2.4zM264.5 191.5l2.4 2.4-2.4 2.4-2.4-2.4zM286.3 200.8l2.4 2.4-2.4 2.4-2.4-2.4zM266.1 176.0l2.4 2.4-2.4 2.4-2.4-2.4z"/><path d="M245.0 228.5l2.4 2.4-2.4 2.4-2.4-2.4zM245.0 203.0l2.4 2.4-2.4 2.4-2.4-2.4zM281.1 196.9l2.4 2.4-2.4 2.4-2.4-2.4zM267.6 197.5l2.4 2.4-2.4 2.4-2.4-2.4zM240.2 219.5l2.4 2.4-2.4 2.4-2.4-2.4zM247.1 186.3l2.4 2.4-2.4 2.4-2.4-2.4z"/><path d="M261.7 171.3l2.4 2.4-2.4 2.4-2.4-2.4zM289.4 200.3l2.4 2.4-2.4 2.4-2.4-2.4zM218.0 204.7l2.4 2.4-2.4 2.4-2.4-2.4zM244.3 170.0l2.4 2.4-2.4 2.4-2.4-2.4zM243.9 195.3l2.4 2.4-2.4 2.4-2.4-2.4zM230.1 168.5l2.4 2.4-2.4 2.4-2.4-2.4z"/><path d="M314.5 196.8l2.4 2.4-2.4 2.4-2.4-2.4zM263.4 213.5l2.4 2.4-2.4 2.4-2.4-2.4zM304.8 197.4l2.4 2.4-2.4 2.4-2.4-2.4zM257.0 195.0l2.4 2.4-2.4 2.4-2.4-2.4zM240.8 221.6l2.4 2.4-2.4 2.4-2.4-2.4zM245.6 182.1l2.4 2.4-2.4 2.4-2.4-2.4z"/><path d="M255.6 217.2l2.4 2.4-2.4 2.4-2.4-2.4zM266.8 175.6l2.4 2.4-2.4 2.4-2.4-2.4zM238.0 169.7l2.4 2.4-2.4 2.4-2.4-2.4zM277.7 205.3l2.4 2.4-2.4 2.4-2.4-2.4zM295.5 198.6l2.4 2.4-2.4 2.4-2.4-2.4zM252.1 177.4l2.4 2.4-2.4 2.4-2.4-2.4z"/><path d="M228.8 169.1l2.4 2.4-2.4 2.4-2.4-2.4zM259.4 211.2l2.4 2.4-2.4 2.4-2.4-2.4zM232.0 208.3l2.4 2.4-2.4 2.4-2.4-2.4zM249.2 228.9l2.4 2.4-2.4 2.4-2.4-2.4zM258.4 213.5l2.4 2.4-2.4 2.4-2.4-2.4zM234.8 192.6l2.4 2.4-2.4 2.4-2.4-2.4z"/><path d="M248.6 223.7l2.4 2.4-2.4 2.4-2.4-2.4zM245.9 183.0l2.4 2.4-2.4 2.4-2.4-2.4zM257.7 207.5l2.4 2.4-2.4 2.4-2.4-2.4zM247.5 206.3l2.4 2.4-2.4 2.4-2.4-2.4zM226.9 189.0l2.4 2.4-2.4 2.4-2.4-2.4zM256.3 222.3l2.4 2.4-2.4 2.4-2.4-2.4z"/><path d="M226.5 222.2l2.4 2.4-2.4 2.4-2.4-2.4zM245.6 170.4l2.4 2.4-2.4 2.4-2.4-2.4zM253.6 219.6l2.4 2.4-2.4 2.4-2.4-2.4zM256.4 197.3l2.4 2.4-2.4 2.4-2.4-2.4zM240.3 189.3l2.4 2.4-2.4 2.4-2.4-2.4zM255.9 208.0l2.4 2.4-2.4 2.4-2.4-2.4z"/><path d="M277.7 194.8l2.4 2.4-2.4 2.4-2.4-2.4zM247.4 233.4l2.4 2.4-2.4 2.4-2.4-2.4zM228.6 205.2l2.4 2.4-2.4 2.4-2.4-2.4zM287.6 191.3l2.4 2.4-2.4 2.4-2.4-2.4zM255.9 222.5l2.4 2.4-2.4 2.4-2.4-2.4zM304.5 195.7l2.4 2.4-2.4 2.4-2.4-2.4z"/><path d="M219.5 205.1l2.4 2.4-2.4 2.4-2.4-2.4zM251.3 216.1l2.4 2.4-2.4 2.4-2.4-2.4zM265.5 212.7l2.4 2.4-2.4 2.4-2.4-2.4zM263.1 208.2l2.4 2.4-2.4 2.4-2.4-2.4zM241.2 195.2l2.4 2.4-2.4 2.4-2.4-2.4zM259.9 181.6l2.4 2.4-2.4 2.4-2.4-2.4z"/><path d="M224.1 218.2l2.4 2.4-2.4 2.4-2.4-2.4zM260.0 168.7l2.4 2.4-2.4 2.4-2.4-2.4zM228.7 224.6l2.4 2.4-2.4 2.4-2.4-2.4zM241.7 194.6l2.4 2.4-2.4 2.4-2.4-2.4zM320.2 196.9l2.4 2.4-2.4 2.4-2.4-2.4zM227.3 195.1l2.4 2.4-2.4 2.4-2.4-2.4z"/><path d="M246.0 227.5l2.4 2.4-2.4 2.4-2.4-2.4zM249.9 160.5l2.4 2.4-2.4 2.4-2.4-2.4zM260.6 181.7l2.4 2.4-2.4 2.4-2.4-2.4zM252.3 170.7l2.4 2.4-2.4 2.4-2.4-2.4zM297.9 197.3l2.4 2.4-2.4 2.4-2.4-2.4zM293.1 194.6l2.4 2.4-2.4 2.4-2.4-2.4z"/><path d="M274.1 192.0l2.4 2.4-2.4 2.4-2.4-2.4zM291.4 199.5l2.4 2.4-2.4 2.4-2.4-2.4zM233.4 222.3l2.4 2.4-2.4 2.4-2.4-2.4zM229.6 211.2l2.4 2.4-2.4 2.4-2.4-2.4zM238.4 228.5l2.4 2.4-2.4 2.4-2.4-2.4zM252.2 170.5l2.4 2.4-2.4 2.4-2.4-2.4z"/><path d="M257.5 186.0l2.4 2.4-2.4 2.4-2.4-2.4zM279.2 194.0l2.4 2.4-2.4 2.4-2.4-2.4zM233.0 171.7l2.4 2.4-2.4 2.4-2.4-2.4zM278.3 195.0l2.4 2.4-2.4 2.4-2.4-2.4zM240.4 237.1l2.4 2.4-2.4 2.4-2.4-2.4zM234.6 176.5l2.4 2.4-2.4 2.4-2.4-2.4z"/><path d="M266.2 196.7l2.4 2.4-2.4 2.4-2.4-2.4zM314.4 196.9l2.4 2.4-2.4 2.4-2.4-2.4zM312.9 196.8l2.4 2.4-2.4 2.4-2.4-2.4zM263.5 191.0l2.4 2.4-2.4 2.4-2.4-2.4zM251.7 162.4l2.4 2.4-2.4 2.4-2.4-2.4zM253.4 163.1l2.4 2.4-2.4 2.4-2.4-2.4z"/><path d="M256.4 227.0l2.4 2.4-2.4 2.4-2.4-2.4zM230.0 195.5l2.4 2.4-2.4 2.4-2.4-2.4zM260.8 174.2l2.4 2.4-2.4 2.4-2.4-2.4zM251.3 222.9l2.4 2.4-2.4 2.4-2.4-2.4zM214.6 195.2l2.4 2.4-2.4 2.4-2.4-2.4zM246.9 217.0l2.4 2.4-2.4 2.4-2.4-2.4z"/><path d="M247.9 164.8l2.4 2.4-2.4 2.4-2.4-2.4zM322.8 196.6l2.4 2.4-2.4 2.4-2.4-2.4zM258.8 195.2l2.4 2.4-2.4 2.4-2.4-2.4zM311.3 196.8l2.4 2.4-2.4 2.4-2.4-2.4zM233.0 213.2l2.4 2.4-2.4 2.4-2.4-2.4zM261.1 181.7l2.4 2.4-2.4 2.4-2.4-2.4z"/><path d="M243.8 218.0l2.4 2.4-2.4 2.4-2.4-2.4zM231.6 205.0l2.4 2.4-2.4 2.4-2.4-2.4zM253.2 174.6l2.4 2.4-2.4 2.4-2.4-2.4zM244.5 183.2l2.4 2.4-2.4 2.4-2.4-2.4zM246.4 201.9l2.4 2.4-2.4 2.4-2.4-2.4zM260.4 200.7l2.4 2.4-2.4 2.4-2.4-2.4z"/><path d="M258.7 178.4l2.4 2.4-2.4 2.4-2.4-2.4zM264.2 189.3l2.4 2.4-2.4 2.4-2.4-2.4zM231.0 190.5l2.4 2.4-2.4 2.4-2.4-2.4zM217.8 192.1l2.4 2.4-2.4 2.4-2.4-2.4zM232.8 169.9l2.4 2.4-2.4 2.4-2.4-2.4zM230.4 196.8l2.4 2.4-2.4 2.4-2.4-2.4z"/><path d="M233.3 220.2l2.4 2.4-2.4 2.4-2.4-2.4zM220.4 182.2l2.4 2.4-2.4 2.4-2.4-2.4zM232.3 228.7l2.4 2.4-2.4 2.4-2.4-2.4zM243.5 201.3l2.4 2.4-2.4 2.4-2.4-2.4zM258.0 226.5l2.4 2.4-2.4 2.4-2.4-2.4zM233.1 200.0l2.4 2.4-2.4 2.4-2.4-2.4z"/><path d="M255.2 186.4l2.4 2.4-2.4 2.4-2.4-2.4zM273.9 205.5l2.4 2.4-2.4 2.4-2.4-2.4zM251.9 193.9l2.4 2.4-2.4 2.4-2.4-2.4zM248.1 180.9l2.4 2.4-2.4 2.4-2.4-2.4zM254.2 173.4l2.4 2.4-2.4 2.4-2.4-2.4zM261.7 179.5l2.4 2.4-2.4 2.4-2.4-2.4z"/><path d="M220.1 187.9l2.4 2.4-2.4 2.4-2.4-2.4zM249.2 204.3l2.4 2.4-2.4 2.4-2.4-2.4zM234.3 178.8l2.4 2.4-2.4 2.4-2.4-2.4zM281.2 197.0l2.4 2.4-2.4 2.4-2.4-2.4zM242.3 186.6l2.4 2.4-2.4 2.4-2.4-2.4zM235.0 193.3l2.4 2.4-2.4 2.4-2.4-2.4z"/><path d="M214.7 194.8l2.4 2.4-2.4 2.4-2.4-2.4zM238.3 197.5l2.4 2.4-2.4 2.4-2.4-2.4zM274.1 185.2l2.4 2.4-2.4 2.4-2.4-2.4zM246.8 172.5l2.4 2.4-2.4 2.4-2.4-2.4zM242.2 187.7l2.4 2.4-2.4 2.4-2.4-2.4zM234.5 185.1l2.4 2.4-2.4 2.4-2.4-2.4z"/><path d="M239.5 168.4l2.4 2.4-2.4 2.4-2.4-2.4zM243.9 214.3l2.4 2.4-2.4 2.4-2.4-2.4zM249.7 185.6l2.4 2.4-2.4 2.4-2.4-2.4zM240.7 156.7l2.4 2.4-2.4 2.4-2.4-2.4zM223.5 179.4l2.4 2.4-2.4 2.4-2.4-2.4zM217.3 188.3l2.4 2.4-2.4 2.4-2.4-2.4z"/><path d="M214.5 196.8l2.4 2.4-2.4 2.4-2.4-2.4zM228.3 217.2l2.4 2.4-2.4 2.4-2.4-2.4zM282.1 199.5l2.4 2.4-2.4 2.4-2.4-2.4zM215.1 201.4l2.4 2.4-2.4 2.4-2.4-2.4zM269.0 213.9l2.4 2.4-2.4 2.4-2.4-2.4zM215.1 203.0l2.4 2.4-2.4 2.4-2.4-2.4z"/><path d="M246.8 221.6l2.4 2.4-2.4 2.4-2.4-2.4zM244.0 223.4l2.4 2.4-2.4 2.4-2.4-2.4zM252.3 181.2l2.4 2.4-2.4 2.4-2.4-2.4zM287.6 198.9l2.4 2.4-2.4 2.4-2.4-2.4zM224.8 207.6l2.4 2.4-2.4 2.4-2.4-2.4zM246.3 233.8l2.4 2.4-2.4 2.4-2.4-2.4z"/><path d="M245.6 165.9l2.4 2.4-2.4 2.4-2.4-2.4zM239.5 213.2l2.4 2.4-2.4 2.4-2.4-2.4zM243.2 157.3l2.4 2.4-2.4 2.4-2.4-2.4zM247.7 158.7l2.4 2.4-2.4 2.4-2.4-2.4zM228.5 200.6l2.4 2.4-2.4 2.4-2.4-2.4zM267.2 187.3l2.4 2.4-2.4 2.4-2.4-2.4z"/><path d="M261.0 187.7l2.4 2.4-2.4 2.4-2.4-2.4zM224.1 193.9l2.4 2.4-2.4 2.4-2.4-2.4zM217.6 206.6l2.4 2.4-2.4 2.4-2.4-2.4zM272.0 182.4l2.4 2.4-2.4 2.4-2.4-2.4zM253.1 225.7l2.4 2.4-2.4 2.4-2.4-2.4zM223.3 183.1l2.4 2.4-2.4 2.4-2.4-2.4z"/><path d="M259.5 201.1l2.4 2.4-2.4 2.4-2.4-2.4zM264.1 218.4l2.4 2.4-2.4 2.4-2.4-2.4zM253.8 170.0l2.4 2.4-2.4 2.4-2.4-2.4zM299.7 196.3l2.4 2.4-2.4 2.4-2.4-2.4zM224.5 212.8l2.4 2.4-2.4 2.4-2.4-2.4zM280.4 197.6l2.4 2.4-2.4 2.4-2.4-2.4z"/><path d="M243.1 158.2l2.4 2.4-2.4 2.4-2.4-2.4zM217.1 207.0l2.4 2.4-2.4 2.4-2.4-2.4zM236.4 223.0l2.4 2.4-2.4 2.4-2.4-2.4zM277.6 206.8l2.4 2.4-2.4 2.4-2.4-2.4zM250.7 210.9l2.4 2.4-2.4 2.4-2.4-2.4zM217.3 204.3l2.4 2.4-2.4 2.4-2.4-2.4z"/><path d="M240.0 195.5l2.4 2.4-2.4 2.4-2.4-2.4zM225.3 220.4l2.4 2.4-2.4 2.4-2.4-2.4zM216.7 190.2l2.4 2.4-2.4 2.4-2.4-2.4zM225.5 181.4l2.4 2.4-2.4 2.4-2.4-2.4zM277.7 204.3l2.4 2.4-2.4 2.4-2.4-2.4zM242.4 185.3l2.4 2.4-2.4 2.4-2.4-2.4z"/><path d="M231.6 166.5l2.4 2.4-2.4 2.4-2.4-2.4zM302.1 196.5l2.4 2.4-2.4 2.4-2.4-2.4zM242.7 189.3l2.4 2.4-2.4 2.4-2.4-2.4zM245.8 186.7l2.4 2.4-2.4 2.4-2.4-2.4zM234.7 214.2l2.4 2.4-2.4 2.4-2.4-2.4zM274.0 188.8l2.4 2.4-2.4 2.4-2.4-2.4z"/><path d="M253.0 223.6l2.4 2.4-2.4 2.4-2.4-2.4zM253.3 218.0l2.4 2.4-2.4 2.4-2.4-2.4zM264.9 213.0l2.4 2.4-2.4 2.4-2.4-2.4zM268.2 190.0l2.4 2.4-2.4 2.4-2.4-2.4zM242.9 230.6l2.4 2.4-2.4 2.4-2.4-2.4zM223.1 192.3l2.4 2.4-2.4 2.4-2.4-2.4z"/><path d="M238.6 209.8l2.4 2.4-2.4 2.4-2.4-2.4zM280.5 189.5l2.4 2.4-2.4 2.4-2.4-2.4zM273.9 204.0l2.4 2.4-2.4 2.4-2.4-2.4zM289.0 197.1l2.4 2.4-2.4 2.4-2.4-2.4zM261.3 185.3l2.4 2.4-2.4 2.4-2.4-2.4zM242.2 181.0l2.4 2.4-2.4 2.4-2.4-2.4z"/><path d="M267.4 204.6l2.4 2.4-2.4 2.4-2.4-2.4zM242.3 212.2l2.4 2.4-2.4 2.4-2.4-2.4zM274.7 200.9l2.4 2.4-2.4 2.4-2.4-2.4zM223.3 190.7l2.4 2.4-2.4 2.4-2.4-2.4zM281.5 198.3l2.4 2.4-2.4 2.4-2.4-2.4zM218.5 209.6l2.4 2.4-2.4 2.4-2.4-2.4z"/><path d="M259.7 203.5l2.4 2.4-2.4 2.4-2.4-2.4zM250.4 226.5l2.4 2.4-2.4 2.4-2.4-2.4zM235.8 198.5l2.4 2.4-2.4 2.4-2.4-2.4zM273.9 201.2l2.4 2.4-2.4 2.4-2.4-2.4zM279.6 194.7l2.4 2.4-2.4 2.4-2.4-2.4zM273.6 209.8l2.4 2.4-2.4 2.4-2.4-2.4z"/><path d="M276.7 201.8l2.4 2.4-2.4 2.4-2.4-2.4zM283.0 203.6l2.4 2.4-2.4 2.4-2.4-2.4zM226.9 171.4l2.4 2.4-2.4 2.4-2.4-2.4zM280.1 195.1l2.4 2.4-2.4 2.4-2.4-2.4zM274.2 193.7l2.4 2.4-2.4 2.4-2.4-2.4zM260.9 220.0l2.4 2.4-2.4 2.4-2.4-2.4z"/><path d="M249.7 206.9l2.4 2.4-2.4 2.4-2.4-2.4zM231.9 187.2l2.4 2.4-2.4 2.4-2.4-2.4zM231.3 208.9l2.4 2.4-2.4 2.4-2.4-2.4zM252.6 181.9l2.4 2.4-2.4 2.4-2.4-2.4zM232.6 226.4l2.4 2.4-2.4 2.4-2.4-2.4zM315.3 197.3l2.4 2.4-2.4 2.4-2.4-2.4z"/><path d="M251.4 172.6l2.4 2.4-2.4 2.4-2.4-2.4zM263.5 177.0l2.4 2.4-2.4 2.4-2.4-2.4zM266.8 176.7l2.4 2.4-2.4 2.4-2.4-2.4zM233.6 175.2l2.4 2.4-2.4 2.4-2.4-2.4zM239.8 163.1l2.4 2.4-2.4 2.4-2.4-2.4zM256.0 220.0l2.4 2.4-2.4 2.4-2.4-2.4z"/><path d="M264.3 179.7l2.4 2.4-2.4 2.4-2.4-2.4zM243.2 183.5l2.4 2.4-2.4 2.4-2.4-2.4zM303.3 197.1l2.4 2.4-2.4 2.4-2.4-2.4zM253.8 197.4l2.4 2.4-2.4 2.4-2.4-2.4zM247.1 180.9l2.4 2.4-2.4 2.4-2.4-2.4zM282.7 200.9l2.4 2.4-2.4 2.4-2.4-2.4z"/><path d="M315.1 197.1l2.4 2.4-2.4 2.4-2.4-2.4zM303.2 196.0l2.4 2.4-2.4 2.4-2.4-2.4zM237.8 194.9l2.4 2.4-2.4 2.4-2.4-2.4zM255.4 183.2l2.4 2.4-2.4 2.4-2.4-2.4zM301.7 198.0l2.4 2.4-2.4 2.4-2.4-2.4zM293.7 197.2l2.4 2.4-2.4 2.4-2.4-2.4z"/><path d="M231.8 203.0l2.4 2.4-2.4 2.4-2.4-2.4zM236.2 212.1l2.4 2.4-2.4 2.4-2.4-2.4zM257.0 215.1l2.4 2.4-2.4 2.4-2.4-2.4zM238.4 205.2l2.4 2.4-2.4 2.4-2.4-2.4zM283.4 190.1l2.4 2.4-2.4 2.4-2.4-2.4zM230.3 181.4l2.4 2.4-2.4 2.4-2.4-2.4z"/><path d="M257.7 176.0l2.4 2.4-2.4 2.4-2.4-2.4zM246.0 159.2l2.4 2.4-2.4 2.4-2.4-2.4zM222.4 178.0l2.4 2.4-2.4 2.4-2.4-2.4zM248.0 233.6l2.4 2.4-2.4 2.4-2.4-2.4zM255.3 169.4l2.4 2.4-2.4 2.4-2.4-2.4zM220.4 191.4l2.4 2.4-2.4 2.4-2.4-2.4z"/><path d="M228.8 215.2l2.4 2.4-2.4 2.4-2.4-2.4zM226.5 188.5l2.4 2.4-2.4 2.4-2.4-2.4zM227.7 184.8l2.4 2.4-2.4 2.4-2.4-2.4zM288.6 200.1l2.4 2.4-2.4 2.4-2.4-2.4zM276.2 199.9l2.4 2.4-2.4 2.4-2.4-2.4zM259.7 199.6l2.4 2.4-2.4 2.4-2.4-2.4z"/><path d="M234.0 176.3l2.4 2.4-2.4 2.4-2.4-2.4zM240.2 177.3l2.4 2.4-2.4 2.4-2.4-2.4zM246.2 228.8l2.4 2.4-2.4 2.4-2.4-2.4zM318.7 196.7l2.4 2.4-2.4 2.4-2.4-2.4zM308.9 197.2l2.4 2.4-2.4 2.4-2.4-2.4zM270.8 213.9l2.4 2.4-2.4 2.4-2.4-2.4z"/><path d="M249.5 173.7l2.4 2.4-2.4 2.4-2.4-2.4zM277.8 187.8l2.4 2.4-2.4 2.4-2.4-2.4zM219.1 200.8l2.4 2.4-2.4 2.4-2.4-2.4zM260.5 190.2l2.4 2.4-2.4 2.4-2.4-2.4zM228.7 205.3l2.4 2.4-2.4 2.4-2.4-2.4zM250.6 198.2l2.4 2.4-2.4 2.4-2.4-2.4z"/><path d="M247.4 191.6l2.4 2.4-2.4 2.4-2.4-2.4zM272.6 202.4l2.4 2.4-2.4 2.4-2.4-2.4zM258.3 210.5l2.4 2.4-2.4 2.4-2.4-2.4zM241.0 203.8l2.4 2.4-2.4 2.4-2.4-2.4zM268.7 189.4l2.4 2.4-2.4 2.4-2.4-2.4zM228.0 191.7l2.4 2.4-2.4 2.4-2.4-2.4z"/><path d="M238.9 221.6l2.4 2.4-2.4 2.4-2.4-2.4zM320.2 197.2l2.4 2.4-2.4 2.4-2.4-2.4zM296.6 195.5l2.4 2.4-2.4 2.4-2.4-2.4zM229.0 182.3l2.4 2.4-2.4 2.4-2.4-2.4zM256.0 227.6l2.4 2.4-2.4 2.4-2.4-2.4zM257.0 223.4l2.4 2.4-2.4 2.4-2.4-2.4z"/><path d="M280.0 205.0l2.4 2.4-2.4 2.4-2.4-2.4zM243.8 200.2l2.4 2.4-2.4 2.4-2.4-2.4zM253.3 214.7l2.4 2.4-2.4 2.4-2.4-2.4zM219.8 211.7l2.4 2.4-2.4 2.4-2.4-2.4zM232.3 178.5l2.4 2.4-2.4 2.4-2.4-2.4zM248.5 165.9l2.4 2.4-2.4 2.4-2.4-2.4z"/><path d="M245.9 162.9l2.4 2.4-2.4 2.4-2.4-2.4zM292.0 193.6l2.4 2.4-2.4 2.4-2.4-2.4zM241.2 195.1l2.4 2.4-2.4 2.4-2.4-2.4zM251.4 173.5l2.4 2.4-2.4 2.4-2.4-2.4zM226.0 189.6l2.4 2.4-2.4 2.4-2.4-2.4zM236.4 185.7l2.4 2.4-2.4 2.4-2.4-2.4z"/><path d="M248.1 169.0l2.4 2.4-2.4 2.4-2.4-2.4zM258.4 215.1l2.4 2.4-2.4 2.4-2.4-2.4zM246.0 206.0l2.4 2.4-2.4 2.4-2.4-2.4zM260.0 203.6l2.4 2.4-2.4 2.4-2.4-2.4zM228.6 191.5l2.4 2.4-2.4 2.4-2.4-2.4zM218.7 191.6l2.4 2.4-2.4 2.4-2.4-2.4z"/><path d="M233.8 187.8l2.4 2.4-2.4 2.4-2.4-2.4zM278.9 202.1l2.4 2.4-2.4 2.4-2.4-2.4zM254.6 173.8l2.4 2.4-2.4 2.4-2.4-2.4zM229.0 190.9l2.4 2.4-2.4 2.4-2.4-2.4zM228.5 223.8l2.4 2.4-2.4 2.4-2.4-2.4zM249.9 185.9l2.4 2.4-2.4 2.4-2.4-2.4z"/><path d="M248.4 186.0l2.4 2.4-2.4 2.4-2.4-2.4zM282.1 195.8l2.4 2.4-2.4 2.4-2.4-2.4zM218.1 191.1l2.4 2.4-2.4 2.4-2.4-2.4zM221.2 206.8l2.4 2.4-2.4 2.4-2.4-2.4zM301.2 196.1l2.4 2.4-2.4 2.4-2.4-2.4zM242.1 195.5l2.4 2.4-2.4 2.4-2.4-2.4z"/><path d="M243.8 204.8l2.4 2.4-2.4 2.4-2.4-2.4zM257.2 223.7l2.4 2.4-2.4 2.4-2.4-2.4zM229.1 224.2l2.4 2.4-2.4 2.4-2.4-2.4zM229.9 197.3l2.4 2.4-2.4 2.4-2.4-2.4zM285.1 203.0l2.4 2.4-2.4 2.4-2.4-2.4zM259.6 202.8l2.4 2.4-2.4 2.4-2.4-2.4z"/><path d="M274.5 186.2l2.4 2.4-2.4 2.4-2.4-2.4zM233.2 211.2l2.4 2.4-2.4 2.4-2.4-2.4zM250.0 178.7l2.4 2.4-2.4 2.4-2.4-2.4zM246.0 157.9l2.4 2.4-2.4 2.4-2.4-2.4zM235.3 167.0l2.4 2.4-2.4 2.4-2.4-2.4zM227.6 172.9l2.4 2.4-2.4 2.4-2.4-2.4z"/><path d="M264.1 176.3l2.4 2.4-2.4 2.4-2.4-2.4zM271.1 199.5l2.4 2.4-2.4 2.4-2.4-2.4zM248.9 225.5l2.4 2.4-2.4 2.4-2.4-2.4zM216.4 204.8l2.4 2.4-2.4 2.4-2.4-2.4zM242.8 192.2l2.4 2.4-2.4 2.4-2.4-2.4zM262.4 180.2l2.4 2.4-2.4 2.4-2.4-2.4z"/><path d="M232.3 200.9l2.4 2.4-2.4 2.4-2.4-2.4zM247.4 220.2l2.4 2.4-2.4 2.4-2.4-2.4zM258.3 176.7l2.4 2.4-2.4 2.4-2.4-2.4zM259.6 215.2l2.4 2.4-2.4 2.4-2.4-2.4zM237.2 163.8l2.4 2.4-2.4 2.4-2.4-2.4zM228.0 178.5l2.4 2.4-2.4 2.4-2.4-2.4z"/><path d="M229.4 225.0l2.4 2.4-2.4 2.4-2.4-2.4zM322.8 197.0l2.4 2.4-2.4 2.4-2.4-2.4zM252.8 208.6l2.4 2.4-2.4 2.4-2.4-2.4zM295.9 198.1l2.4 2.4-2.4 2.4-2.4-2.4zM229.1 196.5l2.4 2.4-2.4 2.4-2.4-2.4zM285.2 191.2l2.4 2.4-2.4 2.4-2.4-2.4z"/><path d="M230.1 193.3l2.4 2.4-2.4 2.4-2.4-2.4zM231.3 189.4l2.4 2.4-2.4 2.4-2.4-2.4zM254.2 229.9l2.4 2.4-2.4 2.4-2.4-2.4zM244.3 179.7l2.4 2.4-2.4 2.4-2.4-2.4zM258.9 223.7l2.4 2.4-2.4 2.4-2.4-2.4zM296.5 195.3l2.4 2.4-2.4 2.4-2.4-2.4z"/><path d="M234.5 225.6l2.4 2.4-2.4 2.4-2.4-2.4zM274.8 198.7l2.4 2.4-2.4 2.4-2.4-2.4zM271.0 195.1l2.4 2.4-2.4 2.4-2.4-2.4zM217.7 201.1l2.4 2.4-2.4 2.4-2.4-2.4zM237.0 202.8l2.4 2.4-2.4 2.4-2.4-2.4zM257.7 212.5l2.4 2.4-2.4 2.4-2.4-2.4z"/><path d="M246.2 205.9l2.4 2.4-2.4 2.4-2.4-2.4zM262.7 210.8l2.4 2.4-2.4 2.4-2.4-2.4zM254.8 170.1l2.4 2.4-2.4 2.4-2.4-2.4zM232.4 166.7l2.4 2.4-2.4 2.4-2.4-2.4zM267.8 204.3l2.4 2.4-2.4 2.4-2.4-2.4zM225.6 212.7l2.4 2.4-2.4 2.4-2.4-2.4z"/><path d="M272.4 209.2l2.4 2.4-2.4 2.4-2.4-2.4zM231.2 212.4l2.4 2.4-2.4 2.4-2.4-2.4zM272.5 210.5l2.4 2.4-2.4 2.4-2.4-2.4zM243.8 204.3l2.4 2.4-2.4 2.4-2.4-2.4zM238.0 217.8l2.4 2.4-2.4 2.4-2.4-2.4zM219.3 190.0l2.4 2.4-2.4 2.4-2.4-2.4z"/><path d="M235.1 232.2l2.4 2.4-2.4 2.4-2.4-2.4zM268.1 186.5l2.4 2.4-2.4 2.4-2.4-2.4zM231.5 213.0l2.4 2.4-2.4 2.4-2.4-2.4zM257.7 169.4l2.4 2.4-2.4 2.4-2.4-2.4zM240.4 171.4l2.4 2.4-2.4 2.4-2.4-2.4zM304.6 197.6l2.4 2.4-2.4 2.4-2.4-2.4z"/><path d="M232.7 186.6l2.4 2.4-2.4 2.4-2.4-2.4zM305.0 196.5l2.4 2.4-2.4 2.4-2.4-2.4zM244.7 215.7l2.4 2.4-2.4 2.4-2.4-2.4zM252.6 231.5l2.4 2.4-2.4 2.4-2.4-2.4zM258.6 193.3l2.4 2.4-2.4 2.4-2.4-2.4zM236.3 207.1l2.4 2.4-2.4 2.4-2.4-2.4z"/><path d="M279.4 192.8l2.4 2.4-2.4 2.4-2.4-2.4zM239.8 185.5l2.4 2.4-2.4 2.4-2.4-2.4zM300.7 196.7l2.4 2.4-2.4 2.4-2.4-2.4zM237.6 225.7l2.4 2.4-2.4 2.4-2.4-2.4zM256.0 203.0l2.4 2.4-2.4 2.4-2.4-2.4zM255.1 216.9l2.4 2.4-2.4 2.4-2.4-2.4z"/><path d="M234.0 205.8l2.4 2.4-2.4 2.4-2.4-2.4zM264.5 188.9l2.4 2.4-2.4 2.4-2.4-2.4zM227.1 185.3l2.4 2.4-2.4 2.4-2.4-2.4zM246.0 177.9l2.4 2.4-2.4 2.4-2.4-2.4zM276.8 196.8l2.4 2.4-2.4 2.4-2.4-2.4zM243.0 160.8l2.4 2.4-2.4 2.4-2.4-2.4z"/><path d="M276.3 203.6l2.4 2.4-2.4 2.4-2.4-2.4zM260.1 219.2l2.4 2.4-2.4 2.4-2.4-2.4zM244.8 226.1l2.4 2.4-2.4 2.4-2.4-2.4zM252.8 208.6l2.4 2.4-2.4 2.4-2.4-2.4zM222.7 179.0l2.4 2.4-2.4 2.4-2.4-2.4zM235.1 198.6l2.4 2.4-2.4 2.4-2.4-2.4z"/><path d="M246.9 185.4l2.4 2.4-2.4 2.4-2.4-2.4zM247.1 220.3l2.4 2.4-2.4 2.4-2.4-2.4zM268.0 185.2l2.4 2.4-2.4 2.4-2.4-2.4zM260.6 189.9l2.4 2.4-2.4 2.4-2.4-2.4zM270.2 190.4l2.4 2.4-2.4 2.4-2.4-2.4zM318.4 196.9l2.4 2.4-2.4 2.4-2.4-2.4z"/><path d="M249.2 175.5l2.4 2.4-2.4 2.4-2.4-2.4zM265.3 191.9l2.4 2.4-2.4 2.4-2.4-2.4zM272.9 205.9l2.4 2.4-2.4 2.4-2.4-2.4zM255.4 199.7l2.4 2.4-2.4 2.4-2.4-2.4zM263.1 212.5l2.4 2.4-2.4 2.4-2.4-2.4zM284.0 192.9l2.4 2.4-2.4 2.4-2.4-2.4z"/><path d="M257.7 226.0l2.4 2.4-2.4 2.4-2.4-2.4zM271.8 195.9l2.4 2.4-2.4 2.4-2.4-2.4zM250.0 187.0l2.4 2.4-2.4 2.4-2.4-2.4zM244.5 208.5l2.4 2.4-2.4 2.4-2.4-2.4zM264.0 217.1l2.4 2.4-2.4 2.4-2.4-2.4zM234.4 230.7l2.4 2.4-2.4 2.4-2.4-2.4z"/><path d="M318.3 196.7l2.4 2.4-2.4 2.4-2.4-2.4zM267.8 182.4l2.4 2.4-2.4 2.4-2.4-2.4zM258.9 214.1l2.4 2.4-2.4 2.4-2.4-2.4zM242.5 213.3l2.4 2.4-2.4 2.4-2.4-2.4zM307.6 197.3l2.4 2.4-2.4 2.4-2.4-2.4zM235.5 172.7l2.4 2.4-2.4 2.4-2.4-2.4z"/><path d="M246.6 196.6l2.4 2.4-2.4 2.4-2.4-2.4zM222.1 212.0l2.4 2.4-2.4 2.4-2.4-2.4zM214.4 195.0l2.4 2.4-2.4 2.4-2.4-2.4zM244.0 201.1l2.4 2.4-2.4 2.4-2.4-2.4zM283.7 197.3l2.4 2.4-2.4 2.4-2.4-2.4zM249.4 226.9l2.4 2.4-2.4 2.4-2.4-2.4z"/><path d="M278.4 202.3l2.4 2.4-2.4 2.4-2.4-2.4zM241.6 173.7l2.4 2.4-2.4 2.4-2.4-2.4zM227.9 183.9l2.4 2.4-2.4 2.4-2.4-2.4zM228.7 214.4l2.4 2.4-2.4 2.4-2.4-2.4zM215.6 194.1l2.4 2.4-2.4 2.4-2.4-2.4zM238.0 165.0l2.4 2.4-2.4 2.4-2.4-2.4z"/><path d="M237.5 210.1l2.4 2.4-2.4 2.4-2.4-2.4zM276.9 191.2l2.4 2.4-2.4 2.4-2.4-2.4zM289.7 200.2l2.4 2.4-2.4 2.4-2.4-2.4zM235.1 188.5l2.4 2.4-2.4 2.4-2.4-2.4zM230.9 166.9l2.4 2.4-2.4 2.4-2.4-2.4zM262.1 195.6l2.4 2.4-2.4 2.4-2.4-2.4z"/><path d="M269.3 211.6l2.4 2.4-2.4 2.4-2.4-2.4zM253.1 204.9l2.4 2.4-2.4 2.4-2.4-2.4zM228.3 171.8l2.4 2.4-2.4 2.4-2.4-2.4zM225.4 220.1l2.4 2.4-2.4 2.4-2.4-2.4zM254.9 207.3l2.4 2.4-2.4 2.4-2.4-2.4zM246.4 225.9l2.4 2.4-2.4 2.4-2.4-2.4z"/><path d="M260.5 175.5l2.4 2.4-2.4 2.4-2.4-2.4zM247.8 162.4l2.4 2.4-2.4 2.4-2.4-2.4zM238.6 209.4l2.4 2.4-2.4 2.4-2.4-2.4zM234.3 193.4l2.4 2.4-2.4 2.4-2.4-2.4zM293.1 194.2l2.4 2.4-2.4 2.4-2.4-2.4zM275.8 207.3l2.4 2.4-2.4 2.4-2.4-2.4z"/><path d="M262.5 172.1l2.4 2.4-2.4 2.4-2.4-2.4zM273.0 186.5l2.4 2.4-2.4 2.4-2.4-2.4zM324.5 196.9l2.4 2.4-2.4 2.4-2.4-2.4zM234.0 201.3l2.4 2.4-2.4 2.4-2.4-2.4zM238.7 185.7l2.4 2.4-2.4 2.4-2.4-2.4zM263.0 197.4l2.4 2.4-2.4 2.4-2.4-2.4z"/><path d="M235.4 184.3l2.4 2.4-2.4 2.4-2.4-2.4zM270.7 187.6l2.4 2.4-2.4 2.4-2.4-2.4zM245.6 224.6l2.4 2.4-2.4 2.4-2.4-2.4zM233.2 167.9l2.4 2.4-2.4 2.4-2.4-2.4zM245.4 158.6l2.4 2.4-2.4 2.4-2.4-2.4zM250.3 159.6l2.4 2.4-2.4 2.4-2.4-2.4z"/><path d="M251.8 184.9l2.4 2.4-2.4 2.4-2.4-2.4zM248.0 228.1l2.4 2.4-2.4 2.4-2.4-2.4zM247.4 225.4l2.4 2.4-2.4 2.4-2.4-2.4zM259.5 181.8l2.4 2.4-2.4 2.4-2.4-2.4zM238.8 235.7l2.4 2.4-2.4 2.4-2.4-2.4zM226.4 172.3l2.4 2.4-2.4 2.4-2.4-2.4z"/><path d="M218.8 185.3l2.4 2.4-2.4 2.4-2.4-2.4zM241.0 232.9l2.4 2.4-2.4 2.4-2.4-2.4zM266.4 207.4l2.4 2.4-2.4 2.4-2.4-2.4zM268.3 185.8l2.4 2.4-2.4 2.4-2.4-2.4zM227.7 197.2l2.4 2.4-2.4 2.4-2.4-2.4zM262.1 195.0l2.4 2.4-2.4 2.4-2.4-2.4z"/><path d="M246.6 225.1l2.4 2.4-2.4 2.4-2.4-2.4zM219.9 204.1l2.4 2.4-2.4 2.4-2.4-2.4zM256.9 179.1l2.4 2.4-2.4 2.4-2.4-2.4zM247.9 231.1l2.4 2.4-2.4 2.4-2.4-2.4zM248.7 226.4l2.4 2.4-2.4 2.4-2.4-2.4zM248.6 182.7l2.4 2.4-2.4 2.4-2.4-2.4z"/><path d="M265.3 209.2l2.4 2.4-2.4 2.4-2.4-2.4zM285.6 195.2l2.4 2.4-2.4 2.4-2.4-2.4zM303.4 196.9l2.4 2.4-2.4 2.4-2.4-2.4zM245.6 161.8l2.4 2.4-2.4 2.4-2.4-2.4zM280.7 196.9l2.4 2.4-2.4 2.4-2.4-2.4zM241.6 176.4l2.4 2.4-2.4 2.4-2.4-2.4z"/><path d="M227.5 190.7l2.4 2.4-2.4 2.4-2.4-2.4zM223.2 214.3l2.4 2.4-2.4 2.4-2.4-2.4zM247.8 179.0l2.4 2.4-2.4 2.4-2.4-2.4zM238.6 201.9l2.4 2.4-2.4 2.4-2.4-2.4zM273.7 187.0l2.4 2.4-2.4 2.4-2.4-2.4zM318.6 196.8l2.4 2.4-2.4 2.4-2.4-2.4z"/><path d="M260.8 196.3l2.4 2.4-2.4 2.4-2.4-2.4zM221.6 199.4l2.4 2.4-2.4 2.4-2.4-2.4zM238.1 159.4l2.4 2.4-2.4 2.4-2.4-2.4zM243.7 211.6l2.4 2.4-2.4 2.4-2.4-2.4zM260.8 182.1l2.4 2.4-2.4 2.4-2.4-2.4zM246.5 179.6l2.4 2.4-2.4 2.4-2.4-2.4z"/><path d="M268.6 193.3l2.4 2.4-2.4 2.4-2.4-2.4zM257.9 207.0l2.4 2.4-2.4 2.4-2.4-2.4zM254.6 163.5l2.4 2.4-2.4 2.4-2.4-2.4zM265.8 197.8l2.4 2.4-2.4 2.4-2.4-2.4zM218.2 188.5l2.4 2.4-2.4 2.4-2.4-2.4zM240.2 195.6l2.4 2.4-2.4 2.4-2.4-2.4z"/><path d="M250.3 217.1l2.4 2.4-2.4 2.4-2.4-2.4zM270.7 185.2l2.4 2.4-2.4 2.4-2.4-2.4zM251.8 175.3l2.4 2.4-2.4 2.4-2.4-2.4zM287.0 202.5l2.4 2.4-2.4 2.4-2.4-2.4zM237.1 169.2l2.4 2.4-2.4 2.4-2.4-2.4zM217.2 196.1l2.4 2.4-2.4 2.4-2.4-2.4z"/><path d="M226.5 173.6l2.4 2.4-2.4 2.4-2.4-2.4zM235.1 187.1l2.4 2.4-2.4 2.4-2.4-2.4zM259.3 214.7l2.4 2.4-2.4 2.4-2.4-2.4zM238.5 215.7l2.4 2.4-2.4 2.4-2.4-2.4zM243.6 166.0l2.4 2.4-2.4 2.4-2.4-2.4zM272.3 192.6l2.4 2.4-2.4 2.4-2.4-2.4z"/><path d="M271.0 186.8l2.4 2.4-2.4 2.4-2.4-2.4zM315.4 196.8l2.4 2.4-2.4 2.4-2.4-2.4zM228.4 193.7l2.4 2.4-2.4 2.4-2.4-2.4zM232.9 215.9l2.4 2.4-2.4 2.4-2.4-2.4zM223.2 183.7l2.4 2.4-2.4 2.4-2.4-2.4zM241.8 180.2l2.4 2.4-2.4 2.4-2.4-2.4z"/><path d="M252.3 231.2l2.4 2.4-2.4 2.4-2.4-2.4zM295.0 194.6l2.4 2.4-2.4 2.4-2.4-2.4zM244.6 235.0l2.4 2.4-2.4 2.4-2.4-2.4zM220.3 200.3l2.4 2.4-2.4 2.4-2.4-2.4zM226.2 214.8l2.4 2.4-2.4 2.4-2.4-2.4zM246.2 231.0l2.4 2.4-2.4 2.4-2.4-2.4z"/><path d="M250.3 226.4l2.4 2.4-2.4 2.4-2.4-2.4zM252.9 185.8l2.4 2.4-2.4 2.4-2.4-2.4zM236.9 229.0l2.4 2.4-2.4 2.4-2.4-2.4zM320.4 197.3l2.4 2.4-2.4 2.4-2.4-2.4zM255.7 182.8l2.4 2.4-2.4 2.4-2.4-2.4zM268.2 198.4l2.4 2.4-2.4 2.4-2.4-2.4z"/><path d="M289.3 193.3l2.4 2.4-2.4 2.4-2.4-2.4zM278.8 205.5l2.4 2.4-2.4 2.4-2.4-2.4zM236.7 231.6l2.4 2.4-2.4 2.4-2.4-2.4zM251.5 172.6l2.4 2.4-2.4 2.4-2.4-2.4zM262.4 196.0l2.4 2.4-2.4 2.4-2.4-2.4zM258.2 212.2l2.4 2.4-2.4 2.4-2.4-2.4z"/><path d="M284.0 196.6l2.4 2.4-2.4 2.4-2.4-2.4zM313.2 196.3l2.4 2.4-2.4 2.4-2.4-2.4zM249.6 232.8l2.4 2.4-2.4 2.4-2.4-2.4zM246.1 221.1l2.4 2.4-2.4 2.4-2.4-2.4zM260.1 196.7l2.4 2.4-2.4 2.4-2.4-2.4zM263.5 220.8l2.4 2.4-2.4 2.4-2.4-2.4z"/><path d="M232.6 226.0l2.4 2.4-2.4 2.4-2.4-2.4zM244.4 182.8l2.4 2.4-2.4 2.4-2.4-2.4zM233.6 208.5l2.4 2.4-2.4 2.4-2.4-2.4zM246.9 188.4l2.4 2.4-2.4 2.4-2.4-2.4zM308.1 196.9l2.4 2.4-2.4 2.4-2.4-2.4zM237.1 190.9l2.4 2.4-2.4 2.4-2.4-2.4z"/><path d="M246.9 193.4l2.4 2.4-2.4 2.4-2.4-2.4zM257.0 176.6l2.4 2.4-2.4 2.4-2.4-2.4zM235.1 223.8l2.4 2.4-2.4 2.4-2.4-2.4zM239.2 211.4l2.4 2.4-2.4 2.4-2.4-2.4zM232.6 227.8l2.4 2.4-2.4 2.4-2.4-2.4zM283.8 198.1l2.4 2.4-2.4 2.4-2.4-2.4z"/><path d="M238.4 177.3l2.4 2.4-2.4 2.4-2.4-2.4zM245.4 171.4l2.4 2.4-2.4 2.4-2.4-2.4zM291.6 195.9l2.4 2.4-2.4 2.4-2.4-2.4zM250.3 185.3l2.4 2.4-2.4 2.4-2.4-2.4zM253.6 171.8l2.4 2.4-2.4 2.4-2.4-2.4zM239.1 194.7l2.4 2.4-2.4 2.4-2.4-2.4z"/><path d="M236.8 204.2l2.4 2.4-2.4 2.4-2.4-2.4zM238.4 175.6l2.4 2.4-2.4 2.4-2.4-2.4zM251.1 174.4l2.4 2.4-2.4 2.4-2.4-2.4zM250.7 199.6l2.4 2.4-2.4 2.4-2.4-2.4zM258.1 171.5l2.4 2.4-2.4 2.4-2.4-2.4zM254.2 196.0l2.4 2.4-2.4 2.4-2.4-2.4z"/><path d="M267.7 204.5l2.4 2.4-2.4 2.4-2.4-2.4zM269.8 204.9l2.4 2.4-2.4 2.4-2.4-2.4zM234.9 198.7l2.4 2.4-2.4 2.4-2.4-2.4zM245.9 184.8l2.4 2.4-2.4 2.4-2.4-2.4zM249.7 210.2l2.4 2.4-2.4 2.4-2.4-2.4zM236.2 197.9l2.4 2.4-2.4 2.4-2.4-2.4z"/><path d="M231.5 202.3l2.4 2.4-2.4 2.4-2.4-2.4zM260.9 173.6l2.4 2.4-2.4 2.4-2.4-2.4zM237.5 186.5l2.4 2.4-2.4 2.4-2.4-2.4zM288.3 194.3l2.4 2.4-2.4 2.4-2.4-2.4zM262.7 179.0l2.4 2.4-2.4 2.4-2.4-2.4zM260.6 182.1l2.4 2.4-2.4 2.4-2.4-2.4z"/><path d="M251.7 217.2l2.4 2.4-2.4 2.4-2.4-2.4zM247.4 209.3l2.4 2.4-2.4 2.4-2.4-2.4zM225.0 197.3l2.4 2.4-2.4 2.4-2.4-2.4zM231.3 217.2l2.4 2.4-2.4 2.4-2.4-2.4zM233.0 201.2l2.4 2.4-2.4 2.4-2.4-2.4zM267.9 197.0l2.4 2.4-2.4 2.4-2.4-2.4z"/><path d="M219.2 198.6l2.4 2.4-2.4 2.4-2.4-2.4zM263.1 199.1l2.4 2.4-2.4 2.4-2.4-2.4zM259.3 221.8l2.4 2.4-2.4 2.4-2.4-2.4zM287.3 191.6l2.4 2.4-2.4 2.4-2.4-2.4zM236.9 233.1l2.4 2.4-2.4 2.4-2.4-2.4zM287.4 195.8l2.4 2.4-2.4 2.4-2.4-2.4z"/><path d="M243.7 205.6l2.4 2.4-2.4 2.4-2.4-2.4zM250.4 218.0l2.4 2.4-2.4 2.4-2.4-2.4zM246.3 177.2l2.4 2.4-2.4 2.4-2.4-2.4zM237.3 222.1l2.4 2.4-2.4 2.4-2.4-2.4zM235.2 221.9l2.4 2.4-2.4 2.4-2.4-2.4zM259.5 174.2l2.4 2.4-2.4 2.4-2.4-2.4z"/><path d="M227.2 219.0l2.4 2.4-2.4 2.4-2.4-2.4zM253.4 193.7l2.4 2.4-2.4 2.4-2.4-2.4zM290.5 200.5l2.4 2.4-2.4 2.4-2.4-2.4zM243.6 226.8l2.4 2.4-2.4 2.4-2.4-2.4zM214.3 192.1l2.4 2.4-2.4 2.4-2.4-2.4zM233.0 195.4l2.4 2.4-2.4 2.4-2.4-2.4z"/><path d="M257.3 170.4l2.4 2.4-2.4 2.4-2.4-2.4zM255.4 220.9l2.4 2.4-2.4 2.4-2.4-2.4zM275.2 194.1l2.4 2.4-2.4 2.4-2.4-2.4zM227.3 170.8l2.4 2.4-2.4 2.4-2.4-2.4zM241.5 222.7l2.4 2.4-2.4 2.4-2.4-2.4zM229.3 210.9l2.4 2.4-2.4 2.4-2.4-2.4z"/><path d="M245.1 236.1l2.4 2.4-2.4 2.4-2.4-2.4zM242.1 193.5l2.4 2.4-2.4 2.4-2.4-2.4zM228.3 169.9l2.4 2.4-2.4 2.4-2.4-2.4zM241.0 163.4l2.4 2.4-2.4 2.4-2.4-2.4zM249.7 208.4l2.4 2.4-2.4 2.4-2.4-2.4zM253.8 202.6l2.4 2.4-2.4 2.4-2.4-2.4z"/><path d="M237.7 209.4l2.4 2.4-2.4 2.4-2.4-2.4zM221.8 180.7l2.4 2.4-2.4 2.4-2.4-2.4zM250.3 212.8l2.4 2.4-2.4 2.4-2.4-2.4zM237.1 190.2l2.4 2.4-2.4 2.4-2.4-2.4zM216.1 201.8l2.4 2.4-2.4 2.4-2.4-2.4zM226.7 202.2l2.4 2.4-2.4 2.4-2.4-2.4z"/><path d="M244.3 216.5l2.4 2.4-2.4 2.4-2.4-2.4zM229.9 222.0l2.4 2.4-2.4 2.4-2.4-2.4zM236.3 196.6l2.4 2.4-2.4 2.4-2.4-2.4zM239.1 165.8l2.4 2.4-2.4 2.4-2.4-2.4zM251.2 181.3l2.4 2.4-2.4 2.4-2.4-2.4zM268.7 200.7l2.4 2.4-2.4 2.4-2.4-2.4z"/><path d="M234.4 188.9l2.4 2.4-2.4 2.4-2.4-2.4zM271.0 206.3l2.4 2.4-2.4 2.4-2.4-2.4zM253.9 191.6l2.4 2.4-2.4 2.4-2.4-2.4zM234.1 192.3l2.4 2.4-2.4 2.4-2.4-2.4zM241.1 231.5l2.4 2.4-2.4 2.4-2.4-2.4zM246.1 192.5l2.4 2.4-2.4 2.4-2.4-2.4z"/><path d="M262.1 179.6l2.4 2.4-2.4 2.4-2.4-2.4zM246.2 193.1l2.4 2.4-2.4 2.4-2.4-2.4zM243.0 231.6l2.4 2.4-2.4 2.4-2.4-2.4zM274.0 204.5l2.4 2.4-2.4 2.4-2.4-2.4zM257.3 182.3l2.4 2.4-2.4 2.4-2.4-2.4zM240.1 165.6l2.4 2.4-2.4 2.4-2.4-2.4z"/><path d="M276.0 200.6l2.4 2.4-2.4 2.4-2.4-2.4zM275.2 199.2l2.4 2.4-2.4 2.4-2.4-2.4zM288.4 193.2l2.4 2.4-2.4 2.4-2.4-2.4zM254.7 208.5l2.4 2.4-2.4 2.4-2.4-2.4zM253.8 216.7l2.4 2.4-2.4 2.4-2.4-2.4zM317.5 196.9l2.4 2.4-2.4 2.4-2.4-2.4z"/><path d="M286.2 195.0l2.4 2.4-2.4 2.4-2.4-2.4zM269.4 199.4l2.4 2.4-2.4 2.4-2.4-2.4zM271.0 190.8l2.4 2.4-2.4 2.4-2.4-2.4zM257.7 177.7l2.4 2.4-2.4 2.4-2.4-2.4zM249.7 166.8l2.4 2.4-2.4 2.4-2.4-2.4zM224.8 209.6l2.4 2.4-2.4 2.4-2.4-2.4z"/><path d="M242.3 206.7l2.4 2.4-2.4 2.4-2.4-2.4zM260.2 212.9l2.4 2.4-2.4 2.4-2.4-2.4zM271.8 197.7l2.4 2.4-2.4 2.4-2.4-2.4zM247.3 209.6l2.4 2.4-2.4 2.4-2.4-2.4zM242.2 220.2l2.4 2.4-2.4 2.4-2.4-2.4zM264.7 213.2l2.4 2.4-2.4 2.4-2.4-2.4z"/><path d="M299.6 198.2l2.4 2.4-2.4 2.4-2.4-2.4zM258.4 192.0l2.4 2.4-2.4 2.4-2.4-2.4zM240.2 209.0l2.4 2.4-2.4 2.4-2.4-2.4zM256.6 229.2l2.4 2.4-2.4 2.4-2.4-2.4zM241.6 215.9l2.4 2.4-2.4 2.4-2.4-2.4zM244.8 187.9l2.4 2.4-2.4 2.4-2.4-2.4z"/><path d="M215.2 201.9l2.4 2.4-2.4 2.4-2.4-2.4zM272.4 195.4l2.4 2.4-2.4 2.4-2.4-2.4zM225.9 215.5l2.4 2.4-2.4 2.4-2.4-2.4zM252.9 197.7l2.4 2.4-2.4 2.4-2.4-2.4zM244.1 174.8l2.4 2.4-2.4 2.4-2.4-2.4zM224.8 211.6l2.4 2.4-2.4 2.4-2.4-2.4z"/><path d="M239.2 216.0l2.4 2.4-2.4 2.4-2.4-2.4zM274.4 203.4l2.4 2.4-2.4 2.4-2.4-2.4zM240.9 172.6l2.4 2.4-2.4 2.4-2.4-2.4zM246.4 165.8l2.4 2.4-2.4 2.4-2.4-2.4zM218.7 184.4l2.4 2.4-2.4 2.4-2.4-2.4zM250.7 208.4l2.4 2.4-2.4 2.4-2.4-2.4z"/><path d="M254.0 227.0l2.4 2.4-2.4 2.4-2.4-2.4zM277.9 191.5l2.4 2.4-2.4 2.4-2.4-2.4zM310.2 197.0l2.4 2.4-2.4 2.4-2.4-2.4zM235.3 197.7l2.4 2.4-2.4 2.4-2.4-2.4zM259.0 223.3l2.4 2.4-2.4 2.4-2.4-2.4zM234.4 219.2l2.4 2.4-2.4 2.4-2.4-2.4z"/><path d="M253.5 217.7l2.4 2.4-2.4 2.4-2.4-2.4zM235.8 193.0l2.4 2.4-2.4 2.4-2.4-2.4zM215.1 195.8l2.4 2.4-2.4 2.4-2.4-2.4zM239.5 160.4l2.4 2.4-2.4 2.4-2.4-2.4zM220.4 206.4l2.4 2.4-2.4 2.4-2.4-2.4zM236.4 232.5l2.4 2.4-2.4 2.4-2.4-2.4z"/><path d="M235.1 204.2l2.4 2.4-2.4 2.4-2.4-2.4zM278.3 205.6l2.4 2.4-2.4 2.4-2.4-2.4zM276.9 189.4l2.4 2.4-2.4 2.4-2.4-2.4zM264.9 214.5l2.4 2.4-2.4 2.4-2.4-2.4zM228.6 209.2l2.4 2.4-2.4 2.4-2.4-2.4zM223.1 202.9l2.4 2.4-2.4 2.4-2.4-2.4z"/><path d="M234.9 161.9l2.4 2.4-2.4 2.4-2.4-2.4zM239.7 207.0l2.4 2.4-2.4 2.4-2.4-2.4zM254.1 194.9l2.4 2.4-2.4 2.4-2.4-2.4zM221.8 201.0l2.4 2.4-2.4 2.4-2.4-2.4zM234.3 176.2l2.4 2.4-2.4 2.4-2.4-2.4zM271.2 206.2l2.4 2.4-2.4 2.4-2.4-2.4z"/><path d="M292.2 198.2l2.4 2.4-2.4 2.4-2.4-2.4zM258.7 220.7l2.4 2.4-2.4 2.4-2.4-2.4zM217.7 204.0l2.4 2.4-2.4 2.4-2.4-2.4zM225.1 194.7l2.4 2.4-2.4 2.4-2.4-2.4zM292.2 195.8l2.4 2.4-2.4 2.4-2.4-2.4zM254.4 209.2l2.4 2.4-2.4 2.4-2.4-2.4z"/><path d="M225.2 212.6l2.4 2.4-2.4 2.4-2.4-2.4zM285.0 199.7l2.4 2.4-2.4 2.4-2.4-2.4zM241.2 227.3l2.4 2.4-2.4 2.4-2.4-2.4zM269.8 200.6l2.4 2.4-2.4 2.4-2.4-2.4zM243.3 215.8l2.4 2.4-2.4 2.4-2.4-2.4zM227.3 216.7l2.4 2.4-2.4 2.4-2.4-2.4z"/><path d="M245.5 167.4l2.4 2.4-2.4 2.4-2.4-2.4zM282.7 201.2l2.4 2.4-2.4 2.4-2.4-2.4zM234.8 231.6l2.4 2.4-2.4 2.4-2.4-2.4zM263.3 220.5l2.4 2.4-2.4 2.4-2.4-2.4zM266.6 213.7l2.4 2.4-2.4 2.4-2.4-2.4zM230.5 210.7l2.4 2.4-2.4 2.4-2.4-2.4z"/><path d="M261.2 183.9l2.4 2.4-2.4 2.4-2.4-2.4zM225.6 175.3l2.4 2.4-2.4 2.4-2.4-2.4zM234.8 217.9l2.4 2.4-2.4 2.4-2.4-2.4zM232.9 193.3l2.4 2.4-2.4 2.4-2.4-2.4zM262.8 202.8l2.4 2.4-2.4 2.4-2.4-2.4zM241.2 196.8l2.4 2.4-2.4 2.4-2.4-2.4z"/><path d="M250.9 184.1l2.4 2.4-2.4 2.4-2.4-2.4zM236.9 194.9l2.4 2.4-2.4 2.4-2.4-2.4zM240.1 236.3l2.4 2.4-2.4 2.4-2.4-2.4zM278.4 193.7l2.4 2.4-2.4 2.4-2.4-2.4zM247.9 180.2l2.4 2.4-2.4 2.4-2.4-2.4zM225.1 201.8l2.4 2.4-2.4 2.4-2.4-2.4z"/><path d="M238.1 157.1l2.4 2.4-2.4 2.4-2.4-2.4zM219.8 198.8l2.4 2.4-2.4 2.4-2.4-2.4zM236.8 160.9l2.4 2.4-2.4 2.4-2.4-2.4zM235.0 200.9l2.4 2.4-2.4 2.4-2.4-2.4z"/></g><g fill="#addd9f" stroke="#1e2a1c" stroke-width="0.65" stroke-linejoin="round"><path d="M402.2 197.9l2.4 3.9h-4.8zM409.4 210.7l2.4 3.9h-4.8zM407.5 225.0l2.4 3.9h-4.8zM398.6 189.8l2.4 3.9h-4.8zM422.0 214.5l2.4 3.9h-4.8zM383.2 188.4l2.4 3.9h-4.8z"/><path d="M438.8 189.6l2.4 3.9h-4.8zM408.0 225.6l2.4 3.9h-4.8zM405.3 199.4l2.4 3.9h-4.8zM425.9 216.4l2.4 3.9h-4.8zM411.0 208.8l2.4 3.9h-4.8zM409.8 217.5l2.4 3.9h-4.8z"/><path d="M410.3 163.7l2.4 3.9h-4.8zM392.7 209.7l2.4 3.9h-4.8zM439.0 201.0l2.4 3.9h-4.8zM411.1 198.4l2.4 3.9h-4.8zM405.9 175.5l2.4 3.9h-4.8zM413.5 181.5l2.4 3.9h-4.8z"/><path d="M398.9 168.2l2.4 3.9h-4.8zM447.5 201.9l2.4 3.9h-4.8zM444.2 190.9l2.4 3.9h-4.8zM417.3 193.0l2.4 3.9h-4.8zM424.9 206.3l2.4 3.9h-4.8zM411.4 162.9l2.4 3.9h-4.8z"/><path d="M403.9 208.7l2.4 3.9h-4.8zM425.8 189.1l2.4 3.9h-4.8zM420.5 179.8l2.4 3.9h-4.8zM423.5 198.0l2.4 3.9h-4.8zM440.7 196.1l2.4 3.9h-4.8zM459.2 199.0l2.4 3.9h-4.8z"/><path d="M431.3 203.7l2.4 3.9h-4.8zM381.9 182.0l2.4 3.9h-4.8zM403.4 167.6l2.4 3.9h-4.8zM377.4 193.0l2.4 3.9h-4.8zM417.8 222.2l2.4 3.9h-4.8zM406.5 224.0l2.4 3.9h-4.8z"/><path d="M424.5 206.7l2.4 3.9h-4.8zM427.7 198.8l2.4 3.9h-4.8zM398.1 162.0l2.4 3.9h-4.8zM407.3 229.4l2.4 3.9h-4.8zM434.3 195.2l2.4 3.9h-4.8zM469.5 197.5l2.4 3.9h-4.8z"/><path d="M412.6 221.1l2.4 3.9h-4.8zM406.5 219.6l2.4 3.9h-4.8zM432.2 190.1l2.4 3.9h-4.8zM434.2 199.4l2.4 3.9h-4.8zM397.1 232.4l2.4 3.9h-4.8zM412.0 210.2l2.4 3.9h-4.8z"/><path d="M392.0 178.9l2.4 3.9h-4.8zM382.5 185.3l2.4 3.9h-4.8zM403.8 210.3l2.4 3.9h-4.8zM422.6 207.6l2.4 3.9h-4.8zM435.0 190.7l2.4 3.9h-4.8zM410.4 208.3l2.4 3.9h-4.8z"/><path d="M411.3 208.3l2.4 3.9h-4.8zM456.3 198.3l2.4 3.9h-4.8zM414.9 228.1l2.4 3.9h-4.8zM387.7 216.7l2.4 3.9h-4.8zM415.8 226.8l2.4 3.9h-4.8zM446.9 191.3l2.4 3.9h-4.8z"/><path d="M431.7 184.3l2.4 3.9h-4.8zM399.0 174.0l2.4 3.9h-4.8zM410.9 230.4l2.4 3.9h-4.8zM415.3 214.0l2.4 3.9h-4.8zM428.2 201.6l2.4 3.9h-4.8zM456.4 199.5l2.4 3.9h-4.8z"/><path d="M394.0 201.0l2.4 3.9h-4.8zM403.5 229.4l2.4 3.9h-4.8zM389.6 219.7l2.4 3.9h-4.8zM441.0 204.1l2.4 3.9h-4.8zM394.7 180.7l2.4 3.9h-4.8zM456.1 197.1l2.4 3.9h-4.8z"/><path d="M394.6 177.9l2.4 3.9h-4.8zM421.7 173.9l2.4 3.9h-4.8zM393.6 184.1l2.4 3.9h-4.8zM418.5 223.9l2.4 3.9h-4.8zM385.7 197.9l2.4 3.9h-4.8zM431.0 200.8l2.4 3.9h-4.8z"/><path d="M406.2 223.7l2.4 3.9h-4.8zM420.8 171.1l2.4 3.9h-4.8zM412.6 220.9l2.4 3.9h-4.8zM396.9 173.0l2.4 3.9h-4.8zM430.9 184.8l2.4 3.9h-4.8zM429.0 200.6l2.4 3.9h-4.8z"/><path d="M416.5 223.5l2.4 3.9h-4.8zM446.3 201.9l2.4 3.9h-4.8zM444.3 203.5l2.4 3.9h-4.8zM384.1 188.6l2.4 3.9h-4.8zM420.6 209.0l2.4 3.9h-4.8zM410.2 190.1l2.4 3.9h-4.8z"/><path d="M448.2 200.5l2.4 3.9h-4.8zM399.4 187.7l2.4 3.9h-4.8zM457.3 195.3l2.4 3.9h-4.8zM409.4 185.5l2.4 3.9h-4.8zM415.8 175.5l2.4 3.9h-4.8zM419.8 178.8l2.4 3.9h-4.8z"/><path d="M375.8 194.7l2.4 3.9h-4.8zM404.7 166.4l2.4 3.9h-4.8zM407.7 211.3l2.4 3.9h-4.8zM467.6 197.3l2.4 3.9h-4.8zM409.0 168.4l2.4 3.9h-4.8zM461.6 195.8l2.4 3.9h-4.8z"/><path d="M392.1 180.6l2.4 3.9h-4.8zM436.5 202.9l2.4 3.9h-4.8zM417.4 175.7l2.4 3.9h-4.8zM415.8 190.8l2.4 3.9h-4.8zM460.1 197.0l2.4 3.9h-4.8zM392.5 203.0l2.4 3.9h-4.8z"/><path d="M402.9 174.6l2.4 3.9h-4.8zM383.9 177.6l2.4 3.9h-4.8zM449.2 197.0l2.4 3.9h-4.8zM429.5 185.9l2.4 3.9h-4.8zM439.1 203.3l2.4 3.9h-4.8zM387.9 177.6l2.4 3.9h-4.8z"/><path d="M407.3 178.3l2.4 3.9h-4.8zM407.5 206.7l2.4 3.9h-4.8zM430.1 184.8l2.4 3.9h-4.8zM401.5 207.0l2.4 3.9h-4.8zM398.1 195.0l2.4 3.9h-4.8zM419.6 191.8l2.4 3.9h-4.8z"/><path d="M458.0 198.3l2.4 3.9h-4.8zM404.2 206.8l2.4 3.9h-4.8zM396.1 204.2l2.4 3.9h-4.8zM391.1 194.5l2.4 3.9h-4.8zM404.2 159.2l2.4 3.9h-4.8zM444.7 198.2l2.4 3.9h-4.8z"/><path d="M407.3 190.8l2.4 3.9h-4.8zM394.0 171.1l2.4 3.9h-4.8zM468.7 196.9l2.4 3.9h-4.8zM403.5 235.1l2.4 3.9h-4.8zM380.8 191.0l2.4 3.9h-4.8zM417.8 180.4l2.4 3.9h-4.8z"/><path d="M422.1 206.3l2.4 3.9h-4.8zM434.9 202.9l2.4 3.9h-4.8zM434.2 201.1l2.4 3.9h-4.8zM410.2 183.1l2.4 3.9h-4.8zM391.3 173.3l2.4 3.9h-4.8zM441.4 189.7l2.4 3.9h-4.8z"/><path d="M386.6 209.5l2.4 3.9h-4.8zM418.2 202.8l2.4 3.9h-4.8zM411.1 164.0l2.4 3.9h-4.8zM427.9 203.0l2.4 3.9h-4.8zM422.9 191.8l2.4 3.9h-4.8zM408.7 221.8l2.4 3.9h-4.8z"/><path d="M437.5 188.5l2.4 3.9h-4.8zM428.2 186.1l2.4 3.9h-4.8zM410.8 170.0l2.4 3.9h-4.8zM403.7 212.1l2.4 3.9h-4.8zM436.7 201.8l2.4 3.9h-4.8zM418.3 216.8l2.4 3.9h-4.8z"/><path d="M400.2 231.8l2.4 3.9h-4.8zM419.2 221.8l2.4 3.9h-4.8zM389.4 201.4l2.4 3.9h-4.8zM421.3 191.7l2.4 3.9h-4.8zM433.9 198.6l2.4 3.9h-4.8zM423.7 182.8l2.4 3.9h-4.8z"/><path d="M464.7 195.5l2.4 3.9h-4.8zM375.2 193.8l2.4 3.9h-4.8zM426.3 177.1l2.4 3.9h-4.8zM431.8 207.1l2.4 3.9h-4.8zM404.2 167.4l2.4 3.9h-4.8zM428.1 185.3l2.4 3.9h-4.8z"/><path d="M437.0 203.9l2.4 3.9h-4.8zM469.7 196.9l2.4 3.9h-4.8zM429.5 186.9l2.4 3.9h-4.8zM393.6 228.5l2.4 3.9h-4.8zM413.9 201.7l2.4 3.9h-4.8zM420.2 210.1l2.4 3.9h-4.8z"/><path d="M454.0 194.7l2.4 3.9h-4.8zM424.4 188.2l2.4 3.9h-4.8zM372.7 197.5l2.4 3.9h-4.8zM441.3 194.4l2.4 3.9h-4.8zM416.7 187.5l2.4 3.9h-4.8zM418.0 190.7l2.4 3.9h-4.8z"/><path d="M382.7 193.6l2.4 3.9h-4.8zM387.2 179.7l2.4 3.9h-4.8zM424.5 192.7l2.4 3.9h-4.8zM383.0 186.2l2.4 3.9h-4.8zM402.8 184.0l2.4 3.9h-4.8zM393.4 195.5l2.4 3.9h-4.8z"/><path d="M467.4 196.1l2.4 3.9h-4.8zM412.0 183.1l2.4 3.9h-4.8zM407.9 198.1l2.4 3.9h-4.8zM401.3 231.9l2.4 3.9h-4.8zM457.4 195.2l2.4 3.9h-4.8zM450.8 194.4l2.4 3.9h-4.8z"/><path d="M405.3 169.1l2.4 3.9h-4.8zM415.9 224.6l2.4 3.9h-4.8zM385.7 205.2l2.4 3.9h-4.8zM399.0 205.9l2.4 3.9h-4.8zM388.5 186.7l2.4 3.9h-4.8zM397.9 172.9l2.4 3.9h-4.8z"/><path d="M392.0 204.0l2.4 3.9h-4.8zM429.4 211.0l2.4 3.9h-4.8zM421.1 172.2l2.4 3.9h-4.8zM437.1 187.4l2.4 3.9h-4.8zM421.7 210.2l2.4 3.9h-4.8zM423.8 217.0l2.4 3.9h-4.8z"/><path d="M430.9 182.9l2.4 3.9h-4.8zM423.0 217.7l2.4 3.9h-4.8zM396.7 173.9l2.4 3.9h-4.8zM402.3 181.6l2.4 3.9h-4.8zM414.7 227.3l2.4 3.9h-4.8zM396.9 200.0l2.4 3.9h-4.8z"/><path d="M421.6 211.2l2.4 3.9h-4.8zM428.6 201.9l2.4 3.9h-4.8zM420.4 191.5l2.4 3.9h-4.8zM456.5 196.8l2.4 3.9h-4.8zM418.7 218.6l2.4 3.9h-4.8zM379.0 196.9l2.4 3.9h-4.8z"/><path d="M455.7 198.0l2.4 3.9h-4.8zM393.1 219.4l2.4 3.9h-4.8zM432.0 190.1l2.4 3.9h-4.8zM401.5 218.6l2.4 3.9h-4.8zM404.6 177.1l2.4 3.9h-4.8zM417.7 191.1l2.4 3.9h-4.8z"/><path d="M397.1 161.8l2.4 3.9h-4.8zM400.8 165.0l2.4 3.9h-4.8zM406.8 210.0l2.4 3.9h-4.8zM384.9 208.3l2.4 3.9h-4.8zM418.6 222.7l2.4 3.9h-4.8zM434.5 190.2l2.4 3.9h-4.8z"/><path d="M410.0 192.2l2.4 3.9h-4.8zM388.2 198.4l2.4 3.9h-4.8zM425.2 206.2l2.4 3.9h-4.8zM384.5 183.6l2.4 3.9h-4.8zM392.4 202.3l2.4 3.9h-4.8zM382.8 187.5l2.4 3.9h-4.8z"/><path d="M399.5 227.0l2.4 3.9h-4.8zM427.8 204.0l2.4 3.9h-4.8zM421.3 218.5l2.4 3.9h-4.8zM399.4 201.0l2.4 3.9h-4.8zM433.6 191.8l2.4 3.9h-4.8zM384.9 208.7l2.4 3.9h-4.8z"/><path d="M393.8 191.2l2.4 3.9h-4.8zM408.9 227.3l2.4 3.9h-4.8zM405.7 207.4l2.4 3.9h-4.8zM381.0 205.7l2.4 3.9h-4.8zM402.0 199.1l2.4 3.9h-4.8zM430.9 193.5l2.4 3.9h-4.8z"/><path d="M411.6 226.0l2.4 3.9h-4.8zM399.8 177.9l2.4 3.9h-4.8zM406.1 190.8l2.4 3.9h-4.8zM383.7 198.7l2.4 3.9h-4.8zM423.0 189.6l2.4 3.9h-4.8zM416.0 206.7l2.4 3.9h-4.8z"/><path d="M465.7 197.1l2.4 3.9h-4.8zM413.8 198.7l2.4 3.9h-4.8zM407.5 221.1l2.4 3.9h-4.8zM393.5 181.0l2.4 3.9h-4.8zM399.3 176.0l2.4 3.9h-4.8zM424.0 218.6l2.4 3.9h-4.8z"/><path d="M389.6 196.5l2.4 3.9h-4.8zM375.2 199.7l2.4 3.9h-4.8zM403.8 163.4l2.4 3.9h-4.8zM404.8 193.3l2.4 3.9h-4.8zM385.2 190.9l2.4 3.9h-4.8zM396.5 186.5l2.4 3.9h-4.8z"/><path d="M411.0 214.7l2.4 3.9h-4.8zM414.3 196.3l2.4 3.9h-4.8zM391.3 167.9l2.4 3.9h-4.8zM455.6 196.5l2.4 3.9h-4.8zM406.5 222.5l2.4 3.9h-4.8zM421.8 180.2l2.4 3.9h-4.8z"/><path d="M430.5 183.1l2.4 3.9h-4.8zM418.7 211.9l2.4 3.9h-4.8zM438.2 190.5l2.4 3.9h-4.8zM435.4 190.3l2.4 3.9h-4.8zM423.8 183.1l2.4 3.9h-4.8zM425.5 208.7l2.4 3.9h-4.8z"/><path d="M402.4 206.0l2.4 3.9h-4.8zM421.6 200.1l2.4 3.9h-4.8zM397.0 215.8l2.4 3.9h-4.8zM396.5 202.8l2.4 3.9h-4.8zM397.0 162.1l2.4 3.9h-4.8zM385.5 218.2l2.4 3.9h-4.8z"/><path d="M411.7 191.2l2.4 3.9h-4.8zM408.1 172.8l2.4 3.9h-4.8zM440.2 194.6l2.4 3.9h-4.8zM387.1 173.1l2.4 3.9h-4.8zM440.6 197.2l2.4 3.9h-4.8zM408.0 165.7l2.4 3.9h-4.8z"/><path d="M408.7 212.7l2.4 3.9h-4.8zM407.3 225.0l2.4 3.9h-4.8zM447.1 196.7l2.4 3.9h-4.8zM391.6 191.3l2.4 3.9h-4.8zM412.9 223.3l2.4 3.9h-4.8zM410.2 197.0l2.4 3.9h-4.8z"/><path d="M429.4 210.7l2.4 3.9h-4.8zM410.0 177.1l2.4 3.9h-4.8zM447.8 200.7l2.4 3.9h-4.8zM414.7 166.4l2.4 3.9h-4.8zM410.6 191.7l2.4 3.9h-4.8zM424.4 201.3l2.4 3.9h-4.8z"/><path d="M439.2 204.7l2.4 3.9h-4.8zM398.9 183.4l2.4 3.9h-4.8zM415.7 167.1l2.4 3.9h-4.8zM429.2 188.2l2.4 3.9h-4.8zM378.3 194.0l2.4 3.9h-4.8zM415.8 177.3l2.4 3.9h-4.8z"/><path d="M383.6 192.5l2.4 3.9h-4.8zM419.4 181.4l2.4 3.9h-4.8zM414.0 189.8l2.4 3.9h-4.8zM460.7 198.1l2.4 3.9h-4.8zM426.1 209.5l2.4 3.9h-4.8zM418.4 201.6l2.4 3.9h-4.8z"/><path d="M409.2 215.8l2.4 3.9h-4.8zM449.7 196.0l2.4 3.9h-4.8zM447.3 197.6l2.4 3.9h-4.8zM439.6 200.7l2.4 3.9h-4.8zM434.7 207.5l2.4 3.9h-4.8zM403.9 197.8l2.4 3.9h-4.8z"/><path d="M395.5 229.7l2.4 3.9h-4.8zM380.2 206.6l2.4 3.9h-4.8zM412.9 175.6l2.4 3.9h-4.8zM437.6 187.5l2.4 3.9h-4.8zM397.5 199.6l2.4 3.9h-4.8zM441.6 189.8l2.4 3.9h-4.8z"/><path d="M382.4 186.4l2.4 3.9h-4.8zM420.2 173.8l2.4 3.9h-4.8zM401.2 164.4l2.4 3.9h-4.8zM392.4 182.5l2.4 3.9h-4.8zM416.8 169.0l2.4 3.9h-4.8zM381.7 195.5l2.4 3.9h-4.8z"/><path d="M425.4 198.7l2.4 3.9h-4.8zM393.5 191.6l2.4 3.9h-4.8zM417.2 185.7l2.4 3.9h-4.8zM417.3 197.4l2.4 3.9h-4.8zM405.3 225.7l2.4 3.9h-4.8zM427.5 191.3l2.4 3.9h-4.8z"/><path d="M412.6 186.1l2.4 3.9h-4.8zM445.5 201.4l2.4 3.9h-4.8zM399.6 197.6l2.4 3.9h-4.8zM420.9 175.6l2.4 3.9h-4.8zM381.2 192.9l2.4 3.9h-4.8zM392.5 191.5l2.4 3.9h-4.8z"/><path d="M438.1 197.8l2.4 3.9h-4.8zM401.8 162.5l2.4 3.9h-4.8zM418.4 220.3l2.4 3.9h-4.8zM428.6 199.4l2.4 3.9h-4.8zM415.4 170.4l2.4 3.9h-4.8zM405.1 176.4l2.4 3.9h-4.8z"/><path d="M411.5 173.8l2.4 3.9h-4.8zM405.8 169.9l2.4 3.9h-4.8zM423.0 191.5l2.4 3.9h-4.8zM414.0 196.8l2.4 3.9h-4.8zM410.3 163.3l2.4 3.9h-4.8zM375.7 194.2l2.4 3.9h-4.8z"/><path d="M409.7 205.5l2.4 3.9h-4.8zM424.5 194.5l2.4 3.9h-4.8zM437.9 203.4l2.4 3.9h-4.8zM445.3 195.2l2.4 3.9h-4.8zM427.0 203.8l2.4 3.9h-4.8zM459.1 197.6l2.4 3.9h-4.8z"/><path d="M399.5 229.2l2.4 3.9h-4.8zM407.9 190.5l2.4 3.9h-4.8zM390.3 170.2l2.4 3.9h-4.8zM405.6 167.8l2.4 3.9h-4.8zM429.0 213.1l2.4 3.9h-4.8zM389.9 168.6l2.4 3.9h-4.8z"/><path d="M429.2 183.4l2.4 3.9h-4.8zM404.2 164.9l2.4 3.9h-4.8zM408.3 195.4l2.4 3.9h-4.8zM383.5 193.1l2.4 3.9h-4.8zM397.6 200.2l2.4 3.9h-4.8zM399.9 188.5l2.4 3.9h-4.8z"/><path d="M393.6 224.1l2.4 3.9h-4.8zM379.5 191.2l2.4 3.9h-4.8zM392.2 185.5l2.4 3.9h-4.8zM413.1 200.1l2.4 3.9h-4.8zM378.7 201.1l2.4 3.9h-4.8zM407.2 180.0l2.4 3.9h-4.8z"/><path d="M412.5 215.9l2.4 3.9h-4.8zM392.3 217.2l2.4 3.9h-4.8zM401.4 167.0l2.4 3.9h-4.8zM412.2 182.3l2.4 3.9h-4.8zM426.7 197.2l2.4 3.9h-4.8zM417.7 171.1l2.4 3.9h-4.8z"/><path d="M409.4 233.1l2.4 3.9h-4.8zM381.8 194.6l2.4 3.9h-4.8zM398.5 217.8l2.4 3.9h-4.8zM414.7 191.6l2.4 3.9h-4.8zM445.8 195.2l2.4 3.9h-4.8zM383.4 207.7l2.4 3.9h-4.8z"/><path d="M425.4 210.8l2.4 3.9h-4.8zM412.2 190.1l2.4 3.9h-4.8zM410.7 173.6l2.4 3.9h-4.8zM393.1 205.2l2.4 3.9h-4.8zM393.1 188.8l2.4 3.9h-4.8zM418.5 180.9l2.4 3.9h-4.8z"/><path d="M441.5 194.5l2.4 3.9h-4.8zM392.9 166.6l2.4 3.9h-4.8zM395.7 180.1l2.4 3.9h-4.8zM391.1 191.8l2.4 3.9h-4.8zM427.6 197.0l2.4 3.9h-4.8zM401.0 212.1l2.4 3.9h-4.8z"/><path d="M407.9 194.2l2.4 3.9h-4.8zM405.2 177.8l2.4 3.9h-4.8zM391.8 226.8l2.4 3.9h-4.8zM448.5 200.5l2.4 3.9h-4.8zM402.0 195.8l2.4 3.9h-4.8zM406.5 188.2l2.4 3.9h-4.8z"/><path d="M408.4 222.0l2.4 3.9h-4.8zM401.5 193.7l2.4 3.9h-4.8zM392.2 194.6l2.4 3.9h-4.8zM402.0 223.2l2.4 3.9h-4.8zM420.1 183.0l2.4 3.9h-4.8zM414.9 191.6l2.4 3.9h-4.8z"/><path d="M389.8 204.9l2.4 3.9h-4.8zM399.8 180.6l2.4 3.9h-4.8zM405.7 215.8l2.4 3.9h-4.8zM448.4 194.4l2.4 3.9h-4.8zM432.2 204.0l2.4 3.9h-4.8zM394.5 184.8l2.4 3.9h-4.8z"/><path d="M391.5 173.0l2.4 3.9h-4.8zM385.5 200.0l2.4 3.9h-4.8zM393.9 220.9l2.4 3.9h-4.8zM379.3 195.8l2.4 3.9h-4.8zM430.2 184.8l2.4 3.9h-4.8zM407.4 160.9l2.4 3.9h-4.8z"/><path d="M405.0 218.9l2.4 3.9h-4.8zM398.9 229.5l2.4 3.9h-4.8zM397.3 199.4l2.4 3.9h-4.8zM391.0 225.4l2.4 3.9h-4.8zM412.8 186.3l2.4 3.9h-4.8zM442.3 195.8l2.4 3.9h-4.8z"/><path d="M403.0 183.8l2.4 3.9h-4.8zM376.4 196.5l2.4 3.9h-4.8zM409.5 220.9l2.4 3.9h-4.8zM437.7 193.5l2.4 3.9h-4.8zM423.9 194.4l2.4 3.9h-4.8zM454.1 194.7l2.4 3.9h-4.8z"/><path d="M412.1 205.2l2.4 3.9h-4.8zM417.7 212.6l2.4 3.9h-4.8zM436.0 190.5l2.4 3.9h-4.8zM406.0 209.0l2.4 3.9h-4.8zM412.4 190.6l2.4 3.9h-4.8zM392.7 182.0l2.4 3.9h-4.8z"/><path d="M413.1 201.7l2.4 3.9h-4.8zM402.0 174.9l2.4 3.9h-4.8zM446.2 200.4l2.4 3.9h-4.8zM434.0 200.3l2.4 3.9h-4.8zM377.4 200.6l2.4 3.9h-4.8zM424.0 214.4l2.4 3.9h-4.8z"/><path d="M382.5 180.7l2.4 3.9h-4.8zM441.1 196.5l2.4 3.9h-4.8zM425.0 176.4l2.4 3.9h-4.8zM427.4 212.6l2.4 3.9h-4.8zM400.3 209.6l2.4 3.9h-4.8zM389.9 202.1l2.4 3.9h-4.8z"/><path d="M389.9 172.0l2.4 3.9h-4.8zM413.3 211.8l2.4 3.9h-4.8zM436.6 200.9l2.4 3.9h-4.8zM392.1 221.7l2.4 3.9h-4.8zM468.7 196.7l2.4 3.9h-4.8zM408.4 210.7l2.4 3.9h-4.8z"/><path d="M415.4 203.1l2.4 3.9h-4.8zM378.0 204.8l2.4 3.9h-4.8zM382.8 209.5l2.4 3.9h-4.8zM391.2 182.2l2.4 3.9h-4.8zM417.7 215.9l2.4 3.9h-4.8zM429.7 198.5l2.4 3.9h-4.8z"/><path d="M414.1 182.4l2.4 3.9h-4.8zM397.3 219.5l2.4 3.9h-4.8zM396.6 185.1l2.4 3.9h-4.8zM436.1 204.1l2.4 3.9h-4.8zM388.5 198.9l2.4 3.9h-4.8zM468.9 197.1l2.4 3.9h-4.8z"/><path d="M388.4 181.3l2.4 3.9h-4.8zM407.3 214.3l2.4 3.9h-4.8zM403.5 212.1l2.4 3.9h-4.8zM398.7 199.2l2.4 3.9h-4.8zM401.3 234.8l2.4 3.9h-4.8zM388.6 213.2l2.4 3.9h-4.8z"/><path d="M409.9 179.7l2.4 3.9h-4.8zM469.4 196.9l2.4 3.9h-4.8zM399.6 195.4l2.4 3.9h-4.8zM418.0 221.6l2.4 3.9h-4.8zM404.0 161.7l2.4 3.9h-4.8zM376.3 202.6l2.4 3.9h-4.8z"/><path d="M406.1 193.8l2.4 3.9h-4.8zM444.6 195.2l2.4 3.9h-4.8zM413.6 186.0l2.4 3.9h-4.8zM401.1 234.1l2.4 3.9h-4.8zM464.2 197.3l2.4 3.9h-4.8zM398.5 227.6l2.4 3.9h-4.8z"/><path d="M452.1 196.9l2.4 3.9h-4.8zM416.4 192.2l2.4 3.9h-4.8zM403.8 170.9l2.4 3.9h-4.8zM405.2 182.9l2.4 3.9h-4.8zM413.3 196.2l2.4 3.9h-4.8zM390.3 197.3l2.4 3.9h-4.8z"/><path d="M384.1 182.9l2.4 3.9h-4.8zM420.6 181.7l2.4 3.9h-4.8zM397.7 207.2l2.4 3.9h-4.8zM466.0 197.5l2.4 3.9h-4.8zM427.5 198.5l2.4 3.9h-4.8zM409.6 212.6l2.4 3.9h-4.8z"/><path d="M380.2 208.9l2.4 3.9h-4.8zM401.7 197.4l2.4 3.9h-4.8zM412.8 184.7l2.4 3.9h-4.8zM387.3 173.2l2.4 3.9h-4.8zM432.6 184.9l2.4 3.9h-4.8zM389.8 208.3l2.4 3.9h-4.8z"/><path d="M454.6 197.0l2.4 3.9h-4.8zM397.6 177.5l2.4 3.9h-4.8zM429.4 202.9l2.4 3.9h-4.8zM398.8 183.2l2.4 3.9h-4.8zM384.0 196.0l2.4 3.9h-4.8zM414.5 178.9l2.4 3.9h-4.8z"/><path d="M415.8 190.7l2.4 3.9h-4.8zM403.1 229.9l2.4 3.9h-4.8zM409.5 228.5l2.4 3.9h-4.8zM431.3 182.8l2.4 3.9h-4.8zM394.3 170.7l2.4 3.9h-4.8zM379.8 189.5l2.4 3.9h-4.8z"/><path d="M408.1 170.0l2.4 3.9h-4.8zM449.4 201.2l2.4 3.9h-4.8zM430.6 209.0l2.4 3.9h-4.8zM405.2 216.9l2.4 3.9h-4.8zM468.9 196.7l2.4 3.9h-4.8zM381.4 204.4l2.4 3.9h-4.8z"/><path d="M392.9 220.3l2.4 3.9h-4.8zM377.0 191.0l2.4 3.9h-4.8zM403.3 219.0l2.4 3.9h-4.8zM387.1 205.2l2.4 3.9h-4.8zM429.9 206.0l2.4 3.9h-4.8zM388.2 202.6l2.4 3.9h-4.8z"/><path d="M393.4 224.6l2.4 3.9h-4.8zM423.1 202.8l2.4 3.9h-4.8zM380.1 207.9l2.4 3.9h-4.8zM405.6 190.0l2.4 3.9h-4.8zM423.0 216.8l2.4 3.9h-4.8zM449.1 193.9l2.4 3.9h-4.8z"/><path d="M412.2 190.1l2.4 3.9h-4.8zM408.7 210.5l2.4 3.9h-4.8zM384.3 210.1l2.4 3.9h-4.8zM415.0 172.8l2.4 3.9h-4.8zM405.9 201.5l2.4 3.9h-4.8zM402.0 177.2l2.4 3.9h-4.8z"/><path d="M417.0 201.2l2.4 3.9h-4.8zM397.0 184.5l2.4 3.9h-4.8zM418.7 181.1l2.4 3.9h-4.8zM430.9 185.1l2.4 3.9h-4.8zM415.7 194.5l2.4 3.9h-4.8zM428.1 193.0l2.4 3.9h-4.8z"/><path d="M431.2 189.7l2.4 3.9h-4.8zM431.9 201.3l2.4 3.9h-4.8zM387.8 221.5l2.4 3.9h-4.8zM383.6 215.5l2.4 3.9h-4.8zM447.0 196.2l2.4 3.9h-4.8zM433.0 194.9l2.4 3.9h-4.8z"/><path d="M410.1 164.6l2.4 3.9h-4.8zM385.4 188.9l2.4 3.9h-4.8zM399.5 178.0l2.4 3.9h-4.8zM399.9 208.2l2.4 3.9h-4.8zM401.6 171.4l2.4 3.9h-4.8zM425.1 185.0l2.4 3.9h-4.8z"/><path d="M402.8 196.7l2.4 3.9h-4.8zM414.4 207.1l2.4 3.9h-4.8zM410.0 165.7l2.4 3.9h-4.8zM425.2 206.9l2.4 3.9h-4.8zM386.1 208.3l2.4 3.9h-4.8zM428.9 213.2l2.4 3.9h-4.8z"/><path d="M420.7 179.3l2.4 3.9h-4.8zM408.9 192.4l2.4 3.9h-4.8zM418.7 214.8l2.4 3.9h-4.8zM395.0 211.4l2.4 3.9h-4.8zM429.6 182.9l2.4 3.9h-4.8zM441.2 203.8l2.4 3.9h-4.8z"/><path d="M402.4 205.3l2.4 3.9h-4.8zM396.9 189.4l2.4 3.9h-4.8zM391.5 211.7l2.4 3.9h-4.8zM393.7 185.9l2.4 3.9h-4.8zM402.5 218.9l2.4 3.9h-4.8zM370.8 196.9l2.4 3.9h-4.8z"/><path d="M433.4 185.5l2.4 3.9h-4.8zM373.2 198.3l2.4 3.9h-4.8zM426.6 178.2l2.4 3.9h-4.8zM398.5 193.5l2.4 3.9h-4.8zM412.1 199.9l2.4 3.9h-4.8zM427.4 209.5l2.4 3.9h-4.8z"/><path d="M415.2 197.3l2.4 3.9h-4.8zM402.4 182.1l2.4 3.9h-4.8zM413.7 179.7l2.4 3.9h-4.8zM458.3 196.1l2.4 3.9h-4.8zM443.6 194.3l2.4 3.9h-4.8zM432.8 204.9l2.4 3.9h-4.8z"/><path d="M432.6 196.6l2.4 3.9h-4.8zM423.4 208.5l2.4 3.9h-4.8zM401.4 185.9l2.4 3.9h-4.8zM382.4 191.0l2.4 3.9h-4.8zM392.8 166.6l2.4 3.9h-4.8zM405.5 188.0l2.4 3.9h-4.8z"/><path d="M420.4 204.6l2.4 3.9h-4.8zM393.5 207.4l2.4 3.9h-4.8zM387.7 191.7l2.4 3.9h-4.8zM377.5 196.0l2.4 3.9h-4.8zM413.1 206.3l2.4 3.9h-4.8zM379.6 197.8l2.4 3.9h-4.8z"/><path d="M397.4 209.0l2.4 3.9h-4.8zM442.0 202.4l2.4 3.9h-4.8zM427.2 215.0l2.4 3.9h-4.8zM393.4 206.8l2.4 3.9h-4.8zM408.6 161.3l2.4 3.9h-4.8zM416.1 201.4l2.4 3.9h-4.8z"/><path d="M386.6 177.5l2.4 3.9h-4.8zM382.0 188.2l2.4 3.9h-4.8zM384.7 207.2l2.4 3.9h-4.8zM417.0 193.7l2.4 3.9h-4.8zM426.5 204.6l2.4 3.9h-4.8zM445.0 200.5l2.4 3.9h-4.8z"/><path d="M410.4 170.5l2.4 3.9h-4.8zM400.5 201.1l2.4 3.9h-4.8zM446.8 202.1l2.4 3.9h-4.8zM389.1 178.0l2.4 3.9h-4.8zM407.9 216.5l2.4 3.9h-4.8zM392.2 170.5l2.4 3.9h-4.8z"/><path d="M445.5 198.5l2.4 3.9h-4.8zM406.2 208.4l2.4 3.9h-4.8zM417.0 215.9l2.4 3.9h-4.8zM411.3 176.2l2.4 3.9h-4.8zM399.6 185.2l2.4 3.9h-4.8zM424.3 209.5l2.4 3.9h-4.8z"/><path d="M405.1 180.1l2.4 3.9h-4.8zM386.3 188.5l2.4 3.9h-4.8zM394.1 182.2l2.4 3.9h-4.8zM421.1 189.6l2.4 3.9h-4.8zM396.7 215.5l2.4 3.9h-4.8zM434.3 195.6l2.4 3.9h-4.8z"/><path d="M453.9 199.5l2.4 3.9h-4.8zM398.5 213.1l2.4 3.9h-4.8zM405.6 161.6l2.4 3.9h-4.8zM382.6 195.6l2.4 3.9h-4.8zM412.3 226.8l2.4 3.9h-4.8zM381.6 211.3l2.4 3.9h-4.8z"/><path d="M441.6 201.9l2.4 3.9h-4.8zM418.9 169.1l2.4 3.9h-4.8zM418.1 174.3l2.4 3.9h-4.8zM400.3 221.2l2.4 3.9h-4.8zM400.0 194.1l2.4 3.9h-4.8zM390.5 173.9l2.4 3.9h-4.8z"/><path d="M411.5 165.1l2.4 3.9h-4.8zM401.4 188.9l2.4 3.9h-4.8zM405.6 176.7l2.4 3.9h-4.8zM382.4 184.0l2.4 3.9h-4.8zM402.5 231.1l2.4 3.9h-4.8zM410.0 200.3l2.4 3.9h-4.8z"/><path d="M405.3 214.5l2.4 3.9h-4.8zM424.4 189.3l2.4 3.9h-4.8zM391.5 188.2l2.4 3.9h-4.8zM403.4 234.8l2.4 3.9h-4.8zM437.2 190.4l2.4 3.9h-4.8zM402.0 233.8l2.4 3.9h-4.8z"/><path d="M387.1 194.7l2.4 3.9h-4.8zM378.4 192.4l2.4 3.9h-4.8zM392.0 195.7l2.4 3.9h-4.8zM433.0 192.3l2.4 3.9h-4.8zM426.2 187.4l2.4 3.9h-4.8zM386.5 184.6l2.4 3.9h-4.8z"/><path d="M410.1 165.5l2.4 3.9h-4.8zM379.4 191.8l2.4 3.9h-4.8zM419.0 212.0l2.4 3.9h-4.8zM423.9 197.0l2.4 3.9h-4.8zM413.4 188.9l2.4 3.9h-4.8zM407.1 229.8l2.4 3.9h-4.8z"/><path d="M392.2 188.4l2.4 3.9h-4.8zM382.1 211.2l2.4 3.9h-4.8zM399.6 173.9l2.4 3.9h-4.8zM405.2 213.6l2.4 3.9h-4.8zM421.2 206.1l2.4 3.9h-4.8zM415.2 182.2l2.4 3.9h-4.8z"/><path d="M442.4 191.2l2.4 3.9h-4.8zM412.4 184.8l2.4 3.9h-4.8zM464.9 196.9l2.4 3.9h-4.8zM428.4 194.2l2.4 3.9h-4.8zM399.1 233.4l2.4 3.9h-4.8zM421.2 194.5l2.4 3.9h-4.8z"/><path d="M401.6 220.4l2.4 3.9h-4.8zM417.3 189.3l2.4 3.9h-4.8zM407.1 172.1l2.4 3.9h-4.8zM405.1 216.2l2.4 3.9h-4.8zM459.1 196.2l2.4 3.9h-4.8zM439.2 193.2l2.4 3.9h-4.8z"/><path d="M408.6 175.9l2.4 3.9h-4.8zM428.9 205.0l2.4 3.9h-4.8zM409.4 176.3l2.4 3.9h-4.8zM398.2 168.2l2.4 3.9h-4.8zM409.7 187.2l2.4 3.9h-4.8zM413.6 201.0l2.4 3.9h-4.8z"/><path d="M383.4 182.3l2.4 3.9h-4.8zM389.6 186.2l2.4 3.9h-4.8zM390.0 219.1l2.4 3.9h-4.8zM407.8 212.6l2.4 3.9h-4.8zM380.9 206.5l2.4 3.9h-4.8zM422.5 220.9l2.4 3.9h-4.8z"/><path d="M440.1 196.1l2.4 3.9h-4.8zM415.9 225.4l2.4 3.9h-4.8zM419.6 203.3l2.4 3.9h-4.8zM387.8 196.9l2.4 3.9h-4.8zM399.9 231.0l2.4 3.9h-4.8zM388.8 200.2l2.4 3.9h-4.8z"/><path d="M382.9 213.6l2.4 3.9h-4.8zM418.1 183.3l2.4 3.9h-4.8zM431.4 211.7l2.4 3.9h-4.8zM428.2 178.7l2.4 3.9h-4.8zM387.1 219.9l2.4 3.9h-4.8zM411.3 183.4l2.4 3.9h-4.8z"/><path d="M445.9 193.7l2.4 3.9h-4.8zM393.7 182.7l2.4 3.9h-4.8zM449.3 201.0l2.4 3.9h-4.8zM401.6 174.7l2.4 3.9h-4.8zM421.1 184.8l2.4 3.9h-4.8zM390.5 200.9l2.4 3.9h-4.8z"/><path d="M444.2 193.1l2.4 3.9h-4.8zM399.9 188.8l2.4 3.9h-4.8zM456.8 198.6l2.4 3.9h-4.8zM395.4 181.4l2.4 3.9h-4.8zM400.7 206.6l2.4 3.9h-4.8zM396.7 228.5l2.4 3.9h-4.8z"/><path d="M419.0 188.1l2.4 3.9h-4.8zM389.2 177.1l2.4 3.9h-4.8zM419.7 209.5l2.4 3.9h-4.8zM431.2 194.1l2.4 3.9h-4.8zM398.2 223.6l2.4 3.9h-4.8zM417.3 219.6l2.4 3.9h-4.8z"/><path d="M438.3 200.7l2.4 3.9h-4.8zM417.8 191.0l2.4 3.9h-4.8zM382.3 193.9l2.4 3.9h-4.8zM403.7 207.3l2.4 3.9h-4.8zM404.8 190.7l2.4 3.9h-4.8zM419.4 222.2l2.4 3.9h-4.8z"/><path d="M410.2 218.5l2.4 3.9h-4.8zM419.7 196.3l2.4 3.9h-4.8zM399.4 179.9l2.4 3.9h-4.8zM413.2 186.9l2.4 3.9h-4.8zM413.4 164.9l2.4 3.9h-4.8zM411.4 212.3l2.4 3.9h-4.8z"/><path d="M403.6 212.7l2.4 3.9h-4.8zM393.8 226.5l2.4 3.9h-4.8zM377.6 199.5l2.4 3.9h-4.8zM378.5 199.8l2.4 3.9h-4.8zM427.1 214.7l2.4 3.9h-4.8zM406.6 163.6l2.4 3.9h-4.8z"/><path d="M429.1 180.1l2.4 3.9h-4.8zM402.5 183.8l2.4 3.9h-4.8zM437.2 207.1l2.4 3.9h-4.8zM445.8 191.9l2.4 3.9h-4.8zM406.5 234.2l2.4 3.9h-4.8zM414.3 199.7l2.4 3.9h-4.8z"/><path d="M373.1 195.7l2.4 3.9h-4.8zM411.2 197.5l2.4 3.9h-4.8zM407.6 219.4l2.4 3.9h-4.8zM418.2 215.5l2.4 3.9h-4.8zM413.3 199.1l2.4 3.9h-4.8zM440.2 191.4l2.4 3.9h-4.8z"/><path d="M397.6 163.9l2.4 3.9h-4.8zM418.8 204.4l2.4 3.9h-4.8zM371.1 196.9l2.4 3.9h-4.8zM388.7 197.7l2.4 3.9h-4.8zM417.4 217.2l2.4 3.9h-4.8zM378.6 186.4l2.4 3.9h-4.8z"/><path d="M381.3 195.5l2.4 3.9h-4.8zM400.1 210.0l2.4 3.9h-4.8zM424.8 187.3l2.4 3.9h-4.8zM459.8 196.0l2.4 3.9h-4.8zM403.4 199.2l2.4 3.9h-4.8zM385.4 197.2l2.4 3.9h-4.8z"/><path d="M402.6 229.4l2.4 3.9h-4.8zM410.7 169.1l2.4 3.9h-4.8zM389.3 177.2l2.4 3.9h-4.8zM380.8 183.6l2.4 3.9h-4.8zM401.0 171.2l2.4 3.9h-4.8zM387.7 222.3l2.4 3.9h-4.8z"/><path d="M388.5 186.9l2.4 3.9h-4.8zM401.9 226.0l2.4 3.9h-4.8zM420.2 182.3l2.4 3.9h-4.8zM423.1 218.4l2.4 3.9h-4.8zM404.2 196.0l2.4 3.9h-4.8zM404.4 159.6l2.4 3.9h-4.8z"/><path d="M399.3 214.6l2.4 3.9h-4.8zM393.6 188.3l2.4 3.9h-4.8zM389.9 202.7l2.4 3.9h-4.8zM405.9 177.5l2.4 3.9h-4.8zM404.3 165.0l2.4 3.9h-4.8zM410.1 168.8l2.4 3.9h-4.8z"/><path d="M440.8 199.5l2.4 3.9h-4.8zM452.5 195.8l2.4 3.9h-4.8zM426.5 196.2l2.4 3.9h-4.8zM414.3 180.1l2.4 3.9h-4.8zM452.4 197.9l2.4 3.9h-4.8zM407.3 170.7l2.4 3.9h-4.8z"/><path d="M403.3 209.6l2.4 3.9h-4.8zM433.3 184.8l2.4 3.9h-4.8zM406.7 206.4l2.4 3.9h-4.8zM432.3 198.0l2.4 3.9h-4.8zM416.6 172.2l2.4 3.9h-4.8zM396.2 170.7l2.4 3.9h-4.8z"/><path d="M397.8 205.3l2.4 3.9h-4.8zM403.1 212.4l2.4 3.9h-4.8zM431.7 195.5l2.4 3.9h-4.8zM408.3 217.5l2.4 3.9h-4.8zM376.0 198.5l2.4 3.9h-4.8zM411.1 214.8l2.4 3.9h-4.8z"/><path d="M379.6 205.5l2.4 3.9h-4.8zM406.0 205.6l2.4 3.9h-4.8zM398.2 182.8l2.4 3.9h-4.8zM394.0 209.3l2.4 3.9h-4.8zM378.7 188.8l2.4 3.9h-4.8zM412.9 229.6l2.4 3.9h-4.8z"/><path d="M426.5 189.0l2.4 3.9h-4.8zM423.3 206.1l2.4 3.9h-4.8zM441.7 195.3l2.4 3.9h-4.8zM400.9 198.9l2.4 3.9h-4.8zM415.8 172.2l2.4 3.9h-4.8zM396.0 191.4l2.4 3.9h-4.8z"/><path d="M405.4 179.0l2.4 3.9h-4.8zM397.3 227.0l2.4 3.9h-4.8zM409.9 176.7l2.4 3.9h-4.8zM389.9 224.6l2.4 3.9h-4.8zM440.9 191.7l2.4 3.9h-4.8zM416.8 221.1l2.4 3.9h-4.8z"/><path d="M384.9 179.8l2.4 3.9h-4.8zM398.8 229.4l2.4 3.9h-4.8zM416.5 217.2l2.4 3.9h-4.8zM433.7 199.3l2.4 3.9h-4.8zM413.9 202.5l2.4 3.9h-4.8zM388.8 171.2l2.4 3.9h-4.8z"/><path d="M391.5 190.4l2.4 3.9h-4.8zM427.9 180.3l2.4 3.9h-4.8zM421.3 208.9l2.4 3.9h-4.8zM401.7 219.6l2.4 3.9h-4.8zM449.6 197.8l2.4 3.9h-4.8zM451.4 193.9l2.4 3.9h-4.8z"/><path d="M394.5 211.9l2.4 3.9h-4.8zM396.9 224.4l2.4 3.9h-4.8zM386.9 179.7l2.4 3.9h-4.8zM415.7 201.7l2.4 3.9h-4.8zM389.1 204.5l2.4 3.9h-4.8zM395.2 183.7l2.4 3.9h-4.8z"/><path d="M462.5 196.9l2.4 3.9h-4.8zM401.1 215.6l2.4 3.9h-4.8zM390.0 186.5l2.4 3.9h-4.8zM406.5 172.7l2.4 3.9h-4.8zM405.8 194.8l2.4 3.9h-4.8zM467.7 197.2l2.4 3.9h-4.8z"/><path d="M417.7 189.7l2.4 3.9h-4.8zM386.9 204.4l2.4 3.9h-4.8zM436.8 206.4l2.4 3.9h-4.8zM383.0 187.6l2.4 3.9h-4.8zM389.4 222.8l2.4 3.9h-4.8zM399.5 232.3l2.4 3.9h-4.8z"/><path d="M451.3 193.8l2.4 3.9h-4.8zM393.3 224.1l2.4 3.9h-4.8zM422.7 213.9l2.4 3.9h-4.8zM406.0 160.5l2.4 3.9h-4.8zM443.6 193.1l2.4 3.9h-4.8zM438.4 204.0l2.4 3.9h-4.8z"/><path d="M389.1 191.7l2.4 3.9h-4.8zM392.7 184.3l2.4 3.9h-4.8zM401.3 159.9l2.4 3.9h-4.8zM393.0 181.7l2.4 3.9h-4.8zM468.4 196.6l2.4 3.9h-4.8zM434.4 192.5l2.4 3.9h-4.8z"/><path d="M421.9 202.8l2.4 3.9h-4.8zM447.6 195.5l2.4 3.9h-4.8zM391.4 226.1l2.4 3.9h-4.8zM383.8 190.0l2.4 3.9h-4.8zM442.8 190.8l2.4 3.9h-4.8zM422.5 173.2l2.4 3.9h-4.8z"/><path d="M394.9 169.8l2.4 3.9h-4.8zM443.8 201.1l2.4 3.9h-4.8zM392.2 171.8l2.4 3.9h-4.8zM405.3 213.8l2.4 3.9h-4.8zM395.4 199.8l2.4 3.9h-4.8zM401.5 202.4l2.4 3.9h-4.8z"/><path d="M426.1 193.5l2.4 3.9h-4.8zM430.2 207.7l2.4 3.9h-4.8zM405.9 186.7l2.4 3.9h-4.8zM400.2 167.6l2.4 3.9h-4.8zM440.4 192.8l2.4 3.9h-4.8zM414.2 187.9l2.4 3.9h-4.8z"/><path d="M398.0 216.2l2.4 3.9h-4.8zM426.9 182.3l2.4 3.9h-4.8zM397.1 209.0l2.4 3.9h-4.8zM379.4 204.0l2.4 3.9h-4.8zM467.1 197.2l2.4 3.9h-4.8zM430.3 208.3l2.4 3.9h-4.8z"/><path d="M392.9 178.4l2.4 3.9h-4.8zM418.0 202.2l2.4 3.9h-4.8zM443.2 194.9l2.4 3.9h-4.8zM418.2 188.4l2.4 3.9h-4.8zM409.6 194.7l2.4 3.9h-4.8zM399.3 192.0l2.4 3.9h-4.8z"/><path d="M437.0 193.9l2.4 3.9h-4.8zM378.6 189.0l2.4 3.9h-4.8zM385.1 202.1l2.4 3.9h-4.8zM392.0 190.1l2.4 3.9h-4.8zM427.7 187.0l2.4 3.9h-4.8zM421.6 214.7l2.4 3.9h-4.8z"/><path d="M468.5 197.1l2.4 3.9h-4.8zM394.0 197.7l2.4 3.9h-4.8zM422.4 198.5l2.4 3.9h-4.8zM443.4 202.4l2.4 3.9h-4.8zM418.0 198.4l2.4 3.9h-4.8zM394.9 162.7l2.4 3.9h-4.8z"/><path d="M462.0 199.0l2.4 3.9h-4.8zM401.9 209.7l2.4 3.9h-4.8zM430.7 191.6l2.4 3.9h-4.8zM411.5 177.8l2.4 3.9h-4.8zM408.4 172.7l2.4 3.9h-4.8zM390.6 192.9l2.4 3.9h-4.8z"/><path d="M397.0 228.9l2.4 3.9h-4.8zM420.0 177.0l2.4 3.9h-4.8zM391.0 179.9l2.4 3.9h-4.8zM399.4 233.4l2.4 3.9h-4.8zM409.5 187.6l2.4 3.9h-4.8zM407.0 175.4l2.4 3.9h-4.8z"/><path d="M401.9 185.5l2.4 3.9h-4.8zM399.9 178.7l2.4 3.9h-4.8zM407.9 178.9l2.4 3.9h-4.8zM397.3 232.0l2.4 3.9h-4.8zM410.0 187.7l2.4 3.9h-4.8zM384.6 174.7l2.4 3.9h-4.8z"/><path d="M420.8 223.5l2.4 3.9h-4.8zM379.4 186.9l2.4 3.9h-4.8zM430.7 192.3l2.4 3.9h-4.8zM412.1 223.3l2.4 3.9h-4.8zM395.8 187.8l2.4 3.9h-4.8zM376.3 191.6l2.4 3.9h-4.8z"/><path d="M382.3 187.1l2.4 3.9h-4.8zM374.6 199.4l2.4 3.9h-4.8zM383.2 186.9l2.4 3.9h-4.8zM388.5 174.6l2.4 3.9h-4.8zM455.5 199.1l2.4 3.9h-4.8zM381.8 208.4l2.4 3.9h-4.8z"/><path d="M377.9 196.4l2.4 3.9h-4.8zM406.4 177.1l2.4 3.9h-4.8zM438.3 195.1l2.4 3.9h-4.8zM375.4 200.8l2.4 3.9h-4.8zM409.6 217.9l2.4 3.9h-4.8zM403.8 176.4l2.4 3.9h-4.8z"/><path d="M441.9 191.3l2.4 3.9h-4.8zM399.5 227.7l2.4 3.9h-4.8zM389.8 207.9l2.4 3.9h-4.8zM413.1 230.0l2.4 3.9h-4.8zM420.3 214.7l2.4 3.9h-4.8zM392.2 180.6l2.4 3.9h-4.8z"/><path d="M401.2 210.7l2.4 3.9h-4.8zM457.8 196.5l2.4 3.9h-4.8zM416.7 203.7l2.4 3.9h-4.8zM410.9 196.7l2.4 3.9h-4.8zM419.7 191.8l2.4 3.9h-4.8zM412.9 181.0l2.4 3.9h-4.8z"/><path d="M402.7 201.0l2.4 3.9h-4.8zM414.6 214.2l2.4 3.9h-4.8zM396.6 205.9l2.4 3.9h-4.8zM407.0 209.5l2.4 3.9h-4.8zM405.7 215.8l2.4 3.9h-4.8zM378.7 206.7l2.4 3.9h-4.8z"/><path d="M425.8 183.0l2.4 3.9h-4.8zM439.0 190.4l2.4 3.9h-4.8zM402.5 168.3l2.4 3.9h-4.8zM378.1 200.0l2.4 3.9h-4.8zM414.1 218.5l2.4 3.9h-4.8zM382.7 190.6l2.4 3.9h-4.8z"/><path d="M386.1 181.3l2.4 3.9h-4.8zM418.0 218.3l2.4 3.9h-4.8zM403.1 179.0l2.4 3.9h-4.8zM391.1 189.6l2.4 3.9h-4.8zM439.0 188.1l2.4 3.9h-4.8zM436.3 207.2l2.4 3.9h-4.8z"/><path d="M407.2 195.2l2.4 3.9h-4.8zM420.1 172.0l2.4 3.9h-4.8zM381.1 195.4l2.4 3.9h-4.8zM397.9 173.3l2.4 3.9h-4.8zM467.7 196.8l2.4 3.9h-4.8zM398.8 205.3l2.4 3.9h-4.8z"/><path d="M385.1 193.0l2.4 3.9h-4.8zM402.3 194.6l2.4 3.9h-4.8zM418.3 186.9l2.4 3.9h-4.8zM403.9 193.0l2.4 3.9h-4.8zM410.4 170.5l2.4 3.9h-4.8zM413.4 228.0l2.4 3.9h-4.8z"/><path d="M396.3 230.9l2.4 3.9h-4.8zM420.6 172.4l2.4 3.9h-4.8zM426.8 187.9l2.4 3.9h-4.8zM463.7 196.3l2.4 3.9h-4.8zM396.1 228.9l2.4 3.9h-4.8zM408.3 191.6l2.4 3.9h-4.8z"/><path d="M385.0 184.9l2.4 3.9h-4.8zM409.1 226.3l2.4 3.9h-4.8zM393.9 179.6l2.4 3.9h-4.8zM401.9 184.9l2.4 3.9h-4.8zM390.3 214.9l2.4 3.9h-4.8zM397.7 204.0l2.4 3.9h-4.8z"/><path d="M399.4 172.2l2.4 3.9h-4.8zM412.3 183.0l2.4 3.9h-4.8zM429.2 206.0l2.4 3.9h-4.8zM433.8 200.0l2.4 3.9h-4.8zM462.3 197.5l2.4 3.9h-4.8zM412.4 206.6l2.4 3.9h-4.8z"/><path d="M461.0 196.8l2.4 3.9h-4.8zM435.1 191.9l2.4 3.9h-4.8zM374.8 194.3l2.4 3.9h-4.8zM446.7 193.7l2.4 3.9h-4.8zM441.1 190.3l2.4 3.9h-4.8zM417.5 212.2l2.4 3.9h-4.8z"/><path d="M411.0 162.9l2.4 3.9h-4.8zM409.0 212.3l2.4 3.9h-4.8zM383.2 189.5l2.4 3.9h-4.8zM407.1 185.6l2.4 3.9h-4.8zM395.3 165.4l2.4 3.9h-4.8zM390.9 180.4l2.4 3.9h-4.8z"/><path d="M422.5 189.1l2.4 3.9h-4.8zM430.2 187.8l2.4 3.9h-4.8zM404.7 173.9l2.4 3.9h-4.8zM439.5 205.3l2.4 3.9h-4.8zM410.6 170.2l2.4 3.9h-4.8zM388.7 176.7l2.4 3.9h-4.8z"/><path d="M400.9 225.3l2.4 3.9h-4.8zM398.0 178.3l2.4 3.9h-4.8zM393.0 165.7l2.4 3.9h-4.8zM395.1 207.7l2.4 3.9h-4.8zM419.8 223.0l2.4 3.9h-4.8zM391.1 192.3l2.4 3.9h-4.8z"/><path d="M428.5 204.6l2.4 3.9h-4.8zM432.6 198.7l2.4 3.9h-4.8zM380.7 186.2l2.4 3.9h-4.8zM430.7 203.7l2.4 3.9h-4.8zM436.0 192.7l2.4 3.9h-4.8zM405.8 185.2l2.4 3.9h-4.8z"/><path d="M419.5 224.5l2.4 3.9h-4.8zM395.6 170.0l2.4 3.9h-4.8zM399.0 225.2l2.4 3.9h-4.8zM424.5 174.9l2.4 3.9h-4.8zM418.3 213.4l2.4 3.9h-4.8zM381.4 194.3l2.4 3.9h-4.8z"/><path d="M451.9 200.2l2.4 3.9h-4.8zM442.4 195.8l2.4 3.9h-4.8zM469.8 196.9l2.4 3.9h-4.8zM411.2 205.9l2.4 3.9h-4.8zM411.3 200.3l2.4 3.9h-4.8zM397.0 216.5l2.4 3.9h-4.8z"/><path d="M411.8 187.9l2.4 3.9h-4.8zM382.1 209.8l2.4 3.9h-4.8zM435.3 195.0l2.4 3.9h-4.8zM403.8 198.3l2.4 3.9h-4.8zM426.8 190.7l2.4 3.9h-4.8zM387.4 202.0l2.4 3.9h-4.8z"/><path d="M462.9 197.9l2.4 3.9h-4.8zM421.9 217.1l2.4 3.9h-4.8zM447.2 194.8l2.4 3.9h-4.8zM408.0 173.8l2.4 3.9h-4.8zM442.6 194.9l2.4 3.9h-4.8zM388.9 201.3l2.4 3.9h-4.8z"/><path d="M410.9 230.3l2.4 3.9h-4.8zM380.1 205.9l2.4 3.9h-4.8zM405.6 177.9l2.4 3.9h-4.8zM453.1 196.3l2.4 3.9h-4.8zM409.4 177.2l2.4 3.9h-4.8zM390.9 180.3l2.4 3.9h-4.8z"/><path d="M417.3 200.3l2.4 3.9h-4.8zM399.6 215.7l2.4 3.9h-4.8zM399.5 160.7l2.4 3.9h-4.8zM407.6 206.9l2.4 3.9h-4.8zM385.4 198.7l2.4 3.9h-4.8zM413.4 168.6l2.4 3.9h-4.8z"/><path d="M410.9 187.2l2.4 3.9h-4.8zM432.7 209.6l2.4 3.9h-4.8zM386.6 215.0l2.4 3.9h-4.8zM449.0 191.2l2.4 3.9h-4.8zM377.4 204.7l2.4 3.9h-4.8zM390.9 218.1l2.4 3.9h-4.8z"/><path d="M371.7 196.6l2.4 3.9h-4.8zM447.3 195.1l2.4 3.9h-4.8zM402.9 168.3l2.4 3.9h-4.8zM399.9 194.1l2.4 3.9h-4.8zM423.3 180.0l2.4 3.9h-4.8zM387.6 188.0l2.4 3.9h-4.8z"/><path d="M392.3 226.6l2.4 3.9h-4.8zM422.1 213.9l2.4 3.9h-4.8zM431.7 197.7l2.4 3.9h-4.8zM429.4 197.4l2.4 3.9h-4.8zM416.5 166.8l2.4 3.9h-4.8zM435.3 185.7l2.4 3.9h-4.8z"/><path d="M420.7 203.1l2.4 3.9h-4.8zM379.4 185.2l2.4 3.9h-4.8zM415.1 193.6l2.4 3.9h-4.8zM424.7 195.6l2.4 3.9h-4.8zM399.7 192.6l2.4 3.9h-4.8zM475.8 196.4l2.4 3.9h-4.8z"/></g><g fill="#dfa4dc" stroke="#302030" stroke-width="0.50" stroke-linejoin="round"><path d="M570.5 216.0l2.5-3.7h-5zM556.4 213.3l2.5-3.7h-5zM587.9 207.0l2.5-3.7h-5zM567.4 211.6l2.5-3.7h-5zM553.8 164.4l2.5-3.7h-5zM568.8 188.5l2.5-3.7h-5z"/><path d="M582.0 200.4l2.5-3.7h-5zM546.1 203.6l2.5-3.7h-5zM576.4 206.8l2.5-3.7h-5zM567.3 186.0l2.5-3.7h-5zM544.2 219.3l2.5-3.7h-5zM568.9 184.2l2.5-3.7h-5z"/><path d="M601.5 204.1l2.5-3.7h-5zM576.7 213.8l2.5-3.7h-5zM580.5 193.9l2.5-3.7h-5zM547.8 200.0l2.5-3.7h-5zM553.3 200.5l2.5-3.7h-5zM566.1 201.4l2.5-3.7h-5z"/><path d="M566.5 211.0l2.5-3.7h-5zM558.9 188.1l2.5-3.7h-5zM598.2 202.0l2.5-3.7h-5zM547.0 177.7l2.5-3.7h-5zM586.5 196.6l2.5-3.7h-5zM564.5 224.5l2.5-3.7h-5z"/><path d="M546.9 212.3l2.5-3.7h-5zM558.6 233.6l2.5-3.7h-5zM547.5 202.9l2.5-3.7h-5zM586.5 200.3l2.5-3.7h-5zM563.3 202.6l2.5-3.7h-5zM548.2 182.6l2.5-3.7h-5z"/><path d="M555.3 171.5l2.5-3.7h-5zM608.8 201.2l2.5-3.7h-5zM552.0 192.7l2.5-3.7h-5zM571.3 206.4l2.5-3.7h-5zM554.8 187.3l2.5-3.7h-5zM558.5 167.9l2.5-3.7h-5z"/><path d="M561.1 219.7l2.5-3.7h-5zM553.0 189.7l2.5-3.7h-5zM595.8 201.8l2.5-3.7h-5zM537.5 202.0l2.5-3.7h-5zM578.2 205.1l2.5-3.7h-5zM611.5 201.0l2.5-3.7h-5z"/><path d="M563.6 227.4l2.5-3.7h-5zM557.0 202.3l2.5-3.7h-5zM572.6 218.0l2.5-3.7h-5zM554.8 187.2l2.5-3.7h-5zM614.8 201.1l2.5-3.7h-5zM560.2 196.8l2.5-3.7h-5z"/><path d="M549.6 193.8l2.5-3.7h-5zM543.3 182.5l2.5-3.7h-5zM556.2 165.1l2.5-3.7h-5zM549.2 222.6l2.5-3.7h-5zM545.7 200.3l2.5-3.7h-5zM556.8 233.6l2.5-3.7h-5z"/><path d="M556.6 202.9l2.5-3.7h-5zM556.8 230.0l2.5-3.7h-5zM556.1 228.9l2.5-3.7h-5zM552.7 220.0l2.5-3.7h-5zM563.7 179.0l2.5-3.7h-5zM604.8 198.3l2.5-3.7h-5z"/><path d="M546.1 174.6l2.5-3.7h-5zM591.6 198.4l2.5-3.7h-5zM545.7 188.3l2.5-3.7h-5zM569.4 218.0l2.5-3.7h-5zM569.4 189.1l2.5-3.7h-5zM568.3 222.2l2.5-3.7h-5z"/><path d="M553.8 184.2l2.5-3.7h-5zM561.6 202.6l2.5-3.7h-5zM556.4 236.1l2.5-3.7h-5zM551.8 236.8l2.5-3.7h-5zM561.3 206.2l2.5-3.7h-5zM572.4 185.0l2.5-3.7h-5z"/><path d="M541.8 197.3l2.5-3.7h-5zM546.3 182.0l2.5-3.7h-5zM594.9 198.3l2.5-3.7h-5zM556.3 217.3l2.5-3.7h-5zM553.9 208.0l2.5-3.7h-5zM548.1 217.8l2.5-3.7h-5z"/><path d="M603.7 199.1l2.5-3.7h-5zM557.3 230.2l2.5-3.7h-5zM548.4 216.5l2.5-3.7h-5zM556.0 227.2l2.5-3.7h-5zM587.2 193.8l2.5-3.7h-5zM557.8 231.4l2.5-3.7h-5z"/><path d="M572.8 191.0l2.5-3.7h-5zM552.6 212.1l2.5-3.7h-5zM559.1 214.2l2.5-3.7h-5zM543.7 218.2l2.5-3.7h-5zM551.2 219.0l2.5-3.7h-5zM561.3 217.3l2.5-3.7h-5z"/><path d="M566.2 201.7l2.5-3.7h-5zM593.4 203.8l2.5-3.7h-5zM558.5 181.2l2.5-3.7h-5zM550.3 186.9l2.5-3.7h-5zM602.9 204.4l2.5-3.7h-5zM583.8 203.7l2.5-3.7h-5z"/><path d="M541.0 199.2l2.5-3.7h-5zM558.5 221.3l2.5-3.7h-5zM573.0 202.8l2.5-3.7h-5zM596.9 202.0l2.5-3.7h-5zM561.1 188.9l2.5-3.7h-5zM555.8 216.5l2.5-3.7h-5z"/><path d="M547.0 225.7l2.5-3.7h-5zM563.4 177.3l2.5-3.7h-5zM573.9 208.3l2.5-3.7h-5zM572.8 207.0l2.5-3.7h-5zM575.8 196.3l2.5-3.7h-5zM559.2 233.4l2.5-3.7h-5z"/><path d="M553.5 190.1l2.5-3.7h-5zM550.2 184.2l2.5-3.7h-5zM546.1 189.5l2.5-3.7h-5zM585.8 195.1l2.5-3.7h-5zM550.5 221.9l2.5-3.7h-5zM588.6 207.8l2.5-3.7h-5z"/><path d="M609.9 202.6l2.5-3.7h-5zM560.0 170.2l2.5-3.7h-5zM573.0 187.7l2.5-3.7h-5zM555.4 226.5l2.5-3.7h-5zM550.9 225.0l2.5-3.7h-5zM569.5 218.0l2.5-3.7h-5z"/><path d="M574.1 192.8l2.5-3.7h-5zM554.5 221.4l2.5-3.7h-5zM605.2 200.3l2.5-3.7h-5zM552.7 197.2l2.5-3.7h-5zM553.7 178.3l2.5-3.7h-5zM587.7 198.9l2.5-3.7h-5z"/><path d="M545.1 177.5l2.5-3.7h-5zM565.3 181.8l2.5-3.7h-5zM559.3 216.7l2.5-3.7h-5zM557.0 191.8l2.5-3.7h-5zM539.1 197.8l2.5-3.7h-5zM552.9 170.6l2.5-3.7h-5z"/><path d="M599.8 198.2l2.5-3.7h-5zM565.5 189.8l2.5-3.7h-5zM557.7 200.7l2.5-3.7h-5zM549.8 175.8l2.5-3.7h-5zM559.5 225.6l2.5-3.7h-5zM547.4 230.1l2.5-3.7h-5z"/><path d="M548.5 191.7l2.5-3.7h-5zM553.8 180.0l2.5-3.7h-5zM557.5 213.0l2.5-3.7h-5zM552.5 191.7l2.5-3.7h-5zM547.8 204.8l2.5-3.7h-5zM590.0 200.2l2.5-3.7h-5z"/><path d="M570.5 190.8l2.5-3.7h-5zM572.5 215.0l2.5-3.7h-5zM574.9 202.3l2.5-3.7h-5zM612.1 201.3l2.5-3.7h-5zM604.8 201.9l2.5-3.7h-5zM543.6 221.5l2.5-3.7h-5z"/><path d="M555.4 199.9l2.5-3.7h-5zM565.7 220.0l2.5-3.7h-5zM577.2 208.2l2.5-3.7h-5zM602.1 200.9l2.5-3.7h-5zM565.2 186.1l2.5-3.7h-5zM618.1 201.3l2.5-3.7h-5z"/><path d="M561.9 199.6l2.5-3.7h-5zM565.3 217.3l2.5-3.7h-5zM569.4 208.5l2.5-3.7h-5zM574.5 216.9l2.5-3.7h-5zM566.0 220.4l2.5-3.7h-5zM547.2 214.1l2.5-3.7h-5z"/><path d="M547.6 196.8l2.5-3.7h-5zM543.4 190.6l2.5-3.7h-5zM545.8 189.5l2.5-3.7h-5zM543.3 209.5l2.5-3.7h-5zM567.5 195.2l2.5-3.7h-5zM554.5 233.2l2.5-3.7h-5z"/><path d="M562.5 184.7l2.5-3.7h-5zM561.1 192.3l2.5-3.7h-5zM554.3 227.7l2.5-3.7h-5zM550.0 190.1l2.5-3.7h-5zM559.0 226.9l2.5-3.7h-5zM548.6 196.4l2.5-3.7h-5z"/><path d="M556.9 180.8l2.5-3.7h-5zM558.2 211.4l2.5-3.7h-5zM551.3 224.9l2.5-3.7h-5zM565.4 212.3l2.5-3.7h-5zM552.0 173.6l2.5-3.7h-5zM580.2 197.4l2.5-3.7h-5z"/><path d="M550.3 226.2l2.5-3.7h-5zM540.5 203.6l2.5-3.7h-5zM555.0 191.6l2.5-3.7h-5zM546.6 207.0l2.5-3.7h-5zM577.0 200.1l2.5-3.7h-5zM570.6 215.3l2.5-3.7h-5z"/><path d="M592.9 205.5l2.5-3.7h-5zM539.3 203.5l2.5-3.7h-5zM608.9 200.2l2.5-3.7h-5zM555.7 235.5l2.5-3.7h-5zM559.3 197.4l2.5-3.7h-5zM596.8 204.2l2.5-3.7h-5z"/><path d="M549.2 203.2l2.5-3.7h-5zM612.8 200.8l2.5-3.7h-5zM551.9 191.6l2.5-3.7h-5zM606.9 203.5l2.5-3.7h-5zM559.7 186.9l2.5-3.7h-5zM557.7 180.1l2.5-3.7h-5z"/><path d="M564.6 181.7l2.5-3.7h-5zM544.2 189.6l2.5-3.7h-5zM566.0 205.3l2.5-3.7h-5zM583.4 200.3l2.5-3.7h-5zM609.6 202.8l2.5-3.7h-5zM544.7 219.4l2.5-3.7h-5z"/><path d="M550.2 223.2l2.5-3.7h-5zM561.1 223.5l2.5-3.7h-5zM571.4 215.3l2.5-3.7h-5zM566.8 213.1l2.5-3.7h-5zM543.0 186.8l2.5-3.7h-5zM549.8 233.9l2.5-3.7h-5z"/><path d="M544.8 206.7l2.5-3.7h-5zM559.9 229.8l2.5-3.7h-5zM559.9 213.0l2.5-3.7h-5zM565.3 206.7l2.5-3.7h-5zM560.5 192.6l2.5-3.7h-5zM544.6 212.7l2.5-3.7h-5z"/><path d="M563.2 218.8l2.5-3.7h-5zM563.3 211.1l2.5-3.7h-5zM574.8 200.0l2.5-3.7h-5zM559.2 201.2l2.5-3.7h-5zM584.0 197.9l2.5-3.7h-5zM552.8 230.6l2.5-3.7h-5z"/><path d="M567.5 204.2l2.5-3.7h-5zM605.4 199.8l2.5-3.7h-5zM553.0 214.0l2.5-3.7h-5zM614.9 201.3l2.5-3.7h-5zM559.9 175.9l2.5-3.7h-5zM551.8 199.8l2.5-3.7h-5z"/><path d="M589.2 203.6l2.5-3.7h-5zM567.5 179.2l2.5-3.7h-5zM583.6 194.2l2.5-3.7h-5zM545.5 227.4l2.5-3.7h-5zM557.2 221.2l2.5-3.7h-5zM545.6 181.5l2.5-3.7h-5z"/><path d="M554.5 182.3l2.5-3.7h-5zM608.1 201.4l2.5-3.7h-5zM576.3 209.5l2.5-3.7h-5zM565.2 225.7l2.5-3.7h-5zM557.9 227.1l2.5-3.7h-5zM546.5 174.0l2.5-3.7h-5z"/><path d="M580.0 205.6l2.5-3.7h-5zM549.8 197.6l2.5-3.7h-5zM577.0 190.4l2.5-3.7h-5zM600.0 202.3l2.5-3.7h-5zM610.9 202.2l2.5-3.7h-5zM558.0 168.7l2.5-3.7h-5z"/><path d="M564.7 178.6l2.5-3.7h-5zM549.0 170.2l2.5-3.7h-5zM582.2 194.6l2.5-3.7h-5zM605.6 202.2l2.5-3.7h-5zM544.2 181.8l2.5-3.7h-5zM555.7 189.2l2.5-3.7h-5z"/><path d="M612.8 201.1l2.5-3.7h-5zM563.9 204.4l2.5-3.7h-5zM556.3 174.7l2.5-3.7h-5zM558.2 229.9l2.5-3.7h-5zM582.0 194.7l2.5-3.7h-5zM573.6 211.3l2.5-3.7h-5z"/><path d="M561.1 230.5l2.5-3.7h-5zM575.4 194.8l2.5-3.7h-5zM545.3 177.3l2.5-3.7h-5zM573.5 209.9l2.5-3.7h-5zM553.2 189.8l2.5-3.7h-5zM558.9 196.0l2.5-3.7h-5z"/><path d="M609.6 202.5l2.5-3.7h-5zM564.5 176.9l2.5-3.7h-5zM587.0 195.8l2.5-3.7h-5zM611.2 201.9l2.5-3.7h-5zM547.6 184.1l2.5-3.7h-5zM555.8 179.4l2.5-3.7h-5z"/><path d="M556.4 163.8l2.5-3.7h-5zM543.1 220.5l2.5-3.7h-5zM567.6 207.1l2.5-3.7h-5zM573.3 215.6l2.5-3.7h-5zM560.4 191.6l2.5-3.7h-5zM546.4 189.9l2.5-3.7h-5z"/><path d="M579.5 196.6l2.5-3.7h-5zM567.8 181.1l2.5-3.7h-5zM546.8 194.4l2.5-3.7h-5zM546.5 229.1l2.5-3.7h-5zM538.9 202.2l2.5-3.7h-5zM584.0 202.5l2.5-3.7h-5z"/><path d="M596.0 202.5l2.5-3.7h-5zM542.7 218.7l2.5-3.7h-5zM549.9 222.3l2.5-3.7h-5zM592.7 205.1l2.5-3.7h-5zM546.2 179.7l2.5-3.7h-5zM547.4 231.3l2.5-3.7h-5z"/><path d="M546.0 189.0l2.5-3.7h-5zM565.9 198.2l2.5-3.7h-5zM576.6 203.0l2.5-3.7h-5zM554.3 214.0l2.5-3.7h-5zM548.8 188.9l2.5-3.7h-5zM572.3 185.5l2.5-3.7h-5z"/><path d="M584.0 203.5l2.5-3.7h-5zM572.3 200.8l2.5-3.7h-5zM556.4 233.3l2.5-3.7h-5zM540.7 192.1l2.5-3.7h-5zM579.3 198.0l2.5-3.7h-5zM542.3 206.2l2.5-3.7h-5z"/><path d="M572.7 201.3l2.5-3.7h-5zM563.3 199.9l2.5-3.7h-5zM548.0 229.1l2.5-3.7h-5zM589.4 196.0l2.5-3.7h-5zM555.2 204.9l2.5-3.7h-5zM582.4 206.3l2.5-3.7h-5z"/><path d="M571.6 183.8l2.5-3.7h-5zM564.9 198.1l2.5-3.7h-5zM544.3 223.4l2.5-3.7h-5zM549.2 189.8l2.5-3.7h-5zM539.5 201.2l2.5-3.7h-5zM592.7 205.8l2.5-3.7h-5z"/><path d="M565.0 205.9l2.5-3.7h-5zM560.7 186.5l2.5-3.7h-5zM560.6 230.2l2.5-3.7h-5zM563.2 198.4l2.5-3.7h-5zM573.9 185.1l2.5-3.7h-5zM542.4 185.2l2.5-3.7h-5z"/><path d="M541.8 198.9l2.5-3.7h-5zM556.0 213.6l2.5-3.7h-5zM567.1 186.6l2.5-3.7h-5zM582.4 203.6l2.5-3.7h-5zM557.3 181.6l2.5-3.7h-5zM568.0 220.1l2.5-3.7h-5z"/><path d="M580.2 204.2l2.5-3.7h-5zM539.3 203.7l2.5-3.7h-5zM573.9 201.3l2.5-3.7h-5zM590.2 200.5l2.5-3.7h-5zM556.7 212.9l2.5-3.7h-5zM547.0 198.4l2.5-3.7h-5z"/><path d="M544.0 184.3l2.5-3.7h-5zM554.6 237.3l2.5-3.7h-5zM554.0 202.8l2.5-3.7h-5zM558.6 227.7l2.5-3.7h-5zM549.3 198.4l2.5-3.7h-5zM573.8 198.1l2.5-3.7h-5z"/><path d="M577.5 207.3l2.5-3.7h-5zM569.8 181.6l2.5-3.7h-5zM541.6 201.7l2.5-3.7h-5zM551.2 200.5l2.5-3.7h-5zM556.3 231.6l2.5-3.7h-5zM560.3 216.8l2.5-3.7h-5z"/><path d="M556.6 228.0l2.5-3.7h-5zM567.8 183.9l2.5-3.7h-5zM593.9 202.8l2.5-3.7h-5zM560.4 230.6l2.5-3.7h-5zM563.3 228.3l2.5-3.7h-5zM572.9 185.7l2.5-3.7h-5z"/><path d="M574.5 198.0l2.5-3.7h-5zM545.0 185.4l2.5-3.7h-5zM576.5 192.8l2.5-3.7h-5zM576.2 200.0l2.5-3.7h-5zM574.4 203.6l2.5-3.7h-5zM567.4 177.6l2.5-3.7h-5z"/><path d="M558.9 221.3l2.5-3.7h-5zM549.4 173.3l2.5-3.7h-5zM565.3 206.4l2.5-3.7h-5zM554.4 239.5l2.5-3.7h-5zM561.9 220.9l2.5-3.7h-5zM552.4 196.3l2.5-3.7h-5z"/><path d="M577.4 207.2l2.5-3.7h-5zM560.7 207.4l2.5-3.7h-5zM559.5 194.9l2.5-3.7h-5zM545.8 184.8l2.5-3.7h-5zM546.6 207.6l2.5-3.7h-5zM544.8 181.8l2.5-3.7h-5z"/><path d="M596.7 197.8l2.5-3.7h-5zM553.3 200.5l2.5-3.7h-5zM558.2 208.0l2.5-3.7h-5zM553.9 200.1l2.5-3.7h-5zM574.1 211.1l2.5-3.7h-5zM594.0 199.7l2.5-3.7h-5z"/><path d="M547.1 174.3l2.5-3.7h-5zM567.6 191.3l2.5-3.7h-5zM563.4 184.6l2.5-3.7h-5zM582.6 208.4l2.5-3.7h-5zM562.6 203.1l2.5-3.7h-5zM554.3 235.7l2.5-3.7h-5z"/><path d="M550.6 173.5l2.5-3.7h-5zM551.6 199.7l2.5-3.7h-5zM555.6 229.1l2.5-3.7h-5zM583.3 195.0l2.5-3.7h-5zM571.5 194.2l2.5-3.7h-5zM552.8 219.7l2.5-3.7h-5z"/><path d="M552.9 168.5l2.5-3.7h-5zM599.2 200.3l2.5-3.7h-5zM551.4 178.6l2.5-3.7h-5zM571.1 210.3l2.5-3.7h-5zM548.1 174.1l2.5-3.7h-5zM556.4 209.4l2.5-3.7h-5z"/><path d="M549.8 206.7l2.5-3.7h-5zM573.8 214.8l2.5-3.7h-5zM591.6 200.9l2.5-3.7h-5zM570.2 220.0l2.5-3.7h-5zM564.1 197.8l2.5-3.7h-5zM601.5 199.2l2.5-3.7h-5z"/><path d="M565.7 179.8l2.5-3.7h-5zM550.6 187.2l2.5-3.7h-5zM542.0 215.8l2.5-3.7h-5zM541.7 211.0l2.5-3.7h-5zM583.0 202.3l2.5-3.7h-5zM607.5 201.5l2.5-3.7h-5z"/><path d="M569.7 186.9l2.5-3.7h-5zM566.6 197.6l2.5-3.7h-5zM558.2 222.9l2.5-3.7h-5zM562.5 195.2l2.5-3.7h-5zM559.9 193.6l2.5-3.7h-5zM573.4 213.3l2.5-3.7h-5z"/><path d="M556.5 224.6l2.5-3.7h-5zM558.6 232.7l2.5-3.7h-5zM569.1 198.5l2.5-3.7h-5zM595.3 207.0l2.5-3.7h-5zM551.7 219.8l2.5-3.7h-5zM573.6 204.8l2.5-3.7h-5z"/><path d="M551.8 215.7l2.5-3.7h-5zM562.9 221.3l2.5-3.7h-5zM568.7 207.3l2.5-3.7h-5zM574.4 206.2l2.5-3.7h-5zM573.5 212.6l2.5-3.7h-5zM556.2 236.1l2.5-3.7h-5z"/><path d="M555.3 190.1l2.5-3.7h-5zM556.9 205.4l2.5-3.7h-5zM547.8 179.2l2.5-3.7h-5zM591.9 204.5l2.5-3.7h-5zM551.8 210.8l2.5-3.7h-5zM540.1 200.3l2.5-3.7h-5z"/><path d="M593.9 199.5l2.5-3.7h-5zM561.8 171.2l2.5-3.7h-5zM555.8 186.1l2.5-3.7h-5zM565.9 206.4l2.5-3.7h-5zM567.1 191.7l2.5-3.7h-5zM550.0 170.4l2.5-3.7h-5z"/><path d="M547.1 216.4l2.5-3.7h-5zM612.5 200.4l2.5-3.7h-5zM561.7 176.1l2.5-3.7h-5zM592.3 204.6l2.5-3.7h-5zM541.0 192.0l2.5-3.7h-5zM578.8 194.7l2.5-3.7h-5z"/><path d="M546.8 225.1l2.5-3.7h-5zM557.4 237.0l2.5-3.7h-5zM543.5 198.9l2.5-3.7h-5zM565.0 184.0l2.5-3.7h-5zM546.7 175.2l2.5-3.7h-5zM616.8 201.5l2.5-3.7h-5z"/><path d="M554.2 208.0l2.5-3.7h-5zM558.1 183.9l2.5-3.7h-5zM560.6 190.4l2.5-3.7h-5zM557.2 169.1l2.5-3.7h-5zM544.9 179.1l2.5-3.7h-5zM605.4 200.4l2.5-3.7h-5z"/><path d="M570.4 210.6l2.5-3.7h-5zM583.7 204.3l2.5-3.7h-5zM541.4 206.5l2.5-3.7h-5zM577.1 210.9l2.5-3.7h-5zM597.7 198.3l2.5-3.7h-5zM577.4 190.9l2.5-3.7h-5z"/><path d="M593.3 201.7l2.5-3.7h-5zM544.2 209.6l2.5-3.7h-5zM541.3 214.3l2.5-3.7h-5zM555.6 218.6l2.5-3.7h-5zM555.3 204.9l2.5-3.7h-5zM572.3 188.3l2.5-3.7h-5z"/><path d="M554.5 198.1l2.5-3.7h-5zM554.0 197.7l2.5-3.7h-5zM549.2 212.7l2.5-3.7h-5zM552.3 203.1l2.5-3.7h-5zM571.2 194.3l2.5-3.7h-5zM552.0 179.8l2.5-3.7h-5z"/><path d="M554.4 167.2l2.5-3.7h-5zM573.2 196.8l2.5-3.7h-5zM548.6 186.4l2.5-3.7h-5zM552.7 236.1l2.5-3.7h-5zM564.4 176.0l2.5-3.7h-5zM568.0 195.0l2.5-3.7h-5z"/><path d="M567.1 222.9l2.5-3.7h-5zM550.3 178.0l2.5-3.7h-5zM565.2 187.6l2.5-3.7h-5zM585.3 208.0l2.5-3.7h-5zM572.7 218.5l2.5-3.7h-5zM559.5 196.3l2.5-3.7h-5z"/><path d="M577.9 210.8l2.5-3.7h-5zM550.0 177.8l2.5-3.7h-5zM567.0 191.8l2.5-3.7h-5zM573.8 191.8l2.5-3.7h-5zM579.3 206.2l2.5-3.7h-5zM551.0 193.1l2.5-3.7h-5z"/><path d="M608.3 199.3l2.5-3.7h-5zM575.4 213.2l2.5-3.7h-5zM592.1 204.0l2.5-3.7h-5zM542.3 183.4l2.5-3.7h-5zM606.3 201.2l2.5-3.7h-5zM553.0 172.6l2.5-3.7h-5z"/><path d="M553.2 196.9l2.5-3.7h-5zM552.7 230.7l2.5-3.7h-5zM591.2 205.1l2.5-3.7h-5zM554.5 237.2l2.5-3.7h-5zM581.3 202.8l2.5-3.7h-5zM579.3 193.4l2.5-3.7h-5z"/><path d="M549.3 186.0l2.5-3.7h-5zM561.5 201.4l2.5-3.7h-5zM554.1 187.5l2.5-3.7h-5zM587.6 196.8l2.5-3.7h-5zM581.5 201.5l2.5-3.7h-5zM549.0 175.8l2.5-3.7h-5z"/><path d="M551.1 200.6l2.5-3.7h-5zM542.8 216.5l2.5-3.7h-5zM564.3 198.4l2.5-3.7h-5zM616.5 201.5l2.5-3.7h-5zM554.8 212.3l2.5-3.7h-5zM552.0 204.8l2.5-3.7h-5z"/><path d="M588.0 198.1l2.5-3.7h-5zM594.7 197.3l2.5-3.7h-5zM574.3 190.8l2.5-3.7h-5zM540.8 209.9l2.5-3.7h-5zM567.9 186.0l2.5-3.7h-5zM576.1 190.2l2.5-3.7h-5z"/><path d="M567.6 203.6l2.5-3.7h-5zM541.1 203.8l2.5-3.7h-5zM574.6 203.0l2.5-3.7h-5zM558.0 175.8l2.5-3.7h-5zM555.7 208.9l2.5-3.7h-5zM546.6 221.1l2.5-3.7h-5z"/><path d="M594.8 197.5l2.5-3.7h-5zM583.4 203.2l2.5-3.7h-5zM554.0 194.5l2.5-3.7h-5zM544.2 189.5l2.5-3.7h-5zM540.8 205.3l2.5-3.7h-5zM568.1 179.6l2.5-3.7h-5z"/><path d="M564.3 209.1l2.5-3.7h-5zM553.6 225.8l2.5-3.7h-5zM572.9 216.9l2.5-3.7h-5zM546.9 207.7l2.5-3.7h-5zM593.3 204.9l2.5-3.7h-5zM546.6 216.8l2.5-3.7h-5z"/><path d="M546.6 205.7l2.5-3.7h-5zM560.0 185.3l2.5-3.7h-5zM615.4 200.0l2.5-3.7h-5zM579.8 203.7l2.5-3.7h-5zM552.2 194.2l2.5-3.7h-5zM565.5 183.8l2.5-3.7h-5z"/><path d="M571.1 212.2l2.5-3.7h-5zM561.4 182.9l2.5-3.7h-5zM554.2 193.1l2.5-3.7h-5zM550.4 208.3l2.5-3.7h-5zM543.9 179.9l2.5-3.7h-5zM579.1 212.2l2.5-3.7h-5z"/><path d="M540.1 207.2l2.5-3.7h-5zM585.9 200.6l2.5-3.7h-5zM544.3 211.0l2.5-3.7h-5zM568.4 188.2l2.5-3.7h-5zM546.9 214.5l2.5-3.7h-5zM614.7 201.4l2.5-3.7h-5z"/><path d="M570.9 214.4l2.5-3.7h-5zM549.7 198.9l2.5-3.7h-5zM606.3 199.4l2.5-3.7h-5zM562.3 201.4l2.5-3.7h-5zM563.0 213.7l2.5-3.7h-5zM576.9 205.5l2.5-3.7h-5z"/><path d="M544.1 220.2l2.5-3.7h-5zM551.1 199.5l2.5-3.7h-5zM599.7 204.8l2.5-3.7h-5zM558.5 230.7l2.5-3.7h-5zM541.6 217.2l2.5-3.7h-5zM571.2 217.9l2.5-3.7h-5z"/><path d="M589.1 204.2l2.5-3.7h-5zM557.6 187.7l2.5-3.7h-5zM578.2 192.3l2.5-3.7h-5zM557.2 180.9l2.5-3.7h-5zM557.4 214.0l2.5-3.7h-5zM589.2 204.6l2.5-3.7h-5z"/><path d="M542.3 199.3l2.5-3.7h-5zM562.2 219.5l2.5-3.7h-5zM571.7 217.5l2.5-3.7h-5zM554.9 178.3l2.5-3.7h-5zM564.8 194.5l2.5-3.7h-5zM578.7 197.4l2.5-3.7h-5z"/><path d="M551.0 167.9l2.5-3.7h-5zM570.0 207.4l2.5-3.7h-5zM589.7 205.3l2.5-3.7h-5zM565.0 205.0l2.5-3.7h-5zM543.1 190.9l2.5-3.7h-5zM549.7 225.7l2.5-3.7h-5z"/><path d="M588.9 204.8l2.5-3.7h-5zM582.4 204.5l2.5-3.7h-5zM558.1 177.0l2.5-3.7h-5z"/></g><path d="M55.4 13.6H208.4V243.4H55.4ZM55.4 142.8H208.4M213.3 13.6H366.4V243.4H213.3ZM213.3 142.8H366.4M370.7 13.6H523.8V243.4H370.7ZM370.7 142.8H523.8M528.5 13.6H681.4V243.4H528.5ZM528.5 142.8H681.4" stroke="#9a9a9a" stroke-width="1" fill="none"/><path d="M55.6 243.4V247.6M87.1 243.4V247.6M118.6 243.4V247.6M150.1 243.4V247.6M181.6 243.4V247.6M213.5 243.4V247.6M245.0 243.4V247.6M276.5 243.4V247.6M308.0 243.4V247.6M339.5 243.4V247.6M370.9 243.4V247.6M402.4 243.4V247.6M433.9 243.4V247.6M465.4 243.4V247.6M496.9 243.4V247.6M528.7 243.4V247.6M560.2 243.4V247.6M591.7 243.4V247.6M623.2 243.4V247.6M654.7 243.4V247.6M50.8 142.8H55.4M50.8 90.1H55.4M50.8 37.4H55.4" stroke="#9a9a9a" stroke-width="0.9" fill="none"/><text x="55.6" y="258.9" font-size="9.90" text-anchor="middle" fill="#333333" stroke="#333333" stroke-width="0.12">0</text><text x="87.1" y="258.9" font-size="9.90" text-anchor="middle" fill="#333333" stroke="#333333" stroke-width="0.12">1</text><text x="118.6" y="258.9" font-size="9.90" text-anchor="middle" fill="#333333" stroke="#333333" stroke-width="0.12">2</text><text x="150.1" y="258.9" font-size="9.90" text-anchor="middle" fill="#333333" stroke="#333333" stroke-width="0.12">3</text><text x="181.6" y="258.9" font-size="9.90" text-anchor="middle" fill="#333333" stroke="#333333" stroke-width="0.12">4</text><text x="213.5" y="258.9" font-size="9.90" text-anchor="middle" fill="#333333" stroke="#333333" stroke-width="0.12">0</text><text x="245.0" y="258.9" font-size="9.90" text-anchor="middle" fill="#333333" stroke="#333333" stroke-width="0.12">1</text><text x="276.5" y="258.9" font-size="9.90" text-anchor="middle" fill="#333333" stroke="#333333" stroke-width="0.12">2</text><text x="308.0" y="258.9" font-size="9.90" text-anchor="middle" fill="#333333" stroke="#333333" stroke-width="0.12">3</text><text x="339.5" y="258.9" font-size="9.90" text-anchor="middle" fill="#333333" stroke="#333333" stroke-width="0.12">4</text><text x="370.9" y="258.9" font-size="9.90" text-anchor="middle" fill="#333333" stroke="#333333" stroke-width="0.12">0</text><text x="402.4" y="258.9" font-size="9.90" text-anchor="middle" fill="#333333" stroke="#333333" stroke-width="0.12">1</text><text x="433.9" y="258.9" font-size="9.90" text-anchor="middle" fill="#333333" stroke="#333333" stroke-width="0.12">2</text><text x="465.4" y="258.9" font-size="9.90" text-anchor="middle" fill="#333333" stroke="#333333" stroke-width="0.12">3</text><text x="496.9" y="258.9" font-size="9.90" text-anchor="middle" fill="#333333" stroke="#333333" stroke-width="0.12">4</text><text x="528.7" y="258.9" font-size="9.90" text-anchor="middle" fill="#333333" stroke="#333333" stroke-width="0.12">0</text><text x="560.2" y="258.9" font-size="9.90" text-anchor="middle" fill="#333333" stroke="#333333" stroke-width="0.12">1</text><text x="591.7" y="258.9" font-size="9.90" text-anchor="middle" fill="#333333" stroke="#333333" stroke-width="0.12">2</text><text x="623.2" y="258.9" font-size="9.90" text-anchor="middle" fill="#333333" stroke="#333333" stroke-width="0.12">3</text><text x="654.7" y="258.9" font-size="9.90" text-anchor="middle" fill="#333333" stroke="#333333" stroke-width="0.12">4</text><text x="46.4" y="146.3" font-size="9.90" text-anchor="end" fill="#333333" stroke="#333333" stroke-width="0.12">0</text><text x="46.4" y="93.6" font-size="9.90" text-anchor="end" fill="#333333" stroke="#333333" stroke-width="0.12">2</text><text x="46.4" y="40.9" font-size="9.90" text-anchor="end" fill="#333333" stroke="#333333" stroke-width="0.12">4</text><text x="114.5" y="9.0" font-size="10.40" textLength="35.1" lengthAdjust="spacingAndGlyphs" fill="#333333" stroke="#333333" stroke-width="0.12">GI tract</text><text x="243.1" y="9.0" font-size="10.40" textLength="93.8" lengthAdjust="spacingAndGlyphs" fill="#333333" stroke="#333333" stroke-width="0.12">GI lymphoid tissues</text><text x="389.2" y="9.0" font-size="10.40" textLength="116.5" lengthAdjust="spacingAndGlyphs" fill="#333333" stroke="#333333" stroke-width="0.12">Non-GI lymphoid tissues</text><text x="553.9" y="9.0" font-size="10.40" textLength="103.0" lengthAdjust="spacingAndGlyphs" fill="#333333" stroke="#333333" stroke-width="0.12">Non-lymphoid tissues</text><text x="70.6" y="29.2" font-size="10.00" textLength="122.3" lengthAdjust="spacingAndGlyphs" fill="#333333" stroke="#333333" stroke-width="0.12">DNA<tspan font-size="6.8" dy="-4.4">+</tspan><tspan dy="4.4">RNA</tspan><tspan font-size="6.8" dy="-4.4">+</tspan><tspan dy="4.4"> (<tspan font-style="italic">n</tspan> = 1,366; 17%)</tspan></text><text x="226.7" y="29.2" font-size="10.00" textLength="126.6" lengthAdjust="spacingAndGlyphs" fill="#333333" stroke="#333333" stroke-width="0.12">DNA<tspan font-size="6.8" dy="-4.4">+</tspan><tspan dy="4.4">RNA</tspan><tspan font-size="6.8" dy="-4.4">+</tspan><tspan dy="4.4"> (<tspan font-style="italic">n</tspan> = 2,580; 16%)</tspan></text><text x="391.6" y="29.2" font-size="10.00" textLength="112.0" lengthAdjust="spacingAndGlyphs" fill="#333333" stroke="#333333" stroke-width="0.12">DNA<tspan font-size="6.8" dy="-4.4">+</tspan><tspan dy="4.4">RNA</tspan><tspan font-size="6.8" dy="-4.4">+</tspan><tspan dy="4.4"> (<tspan font-style="italic">n</tspan> = 720; 9%)</tspan></text><text x="552.7" y="29.2" font-size="10.00" textLength="105.4" lengthAdjust="spacingAndGlyphs" fill="#333333" stroke="#333333" stroke-width="0.12">DNA<tspan font-size="6.8" dy="-4.4">+</tspan><tspan dy="4.4">RNA</tspan><tspan font-size="6.8" dy="-4.4">+</tspan><tspan dy="4.4"> (<tspan font-style="italic">n</tspan> = 10; 3%)</tspan></text><text x="92.1" y="157.2" font-size="10.00" textLength="98.9" lengthAdjust="spacingAndGlyphs" fill="#333333" stroke="#333333" stroke-width="0.12">DNA<tspan font-size="6.8" dy="-4.4">+</tspan><tspan dy="4.4"> only (<tspan font-style="italic">n</tspan> = 6,478)</tspan></text><text x="244.5" y="157.2" font-size="10.00" textLength="105.6" lengthAdjust="spacingAndGlyphs" fill="#333333" stroke="#333333" stroke-width="0.12">DNA<tspan font-size="6.8" dy="-4.4">+</tspan><tspan dy="4.4"> only (<tspan font-style="italic">n</tspan> = 13,206)</tspan></text><text x="408.2" y="157.2" font-size="10.00" textLength="97.1" lengthAdjust="spacingAndGlyphs" fill="#333333" stroke="#333333" stroke-width="0.12">DNA<tspan font-size="6.8" dy="-4.4">+</tspan><tspan dy="4.4"> only (<tspan font-style="italic">n</tspan> = 7,614)</tspan></text><text x="565.1" y="157.2" font-size="10.00" textLength="89.9" lengthAdjust="spacingAndGlyphs" fill="#333333" stroke="#333333" stroke-width="0.12">DNA<tspan font-size="6.8" dy="-4.4">+</tspan><tspan dy="4.4"> only (<tspan font-style="italic">n</tspan> = 317)</tspan></text><text x="0.2" y="8.1" font-size="14.50" font-weight="bold" fill="#000">a</text><text fill="#333333" stroke="#333333" stroke-width="0.12" transform="translate(31.8,88.9) rotate(-90)" text-anchor="middle" font-size="10" textLength="98" lengthAdjust="spacingAndGlyphs">log<tspan font-size="7" dy="3.0">10</tspan><tspan dy="-3.0">(Barcode vRNA)</tspan></text><text x="319.0" y="274.3" font-size="10.00" textLength="99.0" lengthAdjust="spacingAndGlyphs" fill="#333333" stroke="#333333" stroke-width="0.12">log<tspan font-size="7" dy="3.0">10</tspan><tspan dy="-3.0">(Barcode vDNA)</tspan></text><text x="0.3" y="294.6" font-size="14.50" font-weight="bold" fill="#000">b</text><g stroke="#4a4a4a" stroke-width="0.6"><rect x="50.40" y="474.86" width="9.30" height="37.64" fill="#ee6aa7"/><rect x="59.70" y="419.43" width="9.30" height="93.07" fill="#ee6aa7"/><rect x="69.00" y="365.04" width="9.30" height="147.46" fill="#ee6aa7"/><rect x="78.30" y="330.20" width="9.30" height="182.30" fill="#ee6aa7"/><rect x="87.60" y="315.99" width="9.30" height="196.51" fill="#ee6aa7"/><rect x="96.90" y="323.12" width="9.30" height="189.38" fill="#ee6aa7"/><rect x="106.20" y="337.33" width="9.30" height="175.17" fill="#ee6aa7"/><rect x="115.50" y="362.30" width="9.30" height="150.20" fill="#ee6aa7"/><rect x="124.80" y="389.32" width="9.30" height="123.18" fill="#ee6aa7"/><rect x="134.10" y="425.41" width="9.30" height="87.09" fill="#ee6aa7"/><rect x="143.40" y="444.60" width="9.30" height="67.90" fill="#ee6aa7"/><rect x="152.70" y="462.20" width="9.30" height="50.30" fill="#ee6aa7"/><rect x="162.00" y="478.10" width="9.30" height="34.40" fill="#ee6aa7"/><rect x="171.30" y="488.32" width="9.30" height="24.18" fill="#ee6aa7"/><rect x="180.60" y="496.30" width="9.30" height="16.20" fill="#ee6aa7"/><rect x="189.90" y="502.53" width="9.30" height="9.97" fill="#ee6aa7"/><rect x="199.20" y="507.51" width="9.30" height="4.98" fill="#ee6aa7"/><rect x="208.50" y="509.41" width="9.30" height="3.09" fill="#ee6aa7"/><rect x="217.80" y="510.61" width="9.30" height="1.89" fill="#ee6aa7"/><rect x="227.10" y="511.30" width="9.30" height="1.20" fill="#ee6aa7"/><rect x="236.40" y="511.80" width="9.30" height="0.70" fill="#ee6aa7"/><rect x="245.70" y="512.10" width="9.30" height="0.40" fill="#ee6aa7"/><rect x="255.00" y="512.25" width="9.30" height="0.25" fill="#ee6aa7"/><rect x="50.40" y="511.25" width="9.30" height="1.25" fill="#2bbcc6"/><rect x="59.70" y="510.51" width="9.30" height="1.99" fill="#2bbcc6"/><rect x="69.00" y="508.11" width="9.30" height="4.39" fill="#2bbcc6"/><rect x="78.30" y="506.42" width="9.30" height="6.08" fill="#2bbcc6"/><rect x="87.60" y="502.28" width="9.30" height="10.22" fill="#2bbcc6"/><rect x="96.90" y="500.54" width="9.30" height="11.96" fill="#2bbcc6"/><rect x="106.20" y="495.40" width="9.30" height="17.10" fill="#2bbcc6"/><rect x="115.50" y="493.31" width="9.30" height="19.19" fill="#2bbcc6"/><rect x="124.80" y="490.57" width="9.30" height="21.93" fill="#2bbcc6"/><rect x="134.10" y="491.46" width="9.30" height="21.04" fill="#2bbcc6"/><rect x="143.40" y="488.57" width="9.30" height="23.93" fill="#2bbcc6"/><rect x="152.70" y="490.57" width="9.30" height="21.93" fill="#2bbcc6"/><rect x="162.00" y="492.46" width="9.30" height="20.04" fill="#2bbcc6"/><rect x="171.30" y="496.30" width="9.30" height="16.20" fill="#2bbcc6"/><rect x="180.60" y="499.79" width="9.30" height="12.71" fill="#2bbcc6"/><rect x="189.90" y="503.53" width="9.30" height="8.97" fill="#2bbcc6"/><rect x="199.20" y="507.51" width="9.30" height="4.98" fill="#2bbcc6"/><rect x="208.50" y="509.41" width="9.30" height="3.09" fill="#2bbcc6"/><rect x="217.80" y="510.61" width="9.30" height="1.89" fill="#2bbcc6"/><rect x="227.10" y="511.30" width="9.30" height="1.20" fill="#2bbcc6"/><rect x="236.40" y="511.80" width="9.30" height="0.70" fill="#2bbcc6"/><rect x="245.70" y="512.10" width="9.30" height="0.40" fill="#2bbcc6"/><rect x="255.00" y="512.25" width="9.30" height="0.25" fill="#2bbcc6"/></g><path d="M50.6 298.2V512.5H264.3M46.1 512.5H50.6M46.1 462.6H50.6M46.1 412.8H50.6M46.1 363.0H50.6M46.1 313.1H50.6M50.4 512.5V516.5M96.9 512.5V516.5M143.4 512.5V516.5M189.9 512.5V516.5M236.4 512.5V516.5" stroke="#6a6a6a" stroke-width="0.9" fill="none"/><text x="41.2" y="515.2" font-size="9.50" text-anchor="end" fill="#333333" stroke="#333333" stroke-width="0.12">0</text><text x="41.2" y="465.3" font-size="9.50" text-anchor="end" textLength="24.0" lengthAdjust="spacingAndGlyphs" fill="#333333" stroke="#333333" stroke-width="0.12">1,000</text><text x="41.2" y="415.5" font-size="9.50" text-anchor="end" textLength="24.0" lengthAdjust="spacingAndGlyphs" fill="#333333" stroke="#333333" stroke-width="0.12">2,000</text><text x="41.2" y="365.7" font-size="9.50" text-anchor="end" textLength="24.0" lengthAdjust="spacingAndGlyphs" fill="#333333" stroke="#333333" stroke-width="0.12">3,000</text><text x="41.2" y="315.8" font-size="9.50" text-anchor="end" textLength="24.0" lengthAdjust="spacingAndGlyphs" fill="#333333" stroke="#333333" stroke-width="0.12">4,000</text><text x="50.4" y="527.1" font-size="9.60" text-anchor="middle" fill="#333333" stroke="#333333" stroke-width="0.12">0</text><text x="96.9" y="527.1" font-size="9.60" text-anchor="middle" fill="#333333" stroke="#333333" stroke-width="0.12">1</text><text x="143.4" y="527.1" font-size="9.60" text-anchor="middle" fill="#333333" stroke="#333333" stroke-width="0.12">2</text><text x="189.9" y="527.1" font-size="9.60" text-anchor="middle" fill="#333333" stroke="#333333" stroke-width="0.12">3</text><text x="236.4" y="527.1" font-size="9.60" text-anchor="middle" fill="#333333" stroke="#333333" stroke-width="0.12">4</text><text fill="#333333" stroke="#333333" stroke-width="0.12" transform="translate(9.6,405.2) rotate(-90)" text-anchor="middle" font-size="10.3" textLength="28.3" lengthAdjust="spacingAndGlyphs">Count</text><text x="108.2" y="542.6" font-size="10.00" textLength="98.7" lengthAdjust="spacingAndGlyphs" fill="#333333" stroke="#333333" stroke-width="0.12">log<tspan font-size="7" dy="3.0">10</tspan><tspan dy="-3.0">(Barcode vDNA)</tspan></text><circle cx="164.1" cy="322.1" r="3.8" fill="#ee6aa7" stroke="#5a3a48" stroke-width="0.5"/><circle cx="164.1" cy="344.2" r="3.8" fill="#2bbcc6" stroke="#2a4a4c" stroke-width="0.5"/><text x="174.7" y="326.0" font-size="10.30" textLength="47.6" lengthAdjust="spacingAndGlyphs" fill="#333333" stroke="#333333" stroke-width="0.12">DNA<tspan font-size="6.8" dy="-3.6">+</tspan><tspan dy="3.6"> only</tspan></text><text x="174.7" y="347.7" font-size="10.30" textLength="48.0" lengthAdjust="spacingAndGlyphs" fill="#333333" stroke="#333333" stroke-width="0.12">DNA<tspan font-size="6.8" dy="-3.6">+</tspan><tspan dy="3.6">RNA</tspan><tspan font-size="6.8" dy="-3.6">+</tspan><tspan dy="3.6"></tspan></text><text x="269.6" y="295.6" font-size="14.50" font-weight="bold" fill="#000">c</text><path d="M357.4 312.5V512.3M399.1 312.5V512.3M440.8 312.5V512.3M482.4 312.5V512.3M524.0 312.5V512.3M565.7 312.5V512.3M607.4 312.5V512.3M649.0 312.5V512.3M315.8 487.5H684.6M315.8 462.8H684.6M315.8 438.0H684.6M315.8 413.3H684.6M315.8 388.5H684.6M315.8 363.8H684.6M315.8 339.0H684.6" stroke="#ececec" stroke-width="0.8" fill="none"/><path d="M315.8 511.4L319.9 511.3L324.1 511.2L328.2 511.1L332.4 511.0L336.5 510.8L340.7 510.7L344.8 510.5L349.0 510.3L353.1 510.1L357.2 509.8L361.4 509.6L365.5 509.3L369.7 508.9L373.8 508.6L378.0 508.2L382.1 507.7L386.2 507.2L390.4 506.7L394.5 506.1L398.7 505.4L402.8 504.7L407.0 503.9L411.1 503.0L415.3 502.0L419.4 500.9L423.5 499.7L427.7 498.4L431.8 497.0L436.0 495.4L440.1 493.7L444.3 491.9L448.4 489.9L452.5 487.7L456.7 485.3L460.8 482.7L465.0 480.0L469.1 477.0L473.3 473.9L477.4 470.5L481.6 466.9L485.7 463.1L489.8 459.1L494.0 454.9L498.1 450.5L502.3 446.0L506.4 441.2L510.6 436.4L514.7 431.4L518.8 426.3L523.0 421.1L527.1 415.9L531.3 410.7L535.4 405.5L539.6 400.3L543.7 395.2L547.9 390.2L552.0 385.4L556.1 380.6L560.3 376.1L564.4 371.7L568.6 367.5L572.7 363.5L576.9 359.7L581.0 356.1L585.1 352.7L589.3 349.6L593.4 346.6L597.6 343.9L601.7 341.3L605.9 338.9L610.0 336.8L614.2 334.7L618.3 332.9L622.4 331.2L626.6 329.6L630.7 328.2L634.9 326.9L639.0 325.7L643.2 324.6L647.3 323.6L651.4 322.7L655.6 321.9L659.7 321.2L663.9 320.5L668.0 319.9L672.2 319.4L676.3 318.9L680.5 318.4L684.6 318.0L684.6 328.0L680.5 329.4L676.3 330.9L672.2 332.6L668.0 334.4L663.9 336.4L659.7 338.5L655.6 340.9L651.4 343.4L647.3 346.1L643.2 349.0L639.0 352.2L634.9 355.5L630.7 359.0L626.6 362.8L622.4 366.8L618.3 370.9L614.2 375.3L610.0 379.8L605.9 384.5L601.7 389.4L597.6 394.4L593.4 399.4L589.3 404.6L585.1 409.8L581.0 415.0L576.9 420.2L572.7 425.4L568.6 430.5L564.4 435.5L560.3 440.4L556.1 445.2L552.0 449.8L547.9 454.2L543.7 458.4L539.6 462.4L535.4 466.3L531.3 469.9L527.1 473.3L523.0 476.5L518.8 479.5L514.7 482.3L510.6 484.9L506.4 487.3L502.3 489.5L498.1 491.5L494.0 493.4L489.8 495.1L485.7 496.7L481.6 498.2L477.4 499.5L473.3 500.7L469.1 501.8L465.0 502.8L460.8 503.7L456.7 504.5L452.5 505.3L448.4 506.0L444.3 506.6L440.1 507.1L436.0 507.6L431.8 508.1L427.7 508.5L423.5 508.9L419.4 509.2L415.3 509.5L411.1 509.8L407.0 510.0L402.8 510.3L398.7 510.5L394.5 510.7L390.4 510.8L386.2 511.0L382.1 511.1L378.0 511.2L373.8 511.3L369.7 511.4L365.5 511.5L361.4 511.6L357.2 511.7L353.1 511.7L349.0 511.8L344.8 511.8L340.7 511.9L336.5 511.9L332.4 512.0L328.2 512.0L324.1 512.0L319.9 512.1L315.8 512.1 Z" fill="#eddff0" fill-opacity="1.00"/><path d="M315.8 511.4L319.9 511.3L324.1 511.1L328.2 511.0L332.4 510.9L336.5 510.7L340.7 510.6L344.8 510.4L349.0 510.1L353.1 509.9L357.2 509.6L361.4 509.4L365.5 509.0L369.7 508.7L373.8 508.3L378.0 507.8L382.1 507.4L386.2 506.8L390.4 506.2L394.5 505.6L398.7 504.9L402.8 504.1L407.0 503.2L411.1 502.2L415.3 501.2L419.4 500.0L423.5 498.8L427.7 497.4L431.8 495.8L436.0 494.2L440.1 492.4L444.3 490.4L448.4 488.2L452.5 485.9L456.7 483.4L460.8 480.7L465.0 477.8L469.1 474.7L473.3 471.4L477.4 467.9L481.6 464.1L485.7 460.2L489.8 456.0L494.0 451.7L498.1 447.2L502.3 442.5L506.4 437.6L510.6 432.7L514.7 427.6L518.8 422.5L523.0 417.3L527.1 412.0L531.3 406.8L535.4 401.7L539.6 396.5L543.7 391.5L547.9 386.6L552.0 381.8L556.1 377.2L560.3 372.8L564.4 368.5L568.6 364.5L572.7 360.6L576.9 357.0L581.0 353.6L585.1 350.4L589.3 347.4L593.4 344.6L597.6 341.9L601.7 339.5L605.9 337.3L610.0 335.2L614.2 333.3L618.3 331.6L622.4 330.0L626.6 328.6L630.7 327.2L634.9 326.0L639.0 324.9L643.2 323.9L647.3 323.0L651.4 322.1L655.6 321.4L659.7 320.7L663.9 320.1L668.0 319.5L672.2 319.0L676.3 318.5L680.5 318.1L684.6 317.7L684.6 319.9L680.5 320.5L676.3 321.2L672.2 321.9L668.0 322.7L663.9 323.6L659.7 324.6L655.6 325.7L651.4 326.8L647.3 328.1L643.2 329.6L639.0 331.1L634.9 332.8L630.7 334.7L626.6 336.7L622.4 338.9L618.3 341.2L614.2 343.8L610.0 346.5L605.9 349.5L601.7 352.6L597.6 356.0L593.4 359.5L589.3 363.3L585.1 367.3L581.0 371.5L576.9 375.9L572.7 380.5L568.6 385.2L564.4 390.1L560.3 395.0L556.1 400.1L552.0 405.3L547.9 410.5L543.7 415.7L539.6 420.9L535.4 426.1L531.3 431.2L527.1 436.2L523.0 441.1L518.8 445.8L514.7 450.4L510.6 454.8L506.4 459.0L502.3 463.0L498.1 466.8L494.0 470.4L489.8 473.7L485.7 476.9L481.6 479.9L477.4 482.6L473.3 485.2L469.1 487.6L465.0 489.8L460.8 491.8L456.7 493.6L452.5 495.4L448.4 496.9L444.3 498.4L440.1 499.7L436.0 500.9L431.8 501.9L427.7 502.9L423.5 503.8L419.4 504.6L415.3 505.4L411.1 506.0L407.0 506.7L402.8 507.2L398.7 507.7L394.5 508.2L390.4 508.6L386.2 508.9L382.1 509.3L378.0 509.6L373.8 509.8L369.7 510.1L365.5 510.3L361.4 510.5L357.2 510.7L353.1 510.8L349.0 511.0L344.8 511.1L340.7 511.2L336.5 511.3L332.4 511.4L328.2 511.5L324.1 511.6L319.9 511.7L315.8 511.7 Z" fill="#d6d6d6" fill-opacity="0.95"/><path d="M315.8 510.5L319.9 510.3L324.1 510.1L328.2 509.9L332.4 509.6L336.5 509.3L340.7 509.0L344.8 508.6L349.0 508.2L353.1 507.8L357.2 507.3L361.4 506.8L365.5 506.2L369.7 505.5L373.8 504.8L378.0 504.0L382.1 503.1L386.2 502.1L390.4 501.1L394.5 499.9L398.7 498.6L402.8 497.2L407.0 495.7L411.1 494.0L415.3 492.1L419.4 490.2L423.5 488.0L427.7 485.7L431.8 483.1L436.0 480.4L440.1 477.5L444.3 474.4L448.4 471.0L452.5 467.5L456.7 463.7L460.8 459.7L465.0 455.6L469.1 451.2L473.3 446.6L477.4 441.9L481.6 437.1L485.7 432.1L489.8 427.0L494.0 421.9L498.1 416.7L502.3 411.5L506.4 406.2L510.6 401.1L514.7 396.0L518.8 391.0L523.0 386.1L527.1 381.3L531.3 376.7L535.4 372.3L539.6 368.1L543.7 364.1L547.9 360.2L552.0 356.6L556.1 353.2L560.3 350.0L564.4 347.0L568.6 344.3L572.7 341.7L576.9 339.3L581.0 337.1L585.1 335.0L589.3 333.1L593.4 331.4L597.6 329.8L601.7 328.4L605.9 327.1L610.0 325.9L614.2 324.8L618.3 323.8L622.4 322.9L626.6 322.0L630.7 321.3L634.9 320.6L639.0 320.0L643.2 319.5L647.3 318.9L651.4 318.5L655.6 318.1L659.7 317.7L663.9 317.4L668.0 317.1L672.2 316.8L676.3 316.5L680.5 316.3L684.6 316.1L684.6 317.3L680.5 317.6L676.3 317.9L672.2 318.3L668.0 318.8L663.9 319.3L659.7 319.8L655.6 320.4L651.4 321.0L647.3 321.8L643.2 322.6L639.0 323.4L634.9 324.4L630.7 325.4L626.6 326.6L622.4 327.9L618.3 329.3L614.2 330.8L610.0 332.5L605.9 334.3L601.7 336.3L597.6 338.4L593.4 340.7L589.3 343.3L585.1 346.0L581.0 348.9L576.9 352.0L572.7 355.3L568.6 358.8L564.4 362.6L560.3 366.5L556.1 370.7L552.0 375.0L547.9 379.6L543.7 384.3L539.6 389.1L535.4 394.1L531.3 399.1L527.1 404.3L523.0 409.5L518.8 414.7L514.7 419.9L510.6 425.1L506.4 430.2L502.3 435.2L498.1 440.1L494.0 444.9L489.8 449.5L485.7 453.9L481.6 458.2L477.4 462.2L473.3 466.1L469.1 469.7L465.0 473.1L460.8 476.3L456.7 479.3L452.5 482.1L448.4 484.7L444.3 487.1L440.1 489.4L436.0 491.4L431.8 493.3L427.7 495.0L423.5 496.6L419.4 498.1L415.3 499.4L411.1 500.6L407.0 501.7L402.8 502.7L398.7 503.7L394.5 504.5L390.4 505.2L386.2 505.9L382.1 506.5L378.0 507.1L373.8 507.6L369.7 508.1L365.5 508.5L361.4 508.9L357.2 509.2L353.1 509.5L349.0 509.8L344.8 510.0L340.7 510.3L336.5 510.5L332.4 510.6L328.2 510.8L324.1 511.0L319.9 511.1L315.8 511.2 Z" fill="#fbd3c4" fill-opacity="0.75"/><path d="M315.8 509.8L319.9 509.5L324.1 509.2L328.2 508.9L332.4 508.5L336.5 508.1L340.7 507.6L344.8 507.1L349.0 506.6L353.1 506.0L357.2 505.3L361.4 504.5L365.5 503.7L369.7 502.8L373.8 501.8L378.0 500.7L382.1 499.5L386.2 498.2L390.4 496.7L394.5 495.1L398.7 493.4L402.8 491.5L407.0 489.5L411.1 487.3L415.3 484.9L419.4 482.3L423.5 479.5L427.7 476.5L431.8 473.3L436.0 469.9L440.1 466.3L444.3 462.5L448.4 458.4L452.5 454.2L456.7 449.8L460.8 445.2L465.0 440.4L469.1 435.5L473.3 430.5L477.4 425.4L481.6 420.2L485.7 415.0L489.8 409.8L494.0 404.6L498.1 399.5L502.3 394.4L506.4 389.4L510.6 384.6L514.7 379.8L518.8 375.3L523.0 371.0L527.1 366.8L531.3 362.8L535.4 359.1L539.6 355.5L543.7 352.2L547.9 349.1L552.0 346.1L556.1 343.4L560.3 340.9L564.4 338.6L568.6 336.4L572.7 334.4L576.9 332.6L581.0 330.9L585.1 329.4L589.3 328.0L593.4 326.7L597.6 325.5L601.7 324.5L605.9 323.5L610.0 322.6L614.2 321.8L618.3 321.1L622.4 320.4L626.6 319.8L630.7 319.3L634.9 318.8L639.0 318.4L643.2 318.0L647.3 317.6L651.4 317.3L655.6 317.0L659.7 316.7L663.9 316.5L668.0 316.3L672.2 316.1L676.3 315.9L680.5 315.7L684.6 315.6L684.6 316.2L680.5 316.4L676.3 316.6L672.2 316.8L668.0 317.1L663.9 317.4L659.7 317.8L655.6 318.2L651.4 318.6L647.3 319.0L643.2 319.6L639.0 320.1L634.9 320.8L630.7 321.4L626.6 322.2L622.4 323.0L618.3 324.0L614.2 325.0L610.0 326.1L605.9 327.3L601.7 328.7L597.6 330.2L593.4 331.8L589.3 333.5L585.1 335.4L581.0 337.5L576.9 339.7L572.7 342.2L568.6 344.8L564.4 347.6L560.3 350.6L556.1 353.9L552.0 357.3L547.9 361.0L543.7 364.8L539.6 368.9L535.4 373.2L531.3 377.6L527.1 382.3L523.0 387.0L518.8 392.0L514.7 397.0L510.6 402.1L506.4 407.3L502.3 412.5L498.1 417.7L494.0 422.9L489.8 428.1L485.7 433.1L481.6 438.1L477.4 442.9L473.3 447.6L469.1 452.1L465.0 456.4L460.8 460.5L456.7 464.5L452.5 468.2L448.4 471.7L444.3 475.0L440.1 478.1L436.0 481.0L431.8 483.6L427.7 486.1L423.5 488.4L419.4 490.6L415.3 492.5L411.1 494.3L407.0 496.0L402.8 497.5L398.7 498.9L394.5 500.1L390.4 501.3L386.2 502.3L382.1 503.3L378.0 504.1L373.8 504.9L369.7 505.6L365.5 506.3L361.4 506.9L357.2 507.4L353.1 507.9L349.0 508.3L344.8 508.7L340.7 509.1L336.5 509.4L332.4 509.7L328.2 509.9L324.1 510.2L319.9 510.4L315.8 510.6 Z" fill="#c9d6ef" fill-opacity="0.70"/><path d="M315.8 511.8L319.9 511.8L324.1 511.7L328.2 511.7L332.4 511.6L336.5 511.5L340.7 511.4L344.8 511.3L349.0 511.2L353.1 511.1L357.2 511.0L361.4 510.8L365.5 510.7L369.7 510.5L373.8 510.3L378.0 510.1L382.1 509.9L386.2 509.6L390.4 509.3L394.5 509.0L398.7 508.6L402.8 508.2L407.0 507.7L411.1 507.2L415.3 506.7L419.4 506.1L423.5 505.4L427.7 504.7L431.8 503.9L436.0 503.0L440.1 502.0L444.3 500.9L448.4 499.7L452.5 498.4L456.7 497.0L460.8 495.5L465.0 493.8L469.1 491.9L473.3 489.9L477.4 487.7L481.6 485.4L485.7 482.8L489.8 480.1L494.0 477.1L498.1 474.0L502.3 470.6L506.4 467.0L510.6 463.3L514.7 459.3L518.8 455.1L523.0 450.7L527.1 446.1L531.3 441.4L535.4 436.5L539.6 431.5L543.7 426.4L547.9 421.3L552.0 416.1L556.1 410.9L560.3 405.7L564.4 400.5L568.6 395.4L572.7 390.4L576.9 385.5L581.0 380.8L585.1 376.2L589.3 371.8L593.4 367.6L597.6 363.6L601.7 359.8L605.9 356.2L610.0 352.8L614.2 349.7L618.3 346.7L622.4 343.9L626.6 341.4L630.7 339.0L634.9 336.8L639.0 334.8L643.2 332.9L647.3 331.2L651.4 329.7L655.6 328.2L659.7 326.9L663.9 325.7L668.0 324.7L672.2 323.7L676.3 322.8L680.5 322.0L684.6 321.2" fill="none" stroke="#b061b5" stroke-width="2.10"/><path d="M315.8 511.6L319.9 511.5L324.1 511.4L328.2 511.3L332.4 511.2L336.5 511.1L340.7 510.9L344.8 510.8L349.0 510.6L353.1 510.4L357.2 510.2L361.4 510.0L365.5 509.7L369.7 509.5L373.8 509.1L378.0 508.8L382.1 508.4L386.2 508.0L390.4 507.5L394.5 507.0L398.7 506.4L402.8 505.8L407.0 505.1L411.1 504.4L415.3 503.5L419.4 502.6L423.5 501.6L427.7 500.4L431.8 499.2L436.0 497.9L440.1 496.4L444.3 494.8L448.4 493.0L452.5 491.1L456.7 489.0L460.8 486.8L465.0 484.3L469.1 481.7L473.3 478.9L477.4 475.8L481.6 472.6L485.7 469.1L489.8 465.5L494.0 461.6L498.1 457.5L502.3 453.2L506.4 448.8L510.6 444.1L514.7 439.3L518.8 434.4L523.0 429.4L527.1 424.3L531.3 419.1L535.4 413.9L539.6 408.7L543.7 403.5L547.9 398.3L552.0 393.3L556.1 388.3L560.3 383.5L564.4 378.8L568.6 374.3L572.7 370.0L576.9 365.9L581.0 362.0L585.1 358.3L589.3 354.8L593.4 351.5L597.6 348.4L601.7 345.5L605.9 342.8L610.0 340.4L614.2 338.1L618.3 335.9L622.4 334.0L626.6 332.2L630.7 330.6L634.9 329.1L639.0 327.7L643.2 326.4L647.3 325.3L651.4 324.2L655.6 323.3L659.7 322.4L663.9 321.6L668.0 320.9L672.2 320.3L676.3 319.7L680.5 319.2L684.6 318.7" fill="none" stroke="#4aa45a" stroke-width="2.10"/><path d="M315.8 510.9L319.9 510.7L324.1 510.6L328.2 510.4L332.4 510.2L336.5 509.9L340.7 509.7L344.8 509.4L349.0 509.1L353.1 508.7L357.2 508.3L361.4 507.9L365.5 507.4L369.7 506.9L373.8 506.3L378.0 505.7L382.1 504.9L386.2 504.2L390.4 503.3L394.5 502.3L398.7 501.3L402.8 500.1L407.0 498.9L411.1 497.5L415.3 496.0L419.4 494.3L423.5 492.5L427.7 490.6L431.8 488.5L436.0 486.2L440.1 483.7L444.3 481.0L448.4 478.1L452.5 475.0L456.7 471.7L460.8 468.2L465.0 464.5L469.1 460.6L473.3 456.4L477.4 452.1L481.6 447.6L485.7 442.9L489.8 438.1L494.0 433.2L498.1 428.1L502.3 423.0L506.4 417.8L510.6 412.6L514.7 407.3L518.8 402.2L523.0 397.0L527.1 392.0L531.3 387.1L535.4 382.3L539.6 377.7L543.7 373.2L547.9 369.0L552.0 364.9L556.1 361.0L560.3 357.4L564.4 353.9L568.6 350.7L572.7 347.6L576.9 344.8L581.0 342.2L585.1 339.8L589.3 337.5L593.4 335.4L597.6 333.5L601.7 331.8L605.9 330.2L610.0 328.7L614.2 327.3L618.3 326.1L622.4 325.0L626.6 324.0L630.7 323.1L634.9 322.2L639.0 321.5L643.2 320.8L647.3 320.1L651.4 319.6L655.6 319.0L659.7 318.6L663.9 318.2L668.0 317.8L672.2 317.4L676.3 317.1L680.5 316.9L684.6 316.6" fill="none" stroke="#e8191e" stroke-width="2.10"/><path d="M315.8 510.3L319.9 510.0L324.1 509.8L328.2 509.5L332.4 509.2L336.5 508.9L340.7 508.5L344.8 508.1L349.0 507.6L353.1 507.1L357.2 506.5L361.4 505.9L365.5 505.2L369.7 504.5L373.8 503.6L378.0 502.7L382.1 501.7L386.2 500.6L390.4 499.4L394.5 498.0L398.7 496.6L402.8 495.0L407.0 493.2L411.1 491.4L415.3 489.3L419.4 487.1L423.5 484.6L427.7 482.0L431.8 479.2L436.0 476.2L440.1 473.0L444.3 469.6L448.4 466.0L452.5 462.1L456.7 458.0L460.8 453.8L465.0 449.4L469.1 444.7L473.3 440.0L477.4 435.1L481.6 430.1L485.7 424.9L489.8 419.8L494.0 414.6L498.1 409.3L502.3 404.1L506.4 399.0L510.6 393.9L514.7 389.0L518.8 384.1L523.0 379.4L527.1 374.9L531.3 370.6L535.4 366.4L539.6 362.5L543.7 358.7L547.9 355.2L552.0 351.9L556.1 348.8L560.3 345.9L564.4 343.2L568.6 340.7L572.7 338.4L576.9 336.2L581.0 334.2L585.1 332.4L589.3 330.8L593.4 329.2L597.6 327.8L601.7 326.6L605.9 325.4L610.0 324.4L614.2 323.4L618.3 322.5L622.4 321.7L626.6 321.0L630.7 320.4L634.9 319.8L639.0 319.2L643.2 318.8L647.3 318.3L651.4 317.9L655.6 317.6L659.7 317.2L663.9 317.0L668.0 316.7L672.2 316.5L676.3 316.2L680.5 316.0L684.6 315.9" fill="none" stroke="#3c7dc8" stroke-width="2.10"/><path d="M315.8 312.5H684.6V512.3H315.8ZM310.2 512.3H315.8M310.2 462.8H315.8M310.2 413.3H315.8M310.2 363.8H315.8M310.2 314.3H315.8M315.8 512.3V516.2M399.1 512.3V516.2M482.4 512.3V516.2M565.7 512.3V516.2M649.0 512.3V516.2" stroke="#707070" stroke-width="0.9" fill="none"/><text x="305.6" y="515.5" font-size="9.90" text-anchor="end" fill="#333333" stroke="#333333" stroke-width="0.12">0</text><text x="305.6" y="466.0" font-size="9.90" text-anchor="end" textLength="17.4" lengthAdjust="spacingAndGlyphs" fill="#333333" stroke="#333333" stroke-width="0.12">0.25</text><text x="305.6" y="416.5" font-size="9.90" text-anchor="end" textLength="17.4" lengthAdjust="spacingAndGlyphs" fill="#333333" stroke="#333333" stroke-width="0.12">0.50</text><text x="305.6" y="367.0" font-size="9.90" text-anchor="end" textLength="17.4" lengthAdjust="spacingAndGlyphs" fill="#333333" stroke="#333333" stroke-width="0.12">0.75</text><text x="305.6" y="317.5" font-size="9.90" text-anchor="end" textLength="17.4" lengthAdjust="spacingAndGlyphs" fill="#333333" stroke="#333333" stroke-width="0.12">1.00</text><text x="315.8" y="528.0" font-size="9.60" text-anchor="middle" fill="#333333" stroke="#333333" stroke-width="0.12">0</text><text x="399.1" y="528.0" font-size="9.60" text-anchor="middle" fill="#333333" stroke="#333333" stroke-width="0.12">1</text><text x="482.4" y="528.0" font-size="9.60" text-anchor="middle" fill="#333333" stroke="#333333" stroke-width="0.12">2</text><text x="565.7" y="528.0" font-size="9.60" text-anchor="middle" fill="#333333" stroke="#333333" stroke-width="0.12">3</text><text x="649.0" y="528.0" font-size="9.60" text-anchor="middle" fill="#333333" stroke="#333333" stroke-width="0.12">4</text><text fill="#333333" stroke="#333333" stroke-width="0.12" transform="translate(278.8,413.0) rotate(-90)" text-anchor="middle" font-size="10.3" textLength="149.3" lengthAdjust="spacingAndGlyphs">Probability of vRNA production</text><text x="451.3" y="544.1" font-size="10.00" textLength="98.6" lengthAdjust="spacingAndGlyphs" fill="#333333" stroke="#333333" stroke-width="0.12">log<tspan font-size="7" dy="3.0">10</tspan><tspan dy="-3.0">(Barcode vDNA)</tspan></text><rect x="315.8" y="312.5" width="200.6" height="64.0" fill="#fff" stroke="#707070" stroke-width="0.9"/><path d="M382.4 324.4H511.5" stroke="#555" stroke-width="0.8"/><text x="386.6" y="322.8" font-size="9.20" textLength="42.4" lengthAdjust="spacingAndGlyphs" fill="#333333" stroke="#333333" stroke-width="0.12">Odds ratio</text><text x="441.0" y="322.8" font-size="9.20" textLength="27.8" lengthAdjust="spacingAndGlyphs" fill="#333333" stroke="#333333" stroke-width="0.12">95% CI</text><text x="480.2" y="322.8" font-size="9.20" textLength="29.2" lengthAdjust="spacingAndGlyphs" fill="#333333" stroke="#333333" stroke-width="0.12"><tspan font-style="italic">P</tspan> value</text><text x="382.4" y="337.4" font-size="9.20" text-anchor="end" fill="#2f9a4e" stroke="#2f9a4e" stroke-width="0.12">Non-GI LN</text><text x="417.0" y="337.4" font-size="9.20" text-anchor="end" fill="#2f9a4e" stroke="#2f9a4e" stroke-width="0.12">1</text><text x="382.4" y="348.8" font-size="9.20" text-anchor="end" fill="#5a8ed0" stroke="#5a8ed0" stroke-width="0.12">GI tract</text><text x="417.0" y="348.8" font-size="9.20" text-anchor="end" fill="#5a8ed0" stroke="#5a8ed0" stroke-width="0.12">2.76</text><text x="474.9" y="348.8" font-size="9.20" text-anchor="end" fill="#5a8ed0" stroke="#5a8ed0" stroke-width="0.12">2.47–3.09</text><text x="486.7" y="352.4" font-size="13.50" textLength="16.0" lengthAdjust="spacingAndGlyphs" fill="#5a8ed0" stroke="#5a8ed0" stroke-width="0.12">***</text><text x="382.4" y="361.5" font-size="9.20" text-anchor="end" fill="#e8282e" stroke="#e8282e" stroke-width="0.12">GI LN</text><text x="417.0" y="361.5" font-size="9.20" text-anchor="end" fill="#e8282e" stroke="#e8282e" stroke-width="0.12">1.89</text><text x="474.9" y="361.5" font-size="9.20" text-anchor="end" fill="#e8282e" stroke="#e8282e" stroke-width="0.12">1.71–2.09</text><text x="486.7" y="365.1" font-size="13.50" textLength="16.0" lengthAdjust="spacingAndGlyphs" fill="#e8282e" stroke="#e8282e" stroke-width="0.12">***</text><text x="382.4" y="372.6" font-size="9.20" text-anchor="end" fill="#c27fc4" stroke="#c27fc4" stroke-width="0.12">Non-lymph</text><text x="417.0" y="372.6" font-size="9.20" text-anchor="end" fill="#c27fc4" stroke="#c27fc4" stroke-width="0.12">0.63</text><text x="474.9" y="372.6" font-size="9.20" text-anchor="end" fill="#c27fc4" stroke="#c27fc4" stroke-width="0.12">0.32–1.23</text><text x="494.5" y="372.6" font-size="9.20" text-anchor="middle" fill="#c27fc4" stroke="#c27fc4" stroke-width="0.12">NS</text></svg></body></html>
